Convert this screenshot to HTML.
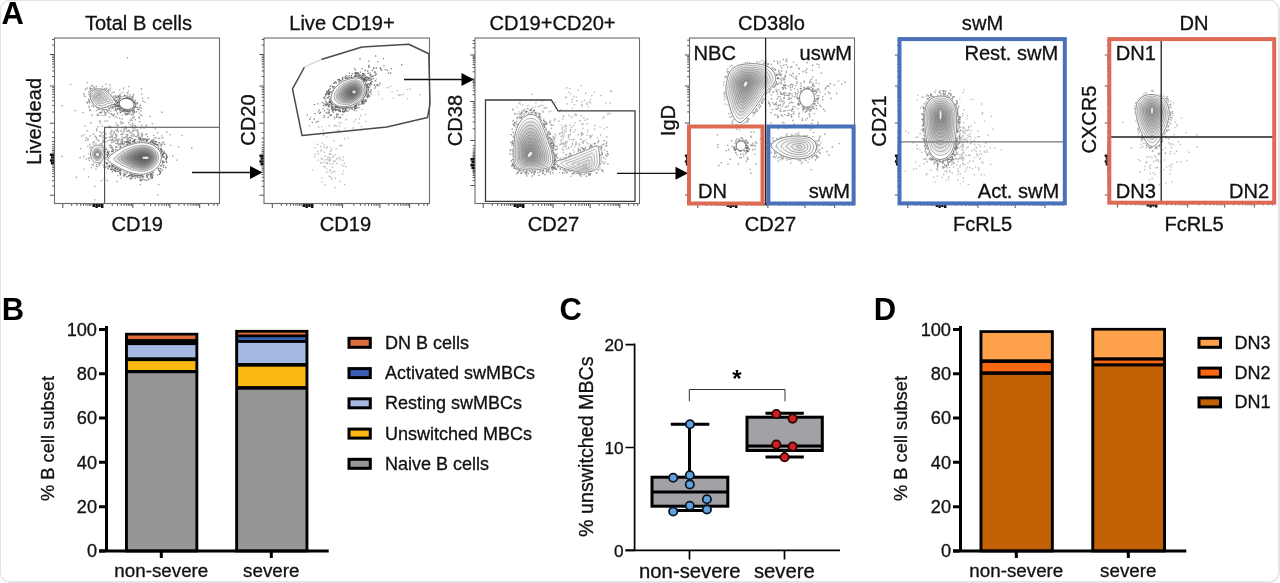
<!DOCTYPE html>
<html lang="en"><head><meta charset="utf-8"><title>B cell subsets figure</title>
<style>html,body{margin:0;padding:0;background:#fff}body{width:1280px;height:583px;overflow:hidden}svg{display:block}svg text{font-family:"Liberation Sans", sans-serif}</style></head><body>
<svg width="1280" height="583" viewBox="0 0 1280 583">
<rect width="1280" height="583" fill="#fff"/>
<rect x="0.5" y="0.5" width="1279" height="582" rx="9.5" ry="9.5" fill="#fff" stroke="#e4e4e4" stroke-width="1"/>
<rect x="0.5" y="0.5" width="1278" height="581" rx="9" ry="9" fill="none" stroke="#e4e4e4" stroke-width="1"/>
<text x="1.5" y="24.4" font-size="31" fill="#000" font-weight="bold">A</text>
<defs><filter id="bl" x="-5%" y="-5%" width="110%" height="110%"><feGaussianBlur stdDeviation="0.45"/></filter></defs>
<text x="138.5" y="30.3" font-size="20.1" fill="#111" text-anchor="middle" stroke="#111" stroke-width=".3">Total B cells</text>
<text x="137.3" y="231" font-size="20.1" fill="#111" text-anchor="middle" stroke="#111" stroke-width=".3">CD19</text>
<text x="41" y="121.5" font-size="20.1" fill="#111" text-anchor="middle" transform="rotate(-90 41 121.5)" stroke="#111" stroke-width=".3">Live/dead</text>
<path d="M54.5 54.5h-4.6M54.5 86h-4.6M54.5 123.2h-4.6M54.5 195.2h-4.6M54.5 45.1h-2.3M54.5 39.5h-2.3M54.5 76.5h-2.3M54.5 71h-2.3M54.5 67.1h-2.3M54.5 64h-2.3M54.5 61.5h-2.3M54.5 59.4h-2.3M54.5 57.6h-2.3M54.5 56h-2.3M54.5 112h-2.3M54.5 105.5h-2.3M54.5 100.8h-2.3M54.5 97.2h-2.3M54.5 94.3h-2.3M54.5 91.8h-2.3M54.5 89.6h-2.3M54.5 87.7h-2.3M54.5 132.3h-2.3M54.5 186h-2.3M54.5 137.7h-2.3M54.5 180.6h-2.3M54.5 141.5h-2.3M54.5 176.7h-2.3M54.5 144.4h-2.3M54.5 173.7h-2.3M54.5 146.8h-2.3M54.5 171.3h-2.3M54.5 148.8h-2.3M54.5 169.3h-2.3M54.5 150.6h-2.3M54.5 167.5h-2.3M54.5 152.1h-2.3M54.5 165.9h-2.3M62.8 203.5v4.6M132.9 203.5v4.6M170 203.5v4.6M199.7 203.5v4.6M208.6 203.5v2.3M213.9 203.5v2.3M217.6 203.5v2.3M71.7 203.5v2.3M112.3 203.5v2.3M76.9 203.5v2.3M117.5 203.5v2.3M80.7 203.5v2.3M121.2 203.5v2.3M83.5 203.5v2.3M124 203.5v2.3M85.9 203.5v2.3M126.4 203.5v2.3M87.9 203.5v2.3M128.3 203.5v2.3M89.6 203.5v2.3M130 203.5v2.3M91.1 203.5v2.3M131.5 203.5v2.3M144.1 203.5v2.3M150.6 203.5v2.3M155.2 203.5v2.3M158.8 203.5v2.3M161.8 203.5v2.3M164.2 203.5v2.3M166.4 203.5v2.3M168.3 203.5v2.3M178.9 203.5v2.3M184.2 203.5v2.3M187.9 203.5v2.3M190.8 203.5v2.3M193.1 203.5v2.3M195.1 203.5v2.3M196.8 203.5v2.3M198.3 203.5v2.3" fill="none" stroke="#3a3a3a" stroke-width="0.9"/>
<path d="M54.5 154.8h-4.6M54.5 157.6h-3.6M54.5 160.4h-4.6M54.5 163.2h-3.6M93.8 203.5v3.6M96.6 203.5v4.6M99.4 203.5v3.6M102.2 203.5v4.6" fill="none" stroke="#111" stroke-width="2.5"/>
<g filter="url(#bl)">
<path d="M138 158.1h1.35v1.35h-1.35zM143.1 147.4h1.35v1.35h-1.35zM133.3 159.9h1.35v1.35h-1.35zM122.9 159.7h1.35v1.35h-1.35zM130.3 178.3h1.35v1.35h-1.35zM121.1 140.7h1.35v1.35h-1.35zM139 165.8h1.35v1.35h-1.35zM160.8 155h1.35v1.35h-1.35zM129.6 155.8h1.35v1.35h-1.35zM127.5 140.1h1.35v1.35h-1.35zM146.3 150.9h1.35v1.35h-1.35zM144.1 164.2h1.35v1.35h-1.35zM139.8 155.1h1.35v1.35h-1.35zM122.2 156.9h1.35v1.35h-1.35zM137.5 152.8h1.35v1.35h-1.35zM149.8 168.7h1.35v1.35h-1.35zM115.1 155.8h1.35v1.35h-1.35zM130.2 131.8h1.35v1.35h-1.35zM105.7 148.4h1.35v1.35h-1.35zM116.1 134.3h1.35v1.35h-1.35zM106.7 120.2h1.35v1.35h-1.35zM134 150.2h1.35v1.35h-1.35zM116.5 170.7h1.35v1.35h-1.35zM142.6 156.5h1.35v1.35h-1.35zM140.7 143.1h1.35v1.35h-1.35zM134.8 145.7h1.35v1.35h-1.35zM95.2 168.4h1.35v1.35h-1.35zM128.8 157.7h1.35v1.35h-1.35zM137.2 156.5h1.35v1.35h-1.35zM139.9 155.4h1.35v1.35h-1.35zM112 156.4h1.35v1.35h-1.35zM129.9 164.9h1.35v1.35h-1.35zM121.4 162.1h1.35v1.35h-1.35zM124.2 158.4h1.35v1.35h-1.35zM156 144.5h1.35v1.35h-1.35zM124.3 161.6h1.35v1.35h-1.35zM137.4 148.5h1.35v1.35h-1.35zM153 168h1.35v1.35h-1.35zM128.1 142h1.35v1.35h-1.35zM136.1 154.5h1.35v1.35h-1.35zM139.9 155.9h1.35v1.35h-1.35zM139.1 141.4h1.35v1.35h-1.35zM117.2 174.9h1.35v1.35h-1.35zM139.3 172.1h1.35v1.35h-1.35zM161.1 150.9h1.35v1.35h-1.35zM111.7 164.5h1.35v1.35h-1.35zM152.6 160.2h1.35v1.35h-1.35zM140 127.3h1.35v1.35h-1.35zM127.1 158.8h1.35v1.35h-1.35zM172 155.3h1.35v1.35h-1.35zM151 156.9h1.35v1.35h-1.35zM117.6 144.2h1.35v1.35h-1.35zM139.3 153h1.35v1.35h-1.35zM147.8 154h1.35v1.35h-1.35zM134.8 169.1h1.35v1.35h-1.35zM149.6 159.7h1.35v1.35h-1.35zM136.9 155.9h1.35v1.35h-1.35zM149.3 172.8h1.35v1.35h-1.35zM162.5 149.9h1.35v1.35h-1.35zM126.5 151.7h1.35v1.35h-1.35zM141.5 136h1.35v1.35h-1.35zM130.1 173.3h1.35v1.35h-1.35zM140.2 166.6h1.35v1.35h-1.35zM117.8 166.1h1.35v1.35h-1.35zM128.2 163.4h1.35v1.35h-1.35zM134.7 157.2h1.35v1.35h-1.35zM153.3 158.4h1.35v1.35h-1.35zM157.5 153.2h1.35v1.35h-1.35zM115.5 153.8h1.35v1.35h-1.35zM124.5 156.6h1.35v1.35h-1.35zM149 172.6h1.35v1.35h-1.35zM104.1 162.1h1.35v1.35h-1.35zM130.1 155.4h1.35v1.35h-1.35zM136.3 149.6h1.35v1.35h-1.35zM159.4 149h1.35v1.35h-1.35zM149.7 173.6h1.35v1.35h-1.35zM132.4 161.6h1.35v1.35h-1.35zM131.7 156.7h1.35v1.35h-1.35zM133.7 152.2h1.35v1.35h-1.35zM163.9 143.8h1.35v1.35h-1.35zM130.7 155.3h1.35v1.35h-1.35zM132.8 165.6h1.35v1.35h-1.35zM144 151.7h1.35v1.35h-1.35zM135.9 153.5h1.35v1.35h-1.35zM134.6 153.6h1.35v1.35h-1.35zM119.1 157.2h1.35v1.35h-1.35zM137.8 138.5h1.35v1.35h-1.35zM130.5 153.4h1.35v1.35h-1.35zM157.8 146.6h1.35v1.35h-1.35zM149.1 165.7h1.35v1.35h-1.35zM137.6 147.5h1.35v1.35h-1.35zM149.4 162.3h1.35v1.35h-1.35zM132.2 172.8h1.35v1.35h-1.35zM155.9 152.6h1.35v1.35h-1.35zM137.9 149.4h1.35v1.35h-1.35zM147.9 158.1h1.35v1.35h-1.35zM116.1 156h1.35v1.35h-1.35zM143.9 145.1h1.35v1.35h-1.35zM109.3 161.1h1.35v1.35h-1.35zM103.4 178.2h1.35v1.35h-1.35zM132.8 153.2h1.35v1.35h-1.35zM122.7 153.8h1.35v1.35h-1.35zM140.8 144.5h1.35v1.35h-1.35zM176.2 159.5h1.35v1.35h-1.35zM123.9 142.3h1.35v1.35h-1.35zM127.4 143.8h1.35v1.35h-1.35zM141.5 170.1h1.35v1.35h-1.35zM146.4 146h1.35v1.35h-1.35zM135 167.9h1.35v1.35h-1.35zM134.5 172.8h1.35v1.35h-1.35zM149.9 158.9h1.35v1.35h-1.35zM146.8 162.1h1.35v1.35h-1.35zM120.4 177.5h1.35v1.35h-1.35zM136.7 153.8h1.35v1.35h-1.35zM138.6 149.5h1.35v1.35h-1.35zM120.1 141.1h1.35v1.35h-1.35zM142.4 156.5h1.35v1.35h-1.35zM123.4 172.3h1.35v1.35h-1.35zM154.5 166.6h1.35v1.35h-1.35zM141.3 145.6h1.35v1.35h-1.35zM139.5 146.6h1.35v1.35h-1.35zM128 150.5h1.35v1.35h-1.35zM136 159.2h1.35v1.35h-1.35zM104 153.7h1.35v1.35h-1.35zM118.8 158.4h1.35v1.35h-1.35zM144.2 159.3h1.35v1.35h-1.35zM101.8 152.7h1.35v1.35h-1.35zM152.4 155.6h1.35v1.35h-1.35zM108.3 158.3h1.35v1.35h-1.35zM150.9 155.1h1.35v1.35h-1.35zM123.6 161.5h1.35v1.35h-1.35zM151.2 176.6h1.35v1.35h-1.35zM140.2 162.5h1.35v1.35h-1.35zM111.9 156.6h1.35v1.35h-1.35zM159.2 137.5h1.35v1.35h-1.35zM162.5 160.3h1.35v1.35h-1.35zM136.9 134.6h1.35v1.35h-1.35zM133.3 140.5h1.35v1.35h-1.35zM135.3 165.4h1.35v1.35h-1.35zM121.4 163.8h1.35v1.35h-1.35zM156.7 154.4h1.35v1.35h-1.35zM128.8 137.2h1.35v1.35h-1.35zM137.1 151.9h1.35v1.35h-1.35zM124.5 148.5h1.35v1.35h-1.35zM127.4 163h1.35v1.35h-1.35zM116.3 180.8h1.35v1.35h-1.35zM159.4 158.4h1.35v1.35h-1.35zM135.4 147.4h1.35v1.35h-1.35zM154.4 143.1h1.35v1.35h-1.35zM138.2 155.4h1.35v1.35h-1.35zM126.2 154.1h1.35v1.35h-1.35zM132.4 143.3h1.35v1.35h-1.35zM128.5 157.3h1.35v1.35h-1.35zM138.1 143.3h1.35v1.35h-1.35zM131.6 168.2h1.35v1.35h-1.35zM132.9 167.7h1.35v1.35h-1.35zM114.6 167.9h1.35v1.35h-1.35zM124.3 150.8h1.35v1.35h-1.35zM166.1 161.7h1.35v1.35h-1.35zM126.6 154.5h1.35v1.35h-1.35zM120.1 151.7h1.35v1.35h-1.35zM143.7 152.3h1.35v1.35h-1.35zM161.9 141.7h1.35v1.35h-1.35zM113.3 140.1h1.35v1.35h-1.35zM134.5 164.7h1.35v1.35h-1.35zM127.3 153.9h1.35v1.35h-1.35zM108.1 158.4h1.35v1.35h-1.35zM150.5 167h1.35v1.35h-1.35zM137.6 136.9h1.35v1.35h-1.35zM139.2 147.4h1.35v1.35h-1.35zM125.2 157.9h1.35v1.35h-1.35zM145.7 160.3h1.35v1.35h-1.35zM128.8 151.9h1.35v1.35h-1.35zM135.6 167.3h1.35v1.35h-1.35zM119.2 158.3h1.35v1.35h-1.35zM117.3 142.7h1.35v1.35h-1.35zM160.7 145.8h1.35v1.35h-1.35zM129.4 164.9h1.35v1.35h-1.35zM143 161.1h1.35v1.35h-1.35zM137.4 135.1h1.35v1.35h-1.35zM130.5 170.8h1.35v1.35h-1.35zM129.4 162.6h1.35v1.35h-1.35zM148.7 170.8h1.35v1.35h-1.35zM132.9 151.8h1.35v1.35h-1.35zM135.4 152.7h1.35v1.35h-1.35zM138.4 143.6h1.35v1.35h-1.35zM158 183.9h1.35v1.35h-1.35zM149.6 154.1h1.35v1.35h-1.35zM144.5 173.5h1.35v1.35h-1.35zM128.4 148.9h1.35v1.35h-1.35zM114.5 157.8h1.35v1.35h-1.35zM154.1 137.6h1.35v1.35h-1.35zM154.4 151.8h1.35v1.35h-1.35zM135.6 166.8h1.35v1.35h-1.35zM147.2 142.2h1.35v1.35h-1.35zM151.3 167.8h1.35v1.35h-1.35zM152.1 159.7h1.35v1.35h-1.35zM153.7 144.5h1.35v1.35h-1.35zM130.3 150.5h1.35v1.35h-1.35zM163.8 151h1.35v1.35h-1.35zM116.8 155.5h1.35v1.35h-1.35zM152.6 150.1h1.35v1.35h-1.35zM146.4 146.9h1.35v1.35h-1.35zM152.9 152.6h1.35v1.35h-1.35zM169.9 144.7h1.35v1.35h-1.35zM163.2 141.8h1.35v1.35h-1.35zM118.5 155.5h1.35v1.35h-1.35zM109.3 165.7h1.35v1.35h-1.35zM151.9 139.2h1.35v1.35h-1.35zM120.7 156h1.35v1.35h-1.35zM137.8 148.9h1.35v1.35h-1.35zM152.3 145.3h1.35v1.35h-1.35zM110.1 165.4h1.35v1.35h-1.35zM102.1 150.3h1.35v1.35h-1.35zM142.4 172.5h1.35v1.35h-1.35zM138.8 147.4h1.35v1.35h-1.35zM133.8 160.3h1.35v1.35h-1.35zM138.7 153.5h1.35v1.35h-1.35zM123.4 147.7h1.35v1.35h-1.35zM112.3 162.5h1.35v1.35h-1.35zM135.2 154.3h1.35v1.35h-1.35zM121.5 162.6h1.35v1.35h-1.35zM110.1 155.5h1.35v1.35h-1.35zM146.6 144.1h1.35v1.35h-1.35zM137 154.9h1.35v1.35h-1.35zM144.9 156.6h1.35v1.35h-1.35zM121.2 166.5h1.35v1.35h-1.35zM126.8 146h1.35v1.35h-1.35zM121 155.6h1.35v1.35h-1.35zM122.9 137.1h1.35v1.35h-1.35zM139.1 137.2h1.35v1.35h-1.35zM109.6 144.6h1.35v1.35h-1.35zM97.3 126.2h1.35v1.35h-1.35zM127 130.7h1.35v1.35h-1.35zM146.8 136h1.35v1.35h-1.35zM102.1 159.3h1.35v1.35h-1.35zM109.5 146.6h1.35v1.35h-1.35zM115.4 138.1h1.35v1.35h-1.35zM108.8 144.7h1.35v1.35h-1.35zM134.5 155.5h1.35v1.35h-1.35zM114.3 137.1h1.35v1.35h-1.35zM115.7 136.1h1.35v1.35h-1.35zM137.9 148.7h1.35v1.35h-1.35zM115.2 143h1.35v1.35h-1.35zM135.4 144.4h1.35v1.35h-1.35zM111.5 134.9h1.35v1.35h-1.35zM107.4 154.4h1.35v1.35h-1.35zM96.8 152.7h1.35v1.35h-1.35zM159.6 143.5h1.35v1.35h-1.35zM122.6 144.5h1.35v1.35h-1.35zM132.1 122.8h1.35v1.35h-1.35zM127.5 144.1h1.35v1.35h-1.35zM130.7 137.4h1.35v1.35h-1.35zM128.8 142.5h1.35v1.35h-1.35zM160.4 144.5h1.35v1.35h-1.35zM110.3 136.3h1.35v1.35h-1.35zM101.5 125.5h1.35v1.35h-1.35zM110.8 141.9h1.35v1.35h-1.35zM105.3 133.1h1.35v1.35h-1.35zM140.7 136.4h1.35v1.35h-1.35zM141.9 134.2h1.35v1.35h-1.35zM111.7 136.3h1.35v1.35h-1.35zM104.4 120.5h1.35v1.35h-1.35zM122 148.7h1.35v1.35h-1.35zM151.6 141h1.35v1.35h-1.35zM80.1 147.9h1.35v1.35h-1.35zM137 154.8h1.35v1.35h-1.35zM109.7 139.2h1.35v1.35h-1.35zM145.7 124.6h1.35v1.35h-1.35zM109.7 131.8h1.35v1.35h-1.35zM123.1 129.3h1.35v1.35h-1.35zM102.4 135h1.35v1.35h-1.35zM111.4 139.6h1.35v1.35h-1.35zM151.6 123h1.35v1.35h-1.35zM141.9 141.7h1.35v1.35h-1.35zM121.2 126.9h1.35v1.35h-1.35zM113.2 141.4h1.35v1.35h-1.35zM95.8 138.1h1.35v1.35h-1.35zM121.3 136.5h1.35v1.35h-1.35zM127.5 138.4h1.35v1.35h-1.35zM126.6 134.7h1.35v1.35h-1.35zM126.4 134.1h1.35v1.35h-1.35zM108.9 125.5h1.35v1.35h-1.35zM126.9 138.8h1.35v1.35h-1.35zM127.3 153.8h1.35v1.35h-1.35zM149.9 154.8h1.35v1.35h-1.35zM159.7 149.6h1.35v1.35h-1.35zM125.7 144.6h1.35v1.35h-1.35zM115 133.6h1.35v1.35h-1.35zM126.9 150.5h1.35v1.35h-1.35zM117.7 138.6h1.35v1.35h-1.35zM115.4 138.4h1.35v1.35h-1.35zM127 136.7h1.35v1.35h-1.35zM110.3 139.7h1.35v1.35h-1.35zM138.3 135.5h1.35v1.35h-1.35zM126.2 138.3h1.35v1.35h-1.35zM132.3 130.3h1.35v1.35h-1.35zM124.9 136h1.35v1.35h-1.35zM115.6 157.2h1.35v1.35h-1.35zM111.9 138.4h1.35v1.35h-1.35zM124 137.1h1.35v1.35h-1.35zM118.7 143.3h1.35v1.35h-1.35zM132 144.7h1.35v1.35h-1.35zM127.9 130.1h1.35v1.35h-1.35zM104.8 137.3h1.35v1.35h-1.35zM129.1 146.3h1.35v1.35h-1.35zM105.2 141.2h1.35v1.35h-1.35zM117.5 140h1.35v1.35h-1.35zM123 151.4h1.35v1.35h-1.35zM92.7 133.6h1.35v1.35h-1.35zM129.6 139.7h1.35v1.35h-1.35zM130.6 134.8h1.35v1.35h-1.35zM125.3 150.9h1.35v1.35h-1.35zM120.8 123.4h1.35v1.35h-1.35zM121.6 133.6h1.35v1.35h-1.35zM111.4 134.8h1.35v1.35h-1.35zM123.4 144.3h1.35v1.35h-1.35zM118.6 143.9h1.35v1.35h-1.35zM129.6 150.2h1.35v1.35h-1.35zM107.5 126.4h1.35v1.35h-1.35zM132 145h1.35v1.35h-1.35zM130.4 136.7h1.35v1.35h-1.35zM125.6 133.7h1.35v1.35h-1.35zM120.5 143.3h1.35v1.35h-1.35zM137.4 131.6h1.35v1.35h-1.35zM99.7 122.4h1.35v1.35h-1.35zM135.8 136h1.35v1.35h-1.35zM132.1 127h1.35v1.35h-1.35zM132.8 133.8h1.35v1.35h-1.35zM134.5 142h1.35v1.35h-1.35zM116.9 141.5h1.35v1.35h-1.35zM123.6 151.7h1.35v1.35h-1.35zM138.8 137.4h1.35v1.35h-1.35zM135.3 126.7h1.35v1.35h-1.35zM131.5 133h1.35v1.35h-1.35zM102.3 131.6h1.35v1.35h-1.35zM137.1 129.3h1.35v1.35h-1.35zM147.9 142.5h1.35v1.35h-1.35zM145.2 133.8h1.35v1.35h-1.35zM132 123.2h1.35v1.35h-1.35zM101.5 144.6h1.35v1.35h-1.35zM144 138.1h1.35v1.35h-1.35zM125.5 141.9h1.35v1.35h-1.35zM84.9 139.8h1.35v1.35h-1.35zM134.4 144.1h1.35v1.35h-1.35zM102.6 139.3h1.35v1.35h-1.35zM106 148.9h1.35v1.35h-1.35zM117.2 142.4h1.35v1.35h-1.35zM149.6 142.1h1.35v1.35h-1.35zM121.7 142.3h1.35v1.35h-1.35zM132.6 127.3h1.35v1.35h-1.35zM157.7 137.7h1.35v1.35h-1.35zM155.1 136.9h1.35v1.35h-1.35zM126.2 140.7h1.35v1.35h-1.35zM123.9 128.1h1.35v1.35h-1.35zM106.6 152.1h1.35v1.35h-1.35zM116.2 139.8h1.35v1.35h-1.35zM135.2 129.3h1.35v1.35h-1.35zM134.7 125.3h1.35v1.35h-1.35zM129.9 136.7h1.35v1.35h-1.35zM144.9 138.3h1.35v1.35h-1.35zM114.9 133.3h1.35v1.35h-1.35zM127 139.7h1.35v1.35h-1.35zM140.4 133.9h1.35v1.35h-1.35zM137.9 143.4h1.35v1.35h-1.35zM146.2 133.2h1.35v1.35h-1.35zM134.7 138.7h1.35v1.35h-1.35zM122.7 146.8h1.35v1.35h-1.35zM134.2 159.6h1.35v1.35h-1.35zM111 130.9h1.35v1.35h-1.35zM100.1 135.3h1.35v1.35h-1.35zM137.9 132.3h1.35v1.35h-1.35zM127.1 145.3h1.35v1.35h-1.35zM133.2 129.8h1.35v1.35h-1.35zM99.1 135.1h1.35v1.35h-1.35zM121.8 138.8h1.35v1.35h-1.35zM117.8 131.2h1.35v1.35h-1.35zM113.3 131.3h1.35v1.35h-1.35zM89.7 135.2h1.35v1.35h-1.35zM122.3 122.2h1.35v1.35h-1.35zM143.3 127.4h1.35v1.35h-1.35zM134.5 135.7h1.35v1.35h-1.35zM117.8 140.2h1.35v1.35h-1.35zM127.7 137.5h1.35v1.35h-1.35zM140.9 124.8h1.35v1.35h-1.35zM81.1 135.3h1.35v1.35h-1.35zM125.9 145.4h1.35v1.35h-1.35zM137.2 143.4h1.35v1.35h-1.35zM139.6 138.4h1.35v1.35h-1.35zM156.9 131.9h1.35v1.35h-1.35zM147.3 144h1.35v1.35h-1.35zM133.3 134.4h1.35v1.35h-1.35zM133.1 129.6h1.35v1.35h-1.35zM141.4 132.6h1.35v1.35h-1.35zM118.8 150.6h1.35v1.35h-1.35zM127.3 140.8h1.35v1.35h-1.35zM143.4 148.3h1.35v1.35h-1.35zM161.3 135.2h1.35v1.35h-1.35zM125.3 146.5h1.35v1.35h-1.35zM127.2 134.2h1.35v1.35h-1.35zM131.4 137.7h1.35v1.35h-1.35zM150.8 158.9h1.35v1.35h-1.35zM127.5 145.1h1.35v1.35h-1.35zM153 135h1.35v1.35h-1.35zM111.6 138.3h1.35v1.35h-1.35zM124.8 141.6h1.35v1.35h-1.35zM124.6 148.7h1.35v1.35h-1.35zM141.4 135.1h1.35v1.35h-1.35zM145.8 125.1h1.35v1.35h-1.35zM102.3 136.8h1.35v1.35h-1.35zM112.4 139.1h1.35v1.35h-1.35zM133.7 139.9h1.35v1.35h-1.35zM116.8 149.5h1.35v1.35h-1.35zM102.1 141.5h1.35v1.35h-1.35zM145.7 145.5h1.35v1.35h-1.35zM136.4 130.2h1.35v1.35h-1.35zM136.4 145.9h1.35v1.35h-1.35zM119.9 155.8h1.35v1.35h-1.35zM145.5 145.2h1.35v1.35h-1.35zM123.9 141h1.35v1.35h-1.35zM146.6 140.2h1.35v1.35h-1.35zM112.5 153.3h1.35v1.35h-1.35zM113.5 131.6h1.35v1.35h-1.35zM131.5 138.1h1.35v1.35h-1.35zM116.1 142.7h1.35v1.35h-1.35zM139.5 145h1.35v1.35h-1.35zM132.4 135.5h1.35v1.35h-1.35zM112.3 141.5h1.35v1.35h-1.35zM129.2 136.8h1.35v1.35h-1.35zM122 140h1.35v1.35h-1.35zM143.6 137.9h1.35v1.35h-1.35zM117.2 129.9h1.35v1.35h-1.35zM120.5 138.8h1.35v1.35h-1.35zM148.6 146h1.35v1.35h-1.35zM166.1 131.3h1.35v1.35h-1.35zM162 137.1h1.35v1.35h-1.35zM129.1 144.3h1.35v1.35h-1.35zM131.7 130.4h1.35v1.35h-1.35zM154.1 140.5h1.35v1.35h-1.35zM125.9 130.5h1.35v1.35h-1.35zM111.4 148.1h1.35v1.35h-1.35zM130 157.5h1.35v1.35h-1.35zM135.7 155.2h1.35v1.35h-1.35zM113.9 137.2h1.35v1.35h-1.35zM100 144.9h1.35v1.35h-1.35zM103.6 140h1.35v1.35h-1.35zM139.3 139.8h1.35v1.35h-1.35zM115.1 151.4h1.35v1.35h-1.35zM125.6 128.4h1.35v1.35h-1.35zM131.6 147.4h1.35v1.35h-1.35zM138.5 138.6h1.35v1.35h-1.35zM122.3 150.3h1.35v1.35h-1.35zM136.5 140.5h1.35v1.35h-1.35zM112.9 133.6h1.35v1.35h-1.35zM121.9 141.2h1.35v1.35h-1.35zM110.6 144.9h1.35v1.35h-1.35zM147.2 139.3h1.35v1.35h-1.35zM127.5 142.9h1.35v1.35h-1.35zM115.4 134.8h1.35v1.35h-1.35zM122 121.9h1.35v1.35h-1.35zM129.7 105.2h1.35v1.35h-1.35zM127.1 106h1.35v1.35h-1.35zM119.9 95.8h1.35v1.35h-1.35zM118.9 98.2h1.35v1.35h-1.35zM131.5 111.1h1.35v1.35h-1.35zM112.1 107.1h1.35v1.35h-1.35zM108.8 97.9h1.35v1.35h-1.35zM115.5 122.4h1.35v1.35h-1.35zM133.5 124.8h1.35v1.35h-1.35zM100 90.8h1.35v1.35h-1.35zM133.5 106.7h1.35v1.35h-1.35zM109.7 126.6h1.35v1.35h-1.35zM103.7 111.1h1.35v1.35h-1.35zM134.4 106h1.35v1.35h-1.35zM116.7 102.1h1.35v1.35h-1.35zM101.1 99.1h1.35v1.35h-1.35zM113.3 102.1h1.35v1.35h-1.35zM130.1 99h1.35v1.35h-1.35zM133.5 110.7h1.35v1.35h-1.35zM112.4 100.4h1.35v1.35h-1.35zM123.3 100h1.35v1.35h-1.35zM127.3 93.2h1.35v1.35h-1.35zM109.6 103.6h1.35v1.35h-1.35zM122.6 96h1.35v1.35h-1.35zM117.6 102.4h1.35v1.35h-1.35zM111 113.4h1.35v1.35h-1.35zM111.6 107.3h1.35v1.35h-1.35zM118.9 108.5h1.35v1.35h-1.35zM118.4 107.2h1.35v1.35h-1.35zM110.6 104.5h1.35v1.35h-1.35zM112.5 102.9h1.35v1.35h-1.35zM132.5 101.2h1.35v1.35h-1.35zM120.8 110.8h1.35v1.35h-1.35zM129.5 94.2h1.35v1.35h-1.35zM133.6 116.1h1.35v1.35h-1.35zM125.7 104.3h1.35v1.35h-1.35zM147.5 97.3h1.35v1.35h-1.35zM107.3 99.6h1.35v1.35h-1.35zM128.5 97.9h1.35v1.35h-1.35zM113.9 105.4h1.35v1.35h-1.35zM142.1 97.5h1.35v1.35h-1.35zM140.1 114.3h1.35v1.35h-1.35zM92.6 97h1.35v1.35h-1.35zM105.4 83.5h1.35v1.35h-1.35zM126.6 97.4h1.35v1.35h-1.35zM128.3 85.9h1.35v1.35h-1.35zM127.6 103.6h1.35v1.35h-1.35zM117.1 113.5h1.35v1.35h-1.35zM123.9 109.8h1.35v1.35h-1.35zM126.5 92h1.35v1.35h-1.35zM117 97.1h1.35v1.35h-1.35zM131.4 120h1.35v1.35h-1.35zM88.6 106.9h1.35v1.35h-1.35zM126.2 104h1.35v1.35h-1.35zM104.6 113.5h1.35v1.35h-1.35zM130.5 126.1h1.35v1.35h-1.35zM115 115.7h1.35v1.35h-1.35zM106.4 105.3h1.35v1.35h-1.35zM122.9 107.2h1.35v1.35h-1.35zM106.2 109.6h1.35v1.35h-1.35zM106.1 98.5h1.35v1.35h-1.35zM97.6 94.5h1.35v1.35h-1.35zM117.7 104.5h1.35v1.35h-1.35zM124.5 95.5h1.35v1.35h-1.35zM131.3 103.4h1.35v1.35h-1.35zM116.2 104.9h1.35v1.35h-1.35zM131.6 125.1h1.35v1.35h-1.35zM118.2 96.3h1.35v1.35h-1.35zM116.8 102.9h1.35v1.35h-1.35zM125.5 102.5h1.35v1.35h-1.35zM131.8 107.9h1.35v1.35h-1.35zM113.6 113.4h1.35v1.35h-1.35zM114.8 99.6h1.35v1.35h-1.35zM115.9 96.6h1.35v1.35h-1.35zM119.1 89.2h1.35v1.35h-1.35zM106.3 95.7h1.35v1.35h-1.35zM131.4 108.8h1.35v1.35h-1.35zM112.8 104.4h1.35v1.35h-1.35zM124 94.9h1.35v1.35h-1.35zM107.3 100.6h1.35v1.35h-1.35zM122.7 104.3h1.35v1.35h-1.35zM123.1 108.5h1.35v1.35h-1.35zM112.5 98.7h1.35v1.35h-1.35zM144.3 101.7h1.35v1.35h-1.35zM122.8 87.6h1.35v1.35h-1.35zM141.1 93.6h1.35v1.35h-1.35zM130.5 118.6h1.35v1.35h-1.35zM109.4 84.3h1.35v1.35h-1.35zM113 101h1.35v1.35h-1.35zM123.7 106h1.35v1.35h-1.35zM118.8 100.6h1.35v1.35h-1.35zM118.6 96.7h1.35v1.35h-1.35zM114.3 103.5h1.35v1.35h-1.35zM94.5 104h1.35v1.35h-1.35zM115.1 103.3h1.35v1.35h-1.35zM89.2 87.1h1.35v1.35h-1.35zM122.8 102.7h1.35v1.35h-1.35zM108.6 96.3h1.35v1.35h-1.35zM108.7 99.1h1.35v1.35h-1.35zM115.1 106h1.35v1.35h-1.35zM121.5 109.8h1.35v1.35h-1.35zM99.4 112.1h1.35v1.35h-1.35zM95.3 99.5h1.35v1.35h-1.35zM104.1 112.3h1.35v1.35h-1.35zM91.5 114.6h1.35v1.35h-1.35zM105.4 114.2h1.35v1.35h-1.35zM138.7 116.5h1.35v1.35h-1.35zM104.3 102.7h1.35v1.35h-1.35zM126.5 102.4h1.35v1.35h-1.35zM100.2 111.4h1.35v1.35h-1.35zM121.9 91.7h1.35v1.35h-1.35zM113.8 105.9h1.35v1.35h-1.35zM117.2 99.2h1.35v1.35h-1.35zM125.4 100.7h1.35v1.35h-1.35zM140.8 88.3h1.35v1.35h-1.35zM120.5 96h1.35v1.35h-1.35zM119.6 103.8h1.35v1.35h-1.35zM105.3 112h1.35v1.35h-1.35zM125.6 112.9h1.35v1.35h-1.35zM114.8 103.3h1.35v1.35h-1.35zM128.8 102.3h1.35v1.35h-1.35zM117.4 96.5h1.35v1.35h-1.35zM140.6 107.6h1.35v1.35h-1.35zM92.2 101.8h1.35v1.35h-1.35zM114.1 109.5h1.35v1.35h-1.35zM129.5 119.8h1.35v1.35h-1.35zM113.4 103.7h1.35v1.35h-1.35zM107.7 90.5h1.35v1.35h-1.35zM114.5 96.3h1.35v1.35h-1.35zM100.1 90.9h1.35v1.35h-1.35zM119.5 93.2h1.35v1.35h-1.35zM149.7 115.7h1.35v1.35h-1.35zM132.9 106h1.35v1.35h-1.35zM103.6 90.3h1.35v1.35h-1.35zM106.6 109.9h1.35v1.35h-1.35zM112.7 115.3h1.35v1.35h-1.35zM131.1 100.8h1.35v1.35h-1.35zM107.3 97.9h1.35v1.35h-1.35zM109 101h1.35v1.35h-1.35zM129.5 106.6h1.35v1.35h-1.35zM129.2 109.8h1.35v1.35h-1.35zM113.1 114.6h1.35v1.35h-1.35zM103.5 114.9h1.35v1.35h-1.35zM97.9 114.7h1.35v1.35h-1.35zM108.9 116.3h1.35v1.35h-1.35zM89 110h1.35v1.35h-1.35zM127.7 90.2h1.35v1.35h-1.35zM109.8 102.8h1.35v1.35h-1.35zM124.3 106.8h1.35v1.35h-1.35zM142.3 100.6h1.35v1.35h-1.35zM133.2 112.2h1.35v1.35h-1.35zM103 100.8h1.35v1.35h-1.35zM129.3 95.7h1.35v1.35h-1.35zM133.1 117h1.35v1.35h-1.35zM108.3 110h1.35v1.35h-1.35zM105.6 106h1.35v1.35h-1.35zM116.6 112.3h1.35v1.35h-1.35zM97.2 113.6h1.35v1.35h-1.35zM137.1 107.1h1.35v1.35h-1.35zM86.7 81.9h1.35v1.35h-1.35zM103.6 97.9h1.35v1.35h-1.35zM114.5 99.9h1.35v1.35h-1.35zM115 95.1h1.35v1.35h-1.35zM120.2 105.8h1.35v1.35h-1.35zM121.5 114.7h1.35v1.35h-1.35zM115.2 99.6h1.35v1.35h-1.35zM132.8 93.8h1.35v1.35h-1.35zM90.2 122.3h1.35v1.35h-1.35zM118 99.9h1.35v1.35h-1.35zM108.7 92.9h1.35v1.35h-1.35zM121.1 151h1.35v1.35h-1.35zM123.5 131.2h1.35v1.35h-1.35zM108.8 136.6h1.35v1.35h-1.35zM128.3 129.4h1.35v1.35h-1.35zM111.7 114.1h1.35v1.35h-1.35zM106 137.4h1.35v1.35h-1.35zM120.3 111.7h1.35v1.35h-1.35zM128 121.9h1.35v1.35h-1.35zM109.8 126.8h1.35v1.35h-1.35zM122.3 132.8h1.35v1.35h-1.35zM116.8 128.2h1.35v1.35h-1.35zM154.7 127.9h1.35v1.35h-1.35zM108.8 116.4h1.35v1.35h-1.35zM136 111.1h1.35v1.35h-1.35zM117.3 124.6h1.35v1.35h-1.35zM116.4 116.9h1.35v1.35h-1.35zM127.4 110.9h1.35v1.35h-1.35zM129.6 111.3h1.35v1.35h-1.35zM134.5 119.1h1.35v1.35h-1.35zM122.3 105.5h1.35v1.35h-1.35zM110.2 110.5h1.35v1.35h-1.35zM111 107.6h1.35v1.35h-1.35zM124.6 125.8h1.35v1.35h-1.35zM125.6 128.1h1.35v1.35h-1.35zM136.2 144.1h1.35v1.35h-1.35zM123.4 109h1.35v1.35h-1.35zM131.8 117.2h1.35v1.35h-1.35zM137.7 133.1h1.35v1.35h-1.35zM120.1 121.8h1.35v1.35h-1.35zM98.7 120.7h1.35v1.35h-1.35zM102.7 141.1h1.35v1.35h-1.35zM99.3 120.6h1.35v1.35h-1.35zM138.7 112.4h1.35v1.35h-1.35zM107 110.8h1.35v1.35h-1.35zM134 127.4h1.35v1.35h-1.35zM125.6 127.1h1.35v1.35h-1.35zM140.3 110.3h1.35v1.35h-1.35zM131 114.1h1.35v1.35h-1.35zM116.7 129.3h1.35v1.35h-1.35zM115.4 129.8h1.35v1.35h-1.35zM119.1 117.6h1.35v1.35h-1.35zM120.3 130.2h1.35v1.35h-1.35zM111.1 129.7h1.35v1.35h-1.35zM117.6 106.2h1.35v1.35h-1.35zM138.9 120.9h1.35v1.35h-1.35zM95.9 128.2h1.35v1.35h-1.35zM121.4 118.3h1.35v1.35h-1.35zM106.2 102.6h1.35v1.35h-1.35zM120.4 121.2h1.35v1.35h-1.35zM128.9 131.5h1.35v1.35h-1.35zM117.3 139.8h1.35v1.35h-1.35zM128 102.1h1.35v1.35h-1.35zM97.3 150.1h1.35v1.35h-1.35zM132.4 112.7h1.35v1.35h-1.35zM110.2 133.6h1.35v1.35h-1.35zM126.1 136.3h1.35v1.35h-1.35zM120.4 133.8h1.35v1.35h-1.35zM84.4 125.5h1.35v1.35h-1.35zM108.2 112.4h1.35v1.35h-1.35zM120.9 130.3h1.35v1.35h-1.35zM138.2 116.8h1.35v1.35h-1.35zM121.7 98.8h1.35v1.35h-1.35zM121.4 152.3h1.35v1.35h-1.35zM99.6 131.1h1.35v1.35h-1.35zM136.6 142.2h1.35v1.35h-1.35zM141.5 114.9h1.35v1.35h-1.35zM118.4 138.7h1.35v1.35h-1.35zM115.1 139.9h1.35v1.35h-1.35zM97 139.5h1.35v1.35h-1.35zM129.5 123.8h1.35v1.35h-1.35zM87.4 138.2h1.35v1.35h-1.35zM95.6 136.7h1.35v1.35h-1.35zM79.4 157h1.35v1.35h-1.35zM83.4 168.5h1.35v1.35h-1.35zM97.7 158.2h1.35v1.35h-1.35zM89.1 143.8h1.35v1.35h-1.35zM95.7 165.6h1.35v1.35h-1.35zM96.1 129.8h1.35v1.35h-1.35zM112.4 166h1.35v1.35h-1.35zM107.4 140.1h1.35v1.35h-1.35zM96.6 114.6h1.35v1.35h-1.35zM106.7 179.8h1.35v1.35h-1.35zM90.8 166.9h1.35v1.35h-1.35zM94.3 135.6h1.35v1.35h-1.35zM104.3 150h1.35v1.35h-1.35zM87.1 145.4h1.35v1.35h-1.35zM94.8 149.2h1.35v1.35h-1.35zM86.4 130.2h1.35v1.35h-1.35zM97.9 139.8h1.35v1.35h-1.35zM110.1 153.6h1.35v1.35h-1.35zM91 150.7h1.35v1.35h-1.35zM98.8 162.4h1.35v1.35h-1.35zM89.8 149h1.35v1.35h-1.35zM87.8 176.2h1.35v1.35h-1.35zM87.1 139.4h1.35v1.35h-1.35zM108.6 151.1h1.35v1.35h-1.35zM115.9 125h1.35v1.35h-1.35zM100.9 133h1.35v1.35h-1.35zM91.3 163.9h1.35v1.35h-1.35zM102.6 136.7h1.35v1.35h-1.35zM94.3 154.4h1.35v1.35h-1.35zM103.4 147.3h1.35v1.35h-1.35zM99.3 135.5h1.35v1.35h-1.35zM99.2 143.8h1.35v1.35h-1.35zM101.9 141.8h1.35v1.35h-1.35zM92.4 142.2h1.35v1.35h-1.35zM93.8 157h1.35v1.35h-1.35zM83.2 155.8h1.35v1.35h-1.35zM93.5 141.1h1.35v1.35h-1.35zM85.6 137.1h1.35v1.35h-1.35zM95.8 151.4h1.35v1.35h-1.35zM89.3 146.8h1.35v1.35h-1.35zM97.8 160.3h1.35v1.35h-1.35zM100.6 179.9h1.35v1.35h-1.35zM85.6 158.1h1.35v1.35h-1.35zM108.6 164.8h1.35v1.35h-1.35zM103.1 89.8h1.35v1.35h-1.35zM75.7 176.6h1.35v1.35h-1.35zM69.9 83.7h1.35v1.35h-1.35zM94.2 185.7h1.35v1.35h-1.35zM92.9 163.2h1.35v1.35h-1.35zM139.7 146h1.35v1.35h-1.35zM94 199.2h1.35v1.35h-1.35zM102.1 107.5h1.35v1.35h-1.35zM61.3 155.8h1.35v1.35h-1.35zM130.3 142.9h1.35v1.35h-1.35zM181.6 135h1.35v1.35h-1.35zM141.9 154.1h1.35v1.35h-1.35zM169.6 134h1.35v1.35h-1.35zM138.7 117.4h1.35v1.35h-1.35zM61.1 105h1.35v1.35h-1.35zM157.1 174.1h1.35v1.35h-1.35zM177.9 146.2h1.35v1.35h-1.35zM126.8 57.1h1.35v1.35h-1.35zM140.6 149.8h1.35v1.35h-1.35zM161.2 111.6h1.35v1.35h-1.35zM83.2 134h1.35v1.35h-1.35zM74.5 109.8h1.35v1.35h-1.35zM82.4 111.9h1.35v1.35h-1.35zM104.1 154.2h1.35v1.35h-1.35zM128.5 161.6h1.35v1.35h-1.35zM191.1 147.6h1.35v1.35h-1.35zM157.3 194.2h1.35v1.35h-1.35zM139.7 183.9h1.35v1.35h-1.35zM95.3 150h1.35v1.35h-1.35zM106.3 151.8h1.35v1.35h-1.35zM132.4 146h1.35v1.35h-1.35z" fill="#666" fill-opacity="0.62"/>
<path d="M121 147.1h1.35v1.35h-1.35zM144.5 141.4h1.35v1.35h-1.35zM161.2 150.4h1.35v1.35h-1.35zM145.9 140.3h1.35v1.35h-1.35zM166.5 156.1h1.35v1.35h-1.35zM165.5 159.1h1.35v1.35h-1.35zM134.5 177.7h1.35v1.35h-1.35zM147.2 174h1.35v1.35h-1.35zM145.9 174.6h1.35v1.35h-1.35zM119.5 149h1.35v1.35h-1.35zM151.5 176.2h1.35v1.35h-1.35zM115.4 146.3h1.35v1.35h-1.35zM107.3 157.1h1.35v1.35h-1.35zM163.1 151.9h1.35v1.35h-1.35zM149.7 141.6h1.35v1.35h-1.35zM146.8 177h1.35v1.35h-1.35zM138.9 174.5h1.35v1.35h-1.35zM110.9 164.2h1.35v1.35h-1.35zM161 148.7h1.35v1.35h-1.35zM135.1 142.3h1.35v1.35h-1.35zM133.6 173.6h1.35v1.35h-1.35zM159.9 150.7h1.35v1.35h-1.35zM106.6 163.2h1.35v1.35h-1.35zM152.6 139.5h1.35v1.35h-1.35zM114.3 166.9h1.35v1.35h-1.35zM151.8 141.3h1.35v1.35h-1.35zM131.4 175.9h1.35v1.35h-1.35zM105.2 156.9h1.35v1.35h-1.35zM142.9 175.8h1.35v1.35h-1.35zM125.1 171.5h1.35v1.35h-1.35zM144.1 142h1.35v1.35h-1.35zM106.7 154h1.35v1.35h-1.35zM123.7 146.5h1.35v1.35h-1.35zM144.2 178.9h1.35v1.35h-1.35zM127.8 141.2h1.35v1.35h-1.35zM134.1 141.3h1.35v1.35h-1.35zM166.3 156.7h1.35v1.35h-1.35zM162.9 152.6h1.35v1.35h-1.35zM160.3 151h1.35v1.35h-1.35zM141.9 141.9h1.35v1.35h-1.35zM134.6 174.2h1.35v1.35h-1.35zM161.8 160.8h1.35v1.35h-1.35zM152.8 141.6h1.35v1.35h-1.35zM106.2 162h1.35v1.35h-1.35zM160.6 150.9h1.35v1.35h-1.35zM112.9 165h1.35v1.35h-1.35zM147.7 174.2h1.35v1.35h-1.35zM108.7 165.1h1.35v1.35h-1.35zM117.9 149.8h1.35v1.35h-1.35zM161.2 143.5h1.35v1.35h-1.35zM116.5 167.2h1.35v1.35h-1.35zM108.8 156.5h1.35v1.35h-1.35zM112.4 165.3h1.35v1.35h-1.35zM126.6 144h1.35v1.35h-1.35zM111 150.5h1.35v1.35h-1.35zM154.5 141.1h1.35v1.35h-1.35zM148.5 138.2h1.35v1.35h-1.35zM158.9 173.4h1.35v1.35h-1.35zM112.4 164.4h1.35v1.35h-1.35zM120 169h1.35v1.35h-1.35zM165.3 166.8h1.35v1.35h-1.35zM147.5 142.9h1.35v1.35h-1.35zM149.9 143.1h1.35v1.35h-1.35zM160.7 152.1h1.35v1.35h-1.35zM143.5 142.3h1.35v1.35h-1.35zM113.8 165.4h1.35v1.35h-1.35zM159.1 170.7h1.35v1.35h-1.35zM142.2 141.9h1.35v1.35h-1.35zM142 137.9h1.35v1.35h-1.35zM114.6 169.4h1.35v1.35h-1.35zM162.8 156.5h1.35v1.35h-1.35zM106 163.2h1.35v1.35h-1.35zM106.5 166h1.35v1.35h-1.35zM116.1 146.3h1.35v1.35h-1.35zM119.4 171.9h1.35v1.35h-1.35zM106.8 163.2h1.35v1.35h-1.35zM127.1 144.2h1.35v1.35h-1.35zM141.6 174.6h1.35v1.35h-1.35zM111.8 164.8h1.35v1.35h-1.35zM123.3 173.8h1.35v1.35h-1.35zM146.7 138.8h1.35v1.35h-1.35zM154.3 141.2h1.35v1.35h-1.35zM162.6 153.6h1.35v1.35h-1.35zM136 174.9h1.35v1.35h-1.35zM163.4 161.7h1.35v1.35h-1.35zM111.4 147h1.35v1.35h-1.35zM106.7 155.2h1.35v1.35h-1.35zM119.4 147.6h1.35v1.35h-1.35zM141.7 176.4h1.35v1.35h-1.35zM107.5 152.9h1.35v1.35h-1.35zM114 169.9h1.35v1.35h-1.35zM120.1 170h1.35v1.35h-1.35zM147.2 142.4h1.35v1.35h-1.35zM145.3 139.2h1.35v1.35h-1.35zM158.1 147.6h1.35v1.35h-1.35zM152.6 142.9h1.35v1.35h-1.35zM158.5 169.9h1.35v1.35h-1.35zM116.4 168.8h1.35v1.35h-1.35zM148.1 179h1.35v1.35h-1.35zM166.1 156.2h1.35v1.35h-1.35zM123.1 175.4h1.35v1.35h-1.35zM112.5 149h1.35v1.35h-1.35zM111.2 166.6h1.35v1.35h-1.35zM155.1 143.5h1.35v1.35h-1.35zM112.6 168.7h1.35v1.35h-1.35zM111.4 168.3h1.35v1.35h-1.35zM162 153.4h1.35v1.35h-1.35zM161.3 153.7h1.35v1.35h-1.35zM143.1 138.4h1.35v1.35h-1.35zM140.5 141.9h1.35v1.35h-1.35zM143.1 139.9h1.35v1.35h-1.35zM119.2 168.7h1.35v1.35h-1.35zM135.9 175.1h1.35v1.35h-1.35zM131.5 174.6h1.35v1.35h-1.35zM115.8 166.6h1.35v1.35h-1.35zM136.8 176.4h1.35v1.35h-1.35zM166 156h1.35v1.35h-1.35zM137.6 174.9h1.35v1.35h-1.35zM126.2 176.1h1.35v1.35h-1.35zM163.4 156.6h1.35v1.35h-1.35zM125.8 145.6h1.35v1.35h-1.35zM122.5 147.4h1.35v1.35h-1.35zM164.4 152.8h1.35v1.35h-1.35zM103.8 162.2h1.35v1.35h-1.35zM113.3 169.7h1.35v1.35h-1.35zM139.3 137.4h1.35v1.35h-1.35zM160 171.1h1.35v1.35h-1.35zM146.5 142.7h1.35v1.35h-1.35zM131.4 143.6h1.35v1.35h-1.35zM112.5 165.2h1.35v1.35h-1.35zM161.5 169.4h1.35v1.35h-1.35zM155.9 141.2h1.35v1.35h-1.35zM118 149.3h1.35v1.35h-1.35zM165.8 157.9h1.35v1.35h-1.35zM162.8 166.5h1.35v1.35h-1.35zM152.7 171.5h1.35v1.35h-1.35zM128.9 142.4h1.35v1.35h-1.35zM129.5 177.4h1.35v1.35h-1.35zM156.2 143.8h1.35v1.35h-1.35zM163.1 164.7h1.35v1.35h-1.35zM149.7 175.4h1.35v1.35h-1.35zM150 143.4h1.35v1.35h-1.35zM165.9 153.9h1.35v1.35h-1.35zM111.1 146.8h1.35v1.35h-1.35zM145.7 142.2h1.35v1.35h-1.35zM126.7 141.9h1.35v1.35h-1.35zM103.2 152.2h1.35v1.35h-1.35zM160.1 165.1h1.35v1.35h-1.35zM122 143.1h1.35v1.35h-1.35zM102.6 157.9h1.35v1.35h-1.35zM101.9 157.2h1.35v1.35h-1.35zM150.2 177.4h1.35v1.35h-1.35zM129.1 144.7h1.35v1.35h-1.35zM151.2 172.6h1.35v1.35h-1.35zM132.4 176h1.35v1.35h-1.35zM139.2 174.8h1.35v1.35h-1.35zM146.3 174.5h1.35v1.35h-1.35zM159.9 150.5h1.35v1.35h-1.35zM150 173.8h1.35v1.35h-1.35zM154 143.2h1.35v1.35h-1.35zM157.5 167.8h1.35v1.35h-1.35zM115.4 167.1h1.35v1.35h-1.35zM138.4 177h1.35v1.35h-1.35zM139.8 138.3h1.35v1.35h-1.35zM116.8 150.5h1.35v1.35h-1.35zM123.2 170.1h1.35v1.35h-1.35zM135.9 174.2h1.35v1.35h-1.35zM162.1 161.7h1.35v1.35h-1.35zM164.9 157.9h1.35v1.35h-1.35zM161.9 156.1h1.35v1.35h-1.35zM119.3 173h1.35v1.35h-1.35zM159.9 168.2h1.35v1.35h-1.35zM140.1 176.1h1.35v1.35h-1.35zM161.6 153.3h1.35v1.35h-1.35zM107.6 157.3h1.35v1.35h-1.35zM120.1 172.6h1.35v1.35h-1.35zM160 148h1.35v1.35h-1.35zM118.1 170.6h1.35v1.35h-1.35zM151.6 141.5h1.35v1.35h-1.35zM162.1 154.6h1.35v1.35h-1.35zM146.3 176.1h1.35v1.35h-1.35zM136.8 141.9h1.35v1.35h-1.35zM165.6 155.5h1.35v1.35h-1.35zM140 178.6h1.35v1.35h-1.35zM158.4 142.1h1.35v1.35h-1.35zM150.3 174.8h1.35v1.35h-1.35zM140.9 180h1.35v1.35h-1.35zM131.2 173.5h1.35v1.35h-1.35zM157.9 167.6h1.35v1.35h-1.35zM103.5 166.5h1.35v1.35h-1.35zM136.4 175.1h1.35v1.35h-1.35zM112.3 150.2h1.35v1.35h-1.35zM131.8 174.1h1.35v1.35h-1.35zM104.5 166.4h1.35v1.35h-1.35zM110 168.6h1.35v1.35h-1.35zM142.3 178.6h1.35v1.35h-1.35zM161.6 163.5h1.35v1.35h-1.35zM119.5 168.5h1.35v1.35h-1.35zM134.1 174h1.35v1.35h-1.35zM129.3 144.2h1.35v1.35h-1.35zM134.6 142.5h1.35v1.35h-1.35zM134.5 175.4h1.35v1.35h-1.35zM157.9 168.4h1.35v1.35h-1.35zM110.7 168.8h1.35v1.35h-1.35zM126 144.6h1.35v1.35h-1.35zM122.1 142.4h1.35v1.35h-1.35zM121.2 169.2h1.35v1.35h-1.35zM114.2 167.6h1.35v1.35h-1.35zM131.7 141.2h1.35v1.35h-1.35zM162 154.6h1.35v1.35h-1.35zM141.2 141.8h1.35v1.35h-1.35zM108.6 166.3h1.35v1.35h-1.35zM129.4 174.8h1.35v1.35h-1.35zM132.1 141h1.35v1.35h-1.35zM139.5 179.8h1.35v1.35h-1.35zM117.5 170.7h1.35v1.35h-1.35zM141 139.9h1.35v1.35h-1.35zM111.7 171h1.35v1.35h-1.35zM116.8 150.4h1.35v1.35h-1.35zM130.3 144.4h1.35v1.35h-1.35zM155.8 141.2h1.35v1.35h-1.35zM107 151.3h1.35v1.35h-1.35zM146 179.7h1.35v1.35h-1.35zM103.3 155.7h1.35v1.35h-1.35zM135.9 174.1h1.35v1.35h-1.35zM111.4 151h1.35v1.35h-1.35zM133.9 141.7h1.35v1.35h-1.35zM116.5 149.7h1.35v1.35h-1.35zM130.8 174.5h1.35v1.35h-1.35zM115.1 149.1h1.35v1.35h-1.35zM133.4 140.8h1.35v1.35h-1.35zM149.9 142.5h1.35v1.35h-1.35zM103.8 166.6h1.35v1.35h-1.35zM111 153.7h1.35v1.35h-1.35zM157.7 148h1.35v1.35h-1.35zM129.7 141.4h1.35v1.35h-1.35zM132.4 143.1h1.35v1.35h-1.35zM133.7 141.9h1.35v1.35h-1.35zM151.8 176.5h1.35v1.35h-1.35zM134.3 142h1.35v1.35h-1.35zM120.2 143.2h1.35v1.35h-1.35zM152.6 171.7h1.35v1.35h-1.35zM136.4 174.4h1.35v1.35h-1.35zM99.1 162.5h1.35v1.35h-1.35zM126.6 172.2h1.35v1.35h-1.35zM152.4 174.4h1.35v1.35h-1.35zM107.8 152.4h1.35v1.35h-1.35zM150.8 140.1h1.35v1.35h-1.35zM123.6 174.9h1.35v1.35h-1.35zM151.6 177.3h1.35v1.35h-1.35zM108.9 154.6h1.35v1.35h-1.35zM133.8 139.3h1.35v1.35h-1.35zM101.8 156.9h1.35v1.35h-1.35zM129.4 139.5h1.35v1.35h-1.35zM136.7 174.4h1.35v1.35h-1.35zM141.2 138.9h1.35v1.35h-1.35zM113.3 151.6h1.35v1.35h-1.35zM140.2 174.7h1.35v1.35h-1.35zM100.5 156.6h1.35v1.35h-1.35zM113 169h1.35v1.35h-1.35zM125.9 141.3h1.35v1.35h-1.35zM100.9 161.1h1.35v1.35h-1.35zM112.6 165.3h1.35v1.35h-1.35zM151.2 173.9h1.35v1.35h-1.35zM160.9 152.7h1.35v1.35h-1.35zM131.1 177.2h1.35v1.35h-1.35zM119.7 146.3h1.35v1.35h-1.35zM111.6 164.3h1.35v1.35h-1.35zM159.6 172.5h1.35v1.35h-1.35zM117.6 167.9h1.35v1.35h-1.35zM115.1 171.2h1.35v1.35h-1.35zM153.2 144.3h1.35v1.35h-1.35zM118.5 168.9h1.35v1.35h-1.35zM119.8 170.1h1.35v1.35h-1.35zM160.4 164.9h1.35v1.35h-1.35zM138.5 141h1.35v1.35h-1.35zM117.4 149.9h1.35v1.35h-1.35zM159.4 149.7h1.35v1.35h-1.35zM157.4 145h1.35v1.35h-1.35zM117 167.1h1.35v1.35h-1.35zM124.9 173.9h1.35v1.35h-1.35zM119.8 145.4h1.35v1.35h-1.35zM129.2 172.8h1.35v1.35h-1.35zM124.9 173.8h1.35v1.35h-1.35zM119.9 174.2h1.35v1.35h-1.35zM118.8 169.2h1.35v1.35h-1.35zM165.7 160.9h1.35v1.35h-1.35zM114.8 170h1.35v1.35h-1.35zM148.1 178.6h1.35v1.35h-1.35zM161.5 154.6h1.35v1.35h-1.35zM133.4 175.3h1.35v1.35h-1.35zM129.1 143.7h1.35v1.35h-1.35zM127.9 175.3h1.35v1.35h-1.35zM133.3 139.3h1.35v1.35h-1.35zM107.3 167.8h1.35v1.35h-1.35zM142.3 175.7h1.35v1.35h-1.35zM151.2 143.6h1.35v1.35h-1.35zM157.4 147.8h1.35v1.35h-1.35zM157.3 144.2h1.35v1.35h-1.35zM128.4 175h1.35v1.35h-1.35z" fill="#3a3a3a" fill-opacity="0.7"/>
<path d="M107.8 159.5L108.5 157.5L110.6 155.4L113.3 153.4L116 151.5L118.7 149.8L121.7 148.2L124.8 146.7L128 145.5L131.2 144.4L134.6 143.6L137.9 142.9L141 142.6L144 142.7L146.9 143.1L149.6 143.7L152 144.6L154.2 145.8L156.2 147.2L157.9 148.8L159.3 150.5L160.3 152.3L160.9 154.1L161.3 156.1L161.3 158L161 160L160.5 162.1L159.6 164.1L158.5 166L157 167.7L155.2 169.4L153.2 170.8L151 172L148.7 172.9L146.3 173.7L143.7 174.1L141 174.3L138.1 174.1L135.1 173.6L132 172.9L129 172L125.9 170.9L122.8 169.5L119.8 168.1L117 166.5L114.1 164.9L111.1 163.2L108.8 161.4Z" fill="#fff" stroke="#fff" stroke-width="1.6"/>
<path d="M107.8 159.5L108.5 157.5L110.6 155.4L113.3 153.4L116 151.5L118.7 149.8L121.7 148.2L124.8 146.7L128 145.5L131.2 144.4L134.6 143.6L137.9 142.9L141 142.6L144 142.7L146.9 143.1L149.6 143.7L152 144.6L154.2 145.8L156.2 147.2L157.9 148.8L159.3 150.5L160.3 152.3L160.9 154.1L161.3 156.1L161.3 158L161 160L160.5 162.1L159.6 164.1L158.5 166L157 167.7L155.2 169.4L153.2 170.8L151 172L148.7 172.9L146.3 173.7L143.7 174.1L141 174.3L138.1 174.1L135.1 173.6L132 172.9L129 172L125.9 170.9L122.8 169.5L119.8 168.1L117 166.5L114.1 164.9L111.1 163.2L108.8 161.4Z" fill="none" stroke="#6a6a6a" stroke-width="0.8"/>
<path d="M114 159.2L114.7 157.5L116.4 155.8L118.6 154.1L120.9 152.5L123.1 151.1L125.6 149.7L128.2 148.5L130.9 147.5L133.5 146.6L136.3 145.9L139.1 145.4L141.7 145.1L144.1 145.2L146.5 145.5L148.8 146L150.8 146.8L152.7 147.7L154.3 148.9L155.8 150.3L156.9 151.7L157.7 153.1L158.3 154.7L158.5 156.3L158.6 157.9L158.4 159.6L157.9 161.3L157.2 163L156.2 164.6L155 166L153.5 167.4L151.8 168.6L150 169.6L148.1 170.3L146.1 171L143.9 171.3L141.7 171.5L139.3 171.3L136.8 170.9L134.2 170.3L131.7 169.6L129.1 168.6L126.6 167.5L124 166.3L121.7 165L119.3 163.6L116.8 162.2L114.9 160.7Z" fill="#383838" fill-opacity="0.145" stroke="#6a6a6a" stroke-width="0.6" stroke-opacity=".8"/>
<path d="M118 159L118.5 157.5L120 156L121.9 154.5L123.9 153.1L125.9 151.9L128.1 150.7L130.3 149.7L132.6 148.8L135 148L137.4 147.4L139.8 146.9L142.1 146.7L144.3 146.7L146.3 147L148.3 147.5L150.1 148.1L151.7 149L153.2 150L154.4 151.2L155.4 152.4L156.1 153.7L156.6 155L156.8 156.4L156.9 157.9L156.7 159.3L156.3 160.8L155.6 162.3L154.8 163.7L153.7 164.9L152.4 166.1L150.9 167.2L149.4 168L147.7 168.7L145.9 169.3L144.1 169.6L142.1 169.7L140 169.6L137.8 169.2L135.6 168.7L133.4 168L131.1 167.2L128.9 166.3L126.7 165.2L124.6 164L122.5 162.9L120.4 161.6L118.7 160.3Z" fill="#383838" fill-opacity="0.145" stroke="#6a6a6a" stroke-width="0.6" stroke-opacity=".8"/>
<path d="M121.3 158.8L121.8 157.5L123.1 156.2L124.8 154.9L126.5 153.7L128.2 152.6L130.1 151.6L132.1 150.6L134.2 149.8L136.2 149.2L138.3 148.6L140.5 148.2L142.4 148L144.3 148L146.2 148.3L147.9 148.7L149.5 149.3L150.9 150L152.1 150.9L153.2 152L154.1 153L154.7 154.2L155.2 155.3L155.4 156.6L155.4 157.8L155.2 159.1L154.9 160.4L154.3 161.7L153.6 162.9L152.7 164L151.5 165.1L150.2 166L148.8 166.7L147.4 167.3L145.8 167.8L144.2 168.1L142.4 168.2L140.6 168.1L138.7 167.8L136.7 167.3L134.8 166.7L132.8 166L130.9 165.2L128.9 164.2L127.1 163.2L125.3 162.2L123.4 161.1L121.9 160Z" fill="#383838" fill-opacity="0.145" stroke="#6a6a6a" stroke-width="0.6" stroke-opacity=".8"/>
<path d="M124.3 158.6L124.7 157.5L125.8 156.4L127.3 155.2L128.9 154.2L130.4 153.2L132 152.3L133.8 151.5L135.5 150.8L137.3 150.2L139.2 149.7L141 149.4L142.8 149.2L144.4 149.2L146 149.5L147.5 149.8L148.9 150.3L150.1 151L151.2 151.8L152.2 152.7L153 153.6L153.5 154.6L153.9 155.6L154.1 156.7L154.1 157.8L153.9 158.9L153.6 160.1L153.2 161.2L152.5 162.2L151.7 163.2L150.7 164.1L149.5 164.9L148.3 165.6L147.1 166.1L145.7 166.5L144.3 166.8L142.8 166.9L141.2 166.8L139.5 166.5L137.8 166.1L136.1 165.6L134.4 165L132.7 164.2L131 163.4L129.4 162.5L127.8 161.6L126.1 160.6L124.9 159.6Z" fill="#383838" fill-opacity="0.145" stroke="#6a6a6a" stroke-width="0.6" stroke-opacity=".8"/>
<path d="M127.1 158.5L127.4 157.5L128.4 156.5L129.7 155.5L131 154.6L132.3 153.8L133.8 153L135.3 152.3L136.8 151.7L138.4 151.2L140 150.8L141.6 150.5L143.1 150.3L144.5 150.4L145.9 150.5L147.2 150.9L148.4 151.3L149.4 151.8L150.4 152.5L151.2 153.3L151.9 154.1L152.4 155L152.7 155.9L152.8 156.8L152.9 157.7L152.7 158.7L152.5 159.7L152.1 160.7L151.5 161.6L150.8 162.4L149.9 163.2L148.9 163.9L147.9 164.5L146.8 164.9L145.6 165.3L144.4 165.5L143.1 165.6L141.7 165.5L140.2 165.3L138.8 164.9L137.3 164.5L135.8 163.9L134.3 163.3L132.9 162.6L131.5 161.8L130.1 161.1L128.7 160.2L127.6 159.4Z" fill="#383838" fill-opacity="0.145" stroke="#6a6a6a" stroke-width="0.6" stroke-opacity=".8"/>
<path d="M129.7 158.3L130 157.5L130.8 156.7L132 155.8L133.1 155L134.2 154.3L135.4 153.7L136.7 153.1L138 152.6L139.3 152.1L140.7 151.8L142.1 151.5L143.4 151.4L144.6 151.4L145.8 151.6L146.9 151.8L147.9 152.2L148.8 152.7L149.6 153.3L150.3 153.9L150.9 154.6L151.3 155.3L151.6 156.1L151.7 156.9L151.7 157.7L151.6 158.5L151.4 159.4L151 160.2L150.6 161L149.9 161.7L149.2 162.4L148.4 163L147.5 163.5L146.5 163.9L145.5 164.1L144.5 164.3L143.4 164.4L142.2 164.3L140.9 164.1L139.7 163.8L138.4 163.5L137.2 163L135.9 162.5L134.6 161.8L133.5 161.2L132.3 160.5L131.1 159.8L130.1 159.1Z" fill="#383838" fill-opacity="0.145" stroke="#6a6a6a" stroke-width="0.6" stroke-opacity=".8"/>
<path d="M132.2 158.2L132.5 157.5L133.2 156.8L134.1 156.1L135 155.4L136 154.8L137 154.3L138.1 153.8L139.2 153.4L140.3 153L141.4 152.7L142.5 152.5L143.6 152.4L144.6 152.4L145.6 152.5L146.6 152.8L147.4 153.1L148.2 153.5L148.9 154L149.5 154.5L149.9 155.1L150.3 155.7L150.5 156.3L150.6 157L150.6 157.7L150.5 158.4L150.3 159.1L150 159.8L149.6 160.4L149.1 161L148.5 161.6L147.8 162.1L147.1 162.5L146.3 162.8L145.4 163.1L144.6 163.2L143.6 163.3L142.6 163.2L141.6 163.1L140.5 162.8L139.5 162.5L138.4 162.1L137.4 161.6L136.3 161.1L135.4 160.6L134.4 160L133.3 159.4L132.5 158.8Z" fill="#383838" fill-opacity="0.145" stroke="#6a6a6a" stroke-width="0.6" stroke-opacity=".8"/>
<path d="M134.6 158.1L134.8 157.5L135.4 156.9L136.1 156.3L136.9 155.8L137.6 155.3L138.5 154.9L139.4 154.5L140.2 154.1L141.1 153.8L142.1 153.6L143 153.4L143.9 153.3L144.7 153.3L145.5 153.5L146.3 153.6L147 153.9L147.6 154.2L148.1 154.6L148.6 155.1L149 155.5L149.3 156L149.5 156.6L149.6 157.1L149.6 157.6L149.5 158.2L149.3 158.8L149.1 159.4L148.8 159.9L148.4 160.4L147.9 160.8L147.3 161.2L146.7 161.6L146 161.8L145.4 162L144.6 162.2L143.9 162.2L143.1 162.2L142.2 162L141.4 161.8L140.5 161.6L139.7 161.2L138.8 160.9L137.9 160.5L137.2 160L136.4 159.6L135.5 159.1L134.9 158.6Z" fill="#383838" fill-opacity="0.145" stroke="#6a6a6a" stroke-width="0.6" stroke-opacity=".8"/>
<path d="M136.9 157.9L137.1 157.5L137.5 157.1L138.1 156.6L138.7 156.2L139.3 155.8L139.9 155.5L140.6 155.2L141.3 154.9L142 154.7L142.7 154.5L143.4 154.3L144.1 154.3L144.8 154.3L145.4 154.4L146 154.5L146.5 154.7L147 154.9L147.4 155.3L147.8 155.6L148.1 156L148.3 156.4L148.5 156.8L148.5 157.2L148.6 157.6L148.5 158L148.4 158.5L148.2 158.9L147.9 159.4L147.6 159.7L147.2 160.1L146.8 160.4L146.3 160.7L145.8 160.9L145.3 161L144.7 161.1L144.1 161.2L143.5 161.1L142.8 161L142.2 160.9L141.5 160.7L140.8 160.4L140.2 160.1L139.5 159.8L138.9 159.5L138.3 159.1L137.6 158.7L137.1 158.3Z" fill="#383838" fill-opacity="0.145" stroke="#6a6a6a" stroke-width="0.6" stroke-opacity=".8"/>
<path d="M139.1 157.8L139.2 157.5L139.6 157.2L140 156.8L140.4 156.6L140.8 156.3L141.3 156L141.8 155.8L142.3 155.6L142.8 155.4L143.3 155.3L143.9 155.2L144.4 155.1L144.8 155.2L145.3 155.2L145.7 155.3L146.1 155.5L146.5 155.6L146.8 155.9L147 156.1L147.3 156.4L147.4 156.7L147.5 157L147.6 157.3L147.6 157.6L147.5 157.9L147.4 158.2L147.3 158.5L147.1 158.8L146.9 159.1L146.6 159.4L146.3 159.6L145.9 159.8L145.6 159.9L145.2 160.1L144.8 160.1L144.4 160.2L143.9 160.1L143.4 160.1L143 159.9L142.5 159.8L142 159.6L141.5 159.4L141 159.2L140.6 158.9L140.1 158.7L139.6 158.4L139.3 158.1Z" fill="#383838" fill-opacity="0.145" stroke="#6a6a6a" stroke-width="0.6" stroke-opacity=".8"/>
<path d="M141.3 157.7L141.4 157.5L141.6 157.3L141.8 157.1L142.1 156.9L142.4 156.7L142.7 156.6L143 156.4L143.3 156.3L143.6 156.2L144 156.1L144.3 156L144.6 156L144.9 156L145.2 156.1L145.5 156.1L145.7 156.2L145.9 156.3L146.1 156.5L146.3 156.6L146.4 156.8L146.5 157L146.6 157.2L146.6 157.4L146.6 157.6L146.6 157.8L146.5 158L146.5 158.2L146.3 158.3L146.2 158.5L146 158.7L145.8 158.8L145.6 158.9L145.4 159L145.1 159.1L144.9 159.2L144.6 159.2L144.3 159.2L144 159.1L143.7 159L143.4 158.9L143.1 158.8L142.8 158.7L142.5 158.6L142.2 158.4L141.9 158.2L141.6 158.1L141.4 157.9Z" fill="#383838" fill-opacity="0.145" stroke="#6a6a6a" stroke-width="0.6" stroke-opacity=".8"/>
<ellipse cx="145.5" cy="157.7" rx="3.2" ry="1.3" transform="rotate(0 145.5 157.7)" fill="#fff" fill-opacity="0.85"/>
<path d="M90.9 148.5h1.35v1.35h-1.35zM101.8 146.6h1.35v1.35h-1.35zM106.7 155.3h1.35v1.35h-1.35zM90.7 147.5h1.35v1.35h-1.35zM104.1 148.8h1.35v1.35h-1.35zM92.8 144.2h1.35v1.35h-1.35zM96.6 165.9h1.35v1.35h-1.35zM89.3 157.6h1.35v1.35h-1.35zM97.3 144.7h1.35v1.35h-1.35zM95.4 143.3h1.35v1.35h-1.35zM105.5 147.5h1.35v1.35h-1.35zM103.2 147.4h1.35v1.35h-1.35zM94.7 143.4h1.35v1.35h-1.35zM94.5 145.1h1.35v1.35h-1.35zM106.6 154.3h1.35v1.35h-1.35zM99.7 163h1.35v1.35h-1.35zM87.8 153.2h1.35v1.35h-1.35zM104 145.2h1.35v1.35h-1.35zM87.9 158.1h1.35v1.35h-1.35zM98.4 163.5h1.35v1.35h-1.35zM100.8 145h1.35v1.35h-1.35zM98.4 164.8h1.35v1.35h-1.35zM91.8 147.9h1.35v1.35h-1.35zM103.4 145.7h1.35v1.35h-1.35zM104.6 153.5h1.35v1.35h-1.35zM90.6 148.2h1.35v1.35h-1.35zM87.9 157.4h1.35v1.35h-1.35zM100.7 142.9h1.35v1.35h-1.35zM102.9 146.3h1.35v1.35h-1.35zM103.2 148.6h1.35v1.35h-1.35zM95.9 163.7h1.35v1.35h-1.35zM90.6 157.7h1.35v1.35h-1.35zM105.1 158.9h1.35v1.35h-1.35zM92.6 165.2h1.35v1.35h-1.35zM90.8 145.9h1.35v1.35h-1.35zM104.6 150.8h1.35v1.35h-1.35zM106.8 150.4h1.35v1.35h-1.35zM102.4 164.6h1.35v1.35h-1.35zM88.7 160.1h1.35v1.35h-1.35zM98.2 163.9h1.35v1.35h-1.35z" fill="#666" fill-opacity="0.5"/>
<path d="M104.1 154L104.1 155L103.9 156L103.7 156.9L103.4 157.8L103.1 158.7L102.6 159.5L102.1 160.2L101.5 160.9L100.9 161.4L100.2 161.9L99.5 162.3L98.8 162.6L98.1 162.7L97.3 162.8L96.5 162.7L95.8 162.6L95.1 162.3L94.4 161.9L93.7 161.4L93.1 160.9L92.5 160.2L92 159.5L91.5 158.7L91.2 157.8L90.9 156.9L90.7 156L90.5 155L90.5 154L90.5 153L90.7 152L90.9 151.1L91.2 150.2L91.5 149.3L92 148.5L92.5 147.8L93.1 147.1L93.7 146.6L94.4 146.1L95.1 145.7L95.8 145.4L96.5 145.3L97.3 145.2L98.1 145.3L98.8 145.4L99.5 145.7L100.2 146.1L100.9 146.6L101.5 147.1L102.1 147.8L102.6 148.5L103.1 149.3L103.4 150.2L103.7 151.1L103.9 152L104.1 153Z" fill="#fff" stroke="#fff" stroke-width="1.6"/>
<path d="M104.1 154L104.1 155L103.9 156L103.7 156.9L103.4 157.8L103.1 158.7L102.6 159.5L102.1 160.2L101.5 160.9L100.9 161.4L100.2 161.9L99.5 162.3L98.8 162.6L98.1 162.7L97.3 162.8L96.5 162.7L95.8 162.6L95.1 162.3L94.4 161.9L93.7 161.4L93.1 160.9L92.5 160.2L92 159.5L91.5 158.7L91.2 157.8L90.9 156.9L90.7 156L90.5 155L90.5 154L90.5 153L90.7 152L90.9 151.1L91.2 150.2L91.5 149.3L92 148.5L92.5 147.8L93.1 147.1L93.7 146.6L94.4 146.1L95.1 145.7L95.8 145.4L96.5 145.3L97.3 145.2L98.1 145.3L98.8 145.4L99.5 145.7L100.2 146.1L100.9 146.6L101.5 147.1L102.1 147.8L102.6 148.5L103.1 149.3L103.4 150.2L103.7 151.1L103.9 152L104.1 153Z" fill="none" stroke="#6a6a6a" stroke-width="0.8"/>
<path d="M102.4 154.1L102.4 154.9L102.3 155.6L102.1 156.3L101.9 157L101.7 157.6L101.3 158.2L100.9 158.8L100.5 159.3L100.1 159.7L99.6 160L99 160.3L98.5 160.5L97.9 160.7L97.4 160.7L96.8 160.7L96.2 160.5L95.7 160.3L95.1 160L94.6 159.7L94.2 159.3L93.8 158.8L93.4 158.2L93 157.6L92.8 157L92.6 156.3L92.4 155.6L92.3 154.9L92.3 154.1L92.3 153.4L92.4 152.7L92.6 151.9L92.8 151.3L93 150.6L93.4 150L93.8 149.5L94.2 149L94.6 148.6L95.1 148.2L95.7 147.9L96.2 147.7L96.8 147.6L97.4 147.6L97.9 147.6L98.5 147.7L99 147.9L99.6 148.2L100.1 148.6L100.5 149L100.9 149.5L101.3 150L101.7 150.6L101.9 151.3L102.1 151.9L102.3 152.7L102.4 153.4Z" fill="#383838" fill-opacity="0.128" stroke="#6a6a6a" stroke-width="0.6" stroke-opacity=".8"/>
<path d="M101.4 154.2L101.4 154.8L101.3 155.4L101.2 155.9L101 156.5L100.8 157L100.5 157.4L100.2 157.9L99.9 158.3L99.5 158.6L99.1 158.9L98.7 159.1L98.3 159.3L97.8 159.4L97.4 159.4L96.9 159.4L96.5 159.3L96.1 159.1L95.6 158.9L95.2 158.6L94.9 158.3L94.6 157.9L94.3 157.4L94 157L93.8 156.5L93.6 155.9L93.5 155.4L93.4 154.8L93.4 154.2L93.4 153.6L93.5 153.1L93.6 152.5L93.8 152L94 151.5L94.3 151L94.6 150.5L94.9 150.2L95.2 149.8L95.6 149.5L96.1 149.3L96.5 149.1L96.9 149.1L97.4 149L97.8 149.1L98.3 149.1L98.7 149.3L99.1 149.5L99.5 149.8L99.9 150.2L100.2 150.5L100.5 151L100.8 151.5L101 152L101.2 152.5L101.3 153.1L101.4 153.6Z" fill="#383838" fill-opacity="0.128" stroke="#6a6a6a" stroke-width="0.6" stroke-opacity=".8"/>
<path d="M100.5 154.3L100.5 154.7L100.4 155.2L100.3 155.6L100.2 156L100 156.4L99.8 156.8L99.6 157.1L99.3 157.4L99.1 157.7L98.7 157.9L98.4 158L98.1 158.2L97.8 158.2L97.4 158.3L97.1 158.2L96.7 158.2L96.4 158L96.1 157.9L95.8 157.7L95.5 157.4L95.2 157.1L95 156.8L94.8 156.4L94.6 156L94.5 155.6L94.4 155.2L94.3 154.7L94.3 154.3L94.3 153.8L94.4 153.4L94.5 152.9L94.6 152.5L94.8 152.2L95 151.8L95.2 151.4L95.5 151.1L95.8 150.9L96.1 150.7L96.4 150.5L96.7 150.4L97.1 150.3L97.4 150.3L97.8 150.3L98.1 150.4L98.4 150.5L98.7 150.7L99.1 150.9L99.3 151.1L99.6 151.4L99.8 151.8L100 152.2L100.2 152.5L100.3 152.9L100.4 153.4L100.5 153.8Z" fill="#383838" fill-opacity="0.128" stroke="#6a6a6a" stroke-width="0.6" stroke-opacity=".8"/>
<path d="M99.7 154.3L99.7 154.7L99.6 155L99.6 155.3L99.5 155.6L99.4 155.9L99.2 156.2L99 156.4L98.8 156.6L98.6 156.8L98.4 157L98.2 157.1L97.9 157.2L97.7 157.2L97.4 157.3L97.2 157.2L96.9 157.2L96.7 157.1L96.5 157L96.2 156.8L96 156.6L95.8 156.4L95.7 156.2L95.5 155.9L95.4 155.6L95.3 155.3L95.2 155L95.2 154.7L95.2 154.3L95.2 154L95.2 153.7L95.3 153.4L95.4 153.1L95.5 152.8L95.7 152.5L95.8 152.3L96 152L96.2 151.9L96.5 151.7L96.7 151.6L96.9 151.5L97.2 151.4L97.4 151.4L97.7 151.4L97.9 151.5L98.2 151.6L98.4 151.7L98.6 151.9L98.8 152L99 152.3L99.2 152.5L99.4 152.8L99.5 153.1L99.6 153.4L99.6 153.7L99.7 154Z" fill="#383838" fill-opacity="0.128" stroke="#6a6a6a" stroke-width="0.6" stroke-opacity=".8"/>
<path d="M99 154.4L98.9 154.6L98.9 154.8L98.9 155L98.8 155.2L98.7 155.4L98.6 155.6L98.5 155.8L98.4 155.9L98.3 156L98.1 156.1L97.9 156.2L97.8 156.3L97.6 156.3L97.5 156.3L97.3 156.3L97.1 156.3L97 156.2L96.8 156.1L96.7 156L96.5 155.9L96.4 155.8L96.3 155.6L96.2 155.4L96.1 155.2L96 155L96 154.8L96 154.6L96 154.4L96 154.2L96 154L96 153.7L96.1 153.6L96.2 153.4L96.3 153.2L96.4 153L96.5 152.9L96.7 152.8L96.8 152.6L97 152.6L97.1 152.5L97.3 152.5L97.5 152.5L97.6 152.5L97.8 152.5L97.9 152.6L98.1 152.6L98.3 152.8L98.4 152.9L98.5 153L98.6 153.2L98.7 153.4L98.8 153.6L98.9 153.7L98.9 154L98.9 154.2Z" fill="#383838" fill-opacity="0.128" stroke="#6a6a6a" stroke-width="0.6" stroke-opacity=".8"/>
<ellipse cx="97.5" cy="154.5" rx="1.5" ry="1.8" transform="rotate(0 97.5 154.5)" fill="#fff" fill-opacity="0.85"/>
<path d="M105.7 88.4h1.35v1.35h-1.35zM116.9 102.6h1.35v1.35h-1.35zM89.4 89.4h1.35v1.35h-1.35zM95.7 109.9h1.35v1.35h-1.35zM108.7 107.2h1.35v1.35h-1.35zM83.2 92.9h1.35v1.35h-1.35zM117.1 104.2h1.35v1.35h-1.35zM103.6 88h1.35v1.35h-1.35zM119 102.7h1.35v1.35h-1.35zM84.8 88.8h1.35v1.35h-1.35zM89.6 90.6h1.35v1.35h-1.35zM103.3 109.5h1.35v1.35h-1.35zM116.4 105.5h1.35v1.35h-1.35zM90.9 85.1h1.35v1.35h-1.35zM111.5 91.9h1.35v1.35h-1.35zM92.9 104.2h1.35v1.35h-1.35zM113.4 97.9h1.35v1.35h-1.35zM89.4 95.9h1.35v1.35h-1.35zM86.8 102.3h1.35v1.35h-1.35zM105.6 88.3h1.35v1.35h-1.35zM115.5 110.5h1.35v1.35h-1.35zM88.5 101.1h1.35v1.35h-1.35zM96.6 88.6h1.35v1.35h-1.35zM95.6 88.1h1.35v1.35h-1.35zM110.3 93.9h1.35v1.35h-1.35zM95.6 85.8h1.35v1.35h-1.35zM100.8 111.8h1.35v1.35h-1.35zM112 105.3h1.35v1.35h-1.35zM104.2 89.3h1.35v1.35h-1.35zM116.4 105.9h1.35v1.35h-1.35zM93 106.2h1.35v1.35h-1.35zM109.4 89.6h1.35v1.35h-1.35zM120.4 101.7h1.35v1.35h-1.35zM83.7 94.5h1.35v1.35h-1.35zM117 108.6h1.35v1.35h-1.35zM93.4 86.9h1.35v1.35h-1.35zM89.6 87.9h1.35v1.35h-1.35zM88.6 99.2h1.35v1.35h-1.35zM86.3 101.5h1.35v1.35h-1.35zM115.8 99.9h1.35v1.35h-1.35zM103.6 89.1h1.35v1.35h-1.35zM93.6 104.9h1.35v1.35h-1.35zM86.3 87.6h1.35v1.35h-1.35zM93.2 89h1.35v1.35h-1.35zM101.6 85.7h1.35v1.35h-1.35zM88 91.5h1.35v1.35h-1.35zM106 87.6h1.35v1.35h-1.35zM108.5 107.7h1.35v1.35h-1.35zM120.1 103.6h1.35v1.35h-1.35zM91.3 105.4h1.35v1.35h-1.35zM120 104.7h1.35v1.35h-1.35zM101.8 109.5h1.35v1.35h-1.35zM88.4 105.5h1.35v1.35h-1.35zM90.1 98.8h1.35v1.35h-1.35zM97.7 108.8h1.35v1.35h-1.35zM92.2 103h1.35v1.35h-1.35zM91.1 88h1.35v1.35h-1.35zM95.9 106.9h1.35v1.35h-1.35zM108.7 108.3h1.35v1.35h-1.35zM89.5 108.9h1.35v1.35h-1.35zM97.4 108.1h1.35v1.35h-1.35zM110.1 106h1.35v1.35h-1.35zM117.8 105.7h1.35v1.35h-1.35zM106.9 90.6h1.35v1.35h-1.35zM94.2 87.8h1.35v1.35h-1.35zM101 114.7h1.35v1.35h-1.35zM112.9 95.5h1.35v1.35h-1.35zM106 109h1.35v1.35h-1.35zM115.5 100.4h1.35v1.35h-1.35zM115.5 105.3h1.35v1.35h-1.35zM110.4 113.2h1.35v1.35h-1.35zM107.5 89.4h1.35v1.35h-1.35zM120.4 100.6h1.35v1.35h-1.35zM101.1 111.5h1.35v1.35h-1.35zM115.6 110h1.35v1.35h-1.35zM84.3 96h1.35v1.35h-1.35zM92.4 85.6h1.35v1.35h-1.35zM108.7 92.4h1.35v1.35h-1.35zM103.5 89.2h1.35v1.35h-1.35zM121.3 100.4h1.35v1.35h-1.35zM113.4 91.6h1.35v1.35h-1.35zM113.6 105.4h1.35v1.35h-1.35zM110.1 106.5h1.35v1.35h-1.35zM108 107.6h1.35v1.35h-1.35zM112.1 105.3h1.35v1.35h-1.35zM109.5 87.5h1.35v1.35h-1.35zM91.6 90.7h1.35v1.35h-1.35zM102.3 108.6h1.35v1.35h-1.35zM91.7 102.9h1.35v1.35h-1.35zM86.8 101.6h1.35v1.35h-1.35zM92 88.4h1.35v1.35h-1.35zM89.1 101.8h1.35v1.35h-1.35zM91.1 90.1h1.35v1.35h-1.35zM88.3 93.8h1.35v1.35h-1.35zM112.9 97.1h1.35v1.35h-1.35zM93.1 106.2h1.35v1.35h-1.35zM101.4 108.9h1.35v1.35h-1.35zM114.6 99.3h1.35v1.35h-1.35zM116.1 100.8h1.35v1.35h-1.35zM123.4 107.7h1.35v1.35h-1.35zM88.2 100.5h1.35v1.35h-1.35zM112.1 106.9h1.35v1.35h-1.35zM112.2 96.3h1.35v1.35h-1.35zM115.3 96.9h1.35v1.35h-1.35zM100.7 88.5h1.35v1.35h-1.35zM87.9 98.8h1.35v1.35h-1.35zM114.2 98.9h1.35v1.35h-1.35zM89.4 92.8h1.35v1.35h-1.35zM113.8 98.4h1.35v1.35h-1.35zM89.6 94.2h1.35v1.35h-1.35zM99.2 111.9h1.35v1.35h-1.35zM98.9 108.6h1.35v1.35h-1.35zM89.3 94.4h1.35v1.35h-1.35zM118 95.7h1.35v1.35h-1.35zM121.7 107.1h1.35v1.35h-1.35zM116.7 104.6h1.35v1.35h-1.35zM91.9 102.5h1.35v1.35h-1.35zM120.1 103.9h1.35v1.35h-1.35zM95.4 88.6h1.35v1.35h-1.35zM104.4 109h1.35v1.35h-1.35z" fill="#555" fill-opacity="0.6"/>
<path d="M90.3 94L91 92.8L91.9 91.6L93.2 90.6L94.5 89.8L96 89.3L97.6 88.9L99.3 88.9L101 89L102.7 89.4L104.3 90.1L106 91L107.5 92L108.9 93.2L110.2 94.5L111.4 96L112.5 97.5L113.8 99.1L115.2 100.9L116.2 102.6L116.5 103.8L115.8 104.4L114.4 104.6L112.6 104.7L111 105L109.5 105.6L108 106.3L106.5 107L105 107.5L103.5 107.9L101.9 108.1L100.4 108.2L99 108L97.6 107.4L96.3 106.6L95.1 105.6L94 104.5L93.1 103.4L92.2 102.1L91.5 100.8L91 99.5L90.5 98.1L90.2 96.7L90.1 95.3Z" fill="#fff" stroke="#fff" stroke-width="1.6"/>
<path d="M90.3 94L91 92.8L91.9 91.6L93.2 90.6L94.5 89.8L96 89.3L97.6 88.9L99.3 88.9L101 89L102.7 89.4L104.3 90.1L106 91L107.5 92L108.9 93.2L110.2 94.5L111.4 96L112.5 97.5L113.8 99.1L115.2 100.9L116.2 102.6L116.5 103.8L115.8 104.4L114.4 104.6L112.6 104.7L111 105L109.5 105.6L108 106.3L106.5 107L105 107.5L103.5 107.9L101.9 108.1L100.4 108.2L99 108L97.6 107.4L96.3 106.6L95.1 105.6L94 104.5L93.1 103.4L92.2 102.1L91.5 100.8L91 99.5L90.5 98.1L90.2 96.7L90.1 95.3Z" fill="none" stroke="#6a6a6a" stroke-width="0.8999999999999999"/>
<path d="M91.9 94.5L92.5 93.5L93.3 92.6L94.2 91.8L95.3 91.1L96.5 90.7L97.8 90.5L99.2 90.4L100.5 90.5L101.8 90.8L103.2 91.4L104.5 92.1L105.7 92.9L106.8 93.8L107.8 94.9L108.8 96.1L109.7 97.3L110.7 98.6L111.8 100L112.7 101.4L112.9 102.3L112.3 102.8L111.2 103L109.8 103.1L108.5 103.3L107.3 103.8L106.1 104.3L104.9 104.9L103.7 105.3L102.5 105.6L101.3 105.8L100 105.9L98.9 105.7L97.8 105.3L96.7 104.6L95.8 103.8L94.9 102.9L94.1 102L93.5 101L92.9 100L92.5 98.9L92.1 97.8L91.9 96.7L91.8 95.5Z" fill="#383838" fill-opacity="0.045" stroke="#6a6a6a" stroke-width="0.7" stroke-opacity=".8"/>
<path d="M93.4 94.9L93.8 94.2L94.4 93.4L95.2 92.8L96 92.3L96.9 92L97.9 91.8L99 91.7L100.1 91.8L101.1 92.1L102.2 92.5L103.2 93L104.1 93.7L105 94.4L105.8 95.3L106.6 96.2L107.3 97.1L108.1 98.2L108.9 99.3L109.6 100.3L109.8 101.1L109.4 101.5L108.5 101.6L107.4 101.7L106.3 101.8L105.4 102.2L104.5 102.6L103.5 103.1L102.6 103.4L101.6 103.6L100.7 103.8L99.7 103.8L98.8 103.7L98 103.4L97.1 102.8L96.4 102.2L95.7 101.5L95.1 100.8L94.6 100L94.1 99.2L93.8 98.4L93.5 97.5L93.3 96.6L93.2 95.7Z" fill="#383838" fill-opacity="0.045" stroke="#6a6a6a" stroke-width="0.7" stroke-opacity=".8"/>
<path d="M94.7 95.3L95 94.8L95.5 94.2L96 93.8L96.6 93.4L97.3 93.2L98.1 93L98.9 93L99.7 93L100.4 93.2L101.2 93.5L102 93.9L102.7 94.4L103.3 95L103.9 95.6L104.5 96.3L105 97L105.6 97.7L106.2 98.5L106.7 99.3L106.8 99.9L106.5 100.2L105.9 100.3L105 100.3L104.3 100.4L103.6 100.7L102.9 101L102.2 101.4L101.5 101.6L100.8 101.8L100.1 101.9L99.4 101.9L98.7 101.8L98.1 101.6L97.5 101.2L96.9 100.7L96.4 100.2L96 99.7L95.6 99.1L95.3 98.5L95 97.9L94.8 97.3L94.7 96.6L94.6 95.9Z" fill="#383838" fill-opacity="0.045" stroke="#6a6a6a" stroke-width="0.7" stroke-opacity=".8"/>
<path d="M96 95.7L96.2 95.4L96.5 95L96.9 94.7L97.3 94.5L97.7 94.3L98.2 94.2L98.8 94.2L99.3 94.2L99.8 94.3L100.3 94.6L100.8 94.8L101.2 95.1L101.7 95.5L102.1 95.9L102.4 96.4L102.8 96.8L103.2 97.3L103.6 97.8L103.9 98.3L104 98.7L103.8 98.9L103.3 99L102.8 99L102.3 99.1L101.9 99.3L101.4 99.5L100.9 99.7L100.5 99.9L100 100L99.5 100L99.1 100.1L98.7 100L98.2 99.8L97.8 99.6L97.5 99.3L97.1 98.9L96.8 98.6L96.6 98.2L96.4 97.8L96.2 97.4L96.1 97L96 96.6L95.9 96.1Z" fill="#383838" fill-opacity="0.045" stroke="#6a6a6a" stroke-width="0.7" stroke-opacity=".8"/>
<path d="M97.3 96.1L97.4 95.9L97.5 95.8L97.7 95.6L97.9 95.5L98.1 95.4L98.4 95.4L98.6 95.4L98.9 95.4L99.1 95.4L99.4 95.5L99.6 95.7L99.8 95.8L100.1 96L100.2 96.2L100.4 96.4L100.6 96.7L100.8 96.9L101 97.2L101.2 97.4L101.2 97.6L101.1 97.7L100.9 97.7L100.6 97.7L100.4 97.8L100.2 97.9L99.9 98L99.7 98.1L99.5 98.2L99.2 98.2L99 98.2L98.8 98.3L98.6 98.2L98.4 98.1L98.2 98L98 97.9L97.8 97.7L97.7 97.5L97.6 97.3L97.5 97.1L97.4 97L97.3 96.7L97.3 96.5L97.2 96.3Z" fill="#383838" fill-opacity="0.045" stroke="#6a6a6a" stroke-width="0.7" stroke-opacity=".8"/>
<path d="M126.3 110h1.35v1.35h-1.35zM124.6 111.4h1.35v1.35h-1.35zM119.1 108.4h1.35v1.35h-1.35zM126.7 96.8h1.35v1.35h-1.35zM122.9 110.6h1.35v1.35h-1.35zM119.2 94.8h1.35v1.35h-1.35zM127.6 112.6h1.35v1.35h-1.35zM133.8 101.5h1.35v1.35h-1.35zM136.8 102.1h1.35v1.35h-1.35zM136.5 103.2h1.35v1.35h-1.35zM133.1 108.6h1.35v1.35h-1.35zM115.3 108.7h1.35v1.35h-1.35zM123.2 98.1h1.35v1.35h-1.35zM122.9 109.1h1.35v1.35h-1.35zM135.3 103.2h1.35v1.35h-1.35zM117.4 101.7h1.35v1.35h-1.35zM118.5 105.3h1.35v1.35h-1.35zM129.4 109.9h1.35v1.35h-1.35zM115.2 105h1.35v1.35h-1.35zM134.1 111.5h1.35v1.35h-1.35zM119.4 109.8h1.35v1.35h-1.35zM137.2 108.6h1.35v1.35h-1.35zM113.6 99.3h1.35v1.35h-1.35zM123.8 94.6h1.35v1.35h-1.35zM118.8 105.8h1.35v1.35h-1.35zM119.6 97.6h1.35v1.35h-1.35zM123.2 110.1h1.35v1.35h-1.35zM126.7 110.7h1.35v1.35h-1.35zM133.3 111.2h1.35v1.35h-1.35zM139.6 104.7h1.35v1.35h-1.35zM130.4 97.7h1.35v1.35h-1.35zM122.1 98.5h1.35v1.35h-1.35zM132.2 98.6h1.35v1.35h-1.35zM117 105.4h1.35v1.35h-1.35zM118.1 105.2h1.35v1.35h-1.35zM126.1 95.2h1.35v1.35h-1.35zM129 97.2h1.35v1.35h-1.35zM126.6 113.8h1.35v1.35h-1.35zM123.5 109.5h1.35v1.35h-1.35zM133.9 102.3h1.35v1.35h-1.35zM132 110h1.35v1.35h-1.35zM125.7 96.9h1.35v1.35h-1.35zM127.5 96.6h1.35v1.35h-1.35zM122.8 110.9h1.35v1.35h-1.35zM124.2 113.2h1.35v1.35h-1.35zM119.6 109.3h1.35v1.35h-1.35zM118.4 100.7h1.35v1.35h-1.35zM117.6 95.3h1.35v1.35h-1.35zM132.1 95.6h1.35v1.35h-1.35zM138.5 109h1.35v1.35h-1.35zM116.7 101.7h1.35v1.35h-1.35zM127.5 98.1h1.35v1.35h-1.35zM133.8 107.1h1.35v1.35h-1.35zM133.1 109.6h1.35v1.35h-1.35zM132.7 109.5h1.35v1.35h-1.35zM134.8 99.8h1.35v1.35h-1.35zM118.7 105.3h1.35v1.35h-1.35zM124.5 109.9h1.35v1.35h-1.35zM119.7 107.4h1.35v1.35h-1.35zM120.6 107.7h1.35v1.35h-1.35zM125.4 110.3h1.35v1.35h-1.35zM121 108.5h1.35v1.35h-1.35zM138.8 106.4h1.35v1.35h-1.35zM127.1 112.8h1.35v1.35h-1.35zM130.7 98.9h1.35v1.35h-1.35zM126.1 110.9h1.35v1.35h-1.35zM118.9 101.9h1.35v1.35h-1.35zM128 110.5h1.35v1.35h-1.35zM128.2 110.8h1.35v1.35h-1.35zM132.4 113.9h1.35v1.35h-1.35zM130.5 98.3h1.35v1.35h-1.35zM116.7 108.2h1.35v1.35h-1.35zM131.9 95.9h1.35v1.35h-1.35zM123.9 97.7h1.35v1.35h-1.35zM125.7 113.7h1.35v1.35h-1.35zM132.2 96.4h1.35v1.35h-1.35zM131.4 96.4h1.35v1.35h-1.35zM129.2 109.9h1.35v1.35h-1.35zM134.7 104.3h1.35v1.35h-1.35zM128.6 98.4h1.35v1.35h-1.35zM118.3 98.4h1.35v1.35h-1.35zM133.1 100.8h1.35v1.35h-1.35zM119.9 100.2h1.35v1.35h-1.35zM130.3 109.8h1.35v1.35h-1.35zM125 114h1.35v1.35h-1.35zM115.1 103.9h1.35v1.35h-1.35zM124.9 98h1.35v1.35h-1.35zM132.7 100.5h1.35v1.35h-1.35zM115.4 101h1.35v1.35h-1.35zM121.7 110.6h1.35v1.35h-1.35zM131.5 99.7h1.35v1.35h-1.35zM135.6 106.4h1.35v1.35h-1.35zM118.7 104.8h1.35v1.35h-1.35zM113.8 103.2h1.35v1.35h-1.35zM128.9 113.5h1.35v1.35h-1.35zM118.5 107.9h1.35v1.35h-1.35zM114.5 103.7h1.35v1.35h-1.35zM127.2 110h1.35v1.35h-1.35zM135 106.1h1.35v1.35h-1.35zM117.7 105.6h1.35v1.35h-1.35zM134.7 102.1h1.35v1.35h-1.35zM123.8 109.6h1.35v1.35h-1.35zM119.9 106.5h1.35v1.35h-1.35zM129.7 97.9h1.35v1.35h-1.35zM125.7 110.4h1.35v1.35h-1.35zM131.2 98.9h1.35v1.35h-1.35zM130.1 98.8h1.35v1.35h-1.35zM114.7 107.4h1.35v1.35h-1.35zM119.6 112.2h1.35v1.35h-1.35zM119 105.1h1.35v1.35h-1.35z" fill="#444" fill-opacity="0.65"/>
<path d="M133.8 105.5L133.6 106.3L133.2 107.1L132.6 107.7L131.9 108.3L131.1 108.8L130.2 109.2L129.2 109.4L128.2 109.6L127.1 109.6L126 109.5L124.9 109.2L123.9 108.9L122.9 108.4L122 107.9L121.2 107.2L120.5 106.5L120 105.8L119.6 104.9L119.4 104.1L119.3 103.3L119.4 102.5L119.6 101.7L120 100.9L120.6 100.3L121.3 99.7L122.1 99.2L123 98.8L124 98.6L125 98.4L126.1 98.4L127.2 98.5L128.3 98.8L129.3 99.1L130.3 99.6L131.2 100.1L132 100.8L132.7 101.5L133.2 102.2L133.6 103.1L133.8 103.9L133.9 104.7Z" fill="#fff" stroke="#5a5a5a" stroke-width="0.9"/>
</g>
<path d="M104.6 203.5V127.2H219.5" fill="none" stroke="#4a4a4a" stroke-width="1.1"/>
<rect x="54.5" y="38" width="165" height="165.5" fill="none" stroke="#6c6c6c" stroke-width="1.1"/>
<path d="M192 172.5H251" stroke="#111" stroke-width="1.3" fill="none"/>
<path d="M262.5 172.5L250 166L250 179Z" fill="#000"/>
<text x="342" y="30.3" font-size="20.1" fill="#111" text-anchor="middle" stroke="#111" stroke-width=".3">Live CD19+</text>
<text x="345.5" y="231" font-size="20.1" fill="#111" text-anchor="middle" stroke="#111" stroke-width=".3">CD19</text>
<text x="254.7" y="120" font-size="20.1" fill="#111" text-anchor="middle" transform="rotate(-90 254.7 120)" stroke="#111" stroke-width=".3">CD20</text>
<path d="M264 54.5h-4.6M264 86h-4.6M264 123.2h-4.6M264 195.2h-4.6M264 45.1h-2.3M264 39.5h-2.3M264 76.5h-2.3M264 71h-2.3M264 67.1h-2.3M264 64h-2.3M264 61.5h-2.3M264 59.4h-2.3M264 57.6h-2.3M264 56h-2.3M264 112h-2.3M264 105.5h-2.3M264 100.8h-2.3M264 97.2h-2.3M264 94.3h-2.3M264 91.8h-2.3M264 89.6h-2.3M264 87.7h-2.3M264 132.6h-2.3M264 186.3h-2.3M264 138.2h-2.3M264 181h-2.3M264 142.1h-2.3M264 177.3h-2.3M264 145.1h-2.3M264 174.4h-2.3M264 147.6h-2.3M264 172.1h-2.3M264 149.7h-2.3M264 170.1h-2.3M264 151.5h-2.3M264 168.4h-2.3M264 153.1h-2.3M264 166.9h-2.3M272.3 203.5v4.6M342.6 203.5v4.6M379.9 203.5v4.6M409.6 203.5v4.6M418.6 203.5v2.3M423.9 203.5v2.3M427.6 203.5v2.3M281.4 203.5v2.3M322.3 203.5v2.3M286.7 203.5v2.3M327.4 203.5v2.3M290.5 203.5v2.3M331 203.5v2.3M293.4 203.5v2.3M333.8 203.5v2.3M295.8 203.5v2.3M336.2 203.5v2.3M297.8 203.5v2.3M338.1 203.5v2.3M299.6 203.5v2.3M339.8 203.5v2.3M301.1 203.5v2.3M341.3 203.5v2.3M353.8 203.5v2.3M360.4 203.5v2.3M365 203.5v2.3M368.6 203.5v2.3M371.6 203.5v2.3M374.1 203.5v2.3M376.2 203.5v2.3M378.1 203.5v2.3M388.8 203.5v2.3M394.1 203.5v2.3M397.8 203.5v2.3M400.7 203.5v2.3M403 203.5v2.3M405 203.5v2.3M406.8 203.5v2.3M408.3 203.5v2.3" fill="none" stroke="#3a3a3a" stroke-width="0.9"/>
<path d="M264 155.8h-4.6M264 158.6h-3.6M264 161.4h-4.6M264 164.2h-3.6M303.8 203.5v3.6M306.6 203.5v4.6M309.4 203.5v3.6M312.2 203.5v4.6" fill="none" stroke="#111" stroke-width="2.5"/>
<g filter="url(#bl)">
<path d="M331 178.3h1.35v1.35h-1.35zM335.8 158.4h1.35v1.35h-1.35zM328.7 156.7h1.35v1.35h-1.35zM334.2 170.8h1.35v1.35h-1.35zM321.6 158.8h1.35v1.35h-1.35zM316.9 150.8h1.35v1.35h-1.35zM324.3 184.3h1.35v1.35h-1.35zM340.4 145.1h1.35v1.35h-1.35zM339.3 156.8h1.35v1.35h-1.35zM325.9 168.2h1.35v1.35h-1.35zM340.8 145.2h1.35v1.35h-1.35zM327.1 156.8h1.35v1.35h-1.35zM343.6 162.6h1.35v1.35h-1.35zM334.4 186.8h1.35v1.35h-1.35zM325.9 147.3h1.35v1.35h-1.35zM337.2 157.4h1.35v1.35h-1.35zM323 165.9h1.35v1.35h-1.35zM321.6 159h1.35v1.35h-1.35zM316.9 143.6h1.35v1.35h-1.35zM332.3 162.9h1.35v1.35h-1.35zM329.5 159.3h1.35v1.35h-1.35zM329.3 163.3h1.35v1.35h-1.35zM326.3 171.6h1.35v1.35h-1.35zM342.9 170.2h1.35v1.35h-1.35zM326.2 162.9h1.35v1.35h-1.35zM323.5 161.7h1.35v1.35h-1.35zM341.2 144.8h1.35v1.35h-1.35zM342.8 156.4h1.35v1.35h-1.35zM333 160.6h1.35v1.35h-1.35zM314.3 153.2h1.35v1.35h-1.35zM324.6 159.2h1.35v1.35h-1.35zM335.5 148.1h1.35v1.35h-1.35zM330.2 176.4h1.35v1.35h-1.35zM344 183.8h1.35v1.35h-1.35zM317.7 153.3h1.35v1.35h-1.35zM336.1 162.8h1.35v1.35h-1.35zM324.4 155.2h1.35v1.35h-1.35zM341.9 173.2h1.35v1.35h-1.35zM329.3 163.2h1.35v1.35h-1.35zM339.3 158.9h1.35v1.35h-1.35zM324.2 155.3h1.35v1.35h-1.35zM317.3 159.5h1.35v1.35h-1.35zM320 146h1.35v1.35h-1.35zM324.5 166.1h1.35v1.35h-1.35zM320.8 149.4h1.35v1.35h-1.35zM340.8 164.4h1.35v1.35h-1.35zM342.1 159.6h1.35v1.35h-1.35zM332.5 171.1h1.35v1.35h-1.35zM320.7 157.8h1.35v1.35h-1.35zM328.9 170.3h1.35v1.35h-1.35zM323.8 146.9h1.35v1.35h-1.35zM343.1 165.3h1.35v1.35h-1.35zM332.8 155.3h1.35v1.35h-1.35zM334.4 160.3h1.35v1.35h-1.35zM326.4 158.9h1.35v1.35h-1.35zM311.9 169.2h1.35v1.35h-1.35zM323.1 133.8h1.35v1.35h-1.35zM320 161.9h1.35v1.35h-1.35zM333.3 140.1h1.35v1.35h-1.35zM330.9 172.5h1.35v1.35h-1.35zM322.8 134.3h1.35v1.35h-1.35zM326.5 146h1.35v1.35h-1.35zM344.1 137.9h1.35v1.35h-1.35zM321.4 177.7h1.35v1.35h-1.35zM321.7 142.5h1.35v1.35h-1.35zM327.9 159.4h1.35v1.35h-1.35zM323.7 151.6h1.35v1.35h-1.35zM326.1 136.4h1.35v1.35h-1.35zM334.8 154h1.35v1.35h-1.35zM345.6 166h1.35v1.35h-1.35zM314 155.8h1.35v1.35h-1.35zM329.8 169.3h1.35v1.35h-1.35zM330.4 153.7h1.35v1.35h-1.35zM329.2 158.1h1.35v1.35h-1.35zM328.3 153.4h1.35v1.35h-1.35zM326.9 162.1h1.35v1.35h-1.35zM339 180.8h1.35v1.35h-1.35zM325.8 162.3h1.35v1.35h-1.35zM328.9 160.3h1.35v1.35h-1.35zM330 150.6h1.35v1.35h-1.35zM331 148.9h1.35v1.35h-1.35zM328.5 175.6h1.35v1.35h-1.35zM339 144.7h1.35v1.35h-1.35zM329.9 147h1.35v1.35h-1.35zM331.6 156.8h1.35v1.35h-1.35zM329.5 152.9h1.35v1.35h-1.35zM321 181.5h1.35v1.35h-1.35zM322.5 129.6h1.35v1.35h-1.35zM320.5 162.3h1.35v1.35h-1.35zM331.7 166.6h1.35v1.35h-1.35zM323.6 144.6h1.35v1.35h-1.35zM320.4 150.3h1.35v1.35h-1.35zM332.1 163.2h1.35v1.35h-1.35zM334.7 177.6h1.35v1.35h-1.35zM314.2 147h1.35v1.35h-1.35zM317.9 126.6h1.35v1.35h-1.35zM353.6 121.1h1.35v1.35h-1.35zM361.3 108.7h1.35v1.35h-1.35zM335.3 105.5h1.35v1.35h-1.35zM309 125.1h1.35v1.35h-1.35zM360.3 128.9h1.35v1.35h-1.35zM337.2 129.2h1.35v1.35h-1.35zM355.7 110.4h1.35v1.35h-1.35zM339.4 131.3h1.35v1.35h-1.35zM334.7 117.2h1.35v1.35h-1.35zM333.7 125.5h1.35v1.35h-1.35zM360.6 125.8h1.35v1.35h-1.35zM360.1 114.8h1.35v1.35h-1.35zM310.1 116.7h1.35v1.35h-1.35zM326.9 103.3h1.35v1.35h-1.35zM364.9 113.7h1.35v1.35h-1.35zM334.9 105.8h1.35v1.35h-1.35zM321 125.9h1.35v1.35h-1.35zM340.1 122.6h1.35v1.35h-1.35zM338.5 130.2h1.35v1.35h-1.35zM338.6 125.2h1.35v1.35h-1.35zM333.3 116.3h1.35v1.35h-1.35zM335.7 125.1h1.35v1.35h-1.35zM333.6 118.5h1.35v1.35h-1.35zM344.7 127.5h1.35v1.35h-1.35zM328.6 124.8h1.35v1.35h-1.35zM335.9 113.1h1.35v1.35h-1.35zM338 122h1.35v1.35h-1.35zM358.3 122.5h1.35v1.35h-1.35zM345.2 119.2h1.35v1.35h-1.35zM338.5 130.1h1.35v1.35h-1.35zM347.5 137.4h1.35v1.35h-1.35zM345.7 118.7h1.35v1.35h-1.35zM355.2 118.8h1.35v1.35h-1.35zM347.1 101.8h1.35v1.35h-1.35zM365.1 120.8h1.35v1.35h-1.35zM358.8 118.1h1.35v1.35h-1.35zM339.4 102.5h1.35v1.35h-1.35zM334.2 124.6h1.35v1.35h-1.35zM352.4 127.3h1.35v1.35h-1.35zM381.7 97.9h1.35v1.35h-1.35zM386.8 86.9h1.35v1.35h-1.35zM378.5 84.8h1.35v1.35h-1.35zM402.7 93.5h1.35v1.35h-1.35zM370.8 93.7h1.35v1.35h-1.35zM387.6 87h1.35v1.35h-1.35zM419.3 94h1.35v1.35h-1.35zM392.7 97.5h1.35v1.35h-1.35zM398.6 94.6h1.35v1.35h-1.35zM389.9 85.7h1.35v1.35h-1.35zM375.6 78.2h1.35v1.35h-1.35zM391.5 91.2h1.35v1.35h-1.35zM397.7 94.2h1.35v1.35h-1.35zM377.7 91.2h1.35v1.35h-1.35zM396.8 90h1.35v1.35h-1.35zM409.4 88.2h1.35v1.35h-1.35zM407 98h1.35v1.35h-1.35zM369.8 92.6h1.35v1.35h-1.35zM378.3 93.9h1.35v1.35h-1.35zM369.4 86.2h1.35v1.35h-1.35zM407 88.7h1.35v1.35h-1.35zM400.5 94.1h1.35v1.35h-1.35z" fill="#777" fill-opacity="0.5"/>
<path d="M336.9 103.6h1.35v1.35h-1.35zM329.3 101.4h1.35v1.35h-1.35zM339.7 87.4h1.35v1.35h-1.35zM364.6 74.5h1.35v1.35h-1.35zM351.8 87.8h1.35v1.35h-1.35zM374.8 80.1h1.35v1.35h-1.35zM342 84.7h1.35v1.35h-1.35zM349.8 99.8h1.35v1.35h-1.35zM338.3 116.8h1.35v1.35h-1.35zM344.2 100.4h1.35v1.35h-1.35zM372.5 77.9h1.35v1.35h-1.35zM354.6 87.3h1.35v1.35h-1.35zM355.7 76.9h1.35v1.35h-1.35zM362.1 85.9h1.35v1.35h-1.35zM351.4 93.1h1.35v1.35h-1.35zM350 97h1.35v1.35h-1.35zM362 102.8h1.35v1.35h-1.35zM362.4 87.3h1.35v1.35h-1.35zM358.2 88.1h1.35v1.35h-1.35zM363.2 93.5h1.35v1.35h-1.35zM346.8 82.4h1.35v1.35h-1.35zM334.5 93.7h1.35v1.35h-1.35zM344.8 92h1.35v1.35h-1.35zM334 98.1h1.35v1.35h-1.35zM367 83.4h1.35v1.35h-1.35zM318.9 112.7h1.35v1.35h-1.35zM353.9 102.3h1.35v1.35h-1.35zM389.9 72.3h1.35v1.35h-1.35zM348.2 98.7h1.35v1.35h-1.35zM332.4 101.6h1.35v1.35h-1.35zM352.2 94.4h1.35v1.35h-1.35zM371.5 80.9h1.35v1.35h-1.35zM343.5 87.3h1.35v1.35h-1.35zM360.1 86h1.35v1.35h-1.35zM354.2 93.5h1.35v1.35h-1.35zM345.6 96.2h1.35v1.35h-1.35zM401 64.1h1.35v1.35h-1.35zM355.9 96.4h1.35v1.35h-1.35zM339.1 92.7h1.35v1.35h-1.35zM343.5 97.1h1.35v1.35h-1.35zM352.1 82.5h1.35v1.35h-1.35zM358.1 89.4h1.35v1.35h-1.35zM357.5 78h1.35v1.35h-1.35zM355.7 94.2h1.35v1.35h-1.35zM331.2 108.9h1.35v1.35h-1.35zM361.4 90.1h1.35v1.35h-1.35zM345 93.7h1.35v1.35h-1.35zM340.1 86.7h1.35v1.35h-1.35zM336 116.5h1.35v1.35h-1.35zM341.2 96.5h1.35v1.35h-1.35zM345.2 106.1h1.35v1.35h-1.35zM351.2 93.6h1.35v1.35h-1.35zM332.1 110.6h1.35v1.35h-1.35zM358 99.8h1.35v1.35h-1.35zM353.1 91.4h1.35v1.35h-1.35zM339.7 110.6h1.35v1.35h-1.35zM335.2 90.3h1.35v1.35h-1.35zM341.3 105h1.35v1.35h-1.35zM361.9 79.7h1.35v1.35h-1.35zM313.6 118.3h1.35v1.35h-1.35zM345.2 94.8h1.35v1.35h-1.35zM327.8 111.2h1.35v1.35h-1.35zM350.5 104.3h1.35v1.35h-1.35zM354.6 72.1h1.35v1.35h-1.35zM341.2 98.2h1.35v1.35h-1.35zM349.1 85.8h1.35v1.35h-1.35zM342.7 106.3h1.35v1.35h-1.35zM375.8 67.3h1.35v1.35h-1.35zM364.8 83.2h1.35v1.35h-1.35zM364.4 76.5h1.35v1.35h-1.35zM333.8 109.1h1.35v1.35h-1.35zM338.4 108.4h1.35v1.35h-1.35zM363.7 77h1.35v1.35h-1.35zM347.4 93.4h1.35v1.35h-1.35zM340.7 86.6h1.35v1.35h-1.35zM356 88.9h1.35v1.35h-1.35zM335.6 109.3h1.35v1.35h-1.35zM358.7 79.6h1.35v1.35h-1.35zM354.7 96.5h1.35v1.35h-1.35zM348.5 75.1h1.35v1.35h-1.35zM333.1 88.9h1.35v1.35h-1.35zM351.7 78.2h1.35v1.35h-1.35zM338.1 96.3h1.35v1.35h-1.35zM363.6 80.5h1.35v1.35h-1.35zM365.7 78.1h1.35v1.35h-1.35zM362.7 80.6h1.35v1.35h-1.35zM360.2 89h1.35v1.35h-1.35zM357.1 81.6h1.35v1.35h-1.35zM306.6 114.5h1.35v1.35h-1.35zM356.9 75.4h1.35v1.35h-1.35zM354.6 104.9h1.35v1.35h-1.35zM341.9 77.9h1.35v1.35h-1.35zM345.3 93.2h1.35v1.35h-1.35zM336.1 113.9h1.35v1.35h-1.35zM344.3 99.4h1.35v1.35h-1.35zM356 79.5h1.35v1.35h-1.35zM370.1 75.3h1.35v1.35h-1.35zM344.6 102.3h1.35v1.35h-1.35zM342 107.2h1.35v1.35h-1.35zM367 70.3h1.35v1.35h-1.35zM340.5 104.7h1.35v1.35h-1.35zM380.4 69.3h1.35v1.35h-1.35zM355.1 96.1h1.35v1.35h-1.35zM343 107.9h1.35v1.35h-1.35zM362.6 78.3h1.35v1.35h-1.35zM368.2 64.8h1.35v1.35h-1.35zM331.2 108.9h1.35v1.35h-1.35zM379.2 82.8h1.35v1.35h-1.35zM348.8 97.6h1.35v1.35h-1.35zM372 75.7h1.35v1.35h-1.35zM354.2 107.5h1.35v1.35h-1.35zM323.5 103.2h1.35v1.35h-1.35zM360.7 90.1h1.35v1.35h-1.35zM360.9 77.8h1.35v1.35h-1.35zM379.9 68h1.35v1.35h-1.35zM374.8 72.4h1.35v1.35h-1.35zM365.9 91.1h1.35v1.35h-1.35zM342.9 88.8h1.35v1.35h-1.35zM340.5 94h1.35v1.35h-1.35zM339.4 86.1h1.35v1.35h-1.35zM340.2 102.7h1.35v1.35h-1.35zM344.3 91.7h1.35v1.35h-1.35zM315.6 121.4h1.35v1.35h-1.35zM348.2 83.5h1.35v1.35h-1.35zM348.2 89.5h1.35v1.35h-1.35zM390.6 67.9h1.35v1.35h-1.35zM360.1 81.7h1.35v1.35h-1.35zM345.7 99.5h1.35v1.35h-1.35zM360.1 87.4h1.35v1.35h-1.35zM331.2 102.8h1.35v1.35h-1.35zM335.2 89.7h1.35v1.35h-1.35zM327.5 116.7h1.35v1.35h-1.35zM371.1 76h1.35v1.35h-1.35zM362.4 89.5h1.35v1.35h-1.35zM325.3 93.7h1.35v1.35h-1.35zM342.5 83.2h1.35v1.35h-1.35zM354.9 69.5h1.35v1.35h-1.35zM353.5 81h1.35v1.35h-1.35zM359.6 92.1h1.35v1.35h-1.35zM340.1 103.4h1.35v1.35h-1.35zM340.8 97.9h1.35v1.35h-1.35zM351.9 90.6h1.35v1.35h-1.35zM366.1 84.7h1.35v1.35h-1.35zM337 98.6h1.35v1.35h-1.35zM335.7 105.5h1.35v1.35h-1.35zM366.8 79h1.35v1.35h-1.35zM328.1 90.1h1.35v1.35h-1.35zM363.7 77.1h1.35v1.35h-1.35zM358.9 95.3h1.35v1.35h-1.35zM360.9 79.2h1.35v1.35h-1.35zM374.2 70.9h1.35v1.35h-1.35zM357.3 80.3h1.35v1.35h-1.35zM359.1 79.9h1.35v1.35h-1.35zM341.5 106.9h1.35v1.35h-1.35zM339.1 97.3h1.35v1.35h-1.35zM355 78.6h1.35v1.35h-1.35zM359.3 58.1h1.35v1.35h-1.35zM367.5 72.6h1.35v1.35h-1.35zM375 55.3h1.35v1.35h-1.35zM347.1 78.2h1.35v1.35h-1.35zM356.1 92.8h1.35v1.35h-1.35zM367.1 83.5h1.35v1.35h-1.35zM342.6 81h1.35v1.35h-1.35zM352.5 96.1h1.35v1.35h-1.35zM337 105h1.35v1.35h-1.35zM360.9 76h1.35v1.35h-1.35zM337.7 106.6h1.35v1.35h-1.35zM350.8 77h1.35v1.35h-1.35zM325.1 100.6h1.35v1.35h-1.35zM359.8 71.5h1.35v1.35h-1.35zM331 96.7h1.35v1.35h-1.35zM365.5 86.2h1.35v1.35h-1.35zM322.1 101.8h1.35v1.35h-1.35zM339.2 90h1.35v1.35h-1.35zM362.9 73.1h1.35v1.35h-1.35zM339.4 100.9h1.35v1.35h-1.35zM349.6 88.5h1.35v1.35h-1.35zM346.7 100.7h1.35v1.35h-1.35zM314.4 112.9h1.35v1.35h-1.35zM349.2 81h1.35v1.35h-1.35zM354.1 83.6h1.35v1.35h-1.35zM334.4 103.5h1.35v1.35h-1.35zM354.4 79.9h1.35v1.35h-1.35zM339.8 101.2h1.35v1.35h-1.35zM343 111.4h1.35v1.35h-1.35zM347.7 87.9h1.35v1.35h-1.35zM340.5 98.7h1.35v1.35h-1.35zM387.9 72.5h1.35v1.35h-1.35zM325.3 104.9h1.35v1.35h-1.35zM357 78.4h1.35v1.35h-1.35zM359.6 74.4h1.35v1.35h-1.35zM323.5 114.9h1.35v1.35h-1.35zM327.4 112.8h1.35v1.35h-1.35zM357.3 83.9h1.35v1.35h-1.35zM343.3 96.5h1.35v1.35h-1.35zM360.5 93.2h1.35v1.35h-1.35zM369.6 82.7h1.35v1.35h-1.35zM339 87.8h1.35v1.35h-1.35zM334.8 102.6h1.35v1.35h-1.35zM311.6 121.7h1.35v1.35h-1.35zM355.7 92.3h1.35v1.35h-1.35zM335.8 100h1.35v1.35h-1.35zM351.8 84.1h1.35v1.35h-1.35zM351.4 86h1.35v1.35h-1.35zM323.1 97.1h1.35v1.35h-1.35zM374.2 71.6h1.35v1.35h-1.35zM362.9 75.8h1.35v1.35h-1.35zM363.8 83.8h1.35v1.35h-1.35zM329 98.7h1.35v1.35h-1.35zM342.4 93.1h1.35v1.35h-1.35zM338.2 91.9h1.35v1.35h-1.35zM339.7 90h1.35v1.35h-1.35zM336.7 106.9h1.35v1.35h-1.35zM354.2 83.6h1.35v1.35h-1.35zM354.9 90.6h1.35v1.35h-1.35zM350.6 81h1.35v1.35h-1.35zM343.1 96.9h1.35v1.35h-1.35zM361.4 67.9h1.35v1.35h-1.35zM350.6 86.3h1.35v1.35h-1.35zM309 118.6h1.35v1.35h-1.35zM343.1 100.9h1.35v1.35h-1.35zM349.8 92.4h1.35v1.35h-1.35zM362.8 79.2h1.35v1.35h-1.35zM348.9 98.4h1.35v1.35h-1.35zM347.1 94.5h1.35v1.35h-1.35zM342.6 100.9h1.35v1.35h-1.35zM362.3 87.3h1.35v1.35h-1.35zM343.2 95.4h1.35v1.35h-1.35zM340.1 96h1.35v1.35h-1.35zM340.6 100.7h1.35v1.35h-1.35zM356.1 82.5h1.35v1.35h-1.35zM343.8 98.7h1.35v1.35h-1.35zM330.5 115h1.35v1.35h-1.35zM362.1 88.2h1.35v1.35h-1.35zM338.3 96.6h1.35v1.35h-1.35zM349.7 80.2h1.35v1.35h-1.35zM354.9 86.3h1.35v1.35h-1.35zM366.4 76.8h1.35v1.35h-1.35zM369.1 84.8h1.35v1.35h-1.35zM340.1 95.2h1.35v1.35h-1.35zM346.6 91.5h1.35v1.35h-1.35zM334.4 108.8h1.35v1.35h-1.35zM371.7 69.7h1.35v1.35h-1.35zM355.4 85.1h1.35v1.35h-1.35zM376.4 84.1h1.35v1.35h-1.35zM351.2 101.9h1.35v1.35h-1.35zM323.3 116.7h1.35v1.35h-1.35zM372.6 75.2h1.35v1.35h-1.35zM347.3 84.8h1.35v1.35h-1.35zM353.9 92.1h1.35v1.35h-1.35zM350.8 90.4h1.35v1.35h-1.35zM359.8 84.7h1.35v1.35h-1.35zM355.3 82.2h1.35v1.35h-1.35zM327.2 108.3h1.35v1.35h-1.35zM364.5 77.8h1.35v1.35h-1.35zM343.6 98.2h1.35v1.35h-1.35zM348.9 103.2h1.35v1.35h-1.35zM375.8 73.5h1.35v1.35h-1.35zM356.2 72.1h1.35v1.35h-1.35zM341.1 89.5h1.35v1.35h-1.35zM317.2 103.2h1.35v1.35h-1.35zM348.9 84.9h1.35v1.35h-1.35zM359.7 87.6h1.35v1.35h-1.35zM350.3 93.7h1.35v1.35h-1.35zM329.7 101.5h1.35v1.35h-1.35zM339.7 100.9h1.35v1.35h-1.35zM329 100.8h1.35v1.35h-1.35zM347.2 81.1h1.35v1.35h-1.35zM355.8 74.5h1.35v1.35h-1.35zM360.9 75h1.35v1.35h-1.35zM345.1 106.1h1.35v1.35h-1.35zM347.8 81.3h1.35v1.35h-1.35zM362.6 91h1.35v1.35h-1.35zM347.9 103.2h1.35v1.35h-1.35zM347 91.5h1.35v1.35h-1.35zM379.7 67h1.35v1.35h-1.35zM350.3 85.3h1.35v1.35h-1.35zM362.2 80.8h1.35v1.35h-1.35zM346.3 98.9h1.35v1.35h-1.35zM350.4 90.3h1.35v1.35h-1.35zM329.5 114.8h1.35v1.35h-1.35zM354.2 97.1h1.35v1.35h-1.35zM368.1 79.3h1.35v1.35h-1.35zM380.9 69.2h1.35v1.35h-1.35zM366.5 77.2h1.35v1.35h-1.35zM360.9 84.9h1.35v1.35h-1.35zM346.1 84.5h1.35v1.35h-1.35zM342.9 99.5h1.35v1.35h-1.35zM348.3 93.6h1.35v1.35h-1.35zM355 79.5h1.35v1.35h-1.35zM347.3 110.4h1.35v1.35h-1.35zM359.1 75.4h1.35v1.35h-1.35zM332.4 97.2h1.35v1.35h-1.35zM325.7 111.9h1.35v1.35h-1.35zM327.7 92h1.35v1.35h-1.35zM323 105.1h1.35v1.35h-1.35zM324.2 98.1h1.35v1.35h-1.35zM362 73.2h1.35v1.35h-1.35zM346.4 92.3h1.35v1.35h-1.35zM354.2 89.9h1.35v1.35h-1.35zM370.6 83.5h1.35v1.35h-1.35zM370.9 80.9h1.35v1.35h-1.35zM347.4 102.4h1.35v1.35h-1.35zM371 79h1.35v1.35h-1.35zM353.4 84.1h1.35v1.35h-1.35zM354.3 96.4h1.35v1.35h-1.35zM354.1 83.3h1.35v1.35h-1.35zM327.1 103.4h1.35v1.35h-1.35zM344.7 107.3h1.35v1.35h-1.35zM351.4 96h1.35v1.35h-1.35zM359.3 85.1h1.35v1.35h-1.35zM347.5 98.7h1.35v1.35h-1.35zM351.5 96.6h1.35v1.35h-1.35zM358.1 73h1.35v1.35h-1.35zM369.4 74.6h1.35v1.35h-1.35zM355.9 76.2h1.35v1.35h-1.35zM368.3 77.3h1.35v1.35h-1.35zM341.4 91.8h1.35v1.35h-1.35zM350.9 101.1h1.35v1.35h-1.35zM356.4 89.8h1.35v1.35h-1.35zM342.3 89.9h1.35v1.35h-1.35zM342.5 96.2h1.35v1.35h-1.35zM368.4 66.2h1.35v1.35h-1.35zM347.1 93.2h1.35v1.35h-1.35zM338.3 104.2h1.35v1.35h-1.35zM357.7 86.7h1.35v1.35h-1.35zM368.1 60.5h1.35v1.35h-1.35zM349.6 88.1h1.35v1.35h-1.35zM369.3 79.7h1.35v1.35h-1.35zM344.8 97.1h1.35v1.35h-1.35zM347.4 102.1h1.35v1.35h-1.35zM334.9 91.8h1.35v1.35h-1.35zM349.8 95h1.35v1.35h-1.35zM373.2 67h1.35v1.35h-1.35zM334.2 104.5h1.35v1.35h-1.35zM374.6 74.6h1.35v1.35h-1.35zM338.2 105.4h1.35v1.35h-1.35zM344.1 90.3h1.35v1.35h-1.35zM362.4 82.4h1.35v1.35h-1.35zM354 77.7h1.35v1.35h-1.35zM348.1 80.4h1.35v1.35h-1.35zM328.6 111.8h1.35v1.35h-1.35zM354.7 86.4h1.35v1.35h-1.35zM328.8 93.7h1.35v1.35h-1.35zM382.8 57.9h1.35v1.35h-1.35zM346.8 93.2h1.35v1.35h-1.35zM358.7 96.6h1.35v1.35h-1.35zM337.7 108.8h1.35v1.35h-1.35zM346.2 100.1h1.35v1.35h-1.35zM324.3 95.9h1.35v1.35h-1.35zM363.3 79.3h1.35v1.35h-1.35zM348 96h1.35v1.35h-1.35zM359.3 86.5h1.35v1.35h-1.35zM341.7 100.4h1.35v1.35h-1.35zM341.7 95.1h1.35v1.35h-1.35zM375.1 85.4h1.35v1.35h-1.35zM341.9 109h1.35v1.35h-1.35zM323.8 110.2h1.35v1.35h-1.35zM351.6 81.2h1.35v1.35h-1.35zM341.8 113.9h1.35v1.35h-1.35zM341.3 92.7h1.35v1.35h-1.35zM367.5 86.7h1.35v1.35h-1.35zM345.8 109.5h1.35v1.35h-1.35zM358.5 76.1h1.35v1.35h-1.35zM341.3 99.7h1.35v1.35h-1.35zM369.5 72.4h1.35v1.35h-1.35zM370.6 78.7h1.35v1.35h-1.35zM344.4 97.6h1.35v1.35h-1.35zM354.5 103h1.35v1.35h-1.35zM340.3 102.9h1.35v1.35h-1.35zM352.6 88.4h1.35v1.35h-1.35zM370.6 83.7h1.35v1.35h-1.35zM328.2 105.3h1.35v1.35h-1.35zM361.3 78.7h1.35v1.35h-1.35zM339.9 116.8h1.35v1.35h-1.35zM334.3 96h1.35v1.35h-1.35zM322.5 108h1.35v1.35h-1.35zM379.8 67.6h1.35v1.35h-1.35zM346.4 84.6h1.35v1.35h-1.35zM344.8 77.2h1.35v1.35h-1.35zM344.4 103.6h1.35v1.35h-1.35zM361.8 74.9h1.35v1.35h-1.35zM317.8 111.2h1.35v1.35h-1.35zM348.7 88.5h1.35v1.35h-1.35zM377.1 61.2h1.35v1.35h-1.35zM340 89.4h1.35v1.35h-1.35zM350.7 91.3h1.35v1.35h-1.35zM368.9 95.5h1.35v1.35h-1.35zM341.2 103.5h1.35v1.35h-1.35zM353.1 94.3h1.35v1.35h-1.35zM357.4 72.3h1.35v1.35h-1.35zM352.4 88.4h1.35v1.35h-1.35zM350.3 80.5h1.35v1.35h-1.35zM347.9 98.5h1.35v1.35h-1.35zM353.3 86h1.35v1.35h-1.35zM350.7 90.3h1.35v1.35h-1.35zM370 74.1h1.35v1.35h-1.35zM357.7 79.7h1.35v1.35h-1.35zM340.2 85.6h1.35v1.35h-1.35zM317.4 120.8h1.35v1.35h-1.35zM354.4 75.7h1.35v1.35h-1.35zM355.8 76.3h1.35v1.35h-1.35zM335.6 99.3h1.35v1.35h-1.35zM318.6 109.2h1.35v1.35h-1.35zM334.6 104.7h1.35v1.35h-1.35zM366.9 85.6h1.35v1.35h-1.35zM335.7 103.8h1.35v1.35h-1.35zM344 96.8h1.35v1.35h-1.35zM353 88.4h1.35v1.35h-1.35zM370.6 81.5h1.35v1.35h-1.35zM342.1 81.4h1.35v1.35h-1.35zM349.8 93.7h1.35v1.35h-1.35zM338.2 92h1.35v1.35h-1.35zM368 66.3h1.35v1.35h-1.35zM364.9 78.9h1.35v1.35h-1.35zM346.9 89.8h1.35v1.35h-1.35zM332.3 109.2h1.35v1.35h-1.35zM343 105.1h1.35v1.35h-1.35zM348.7 72.4h1.35v1.35h-1.35zM339.2 98.3h1.35v1.35h-1.35zM370.3 90.8h1.35v1.35h-1.35zM358.4 91.1h1.35v1.35h-1.35zM359.7 94.9h1.35v1.35h-1.35zM359.4 84h1.35v1.35h-1.35zM351.1 77.8h1.35v1.35h-1.35zM333.1 94.4h1.35v1.35h-1.35zM348 98h1.35v1.35h-1.35zM386.8 69.7h1.35v1.35h-1.35zM329.7 100.3h1.35v1.35h-1.35zM342 94.6h1.35v1.35h-1.35zM365.9 80.2h1.35v1.35h-1.35zM340.5 83.5h1.35v1.35h-1.35zM336.8 97.9h1.35v1.35h-1.35zM337.5 113.7h1.35v1.35h-1.35zM366.1 96h1.35v1.35h-1.35zM363.8 78.8h1.35v1.35h-1.35zM377 84.6h1.35v1.35h-1.35zM348.4 87.4h1.35v1.35h-1.35zM361.3 75h1.35v1.35h-1.35zM326.2 90.7h1.35v1.35h-1.35zM356 93.7h1.35v1.35h-1.35zM338.7 96.3h1.35v1.35h-1.35zM361.6 100.8h1.35v1.35h-1.35zM361.7 84.1h1.35v1.35h-1.35zM365.7 79.8h1.35v1.35h-1.35zM328.5 92.4h1.35v1.35h-1.35zM373.7 84.3h1.35v1.35h-1.35zM341.6 94.1h1.35v1.35h-1.35zM334.6 101.2h1.35v1.35h-1.35zM338.5 81.3h1.35v1.35h-1.35zM332.7 111.7h1.35v1.35h-1.35zM353.8 95.7h1.35v1.35h-1.35zM351.5 84.4h1.35v1.35h-1.35zM347.3 93.4h1.35v1.35h-1.35zM358.9 86.8h1.35v1.35h-1.35zM349.2 99.1h1.35v1.35h-1.35zM350.2 91.2h1.35v1.35h-1.35zM336.2 115.5h1.35v1.35h-1.35zM349.4 89h1.35v1.35h-1.35zM335.3 97h1.35v1.35h-1.35zM341.5 93.3h1.35v1.35h-1.35zM338.3 78.8h1.35v1.35h-1.35zM349.3 84.5h1.35v1.35h-1.35zM330.4 114.1h1.35v1.35h-1.35zM328.7 109.4h1.35v1.35h-1.35zM342.2 89.9h1.35v1.35h-1.35zM357.9 87.2h1.35v1.35h-1.35zM346.8 76.4h1.35v1.35h-1.35zM361.3 79.4h1.35v1.35h-1.35zM370.3 79h1.35v1.35h-1.35zM359.6 88.8h1.35v1.35h-1.35zM346.4 87h1.35v1.35h-1.35zM338.8 106.8h1.35v1.35h-1.35zM343.8 110.8h1.35v1.35h-1.35zM341.4 93.7h1.35v1.35h-1.35zM356.5 91.6h1.35v1.35h-1.35zM346.7 80.3h1.35v1.35h-1.35zM342 80.6h1.35v1.35h-1.35zM350.1 95.6h1.35v1.35h-1.35zM358.9 84h1.35v1.35h-1.35zM353.5 89.4h1.35v1.35h-1.35zM351.7 84.4h1.35v1.35h-1.35zM353 85.8h1.35v1.35h-1.35zM345.3 100.9h1.35v1.35h-1.35zM342 111h1.35v1.35h-1.35zM355.9 84.2h1.35v1.35h-1.35zM349.1 77.7h1.35v1.35h-1.35zM351.8 99.7h1.35v1.35h-1.35zM346.3 98.4h1.35v1.35h-1.35zM384.8 69h1.35v1.35h-1.35zM339.8 100.1h1.35v1.35h-1.35zM356 105h1.35v1.35h-1.35zM353.9 88.2h1.35v1.35h-1.35zM335.5 106.2h1.35v1.35h-1.35zM344 79.9h1.35v1.35h-1.35zM373 67.8h1.35v1.35h-1.35zM360.3 76.9h1.35v1.35h-1.35zM358.6 83.6h1.35v1.35h-1.35zM359.6 86h1.35v1.35h-1.35zM348.4 85.7h1.35v1.35h-1.35zM370.3 89h1.35v1.35h-1.35zM343.3 87h1.35v1.35h-1.35zM342 93.1h1.35v1.35h-1.35zM352.2 90.8h1.35v1.35h-1.35zM357.6 74.3h1.35v1.35h-1.35zM356.8 90h1.35v1.35h-1.35zM361.9 86.5h1.35v1.35h-1.35zM319.9 111.7h1.35v1.35h-1.35zM374.4 87.3h1.35v1.35h-1.35zM383.3 65.2h1.35v1.35h-1.35zM369.9 77.4h1.35v1.35h-1.35zM341.4 89.3h1.35v1.35h-1.35zM331.1 91.6h1.35v1.35h-1.35zM351.2 84.4h1.35v1.35h-1.35zM334.5 100h1.35v1.35h-1.35zM358.3 80.4h1.35v1.35h-1.35zM345.4 100.5h1.35v1.35h-1.35zM353.9 67.9h1.35v1.35h-1.35zM364.6 69.8h1.35v1.35h-1.35zM313.7 103.9h1.35v1.35h-1.35z" fill="#444" fill-opacity="0.65"/>
<path d="M354.6 73.1h1.35v1.35h-1.35zM344.8 108.5h1.35v1.35h-1.35zM359.2 77.1h1.35v1.35h-1.35zM328.5 105.8h1.35v1.35h-1.35zM347.5 78.2h1.35v1.35h-1.35zM367.7 88.5h1.35v1.35h-1.35zM325 94.3h1.35v1.35h-1.35zM344.2 80.2h1.35v1.35h-1.35zM361.3 100.6h1.35v1.35h-1.35zM351.8 78.1h1.35v1.35h-1.35zM331.6 91.5h1.35v1.35h-1.35zM328.6 101.1h1.35v1.35h-1.35zM338.8 79.3h1.35v1.35h-1.35zM331.6 85.7h1.35v1.35h-1.35zM341.9 76.7h1.35v1.35h-1.35zM340.4 82.1h1.35v1.35h-1.35zM365.6 93.1h1.35v1.35h-1.35zM333.1 103.7h1.35v1.35h-1.35zM354.6 104.9h1.35v1.35h-1.35zM328.3 92.4h1.35v1.35h-1.35zM350.8 106.7h1.35v1.35h-1.35zM338.1 83h1.35v1.35h-1.35zM331.5 105.8h1.35v1.35h-1.35zM331.7 107.3h1.35v1.35h-1.35zM367.2 95.5h1.35v1.35h-1.35zM362.3 79.6h1.35v1.35h-1.35zM330.7 107.2h1.35v1.35h-1.35zM334.9 109.9h1.35v1.35h-1.35zM361.4 99.7h1.35v1.35h-1.35zM351.7 76.9h1.35v1.35h-1.35zM361.1 102.9h1.35v1.35h-1.35zM355 74.3h1.35v1.35h-1.35zM330.4 102.4h1.35v1.35h-1.35zM348.5 79h1.35v1.35h-1.35zM336.3 106.4h1.35v1.35h-1.35zM359.4 103.7h1.35v1.35h-1.35zM363.4 79h1.35v1.35h-1.35zM346.3 107.6h1.35v1.35h-1.35zM326.1 104.5h1.35v1.35h-1.35zM328.3 101.8h1.35v1.35h-1.35zM363.1 98.7h1.35v1.35h-1.35zM341.9 110.8h1.35v1.35h-1.35zM363.1 81.3h1.35v1.35h-1.35zM327.6 94h1.35v1.35h-1.35zM357.5 77.6h1.35v1.35h-1.35zM337.8 83.4h1.35v1.35h-1.35zM342.8 80.9h1.35v1.35h-1.35zM326.5 104h1.35v1.35h-1.35zM365.4 85.2h1.35v1.35h-1.35zM334.7 106.3h1.35v1.35h-1.35zM363.2 100.5h1.35v1.35h-1.35zM356.3 103.4h1.35v1.35h-1.35zM353.9 106.4h1.35v1.35h-1.35zM365.8 87.5h1.35v1.35h-1.35zM333.5 107.8h1.35v1.35h-1.35zM330.9 107.1h1.35v1.35h-1.35zM345.8 78.7h1.35v1.35h-1.35zM358.4 106.9h1.35v1.35h-1.35zM329.6 98.3h1.35v1.35h-1.35zM356.2 77.6h1.35v1.35h-1.35zM340.2 79.9h1.35v1.35h-1.35zM359.8 76.7h1.35v1.35h-1.35zM353.8 77.4h1.35v1.35h-1.35zM337.1 106.5h1.35v1.35h-1.35zM341.8 78.8h1.35v1.35h-1.35zM355.3 104.4h1.35v1.35h-1.35zM355.4 106.4h1.35v1.35h-1.35zM352.6 77.6h1.35v1.35h-1.35zM356.4 72.6h1.35v1.35h-1.35zM353.7 77.7h1.35v1.35h-1.35zM357 102.9h1.35v1.35h-1.35zM355 72.6h1.35v1.35h-1.35zM331.9 86h1.35v1.35h-1.35zM330.6 99.1h1.35v1.35h-1.35zM363.5 74.1h1.35v1.35h-1.35zM352.6 106.4h1.35v1.35h-1.35zM348.8 108.7h1.35v1.35h-1.35zM325.9 102.5h1.35v1.35h-1.35zM365 93.1h1.35v1.35h-1.35zM335.5 82.4h1.35v1.35h-1.35zM340.7 107.2h1.35v1.35h-1.35zM354.2 75.9h1.35v1.35h-1.35zM330.8 103.2h1.35v1.35h-1.35zM335.2 81.3h1.35v1.35h-1.35zM349.6 107h1.35v1.35h-1.35zM363.8 96.5h1.35v1.35h-1.35zM361.1 79.1h1.35v1.35h-1.35zM344.7 77.7h1.35v1.35h-1.35zM365 84.1h1.35v1.35h-1.35zM349.1 106.3h1.35v1.35h-1.35zM360.6 100.2h1.35v1.35h-1.35zM330.1 100.6h1.35v1.35h-1.35zM330.7 100.6h1.35v1.35h-1.35zM353.6 105.7h1.35v1.35h-1.35zM348.7 106.7h1.35v1.35h-1.35zM367.5 86.3h1.35v1.35h-1.35zM365.2 91.9h1.35v1.35h-1.35zM327.8 96.9h1.35v1.35h-1.35zM368 77.6h1.35v1.35h-1.35zM333 88.3h1.35v1.35h-1.35zM367.3 92.2h1.35v1.35h-1.35zM350.2 77.8h1.35v1.35h-1.35zM367.3 90.2h1.35v1.35h-1.35zM366.6 83.8h1.35v1.35h-1.35zM364.6 94h1.35v1.35h-1.35zM351.4 108.1h1.35v1.35h-1.35zM362.7 73.4h1.35v1.35h-1.35zM342.6 108.1h1.35v1.35h-1.35zM335.1 107.2h1.35v1.35h-1.35zM336.8 105.8h1.35v1.35h-1.35zM334.2 85.9h1.35v1.35h-1.35zM362.3 103.4h1.35v1.35h-1.35zM347.5 107.3h1.35v1.35h-1.35zM337 105.7h1.35v1.35h-1.35zM363.1 99.3h1.35v1.35h-1.35zM326 102.2h1.35v1.35h-1.35zM369.1 83.5h1.35v1.35h-1.35zM327 92.4h1.35v1.35h-1.35zM347.8 78.8h1.35v1.35h-1.35zM341.6 81.4h1.35v1.35h-1.35zM331.5 103.9h1.35v1.35h-1.35zM369.9 82.2h1.35v1.35h-1.35zM362.3 98.2h1.35v1.35h-1.35zM363.2 102.6h1.35v1.35h-1.35zM368.1 95.3h1.35v1.35h-1.35zM365.3 89h1.35v1.35h-1.35zM331.4 108.5h1.35v1.35h-1.35zM332.2 90h1.35v1.35h-1.35zM369.1 91.3h1.35v1.35h-1.35zM332.3 108.9h1.35v1.35h-1.35zM333 89.3h1.35v1.35h-1.35zM350.5 76.6h1.35v1.35h-1.35zM362.1 73.1h1.35v1.35h-1.35zM364.2 101.4h1.35v1.35h-1.35zM351 78.1h1.35v1.35h-1.35zM331 94.5h1.35v1.35h-1.35zM354.5 77.6h1.35v1.35h-1.35zM361.6 79.4h1.35v1.35h-1.35zM362.9 97.5h1.35v1.35h-1.35zM349.3 106.2h1.35v1.35h-1.35zM339.9 106.6h1.35v1.35h-1.35zM349.2 78.8h1.35v1.35h-1.35zM351.4 77.9h1.35v1.35h-1.35zM358.5 101.9h1.35v1.35h-1.35zM339.5 83.2h1.35v1.35h-1.35zM367 97.2h1.35v1.35h-1.35zM368.3 83.3h1.35v1.35h-1.35zM361.5 100.2h1.35v1.35h-1.35zM351.7 108.4h1.35v1.35h-1.35zM355.8 107.4h1.35v1.35h-1.35zM328.3 95.8h1.35v1.35h-1.35zM344.5 109.3h1.35v1.35h-1.35zM353.6 77.1h1.35v1.35h-1.35zM365.2 100.1h1.35v1.35h-1.35zM330 96.1h1.35v1.35h-1.35zM326.2 91.4h1.35v1.35h-1.35zM335 109.6h1.35v1.35h-1.35zM354.7 74.9h1.35v1.35h-1.35zM326.7 91.2h1.35v1.35h-1.35zM357.8 76.4h1.35v1.35h-1.35zM332.8 90.6h1.35v1.35h-1.35zM331.2 91.5h1.35v1.35h-1.35zM345.8 74.9h1.35v1.35h-1.35zM343.7 107.3h1.35v1.35h-1.35zM351.1 107.3h1.35v1.35h-1.35zM343.5 79.8h1.35v1.35h-1.35zM348.1 77.8h1.35v1.35h-1.35zM358.1 104.5h1.35v1.35h-1.35zM333.6 82.4h1.35v1.35h-1.35zM328.8 93.6h1.35v1.35h-1.35zM339.4 109.6h1.35v1.35h-1.35zM356.1 103.5h1.35v1.35h-1.35zM364.8 99.9h1.35v1.35h-1.35zM329.7 85.3h1.35v1.35h-1.35zM338.1 84.5h1.35v1.35h-1.35zM328.5 103.7h1.35v1.35h-1.35zM342.5 106.8h1.35v1.35h-1.35zM326.5 97.1h1.35v1.35h-1.35zM367.8 89.6h1.35v1.35h-1.35zM364.5 95h1.35v1.35h-1.35zM329.5 101.1h1.35v1.35h-1.35zM346 107.2h1.35v1.35h-1.35zM337.3 79.1h1.35v1.35h-1.35zM330.8 99.8h1.35v1.35h-1.35zM351.6 72.9h1.35v1.35h-1.35zM350.7 78h1.35v1.35h-1.35zM327.9 105.4h1.35v1.35h-1.35zM363.6 96.1h1.35v1.35h-1.35zM327.8 90.2h1.35v1.35h-1.35zM333 106.7h1.35v1.35h-1.35zM329.3 91.6h1.35v1.35h-1.35zM362.5 98.3h1.35v1.35h-1.35zM365.2 98.9h1.35v1.35h-1.35zM328.2 89.1h1.35v1.35h-1.35zM365.5 100.6h1.35v1.35h-1.35zM329.5 87.8h1.35v1.35h-1.35zM367.5 95.8h1.35v1.35h-1.35zM360.6 100.5h1.35v1.35h-1.35zM345.9 106.8h1.35v1.35h-1.35zM366 89.4h1.35v1.35h-1.35zM325.9 93.1h1.35v1.35h-1.35zM355.4 107.6h1.35v1.35h-1.35zM360.4 100.9h1.35v1.35h-1.35zM339.3 82.6h1.35v1.35h-1.35zM350.9 75.1h1.35v1.35h-1.35zM368 86.9h1.35v1.35h-1.35zM329.2 103.8h1.35v1.35h-1.35zM356.4 106.5h1.35v1.35h-1.35zM339.5 107.3h1.35v1.35h-1.35zM344.5 75.9h1.35v1.35h-1.35zM362.9 80.8h1.35v1.35h-1.35zM324.8 103.7h1.35v1.35h-1.35zM363.7 100.7h1.35v1.35h-1.35zM336.1 106.3h1.35v1.35h-1.35zM366.9 87.2h1.35v1.35h-1.35zM345.7 110.3h1.35v1.35h-1.35zM331.3 94.1h1.35v1.35h-1.35zM367.2 76.7h1.35v1.35h-1.35zM325.9 102.1h1.35v1.35h-1.35zM366.1 87.2h1.35v1.35h-1.35zM350.3 107.2h1.35v1.35h-1.35zM354.1 77.1h1.35v1.35h-1.35zM363.1 78.1h1.35v1.35h-1.35zM353.9 109.3h1.35v1.35h-1.35zM361.5 101.6h1.35v1.35h-1.35zM363.3 80h1.35v1.35h-1.35zM344.8 80.3h1.35v1.35h-1.35zM365.2 91.2h1.35v1.35h-1.35zM348.3 77h1.35v1.35h-1.35zM328.5 92.6h1.35v1.35h-1.35zM335.6 86.5h1.35v1.35h-1.35zM365.5 92.1h1.35v1.35h-1.35zM333.2 86.3h1.35v1.35h-1.35zM327.4 92.8h1.35v1.35h-1.35zM348.7 106.3h1.35v1.35h-1.35zM364.1 79.3h1.35v1.35h-1.35zM332.9 82.7h1.35v1.35h-1.35zM338.2 110.2h1.35v1.35h-1.35zM325.1 93.4h1.35v1.35h-1.35zM330.8 106.3h1.35v1.35h-1.35zM359.6 77.3h1.35v1.35h-1.35zM340.1 80.3h1.35v1.35h-1.35zM364.6 94.4h1.35v1.35h-1.35zM344.7 109.8h1.35v1.35h-1.35zM333.8 89.1h1.35v1.35h-1.35zM355.1 77.5h1.35v1.35h-1.35zM366 79.9h1.35v1.35h-1.35zM332.5 87h1.35v1.35h-1.35zM339.9 82.2h1.35v1.35h-1.35zM365.8 89.1h1.35v1.35h-1.35zM365.5 76.3h1.35v1.35h-1.35zM339.5 110.8h1.35v1.35h-1.35zM336.9 85.6h1.35v1.35h-1.35zM336 106.6h1.35v1.35h-1.35zM345.5 107h1.35v1.35h-1.35zM362.4 101.4h1.35v1.35h-1.35zM332.1 92.5h1.35v1.35h-1.35zM361.3 78.3h1.35v1.35h-1.35zM331.2 101.4h1.35v1.35h-1.35zM332.2 106.1h1.35v1.35h-1.35zM331.1 104.9h1.35v1.35h-1.35zM342 81.2h1.35v1.35h-1.35zM351.8 77.9h1.35v1.35h-1.35zM331.3 94.7h1.35v1.35h-1.35zM367.3 93.3h1.35v1.35h-1.35zM367.1 96.1h1.35v1.35h-1.35zM366.4 94.5h1.35v1.35h-1.35zM336.7 108.9h1.35v1.35h-1.35zM352.1 78h1.35v1.35h-1.35zM354.2 108h1.35v1.35h-1.35zM329.6 91.1h1.35v1.35h-1.35zM354.6 104.3h1.35v1.35h-1.35zM351.8 78.1h1.35v1.35h-1.35zM332.7 91.2h1.35v1.35h-1.35zM334.3 87h1.35v1.35h-1.35zM351.2 107.6h1.35v1.35h-1.35zM364.4 84h1.35v1.35h-1.35zM338.7 79.6h1.35v1.35h-1.35zM367.8 93.9h1.35v1.35h-1.35zM343.6 110.3h1.35v1.35h-1.35zM360.4 100.9h1.35v1.35h-1.35zM333.9 81.6h1.35v1.35h-1.35zM349.9 106.2h1.35v1.35h-1.35zM346.4 79.6h1.35v1.35h-1.35zM354.6 106.1h1.35v1.35h-1.35zM353.8 75.7h1.35v1.35h-1.35zM336 85.7h1.35v1.35h-1.35zM365.1 81.3h1.35v1.35h-1.35zM349.4 78.6h1.35v1.35h-1.35zM332.3 103.6h1.35v1.35h-1.35zM359.9 77.8h1.35v1.35h-1.35zM361.7 76.9h1.35v1.35h-1.35zM358.5 74.3h1.35v1.35h-1.35zM346.1 77.5h1.35v1.35h-1.35zM362.1 80.1h1.35v1.35h-1.35zM365.5 91h1.35v1.35h-1.35zM338.1 109.9h1.35v1.35h-1.35zM340.9 106.8h1.35v1.35h-1.35zM336.5 85h1.35v1.35h-1.35zM335.1 105.1h1.35v1.35h-1.35z" fill="#333" fill-opacity="0.62"/>
<path d="M331 98.5L331.2 96.4L331.8 94.1L332.8 91.7L334 89.5L335.5 87.5L337.2 85.7L339.2 84L341.3 82.5L343.6 81.2L346.1 80.1L348.6 79.2L351 78.6L353.3 78.2L355.5 77.9L357.5 78L359.3 78.4L360.8 79.3L362.1 80.5L363.2 82.1L364 83.8L364.6 85.8L364.9 88L365 90.3L364.7 92.5L364 94.5L363 96.5L361.8 98.3L360.3 100L358.6 101.5L356.7 102.9L354.6 104L352.5 105L350.3 105.7L347.9 106.3L345.6 106.5L343.3 106.6L341.1 106.4L338.8 106L336.8 105.3L335 104.4L333.5 103.3L332.3 101.9L331.4 100.3Z" fill="#fff" stroke="#fff" stroke-width="1.6"/>
<path d="M331 98.5L331.2 96.4L331.8 94.1L332.8 91.7L334 89.5L335.5 87.5L337.2 85.7L339.2 84L341.3 82.5L343.6 81.2L346.1 80.1L348.6 79.2L351 78.6L353.3 78.2L355.5 77.9L357.5 78L359.3 78.4L360.8 79.3L362.1 80.5L363.2 82.1L364 83.8L364.6 85.8L364.9 88L365 90.3L364.7 92.5L364 94.5L363 96.5L361.8 98.3L360.3 100L358.6 101.5L356.7 102.9L354.6 104L352.5 105L350.3 105.7L347.9 106.3L345.6 106.5L343.3 106.6L341.1 106.4L338.8 106L336.8 105.3L335 104.4L333.5 103.3L332.3 101.9L331.4 100.3Z" fill="none" stroke="#6a6a6a" stroke-width="0.8"/>
<path d="M334.1 97.6L334.3 95.8L334.8 93.8L335.7 91.7L336.7 89.8L338 88.2L339.5 86.6L341.2 85.1L343 83.8L345 82.7L347.1 81.8L349.3 81L351.3 80.5L353.3 80.1L355.2 79.9L357 79.9L358.5 80.3L359.8 81L360.9 82.1L361.8 83.5L362.5 84.9L363 86.6L363.3 88.6L363.4 90.6L363.1 92.4L362.6 94.2L361.7 95.9L360.6 97.4L359.4 98.9L357.9 100.2L356.3 101.4L354.5 102.4L352.6 103.2L350.7 103.8L348.7 104.3L346.7 104.5L344.7 104.6L342.8 104.4L340.9 104L339.1 103.5L337.6 102.7L336.3 101.7L335.2 100.5L334.5 99.1Z" fill="#383838" fill-opacity="0.15" stroke="#6a6a6a" stroke-width="0.6" stroke-opacity=".8"/>
<path d="M336.6 96.9L336.8 95.3L337.2 93.6L338 91.8L338.9 90.1L340 88.7L341.3 87.3L342.8 86L344.4 84.9L346.1 83.9L347.9 83.1L349.8 82.4L351.6 82L353.3 81.6L355 81.4L356.5 81.5L357.8 81.8L359 82.5L360 83.4L360.8 84.6L361.4 85.9L361.8 87.3L362.1 89L362.1 90.8L361.9 92.4L361.4 93.9L360.6 95.4L359.7 96.7L358.6 98L357.3 99.1L355.9 100.1L354.3 101L352.8 101.7L351.1 102.3L349.3 102.7L347.6 102.9L345.9 102.9L344.2 102.8L342.5 102.5L340.9 102L339.6 101.3L338.5 100.4L337.6 99.4L336.9 98.2Z" fill="#383838" fill-opacity="0.15" stroke="#6a6a6a" stroke-width="0.6" stroke-opacity=".8"/>
<path d="M339 96.2L339.1 94.9L339.5 93.3L340.1 91.8L340.9 90.4L341.8 89.1L343 87.9L344.3 86.8L345.6 85.9L347.1 85L348.7 84.3L350.3 83.8L351.9 83.3L353.3 83.1L354.8 82.9L356.1 82.9L357.2 83.2L358.2 83.8L359.1 84.6L359.8 85.6L360.3 86.7L360.7 88L360.9 89.4L360.9 90.9L360.7 92.3L360.3 93.6L359.7 94.9L358.8 96.1L357.9 97.2L356.8 98.1L355.6 99L354.2 99.8L352.9 100.4L351.4 100.9L349.9 101.2L348.4 101.4L346.9 101.4L345.5 101.3L344 101L342.7 100.6L341.5 100L340.6 99.3L339.8 98.4L339.2 97.4Z" fill="#383838" fill-opacity="0.15" stroke="#6a6a6a" stroke-width="0.6" stroke-opacity=".8"/>
<path d="M341.2 95.6L341.3 94.4L341.6 93.1L342.1 91.8L342.8 90.6L343.6 89.6L344.6 88.5L345.7 87.6L346.8 86.8L348.1 86.1L349.4 85.5L350.8 85L352.1 84.7L353.4 84.4L354.6 84.3L355.7 84.3L356.7 84.5L357.5 85L358.2 85.7L358.8 86.6L359.3 87.5L359.6 88.6L359.8 89.8L359.8 91.1L359.6 92.3L359.3 93.4L358.7 94.5L358 95.5L357.2 96.4L356.3 97.2L355.3 98L354.1 98.6L353 99.1L351.7 99.5L350.4 99.8L349.2 100L347.9 100L346.7 99.9L345.5 99.7L344.3 99.3L343.4 98.8L342.6 98.2L341.9 97.4L341.4 96.5Z" fill="#383838" fill-opacity="0.15" stroke="#6a6a6a" stroke-width="0.6" stroke-opacity=".8"/>
<path d="M343.3 95L343.4 94L343.6 92.9L344.1 91.9L344.6 90.9L345.3 90L346.1 89.1L347 88.4L348 87.7L349 87.1L350.1 86.6L351.3 86.2L352.4 85.9L353.4 85.7L354.4 85.6L355.3 85.6L356.1 85.8L356.8 86.2L357.4 86.8L357.9 87.5L358.3 88.3L358.5 89.2L358.7 90.2L358.7 91.2L358.6 92.2L358.3 93.1L357.8 94L357.2 94.9L356.6 95.6L355.8 96.3L355 96.9L354 97.5L353 97.9L352 98.2L351 98.5L349.9 98.6L348.9 98.6L347.9 98.5L346.8 98.3L345.9 98L345.1 97.6L344.4 97.1L343.9 96.5L343.5 95.8Z" fill="#383838" fill-opacity="0.15" stroke="#6a6a6a" stroke-width="0.6" stroke-opacity=".8"/>
<path d="M345.3 94.4L345.4 93.6L345.6 92.7L346 91.9L346.4 91.1L347 90.4L347.6 89.7L348.3 89.1L349.1 88.6L349.9 88.1L350.8 87.7L351.7 87.4L352.6 87.1L353.4 87L354.2 86.9L355 86.9L355.6 87.1L356.2 87.4L356.6 87.8L357 88.4L357.3 89L357.5 89.7L357.6 90.6L357.7 91.4L357.6 92.2L357.3 92.9L357 93.6L356.5 94.3L356 94.9L355.4 95.4L354.7 95.9L353.9 96.4L353.1 96.7L352.3 97L351.5 97.2L350.6 97.3L349.8 97.3L349 97.2L348.2 97.1L347.4 96.8L346.8 96.5L346.3 96.1L345.8 95.6L345.5 95Z" fill="#383838" fill-opacity="0.15" stroke="#6a6a6a" stroke-width="0.6" stroke-opacity=".8"/>
<path d="M347.4 93.8L347.4 93.2L347.6 92.6L347.8 91.9L348.2 91.3L348.6 90.8L349.1 90.3L349.6 89.8L350.2 89.4L350.8 89.1L351.5 88.8L352.2 88.5L352.8 88.3L353.4 88.2L354 88.2L354.6 88.2L355.1 88.3L355.5 88.5L355.9 88.9L356.1 89.3L356.4 89.8L356.5 90.3L356.6 90.9L356.6 91.5L356.6 92.1L356.4 92.7L356.1 93.2L355.8 93.7L355.4 94.2L354.9 94.6L354.4 95L353.8 95.3L353.2 95.6L352.6 95.7L352 95.9L351.3 96L350.7 96L350.1 95.9L349.5 95.8L348.9 95.6L348.4 95.4L348 95.1L347.7 94.7L347.5 94.3Z" fill="#383838" fill-opacity="0.15" stroke="#6a6a6a" stroke-width="0.6" stroke-opacity=".8"/>
<path d="M349.3 93.2L349.4 92.8L349.5 92.4L349.7 91.9L349.9 91.5L350.2 91.2L350.5 90.8L350.8 90.5L351.2 90.2L351.7 90L352.1 89.8L352.6 89.6L353 89.5L353.5 89.4L353.9 89.4L354.2 89.4L354.6 89.5L354.9 89.6L355.1 89.9L355.3 90.2L355.5 90.5L355.6 90.8L355.6 91.3L355.6 91.7L355.6 92.1L355.5 92.5L355.3 92.8L355 93.2L354.8 93.5L354.5 93.8L354.1 94L353.7 94.2L353.3 94.4L352.9 94.5L352.5 94.6L352 94.7L351.6 94.7L351.2 94.7L350.8 94.6L350.4 94.5L350.1 94.3L349.8 94.1L349.6 93.8L349.4 93.5Z" fill="#383838" fill-opacity="0.15" stroke="#6a6a6a" stroke-width="0.6" stroke-opacity=".8"/>
<path d="M351.2 92.7L351.3 92.4L351.3 92.2L351.4 92L351.6 91.8L351.7 91.6L351.9 91.4L352.1 91.2L352.3 91L352.5 90.9L352.8 90.8L353 90.7L353.2 90.7L353.5 90.6L353.7 90.6L353.9 90.6L354.1 90.6L354.2 90.7L354.4 90.9L354.5 91L354.6 91.2L354.6 91.4L354.6 91.6L354.6 91.8L354.6 92L354.6 92.3L354.5 92.4L354.3 92.6L354.2 92.8L354 93L353.8 93.1L353.6 93.2L353.4 93.3L353.2 93.4L352.9 93.4L352.7 93.5L352.5 93.5L352.3 93.4L352 93.4L351.8 93.3L351.6 93.2L351.5 93.1L351.4 93L351.3 92.8Z" fill="#383838" fill-opacity="0.15" stroke="#6a6a6a" stroke-width="0.6" stroke-opacity=".8"/>
<ellipse cx="354" cy="92" rx="1.7" ry="1.4" transform="rotate(0 354 92)" fill="#fff" fill-opacity="0.85"/>
</g>
<rect x="264" y="38" width="165.5" height="165.5" fill="none" stroke="#6c6c6c" stroke-width="1.1"/>
<path d="M321.3 59.5L362 47L408.8 44.3L428.8 53.8L430 103.8L427.5 117.5L387 127L302 135.5L292.5 88.8L304.5 67" fill="none" stroke="#4a4a4a" stroke-width="1.5" stroke-linejoin="round"/>
<path d="M304.5 67L321.3 59.5" fill="none" stroke="#ddd" stroke-width="1.5"/>
<path d="M404 79.5H462.5" stroke="#111" stroke-width="1.3" fill="none"/>
<path d="M474 79.5L461.5 73L461.5 86Z" fill="#000"/>
<text x="552.5" y="30.3" font-size="20.1" fill="#111" text-anchor="middle" stroke="#111" stroke-width=".3">CD19+CD20+</text>
<text x="553.5" y="231" font-size="20.1" fill="#111" text-anchor="middle" stroke="#111" stroke-width=".3">CD27</text>
<text x="461.5" y="120.5" font-size="20.1" fill="#111" text-anchor="middle" transform="rotate(-90 461.5 120.5)" stroke="#111" stroke-width=".3">CD38</text>
<path d="M475 55h-4.6M475 79h-4.6M475 101.5h-4.6M475 140.5h-4.6M475 185.5h-4.6M475 47.8h-2.3M475 43.5h-2.3M475 40.6h-2.3M475 71.8h-2.3M475 67.5h-2.3M475 64.6h-2.3M475 62.2h-2.3M475 60.3h-2.3M475 58.7h-2.3M475 57.3h-2.3M475 56.1h-2.3M475 94.7h-2.3M475 90.8h-2.3M475 88h-2.3M475 85.8h-2.3M475 84h-2.3M475 82.5h-2.3M475 81.2h-2.3M475 80h-2.3M475 128.8h-2.3M475 121.9h-2.3M475 117h-2.3M475 113.2h-2.3M475 110.2h-2.3M475 107.5h-2.3M475 105.3h-2.3M475 103.3h-2.3M475 145.8h-2.3M475 180.5h-2.3M475 148.8h-2.3M475 177.6h-2.3M475 151h-2.3M475 175.6h-2.3M475 152.7h-2.3M475 174h-2.3M475 154.1h-2.3M475 172.7h-2.3M475 155.3h-2.3M475 171.6h-2.3M475 156.3h-2.3M475 170.6h-2.3M475 157.2h-2.3M475 169.8h-2.3M483.2 203.5v4.6M553.1 203.5v4.6M590.1 203.5v4.6M619.8 203.5v4.6M628.7 203.5v2.3M633.9 203.5v2.3M637.6 203.5v2.3M492.3 203.5v2.3M533.1 203.5v2.3M497.7 203.5v2.3M538.2 203.5v2.3M501.5 203.5v2.3M541.7 203.5v2.3M504.4 203.5v2.3M544.5 203.5v2.3M506.8 203.5v2.3M546.8 203.5v2.3M508.8 203.5v2.3M548.7 203.5v2.3M510.6 203.5v2.3M550.4 203.5v2.3M512.1 203.5v2.3M551.8 203.5v2.3M564.3 203.5v2.3M570.8 203.5v2.3M575.4 203.5v2.3M579 203.5v2.3M581.9 203.5v2.3M584.4 203.5v2.3M586.6 203.5v2.3M588.5 203.5v2.3M599.1 203.5v2.3M604.3 203.5v2.3M608 203.5v2.3M610.8 203.5v2.3M613.2 203.5v2.3M615.2 203.5v2.3M616.9 203.5v2.3M618.4 203.5v2.3" fill="none" stroke="#3a3a3a" stroke-width="0.9"/>
<path d="M475 159.3h-4.6M475 162.1h-3.6M475 164.9h-4.6M475 167.7h-3.6M514.8 203.5v3.6M517.6 203.5v4.6M520.4 203.5v3.6M523.2 203.5v4.6" fill="none" stroke="#111" stroke-width="2.5"/>
<g filter="url(#bl)">
<path d="M562.2 157.2h1.35v1.35h-1.35zM538.7 134.6h1.35v1.35h-1.35zM584.3 119.6h1.35v1.35h-1.35zM581.7 133.1h1.35v1.35h-1.35zM591.4 134.4h1.35v1.35h-1.35zM604.9 158.4h1.35v1.35h-1.35zM539.5 170h1.35v1.35h-1.35zM587.4 129.2h1.35v1.35h-1.35zM589.4 134.9h1.35v1.35h-1.35zM562 138.2h1.35v1.35h-1.35zM567.9 135.1h1.35v1.35h-1.35zM548.2 141.8h1.35v1.35h-1.35zM604.9 145.8h1.35v1.35h-1.35zM519.1 146.2h1.35v1.35h-1.35zM549.1 122.3h1.35v1.35h-1.35zM568.9 138.7h1.35v1.35h-1.35zM575.8 114.3h1.35v1.35h-1.35zM601.2 154.1h1.35v1.35h-1.35zM519.7 125.1h1.35v1.35h-1.35zM563 136.3h1.35v1.35h-1.35zM582.6 133.7h1.35v1.35h-1.35zM530.5 131.7h1.35v1.35h-1.35zM561 124.5h1.35v1.35h-1.35zM607.2 113.9h1.35v1.35h-1.35zM593.6 166.4h1.35v1.35h-1.35zM574.9 144.3h1.35v1.35h-1.35zM558.9 171.9h1.35v1.35h-1.35zM571.3 138.9h1.35v1.35h-1.35zM554.6 148.7h1.35v1.35h-1.35zM560.4 140.8h1.35v1.35h-1.35zM556.9 148h1.35v1.35h-1.35zM538.7 145.2h1.35v1.35h-1.35zM567.8 136.6h1.35v1.35h-1.35zM554.4 144.7h1.35v1.35h-1.35zM554.6 157.9h1.35v1.35h-1.35zM559.9 109.3h1.35v1.35h-1.35zM580.6 138.5h1.35v1.35h-1.35zM567.7 134.2h1.35v1.35h-1.35zM533.2 136h1.35v1.35h-1.35zM558.8 110.8h1.35v1.35h-1.35zM573.4 151.5h1.35v1.35h-1.35zM550.8 127.8h1.35v1.35h-1.35zM589.6 137.1h1.35v1.35h-1.35zM580.7 132.9h1.35v1.35h-1.35zM538.2 115.4h1.35v1.35h-1.35zM569.7 133.8h1.35v1.35h-1.35zM609.6 112.9h1.35v1.35h-1.35zM599.4 126.4h1.35v1.35h-1.35zM560.6 135.8h1.35v1.35h-1.35zM583.5 140.4h1.35v1.35h-1.35zM545.8 141.3h1.35v1.35h-1.35zM527.2 138.4h1.35v1.35h-1.35zM575.3 172.6h1.35v1.35h-1.35zM567.9 147h1.35v1.35h-1.35zM574.3 122.2h1.35v1.35h-1.35zM561.4 131.3h1.35v1.35h-1.35zM569.8 130.6h1.35v1.35h-1.35zM549.7 137.8h1.35v1.35h-1.35zM573.4 131.4h1.35v1.35h-1.35zM582 127.7h1.35v1.35h-1.35zM560.6 165.2h1.35v1.35h-1.35zM581.5 141.2h1.35v1.35h-1.35zM519.5 135.4h1.35v1.35h-1.35zM543.1 136.7h1.35v1.35h-1.35zM596.7 137.2h1.35v1.35h-1.35zM604.3 161.4h1.35v1.35h-1.35zM568 147.7h1.35v1.35h-1.35zM559.5 157.4h1.35v1.35h-1.35zM531.6 93.7h1.35v1.35h-1.35zM570.7 145.4h1.35v1.35h-1.35zM580.7 156.4h1.35v1.35h-1.35zM526.4 170.1h1.35v1.35h-1.35zM575.4 141h1.35v1.35h-1.35zM573.8 114.8h1.35v1.35h-1.35zM572.6 149.4h1.35v1.35h-1.35zM534.9 131.5h1.35v1.35h-1.35zM575 113.6h1.35v1.35h-1.35zM526 131.2h1.35v1.35h-1.35zM597.7 156.4h1.35v1.35h-1.35zM565.2 158.6h1.35v1.35h-1.35zM534.1 151.4h1.35v1.35h-1.35zM594.3 124.8h1.35v1.35h-1.35zM546.4 123h1.35v1.35h-1.35zM537.9 118.9h1.35v1.35h-1.35zM569.5 160.3h1.35v1.35h-1.35zM590.4 147.2h1.35v1.35h-1.35zM586 141.9h1.35v1.35h-1.35zM560.4 139.5h1.35v1.35h-1.35zM561.6 143.2h1.35v1.35h-1.35zM536.2 112.3h1.35v1.35h-1.35zM570 155.5h1.35v1.35h-1.35zM535.4 154.3h1.35v1.35h-1.35zM538.8 134.7h1.35v1.35h-1.35zM551.3 140.4h1.35v1.35h-1.35zM532.5 145.1h1.35v1.35h-1.35zM599.7 164.2h1.35v1.35h-1.35zM530.1 147.1h1.35v1.35h-1.35zM543.9 141.3h1.35v1.35h-1.35zM554.4 133h1.35v1.35h-1.35zM562.1 118.1h1.35v1.35h-1.35zM581 131.7h1.35v1.35h-1.35zM581.6 141.7h1.35v1.35h-1.35zM554.7 136.9h1.35v1.35h-1.35zM552.8 141.8h1.35v1.35h-1.35zM562.8 151.8h1.35v1.35h-1.35zM581.7 147.2h1.35v1.35h-1.35zM578.7 144.8h1.35v1.35h-1.35zM549.6 150.5h1.35v1.35h-1.35zM512.6 143.5h1.35v1.35h-1.35zM584.8 147.7h1.35v1.35h-1.35zM568.3 114.8h1.35v1.35h-1.35zM570.2 159.5h1.35v1.35h-1.35zM549.5 121.4h1.35v1.35h-1.35zM538 153.3h1.35v1.35h-1.35zM554 140.9h1.35v1.35h-1.35zM556.7 157.3h1.35v1.35h-1.35zM547 141.2h1.35v1.35h-1.35zM527 126.6h1.35v1.35h-1.35zM554.5 156.8h1.35v1.35h-1.35zM575.8 143.5h1.35v1.35h-1.35zM550.1 142.5h1.35v1.35h-1.35zM562.5 142h1.35v1.35h-1.35zM512.3 155.8h1.35v1.35h-1.35zM557 153h1.35v1.35h-1.35zM559.1 144.2h1.35v1.35h-1.35zM532.6 117.5h1.35v1.35h-1.35zM520.5 134.7h1.35v1.35h-1.35zM571.9 142.4h1.35v1.35h-1.35zM542.6 167.7h1.35v1.35h-1.35zM573.7 146.5h1.35v1.35h-1.35zM551.9 139.4h1.35v1.35h-1.35zM577 158.7h1.35v1.35h-1.35zM553.9 139.1h1.35v1.35h-1.35zM525.8 140.4h1.35v1.35h-1.35zM559.9 143.2h1.35v1.35h-1.35zM554.1 118.3h1.35v1.35h-1.35zM577.8 155.2h1.35v1.35h-1.35zM551.2 147.2h1.35v1.35h-1.35zM552.6 136.6h1.35v1.35h-1.35zM582.6 123.7h1.35v1.35h-1.35zM590 144h1.35v1.35h-1.35zM580.2 161.8h1.35v1.35h-1.35zM586.9 131.2h1.35v1.35h-1.35zM572.9 124.9h1.35v1.35h-1.35zM580.5 147.1h1.35v1.35h-1.35zM583.1 116.9h1.35v1.35h-1.35zM571.7 107.5h1.35v1.35h-1.35zM563.5 134.2h1.35v1.35h-1.35zM565.4 130.5h1.35v1.35h-1.35zM562.3 132.6h1.35v1.35h-1.35zM556.3 145.8h1.35v1.35h-1.35zM553.3 137.5h1.35v1.35h-1.35zM561.2 131.9h1.35v1.35h-1.35zM567.9 134h1.35v1.35h-1.35zM534.9 150.3h1.35v1.35h-1.35zM514.5 155.2h1.35v1.35h-1.35zM569.1 154.4h1.35v1.35h-1.35zM523.5 151.3h1.35v1.35h-1.35zM568.2 91.4h1.35v1.35h-1.35zM565.4 125.8h1.35v1.35h-1.35zM589.7 136.2h1.35v1.35h-1.35zM602.1 144h1.35v1.35h-1.35zM570.8 116.6h1.35v1.35h-1.35zM548.7 162.2h1.35v1.35h-1.35zM533.8 145.4h1.35v1.35h-1.35zM543 131.6h1.35v1.35h-1.35zM563 143.3h1.35v1.35h-1.35zM512.3 135.7h1.35v1.35h-1.35zM563.8 129.5h1.35v1.35h-1.35zM561.7 148.5h1.35v1.35h-1.35zM577.5 134.1h1.35v1.35h-1.35zM554 119.7h1.35v1.35h-1.35zM564.4 131.4h1.35v1.35h-1.35zM544.3 139.2h1.35v1.35h-1.35zM550.9 124.7h1.35v1.35h-1.35zM519.4 159.8h1.35v1.35h-1.35zM565 124.6h1.35v1.35h-1.35zM599.2 167.3h1.35v1.35h-1.35zM565.9 154.3h1.35v1.35h-1.35zM570.8 126.8h1.35v1.35h-1.35zM538.4 142.9h1.35v1.35h-1.35zM596.4 158.7h1.35v1.35h-1.35zM543.6 138.1h1.35v1.35h-1.35zM581.2 123.1h1.35v1.35h-1.35zM564.6 142.6h1.35v1.35h-1.35zM539 170.8h1.35v1.35h-1.35zM586.7 118.6h1.35v1.35h-1.35zM562.4 149.3h1.35v1.35h-1.35zM566.3 141.1h1.35v1.35h-1.35zM572.9 139.2h1.35v1.35h-1.35zM561.5 135.1h1.35v1.35h-1.35zM552.9 136.2h1.35v1.35h-1.35zM573.2 156.6h1.35v1.35h-1.35zM552.3 150h1.35v1.35h-1.35zM563.6 126h1.35v1.35h-1.35zM546 164.4h1.35v1.35h-1.35zM526.2 121.6h1.35v1.35h-1.35zM545.8 151h1.35v1.35h-1.35zM550.1 143.8h1.35v1.35h-1.35zM562.4 159h1.35v1.35h-1.35zM590.4 146.4h1.35v1.35h-1.35zM521.5 156.9h1.35v1.35h-1.35zM565.1 140.7h1.35v1.35h-1.35zM536.9 146.2h1.35v1.35h-1.35zM549.8 173.3h1.35v1.35h-1.35zM517.4 159h1.35v1.35h-1.35zM565.7 148h1.35v1.35h-1.35zM563.9 143.7h1.35v1.35h-1.35zM559.3 132.6h1.35v1.35h-1.35zM542.7 147.8h1.35v1.35h-1.35zM558.1 120.6h1.35v1.35h-1.35zM541.3 151.8h1.35v1.35h-1.35zM602.3 117.8h1.35v1.35h-1.35zM576.7 162.7h1.35v1.35h-1.35zM553.1 137h1.35v1.35h-1.35zM590.6 144.9h1.35v1.35h-1.35zM565.8 142.2h1.35v1.35h-1.35zM577.4 147.4h1.35v1.35h-1.35zM567.6 136.9h1.35v1.35h-1.35zM537.3 135.6h1.35v1.35h-1.35zM585.3 139.2h1.35v1.35h-1.35zM565.9 156.9h1.35v1.35h-1.35zM537.8 158.1h1.35v1.35h-1.35zM543.7 160.2h1.35v1.35h-1.35zM584.9 146.6h1.35v1.35h-1.35zM553.1 138.1h1.35v1.35h-1.35zM563.1 115.9h1.35v1.35h-1.35zM577.7 150.8h1.35v1.35h-1.35zM565.1 153.7h1.35v1.35h-1.35zM525.4 135.1h1.35v1.35h-1.35zM577.3 153.2h1.35v1.35h-1.35zM584.5 160.5h1.35v1.35h-1.35zM582.8 142.6h1.35v1.35h-1.35zM600.8 157h1.35v1.35h-1.35zM570.7 145.8h1.35v1.35h-1.35zM580.6 115.1h1.35v1.35h-1.35zM600.1 134.1h1.35v1.35h-1.35zM555 135h1.35v1.35h-1.35zM603.7 149.1h1.35v1.35h-1.35zM603.6 128.2h1.35v1.35h-1.35zM580.8 134.6h1.35v1.35h-1.35zM606.2 126.7h1.35v1.35h-1.35zM582.4 140.6h1.35v1.35h-1.35zM540.9 142.2h1.35v1.35h-1.35zM589.3 155.8h1.35v1.35h-1.35zM569.8 153.1h1.35v1.35h-1.35zM571.9 143.6h1.35v1.35h-1.35zM565.7 144.8h1.35v1.35h-1.35zM594.6 142.8h1.35v1.35h-1.35zM575.3 142.8h1.35v1.35h-1.35zM545.3 164.4h1.35v1.35h-1.35zM573.7 103.9h1.35v1.35h-1.35zM579.5 138.5h1.35v1.35h-1.35zM544.6 145.8h1.35v1.35h-1.35zM551.6 158.1h1.35v1.35h-1.35zM552.8 124.7h1.35v1.35h-1.35zM547.4 146.4h1.35v1.35h-1.35zM570.4 154.1h1.35v1.35h-1.35zM586.4 134.5h1.35v1.35h-1.35zM607.4 112.5h1.35v1.35h-1.35zM590.7 135.8h1.35v1.35h-1.35zM586.5 123.1h1.35v1.35h-1.35zM589.4 150.9h1.35v1.35h-1.35zM594 128.4h1.35v1.35h-1.35zM553 167.9h1.35v1.35h-1.35zM578.6 143.3h1.35v1.35h-1.35zM569.7 129.1h1.35v1.35h-1.35zM558.9 133.6h1.35v1.35h-1.35zM551.1 124.8h1.35v1.35h-1.35zM549.9 147h1.35v1.35h-1.35zM555.6 163.5h1.35v1.35h-1.35zM532.4 137.9h1.35v1.35h-1.35zM574.5 155h1.35v1.35h-1.35zM561.5 127h1.35v1.35h-1.35zM564.5 145.8h1.35v1.35h-1.35zM570.1 175.7h1.35v1.35h-1.35zM579.4 120.1h1.35v1.35h-1.35zM547.8 159.6h1.35v1.35h-1.35zM559.4 158.8h1.35v1.35h-1.35zM523.4 113h1.35v1.35h-1.35zM515.4 126.5h1.35v1.35h-1.35zM598.9 155.7h1.35v1.35h-1.35zM518.2 134.7h1.35v1.35h-1.35zM573.3 138.6h1.35v1.35h-1.35zM597.5 151.8h1.35v1.35h-1.35zM551 142.9h1.35v1.35h-1.35zM601.1 144.5h1.35v1.35h-1.35zM606.3 136.3h1.35v1.35h-1.35zM584.7 158h1.35v1.35h-1.35zM576.9 166.3h1.35v1.35h-1.35zM544.5 136.1h1.35v1.35h-1.35zM574.6 129.2h1.35v1.35h-1.35zM551.4 150.8h1.35v1.35h-1.35zM530.8 147.9h1.35v1.35h-1.35zM531.5 111.4h1.35v1.35h-1.35zM549.1 120.9h1.35v1.35h-1.35zM561.6 128.7h1.35v1.35h-1.35zM546.2 152.9h1.35v1.35h-1.35zM565.5 128.2h1.35v1.35h-1.35zM556.5 146.4h1.35v1.35h-1.35zM552.4 135.4h1.35v1.35h-1.35zM533.2 170.1h1.35v1.35h-1.35zM528.3 139.7h1.35v1.35h-1.35zM544.4 123.5h1.35v1.35h-1.35zM569.3 124.5h1.35v1.35h-1.35zM587.6 143h1.35v1.35h-1.35zM606.1 141h1.35v1.35h-1.35zM574 155.6h1.35v1.35h-1.35zM560.3 143.6h1.35v1.35h-1.35zM530.6 143h1.35v1.35h-1.35zM562.4 145.9h1.35v1.35h-1.35zM555.2 145.4h1.35v1.35h-1.35zM601.5 152.8h1.35v1.35h-1.35zM600.3 94.8h1.35v1.35h-1.35zM576.4 99.9h1.35v1.35h-1.35zM554.4 101.8h1.35v1.35h-1.35zM571.6 101.1h1.35v1.35h-1.35zM591.2 95.1h1.35v1.35h-1.35zM541.4 100.5h1.35v1.35h-1.35zM577.6 89.4h1.35v1.35h-1.35zM576 99.9h1.35v1.35h-1.35zM566 87.1h1.35v1.35h-1.35zM611 90.7h1.35v1.35h-1.35zM581.5 105.3h1.35v1.35h-1.35zM609.9 90.6h1.35v1.35h-1.35zM609.5 102.5h1.35v1.35h-1.35zM565.8 96.4h1.35v1.35h-1.35zM569.2 87.7h1.35v1.35h-1.35zM581.3 103.9h1.35v1.35h-1.35zM566.3 103.3h1.35v1.35h-1.35zM587.4 106.4h1.35v1.35h-1.35zM562.4 114.9h1.35v1.35h-1.35zM585.9 102.4h1.35v1.35h-1.35zM605.5 102.4h1.35v1.35h-1.35zM589.9 99.2h1.35v1.35h-1.35zM581.2 101h1.35v1.35h-1.35zM569.9 93h1.35v1.35h-1.35zM603.4 116.1h1.35v1.35h-1.35zM580.5 85.3h1.35v1.35h-1.35zM589.8 102.2h1.35v1.35h-1.35zM586.5 103.7h1.35v1.35h-1.35zM588.2 101.3h1.35v1.35h-1.35zM585 92.4h1.35v1.35h-1.35zM571.8 98.6h1.35v1.35h-1.35zM575.7 96.4h1.35v1.35h-1.35zM593.8 91.5h1.35v1.35h-1.35zM583.9 99.7h1.35v1.35h-1.35zM564.9 96.8h1.35v1.35h-1.35zM573.2 95.7h1.35v1.35h-1.35zM534.9 106.2h1.35v1.35h-1.35zM517.5 127.9h1.35v1.35h-1.35zM532.5 155.8h1.35v1.35h-1.35zM521.9 104.4h1.35v1.35h-1.35zM532.3 106.9h1.35v1.35h-1.35zM528.7 123.4h1.35v1.35h-1.35zM530.4 125h1.35v1.35h-1.35zM518.2 111.2h1.35v1.35h-1.35zM520.3 120.3h1.35v1.35h-1.35zM519.4 100.1h1.35v1.35h-1.35zM529.7 115.8h1.35v1.35h-1.35zM535.4 130.1h1.35v1.35h-1.35zM538.7 138.8h1.35v1.35h-1.35zM523 117.3h1.35v1.35h-1.35zM528.8 116.2h1.35v1.35h-1.35zM519.3 125.2h1.35v1.35h-1.35zM521.3 110.4h1.35v1.35h-1.35zM512.4 123.6h1.35v1.35h-1.35zM533.2 110.8h1.35v1.35h-1.35zM519.9 103.4h1.35v1.35h-1.35zM551 123.7h1.35v1.35h-1.35zM529.6 130.9h1.35v1.35h-1.35zM524.7 120.4h1.35v1.35h-1.35zM534.6 111.7h1.35v1.35h-1.35zM520.3 114.1h1.35v1.35h-1.35zM543.7 107.1h1.35v1.35h-1.35zM512.5 108.1h1.35v1.35h-1.35zM514.8 112.7h1.35v1.35h-1.35zM526.4 113.6h1.35v1.35h-1.35zM520.2 132.7h1.35v1.35h-1.35zM541.9 104.7h1.35v1.35h-1.35zM520.5 112.3h1.35v1.35h-1.35zM530.1 137.1h1.35v1.35h-1.35zM533.4 122.5h1.35v1.35h-1.35zM537.7 114.9h1.35v1.35h-1.35zM531.2 129.1h1.35v1.35h-1.35zM549.7 120.2h1.35v1.35h-1.35zM523 113.7h1.35v1.35h-1.35zM529.5 137.7h1.35v1.35h-1.35zM536.2 127.9h1.35v1.35h-1.35zM524.5 140.1h1.35v1.35h-1.35zM524.8 133.2h1.35v1.35h-1.35zM523 128.7h1.35v1.35h-1.35zM521.2 121h1.35v1.35h-1.35zM516.4 106.5h1.35v1.35h-1.35zM522.1 127.9h1.35v1.35h-1.35zM512.2 120.3h1.35v1.35h-1.35zM531.4 127.5h1.35v1.35h-1.35zM548.2 111.2h1.35v1.35h-1.35zM544.5 107.4h1.35v1.35h-1.35zM538.6 127.8h1.35v1.35h-1.35zM525.5 134.9h1.35v1.35h-1.35zM521.7 116h1.35v1.35h-1.35zM539.8 124.9h1.35v1.35h-1.35zM529.4 136h1.35v1.35h-1.35zM533.1 109.5h1.35v1.35h-1.35zM520.4 115.4h1.35v1.35h-1.35zM538.2 106.1h1.35v1.35h-1.35zM519.6 133.5h1.35v1.35h-1.35zM528.6 122.6h1.35v1.35h-1.35zM532.5 117.3h1.35v1.35h-1.35zM523 131.4h1.35v1.35h-1.35zM523.1 116h1.35v1.35h-1.35zM535.4 114.4h1.35v1.35h-1.35zM526.8 127.1h1.35v1.35h-1.35zM539.9 104.8h1.35v1.35h-1.35zM533.2 126.6h1.35v1.35h-1.35zM532.6 110.2h1.35v1.35h-1.35zM512.1 109.6h1.35v1.35h-1.35zM514.6 122.5h1.35v1.35h-1.35zM536.2 118.3h1.35v1.35h-1.35zM516.9 116.7h1.35v1.35h-1.35zM521.1 122h1.35v1.35h-1.35zM533.4 122.2h1.35v1.35h-1.35zM524.2 108.5h1.35v1.35h-1.35zM532.2 111.6h1.35v1.35h-1.35zM518.8 124.9h1.35v1.35h-1.35zM530.4 132.9h1.35v1.35h-1.35zM538.3 135.7h1.35v1.35h-1.35zM530.7 109.5h1.35v1.35h-1.35zM534 128.6h1.35v1.35h-1.35zM528.1 119.2h1.35v1.35h-1.35zM518.4 125.4h1.35v1.35h-1.35zM541.3 129.4h1.35v1.35h-1.35zM546.1 107h1.35v1.35h-1.35zM521.2 126.7h1.35v1.35h-1.35zM543.1 117.9h1.35v1.35h-1.35zM527 117.1h1.35v1.35h-1.35zM514.2 133.2h1.35v1.35h-1.35zM528.4 129.3h1.35v1.35h-1.35zM530.8 107.5h1.35v1.35h-1.35zM532.9 116.2h1.35v1.35h-1.35zM538 122.3h1.35v1.35h-1.35zM518.5 102.8h1.35v1.35h-1.35zM532.4 129.9h1.35v1.35h-1.35zM534.8 118.7h1.35v1.35h-1.35zM524.8 121.5h1.35v1.35h-1.35zM518.1 123.6h1.35v1.35h-1.35zM517.9 141.1h1.35v1.35h-1.35zM534.9 120.1h1.35v1.35h-1.35zM535.4 115.4h1.35v1.35h-1.35zM519.2 140.3h1.35v1.35h-1.35zM514.1 113.7h1.35v1.35h-1.35zM539.8 113.4h1.35v1.35h-1.35zM529 132.5h1.35v1.35h-1.35zM519.4 122.9h1.35v1.35h-1.35zM528.7 121.6h1.35v1.35h-1.35zM525.6 118h1.35v1.35h-1.35zM541.8 110.3h1.35v1.35h-1.35zM550.1 110.4h1.35v1.35h-1.35zM525.6 124.8h1.35v1.35h-1.35zM537.7 121.1h1.35v1.35h-1.35zM537.8 139h1.35v1.35h-1.35zM522.2 110.6h1.35v1.35h-1.35zM518.8 113.9h1.35v1.35h-1.35zM543.5 107.5h1.35v1.35h-1.35zM523.8 136h1.35v1.35h-1.35zM527.2 105h1.35v1.35h-1.35zM524.5 128.8h1.35v1.35h-1.35zM526.1 136.7h1.35v1.35h-1.35zM521.4 118h1.35v1.35h-1.35zM534.9 128.3h1.35v1.35h-1.35zM523.7 115.1h1.35v1.35h-1.35zM527.9 121.7h1.35v1.35h-1.35zM512.6 119.8h1.35v1.35h-1.35zM521.1 110.5h1.35v1.35h-1.35zM539.7 130.9h1.35v1.35h-1.35zM550.5 123.9h1.35v1.35h-1.35zM531.2 113.5h1.35v1.35h-1.35zM516.8 113.6h1.35v1.35h-1.35zM535.2 102.2h1.35v1.35h-1.35zM520.5 144.8h1.35v1.35h-1.35zM542.6 111.3h1.35v1.35h-1.35zM534.9 124.7h1.35v1.35h-1.35zM513.7 113.2h1.35v1.35h-1.35zM535.9 124.9h1.35v1.35h-1.35zM527 116.9h1.35v1.35h-1.35zM531.5 113.6h1.35v1.35h-1.35zM521.7 133.9h1.35v1.35h-1.35zM535.5 127.2h1.35v1.35h-1.35zM521 114h1.35v1.35h-1.35zM514.2 124.8h1.35v1.35h-1.35zM529.9 123.5h1.35v1.35h-1.35zM519.4 112.8h1.35v1.35h-1.35zM533.7 115.3h1.35v1.35h-1.35zM524.8 123.1h1.35v1.35h-1.35zM538.2 112.7h1.35v1.35h-1.35zM523.6 123.8h1.35v1.35h-1.35zM520.9 117.3h1.35v1.35h-1.35z" fill="#777" fill-opacity="0.55"/>
<path d="M522.5 169.8h1.35v1.35h-1.35zM555.4 160.7h1.35v1.35h-1.35zM512.7 165h1.35v1.35h-1.35zM550.3 138.6h1.35v1.35h-1.35zM543.2 119.8h1.35v1.35h-1.35zM550.7 166.8h1.35v1.35h-1.35zM534.1 170.5h1.35v1.35h-1.35zM514.2 136.8h1.35v1.35h-1.35zM516.3 172.9h1.35v1.35h-1.35zM553.5 168.1h1.35v1.35h-1.35zM554.2 163.2h1.35v1.35h-1.35zM509.9 149.2h1.35v1.35h-1.35zM529.8 170.5h1.35v1.35h-1.35zM553.4 154.4h1.35v1.35h-1.35zM537.7 116.7h1.35v1.35h-1.35zM544.3 126.7h1.35v1.35h-1.35zM551 138.8h1.35v1.35h-1.35zM525.3 173.5h1.35v1.35h-1.35zM548 131.3h1.35v1.35h-1.35zM512.2 140.1h1.35v1.35h-1.35zM511.9 142.1h1.35v1.35h-1.35zM531.1 172.1h1.35v1.35h-1.35zM552.4 167.1h1.35v1.35h-1.35zM555.5 155h1.35v1.35h-1.35zM549.8 144.4h1.35v1.35h-1.35zM515 131.9h1.35v1.35h-1.35zM543.4 126.6h1.35v1.35h-1.35zM555.2 161.4h1.35v1.35h-1.35zM533.5 173.6h1.35v1.35h-1.35zM547.3 137.3h1.35v1.35h-1.35zM514 140h1.35v1.35h-1.35zM517.4 171.3h1.35v1.35h-1.35zM544.5 123h1.35v1.35h-1.35zM524.7 110.9h1.35v1.35h-1.35zM551.4 147.5h1.35v1.35h-1.35zM513.8 163.8h1.35v1.35h-1.35zM553.4 144.8h1.35v1.35h-1.35zM552.9 146.8h1.35v1.35h-1.35zM552.7 144.5h1.35v1.35h-1.35zM554.1 167h1.35v1.35h-1.35zM513.4 162.7h1.35v1.35h-1.35zM553.4 154.5h1.35v1.35h-1.35zM512.5 131.7h1.35v1.35h-1.35zM513.5 124.9h1.35v1.35h-1.35zM511.2 165.4h1.35v1.35h-1.35zM551.6 169.4h1.35v1.35h-1.35zM548 168.5h1.35v1.35h-1.35zM557.4 166.2h1.35v1.35h-1.35zM540.2 120h1.35v1.35h-1.35zM511.9 159h1.35v1.35h-1.35zM514.9 165.2h1.35v1.35h-1.35zM553.2 160.3h1.35v1.35h-1.35zM524.4 171.2h1.35v1.35h-1.35zM544.4 173.9h1.35v1.35h-1.35zM550.2 146.1h1.35v1.35h-1.35zM553.2 156.3h1.35v1.35h-1.35zM514.5 133.4h1.35v1.35h-1.35zM533.6 109.7h1.35v1.35h-1.35zM545.2 128.2h1.35v1.35h-1.35zM525.1 111.8h1.35v1.35h-1.35zM531.7 175.3h1.35v1.35h-1.35zM552.6 153.2h1.35v1.35h-1.35zM513.6 143.5h1.35v1.35h-1.35zM528.3 112.6h1.35v1.35h-1.35zM513.5 153.8h1.35v1.35h-1.35zM511.7 153.5h1.35v1.35h-1.35zM511.6 128.4h1.35v1.35h-1.35zM551.4 149.1h1.35v1.35h-1.35zM549.7 132.8h1.35v1.35h-1.35zM546 168.8h1.35v1.35h-1.35zM546.3 134h1.35v1.35h-1.35zM553.2 143.2h1.35v1.35h-1.35zM513.5 147.6h1.35v1.35h-1.35zM517.3 123.8h1.35v1.35h-1.35zM513.8 165.8h1.35v1.35h-1.35zM514.6 134h1.35v1.35h-1.35zM549.5 143h1.35v1.35h-1.35zM549.1 133.7h1.35v1.35h-1.35zM509.5 153.4h1.35v1.35h-1.35zM513.7 134h1.35v1.35h-1.35zM552.5 153.2h1.35v1.35h-1.35zM553.5 163.4h1.35v1.35h-1.35zM553.2 151.8h1.35v1.35h-1.35zM539.5 116.4h1.35v1.35h-1.35zM514 139.2h1.35v1.35h-1.35zM549.6 171.3h1.35v1.35h-1.35zM548.3 137.7h1.35v1.35h-1.35zM518.3 116.5h1.35v1.35h-1.35zM548.3 134h1.35v1.35h-1.35zM516.3 172.9h1.35v1.35h-1.35zM541.9 170.3h1.35v1.35h-1.35zM551.8 144.9h1.35v1.35h-1.35zM523.1 109.5h1.35v1.35h-1.35zM553.6 160h1.35v1.35h-1.35zM550 142.5h1.35v1.35h-1.35zM553.5 157.7h1.35v1.35h-1.35zM528.7 170.5h1.35v1.35h-1.35zM534.1 171.7h1.35v1.35h-1.35zM531.8 170.4h1.35v1.35h-1.35zM534.2 171.1h1.35v1.35h-1.35zM550.6 145.8h1.35v1.35h-1.35zM550.3 145h1.35v1.35h-1.35zM513.1 148.8h1.35v1.35h-1.35zM554.8 154.7h1.35v1.35h-1.35zM525.8 172.7h1.35v1.35h-1.35zM553.2 147.8h1.35v1.35h-1.35zM511.9 164.4h1.35v1.35h-1.35zM510.3 141.6h1.35v1.35h-1.35zM540.5 120.1h1.35v1.35h-1.35zM546.7 131.5h1.35v1.35h-1.35zM513.6 167.6h1.35v1.35h-1.35zM551.6 142.5h1.35v1.35h-1.35zM539.1 115.5h1.35v1.35h-1.35zM511.6 164h1.35v1.35h-1.35zM513.8 135.1h1.35v1.35h-1.35zM555.3 154.4h1.35v1.35h-1.35zM513.1 154.2h1.35v1.35h-1.35zM517 126.4h1.35v1.35h-1.35zM513.7 146.3h1.35v1.35h-1.35zM540 170.4h1.35v1.35h-1.35zM551.5 148.9h1.35v1.35h-1.35zM515.9 121.2h1.35v1.35h-1.35zM519 168.8h1.35v1.35h-1.35zM525.6 110.5h1.35v1.35h-1.35zM553.9 161.8h1.35v1.35h-1.35zM542.2 124.1h1.35v1.35h-1.35zM510.6 160.3h1.35v1.35h-1.35zM548.9 136.8h1.35v1.35h-1.35zM534.6 171h1.35v1.35h-1.35zM513.7 141.6h1.35v1.35h-1.35zM517.5 168.6h1.35v1.35h-1.35zM547.3 132.9h1.35v1.35h-1.35zM514.3 168h1.35v1.35h-1.35zM546.7 135.4h1.35v1.35h-1.35zM554.2 155.6h1.35v1.35h-1.35zM514.6 164.3h1.35v1.35h-1.35zM512 162.7h1.35v1.35h-1.35zM516.4 167.5h1.35v1.35h-1.35zM542.3 122.6h1.35v1.35h-1.35zM514.9 133.6h1.35v1.35h-1.35zM512.6 142.8h1.35v1.35h-1.35zM529.2 109.4h1.35v1.35h-1.35zM552 151.6h1.35v1.35h-1.35zM552.6 149.9h1.35v1.35h-1.35zM543.8 124.1h1.35v1.35h-1.35zM520 169.9h1.35v1.35h-1.35zM541.8 172.8h1.35v1.35h-1.35zM551.4 142.3h1.35v1.35h-1.35zM513.4 143.4h1.35v1.35h-1.35zM546.6 134.3h1.35v1.35h-1.35zM555.4 149.1h1.35v1.35h-1.35zM551.3 168.2h1.35v1.35h-1.35zM538.3 174.7h1.35v1.35h-1.35zM538.8 116.8h1.35v1.35h-1.35zM537.3 171.9h1.35v1.35h-1.35zM543.5 125.1h1.35v1.35h-1.35zM549.1 142.7h1.35v1.35h-1.35zM540 119.5h1.35v1.35h-1.35zM513.9 165h1.35v1.35h-1.35zM512.9 161.2h1.35v1.35h-1.35zM520.7 172.9h1.35v1.35h-1.35zM515.9 129.7h1.35v1.35h-1.35zM513.8 144.4h1.35v1.35h-1.35zM511.6 142.6h1.35v1.35h-1.35zM553 152.9h1.35v1.35h-1.35zM515.8 166.4h1.35v1.35h-1.35zM554.3 155.7h1.35v1.35h-1.35zM519.4 117.3h1.35v1.35h-1.35zM547.9 168.4h1.35v1.35h-1.35zM513.4 163.1h1.35v1.35h-1.35zM535.1 114.3h1.35v1.35h-1.35zM517.1 172.2h1.35v1.35h-1.35zM547.8 138.9h1.35v1.35h-1.35zM553.5 158.9h1.35v1.35h-1.35zM524.9 111h1.35v1.35h-1.35zM553.5 159.7h1.35v1.35h-1.35zM530.6 112.1h1.35v1.35h-1.35zM545.7 121.7h1.35v1.35h-1.35zM522.3 170.9h1.35v1.35h-1.35zM552.1 165.9h1.35v1.35h-1.35zM514 122.1h1.35v1.35h-1.35zM545.7 171.3h1.35v1.35h-1.35zM534.5 112.5h1.35v1.35h-1.35zM519.3 122h1.35v1.35h-1.35zM535.4 113.2h1.35v1.35h-1.35zM556.5 161.3h1.35v1.35h-1.35zM549.4 143.3h1.35v1.35h-1.35zM550.1 145.8h1.35v1.35h-1.35zM556.1 156.5h1.35v1.35h-1.35zM557.3 163.3h1.35v1.35h-1.35zM513.1 136.9h1.35v1.35h-1.35zM513.5 166.7h1.35v1.35h-1.35zM520.4 172.1h1.35v1.35h-1.35zM554.4 163.5h1.35v1.35h-1.35zM516 168.4h1.35v1.35h-1.35zM551.4 141.3h1.35v1.35h-1.35zM509.7 149.7h1.35v1.35h-1.35zM533.1 172.5h1.35v1.35h-1.35zM526.3 110.9h1.35v1.35h-1.35zM514.1 135.5h1.35v1.35h-1.35zM547.2 136.3h1.35v1.35h-1.35zM526.1 170.2h1.35v1.35h-1.35zM542.8 172.2h1.35v1.35h-1.35zM555.4 164h1.35v1.35h-1.35zM538.7 113.3h1.35v1.35h-1.35zM530.6 109h1.35v1.35h-1.35zM516.5 127.8h1.35v1.35h-1.35zM545.5 169.4h1.35v1.35h-1.35zM548.2 168.7h1.35v1.35h-1.35zM512.1 149.1h1.35v1.35h-1.35zM514.7 135.1h1.35v1.35h-1.35zM527.1 108h1.35v1.35h-1.35zM548.5 168h1.35v1.35h-1.35zM511.3 144.7h1.35v1.35h-1.35zM553.4 153.7h1.35v1.35h-1.35zM552.8 145.6h1.35v1.35h-1.35zM542.8 169.8h1.35v1.35h-1.35zM516.1 117.7h1.35v1.35h-1.35zM547 169.8h1.35v1.35h-1.35zM526.1 171.4h1.35v1.35h-1.35zM554.1 160.3h1.35v1.35h-1.35zM530.7 172.2h1.35v1.35h-1.35zM550.2 145.3h1.35v1.35h-1.35zM553.5 160.8h1.35v1.35h-1.35zM513.4 151.4h1.35v1.35h-1.35zM551.3 147h1.35v1.35h-1.35zM524.4 171.9h1.35v1.35h-1.35zM540.1 118.2h1.35v1.35h-1.35zM527.7 172.9h1.35v1.35h-1.35zM520.7 116.9h1.35v1.35h-1.35zM513 144.6h1.35v1.35h-1.35zM513.1 123.4h1.35v1.35h-1.35zM516.5 167.7h1.35v1.35h-1.35zM555.4 168.3h1.35v1.35h-1.35zM513 158.8h1.35v1.35h-1.35zM543.7 126.6h1.35v1.35h-1.35zM513.5 161.3h1.35v1.35h-1.35zM526.2 175.2h1.35v1.35h-1.35zM529.5 110h1.35v1.35h-1.35zM545.7 129.4h1.35v1.35h-1.35zM555.4 153.7h1.35v1.35h-1.35zM547.9 170.8h1.35v1.35h-1.35zM518.3 123.4h1.35v1.35h-1.35zM514.3 136.8h1.35v1.35h-1.35zM510.7 134h1.35v1.35h-1.35zM513.5 152.3h1.35v1.35h-1.35zM549.3 140.3h1.35v1.35h-1.35zM512.3 151.1h1.35v1.35h-1.35zM552.9 143.8h1.35v1.35h-1.35zM542.2 123.8h1.35v1.35h-1.35zM542.8 123.9h1.35v1.35h-1.35zM518.7 170.2h1.35v1.35h-1.35zM521.3 111.9h1.35v1.35h-1.35zM544.2 121.1h1.35v1.35h-1.35zM548.6 131.4h1.35v1.35h-1.35zM552.3 172.1h1.35v1.35h-1.35zM545.8 123.7h1.35v1.35h-1.35zM543.1 120.1h1.35v1.35h-1.35zM516.2 123.8h1.35v1.35h-1.35zM513.6 151.7h1.35v1.35h-1.35z" fill="#444" fill-opacity="0.62"/>
<path d="M553.5 163.6h1.35v1.35h-1.35zM572.5 173.1h1.35v1.35h-1.35zM579.4 149.2h1.35v1.35h-1.35zM563.4 169.2h1.35v1.35h-1.35zM603.5 139.9h1.35v1.35h-1.35zM603.1 162.7h1.35v1.35h-1.35zM562.6 159.2h1.35v1.35h-1.35zM607.5 153.9h1.35v1.35h-1.35zM562.6 168.9h1.35v1.35h-1.35zM593.1 146.1h1.35v1.35h-1.35zM577.6 172h1.35v1.35h-1.35zM576.2 172.2h1.35v1.35h-1.35zM547 163.8h1.35v1.35h-1.35zM555.4 168.6h1.35v1.35h-1.35zM593.5 146.5h1.35v1.35h-1.35zM568 155.4h1.35v1.35h-1.35zM566.5 172h1.35v1.35h-1.35zM583.8 148.7h1.35v1.35h-1.35zM599.4 146.3h1.35v1.35h-1.35zM582.4 147.8h1.35v1.35h-1.35zM571 154.9h1.35v1.35h-1.35zM554.9 159h1.35v1.35h-1.35zM579.4 172.6h1.35v1.35h-1.35zM584.6 150.5h1.35v1.35h-1.35zM552.7 164.4h1.35v1.35h-1.35zM583.5 174h1.35v1.35h-1.35zM568.6 170.2h1.35v1.35h-1.35zM601.2 146.6h1.35v1.35h-1.35zM578 172.6h1.35v1.35h-1.35zM600.1 159.2h1.35v1.35h-1.35zM591.3 145.2h1.35v1.35h-1.35zM601.1 147.1h1.35v1.35h-1.35zM597.1 141.8h1.35v1.35h-1.35zM559.8 167.1h1.35v1.35h-1.35zM585.8 175.7h1.35v1.35h-1.35zM553.4 161.1h1.35v1.35h-1.35zM568.8 169.9h1.35v1.35h-1.35zM588 172.5h1.35v1.35h-1.35zM564.5 157.2h1.35v1.35h-1.35zM600.1 154.8h1.35v1.35h-1.35zM589.2 174.5h1.35v1.35h-1.35zM603.3 143.5h1.35v1.35h-1.35zM576.7 153.1h1.35v1.35h-1.35zM606 145h1.35v1.35h-1.35zM579.7 150.4h1.35v1.35h-1.35zM568.1 156.5h1.35v1.35h-1.35zM584.5 150.5h1.35v1.35h-1.35zM596.1 171.9h1.35v1.35h-1.35zM545.1 163.6h1.35v1.35h-1.35zM601.4 161h1.35v1.35h-1.35zM579 174h1.35v1.35h-1.35zM591 147.2h1.35v1.35h-1.35zM589.8 146.9h1.35v1.35h-1.35zM553.3 167h1.35v1.35h-1.35zM603 157h1.35v1.35h-1.35zM597.8 169.1h1.35v1.35h-1.35zM583.6 151.1h1.35v1.35h-1.35zM570.8 154.9h1.35v1.35h-1.35zM559.6 168.5h1.35v1.35h-1.35zM585 172.3h1.35v1.35h-1.35zM588.4 174.1h1.35v1.35h-1.35zM564.2 171.8h1.35v1.35h-1.35zM559.5 158.8h1.35v1.35h-1.35zM597.7 169.1h1.35v1.35h-1.35zM588.8 147.1h1.35v1.35h-1.35zM553.9 165.8h1.35v1.35h-1.35zM600.9 168.9h1.35v1.35h-1.35zM596.6 145.5h1.35v1.35h-1.35zM602.1 171h1.35v1.35h-1.35zM562 172.3h1.35v1.35h-1.35zM589.6 173.4h1.35v1.35h-1.35zM563.5 158.6h1.35v1.35h-1.35zM600 162.9h1.35v1.35h-1.35zM566 170.4h1.35v1.35h-1.35zM576.5 152.7h1.35v1.35h-1.35zM583.1 147.9h1.35v1.35h-1.35zM582.5 149.5h1.35v1.35h-1.35zM593.7 143.1h1.35v1.35h-1.35zM565.9 156.8h1.35v1.35h-1.35zM601.2 151.4h1.35v1.35h-1.35zM553.4 159.8h1.35v1.35h-1.35zM569.7 156.6h1.35v1.35h-1.35zM585.9 172.5h1.35v1.35h-1.35zM589.8 145.2h1.35v1.35h-1.35zM599.3 145.8h1.35v1.35h-1.35zM576.6 153.9h1.35v1.35h-1.35zM573.6 171.2h1.35v1.35h-1.35zM568.3 169.8h1.35v1.35h-1.35zM600.6 149.2h1.35v1.35h-1.35zM596.2 145.8h1.35v1.35h-1.35zM583.7 148.8h1.35v1.35h-1.35zM588.1 174h1.35v1.35h-1.35zM563.4 168.9h1.35v1.35h-1.35zM555 160h1.35v1.35h-1.35zM569.2 152.7h1.35v1.35h-1.35zM602 169.9h1.35v1.35h-1.35zM597.4 145.8h1.35v1.35h-1.35zM551.5 166.3h1.35v1.35h-1.35zM556.7 160.6h1.35v1.35h-1.35zM591.7 146.7h1.35v1.35h-1.35zM578.3 172.1h1.35v1.35h-1.35zM573.2 172.1h1.35v1.35h-1.35zM593.3 146.6h1.35v1.35h-1.35zM598.1 140.1h1.35v1.35h-1.35zM595.7 172.1h1.35v1.35h-1.35zM572.9 154.1h1.35v1.35h-1.35zM589.7 173.1h1.35v1.35h-1.35zM585.2 172.4h1.35v1.35h-1.35zM601.7 153.5h1.35v1.35h-1.35zM546.7 163.9h1.35v1.35h-1.35zM555.3 160.2h1.35v1.35h-1.35zM595.4 145.8h1.35v1.35h-1.35zM606.9 152.8h1.35v1.35h-1.35zM579.3 172.2h1.35v1.35h-1.35zM547.8 160.1h1.35v1.35h-1.35zM564.6 169.6h1.35v1.35h-1.35zM605.2 154.5h1.35v1.35h-1.35zM551 161.6h1.35v1.35h-1.35zM571.1 156.2h1.35v1.35h-1.35zM557.2 165.5h1.35v1.35h-1.35zM605.8 142.8h1.35v1.35h-1.35zM606.2 155.4h1.35v1.35h-1.35zM553 164.1h1.35v1.35h-1.35zM556 160.6h1.35v1.35h-1.35zM570.3 156.1h1.35v1.35h-1.35zM568.8 157.2h1.35v1.35h-1.35zM581.4 173.5h1.35v1.35h-1.35zM600.4 148.4h1.35v1.35h-1.35zM606.3 150.7h1.35v1.35h-1.35zM567.8 169.9h1.35v1.35h-1.35zM557.1 166h1.35v1.35h-1.35zM571.7 173.2h1.35v1.35h-1.35zM580 175.3h1.35v1.35h-1.35zM579.7 172.4h1.35v1.35h-1.35zM566.9 157.9h1.35v1.35h-1.35zM607.2 163.5h1.35v1.35h-1.35zM558.1 160.4h1.35v1.35h-1.35zM570.3 170.4h1.35v1.35h-1.35zM589.4 146.5h1.35v1.35h-1.35zM577.8 149.1h1.35v1.35h-1.35z" fill="#444" fill-opacity="0.6"/>
<path d="M555.5 162L557 161.1L559.8 160.2L563 159.4L566 158.5L568.7 157.4L571.5 156.3L574.2 155.1L577 154L579.8 152.8L582.6 151.7L585.4 150.5L588 149.5L590.5 148.3L593 147L595.3 146.1L597 146.2L598.2 147.5L598.9 149.7L599.2 152.4L599.5 155L599.7 157.7L599.8 160.7L599.6 163.6L598.9 166L597.7 167.8L596.2 169.3L594.2 170.4L592 171.3L589.4 171.9L586.3 172.1L583.1 172.2L580 172L576.9 171.6L573.7 171L570.7 170.2L568 169.5L565.7 168.9L563.8 168.2L562 167.5L560.4 166.7L558.6 165.6L556.8 164.4L555.6 163.1Z" fill="#fff" stroke="#fff" stroke-width="1.6"/>
<path d="M555.5 162L557 161.1L559.8 160.2L563 159.4L566 158.5L568.7 157.4L571.5 156.3L574.2 155.1L577 154L579.8 152.8L582.6 151.7L585.4 150.5L588 149.5L590.5 148.3L593 147L595.3 146.1L597 146.2L598.2 147.5L598.9 149.7L599.2 152.4L599.5 155L599.7 157.7L599.8 160.7L599.6 163.6L598.9 166L597.7 167.8L596.2 169.3L594.2 170.4L592 171.3L589.4 171.9L586.3 172.1L583.1 172.2L580 172L576.9 171.6L573.7 171L570.7 170.2L568 169.5L565.7 168.9L563.8 168.2L562 167.5L560.4 166.7L558.6 165.6L556.8 164.4L555.6 163.1Z" fill="none" stroke="#6a6a6a" stroke-width="0.8"/>
<path d="M560.9 162.6L562.2 161.8L564.4 161.2L567.1 160.5L569.5 159.7L571.8 158.9L574 157.9L576.3 157L578.5 156.1L580.8 155.1L583.2 154.1L585.4 153.2L587.6 152.4L589.7 151.4L591.7 150.3L593.5 149.6L594.9 149.7L595.9 150.7L596.5 152.5L596.8 154.7L597 156.9L597.2 159.1L597.2 161.6L597.1 163.9L596.5 165.9L595.6 167.4L594.3 168.6L592.7 169.5L590.8 170.2L588.7 170.7L586.2 170.9L583.6 170.9L581 170.8L578.5 170.5L575.9 170L573.4 169.4L571.2 168.8L569.3 168.2L567.7 167.7L566.3 167.2L564.9 166.5L563.5 165.6L562 164.6L561 163.5Z" fill="#383838" fill-opacity="0.035" stroke="#6a6a6a" stroke-width="0.6" stroke-opacity=".8"/>
<path d="M566.3 163.2L567.3 162.6L569.1 162.1L571.1 161.6L573.1 161L574.8 160.3L576.6 159.6L578.3 158.8L580.1 158.1L581.9 157.4L583.7 156.6L585.5 155.9L587.1 155.2L588.8 154.5L590.4 153.6L591.8 153.1L592.9 153.1L593.6 153.9L594.1 155.4L594.3 157.1L594.5 158.7L594.6 160.5L594.7 162.4L594.5 164.2L594.1 165.8L593.4 167L592.4 167.9L591.1 168.6L589.7 169.2L588 169.5L586.1 169.7L584 169.7L582 169.6L580 169.4L578 169L576.1 168.5L574.3 168L572.9 167.6L571.6 167.2L570.5 166.8L569.5 166.2L568.3 165.5L567.2 164.8L566.4 164Z" fill="#383838" fill-opacity="0.035" stroke="#6a6a6a" stroke-width="0.6" stroke-opacity=".8"/>
<path d="M571.8 163.8L572.5 163.4L573.7 163L575.2 162.6L576.6 162.2L577.8 161.7L579.1 161.2L580.4 160.7L581.6 160.2L582.9 159.6L584.2 159.1L585.5 158.6L586.7 158.1L587.9 157.5L589 156.9L590 156.5L590.8 156.6L591.4 157.2L591.7 158.2L591.9 159.4L592 160.6L592.1 161.9L592.1 163.2L592 164.6L591.7 165.7L591.2 166.5L590.5 167.2L589.6 167.7L588.5 168.1L587.3 168.4L585.9 168.5L584.5 168.5L583 168.4L581.6 168.3L580.1 168L578.7 167.6L577.5 167.3L576.5 167L575.6 166.7L574.7 166.4L574 166L573.2 165.5L572.4 164.9L571.8 164.4Z" fill="#383838" fill-opacity="0.035" stroke="#6a6a6a" stroke-width="0.6" stroke-opacity=".8"/>
<path d="M577.2 164.4L577.6 164.2L578.4 164L579.3 163.7L580.1 163.5L580.9 163.2L581.6 162.9L582.4 162.5L583.2 162.2L584 161.9L584.8 161.6L585.5 161.2L586.3 160.9L587 160.6L587.7 160.3L588.3 160L588.8 160L589.1 160.4L589.3 161L589.4 161.7L589.5 162.5L589.6 163.3L589.6 164.1L589.5 164.9L589.3 165.6L589 166.1L588.6 166.5L588 166.8L587.4 167.1L586.7 167.2L585.8 167.3L584.9 167.3L584 167.2L583.2 167.1L582.3 167L581.4 166.7L580.7 166.5L580 166.4L579.5 166.2L579 166L578.5 165.8L578 165.5L577.5 165.1L577.2 164.8Z" fill="#383838" fill-opacity="0.035" stroke="#6a6a6a" stroke-width="0.6" stroke-opacity=".8"/>
<path d="M582.6 165.1L582.7 165L583 164.9L583.3 164.8L583.6 164.7L583.9 164.6L584.2 164.5L584.5 164.4L584.7 164.3L585 164.1L585.3 164L585.6 163.9L585.8 163.8L586.1 163.7L586.3 163.6L586.6 163.5L586.7 163.5L586.9 163.6L586.9 163.8L587 164.1L587 164.4L587 164.6L587 164.9L587 165.2L586.9 165.5L586.8 165.6L586.7 165.8L586.5 165.9L586.2 166L586 166L585.7 166.1L585.4 166.1L585 166.1L584.7 166L584.4 166L584.1 165.9L583.8 165.8L583.6 165.7L583.4 165.7L583.2 165.6L583.1 165.5L582.9 165.4L582.7 165.3L582.6 165.2Z" fill="#383838" fill-opacity="0.035" stroke="#6a6a6a" stroke-width="0.6" stroke-opacity=".8"/>
<path d="M513.9 158.5L513.9 154.5L513.9 149.2L514.1 143.8L514.5 139L515 135.2L515.7 131.8L516.6 128.8L517.7 126L519.1 123.3L520.8 120.8L522.6 118.7L524.3 117L526 115.8L527.6 115L529.3 114.6L531 114.5L532.8 114.7L534.6 115.3L536.4 116.3L538 117.7L539.5 119.6L540.8 122.1L542 124.8L543.2 127.5L544.3 130.2L545.3 133.1L546.3 136L547.3 139L548.4 142.2L549.6 145.6L550.8 149L551.6 152L552.2 154.7L552.6 157.2L552.8 159.5L552.6 161.5L552.2 163.3L551.6 164.9L550.5 166.3L548.5 167.5L545.3 168.5L541.1 169.2L536.6 169.7L532.6 170L529 170L525.4 169.7L522.2 169.2L519.6 168.5L517.7 167.5L516.4 166.3L515.4 164.9L514.7 163.6L514.2 162.7L514 162L513.9 160.8Z" fill="#fff" stroke="#fff" stroke-width="1.6"/>
<path d="M513.9 158.5L513.9 154.5L513.9 149.2L514.1 143.8L514.5 139L515 135.2L515.7 131.8L516.6 128.8L517.7 126L519.1 123.3L520.8 120.8L522.6 118.7L524.3 117L526 115.8L527.6 115L529.3 114.6L531 114.5L532.8 114.7L534.6 115.3L536.4 116.3L538 117.7L539.5 119.6L540.8 122.1L542 124.8L543.2 127.5L544.3 130.2L545.3 133.1L546.3 136L547.3 139L548.4 142.2L549.6 145.6L550.8 149L551.6 152L552.2 154.7L552.6 157.2L552.8 159.5L552.6 161.5L552.2 163.3L551.6 164.9L550.5 166.3L548.5 167.5L545.3 168.5L541.1 169.2L536.6 169.7L532.6 170L529 170L525.4 169.7L522.2 169.2L519.6 168.5L517.7 167.5L516.4 166.3L515.4 164.9L514.7 163.6L514.2 162.7L514 162L513.9 160.8Z" fill="none" stroke="#6a6a6a" stroke-width="0.8"/>
<path d="M515.4 158.1L515.4 154.5L515.5 149.7L515.6 144.8L516 140.5L516.5 137L517.1 134L517.9 131.2L518.9 128.7L520.2 126.2L521.7 124L523.3 122.1L524.9 120.5L526.4 119.4L527.9 118.7L529.4 118.3L530.9 118.3L532.5 118.5L534.2 119L535.8 119.9L537.3 121.2L538.6 122.9L539.8 125.1L540.9 127.6L542 130L543 132.5L543.9 135.1L544.8 137.7L545.7 140.5L546.7 143.4L547.8 146.5L548.8 149.5L549.6 152.2L550.1 154.7L550.5 156.9L550.7 159L550.5 160.8L550.1 162.5L549.6 163.9L548.6 165.2L546.8 166.3L543.9 167.1L540.1 167.8L536 168.3L532.4 168.5L529.1 168.5L525.9 168.3L523 167.8L520.6 167.2L518.9 166.3L517.7 165.2L516.8 163.9L516.2 162.7L515.7 161.9L515.5 161.2L515.4 160.2Z" fill="#383838" fill-opacity="0.07" stroke="#6a6a6a" stroke-width="0.6" stroke-opacity=".8"/>
<path d="M516.9 157.8L516.9 154.5L516.9 150.2L517.1 145.7L517.4 141.8L517.8 138.7L518.4 136L519.1 133.5L520 131.2L521.1 129L522.5 127L524 125.2L525.4 123.8L526.7 122.8L528.1 122.2L529.5 121.8L530.9 121.8L532.3 122L533.8 122.4L535.2 123.2L536.6 124.4L537.8 126L538.9 128L539.9 130.2L540.8 132.4L541.7 134.6L542.6 136.9L543.4 139.3L544.2 141.8L545.1 144.4L546.1 147.2L547 150L547.7 152.4L548.2 154.6L548.5 156.7L548.7 158.5L548.5 160.2L548.2 161.7L547.7 163L546.8 164.2L545.2 165.1L542.5 165.9L539.1 166.5L535.5 166.9L532.2 167.2L529.2 167.1L526.3 166.9L523.7 166.5L521.5 165.9L520 165.1L518.9 164.1L518.1 163L517.5 161.9L517.1 161.2L516.9 160.6L516.9 159.6Z" fill="#383838" fill-opacity="0.07" stroke="#6a6a6a" stroke-width="0.6" stroke-opacity=".8"/>
<path d="M518.3 157.4L518.3 154.5L518.3 150.6L518.4 146.6L518.7 143.1L519.1 140.3L519.6 137.9L520.2 135.7L521 133.6L522.1 131.6L523.3 129.8L524.6 128.3L525.9 127L527.1 126.1L528.3 125.5L529.5 125.2L530.8 125.2L532.1 125.4L533.4 125.8L534.7 126.5L535.9 127.5L537 129L537.9 130.7L538.9 132.7L539.7 134.7L540.5 136.7L541.3 138.8L542 140.9L542.7 143.1L543.6 145.5L544.4 148L545.2 150.4L545.9 152.6L546.3 154.6L546.6 156.4L546.7 158.1L546.6 159.6L546.3 160.9L545.9 162.1L545 163.1L543.6 164L541.2 164.7L538.2 165.3L534.9 165.6L532 165.8L529.3 165.8L526.7 165.6L524.4 165.2L522.4 164.7L521.1 164L520.1 163.1L519.4 162.1L518.9 161.1L518.5 160.5L518.3 159.9L518.3 159.1Z" fill="#383838" fill-opacity="0.07" stroke="#6a6a6a" stroke-width="0.6" stroke-opacity=".8"/>
<path d="M519.6 157.1L519.6 154.5L519.7 151.1L519.8 147.5L520 144.4L520.4 142L520.8 139.8L521.4 137.8L522.1 136L523 134.3L524.1 132.7L525.3 131.3L526.4 130.2L527.5 129.4L528.5 128.9L529.6 128.6L530.7 128.5L531.9 128.7L533 129.1L534.2 129.7L535.3 130.6L536.2 131.9L537.1 133.5L537.9 135.2L538.6 137L539.3 138.7L540 140.6L540.6 142.5L541.3 144.4L542 146.5L542.8 148.7L543.5 150.9L544.1 152.8L544.5 154.6L544.7 156.2L544.8 157.7L544.7 159L544.5 160.2L544.1 161.2L543.3 162.1L542.1 162.9L540 163.5L537.3 164L534.4 164.3L531.8 164.5L529.4 164.5L527.1 164.3L525 164L523.3 163.5L522.1 162.9L521.2 162.1L520.6 161.2L520.2 160.4L519.8 159.8L519.7 159.3L519.6 158.5Z" fill="#383838" fill-opacity="0.07" stroke="#6a6a6a" stroke-width="0.6" stroke-opacity=".8"/>
<path d="M521 156.7L521 154.4L521 151.5L521.1 148.4L521.3 145.7L521.6 143.6L522 141.7L522.5 139.9L523.1 138.4L523.9 136.8L524.9 135.4L525.9 134.2L526.9 133.3L527.8 132.6L528.7 132.1L529.7 131.9L530.7 131.9L531.7 132L532.7 132.3L533.7 132.9L534.6 133.7L535.4 134.8L536.2 136.1L536.9 137.7L537.5 139.2L538.2 140.7L538.7 142.3L539.3 144L539.9 145.7L540.5 147.5L541.2 149.4L541.8 151.3L542.3 153L542.6 154.6L542.9 156L543 157.3L542.9 158.4L542.6 159.4L542.3 160.4L541.7 161.1L540.5 161.8L538.7 162.3L536.4 162.8L533.8 163.1L531.6 163.2L529.5 163.2L527.5 163.1L525.7 162.8L524.2 162.4L523.1 161.8L522.4 161.1L521.9 160.3L521.4 159.6L521.1 159.1L521 158.7L521 158Z" fill="#383838" fill-opacity="0.07" stroke="#6a6a6a" stroke-width="0.6" stroke-opacity=".8"/>
<path d="M522.3 156.4L522.3 154.4L522.4 151.9L522.4 149.3L522.6 147L522.9 145.1L523.2 143.5L523.6 142L524.2 140.7L524.8 139.4L525.7 138.2L526.5 137.2L527.4 136.3L528.2 135.8L529 135.4L529.8 135.2L530.6 135.1L531.4 135.3L532.3 135.5L533.2 136L534 136.7L534.7 137.6L535.3 138.8L535.9 140.1L536.5 141.4L537 142.7L537.5 144.1L538 145.5L538.5 147L539 148.5L539.6 150.2L540.1 151.8L540.5 153.2L540.8 154.5L541 155.7L541.1 156.8L541 157.8L540.8 158.7L540.5 159.5L540 160.2L539 160.7L537.5 161.2L535.5 161.6L533.3 161.8L531.4 161.9L529.6 161.9L527.9 161.8L526.3 161.5L525.1 161.2L524.2 160.7L523.5 160.1L523.1 159.5L522.7 158.8L522.5 158.4L522.4 158.1L522.3 157.5Z" fill="#383838" fill-opacity="0.07" stroke="#6a6a6a" stroke-width="0.6" stroke-opacity=".8"/>
<path d="M523.7 156L523.7 154.4L523.7 152.3L523.8 150.1L523.9 148.2L524.1 146.7L524.4 145.4L524.7 144.1L525.2 143L525.8 141.9L526.4 140.9L527.1 140.1L527.8 139.4L528.5 138.9L529.2 138.6L529.8 138.4L530.5 138.4L531.2 138.5L532 138.7L532.7 139.1L533.3 139.7L533.9 140.5L534.4 141.4L534.9 142.5L535.4 143.6L535.9 144.7L536.3 145.8L536.7 147L537.1 148.2L537.5 149.5L538 150.9L538.4 152.2L538.8 153.4L539 154.5L539.2 155.5L539.3 156.4L539.2 157.2L539 158L538.8 158.6L538.3 159.2L537.5 159.7L536.3 160L534.6 160.3L532.8 160.6L531.2 160.7L529.7 160.7L528.3 160.5L527 160.3L525.9 160.1L525.2 159.7L524.7 159.2L524.3 158.6L524 158.1L523.8 157.7L523.7 157.4L523.7 157Z" fill="#383838" fill-opacity="0.07" stroke="#6a6a6a" stroke-width="0.6" stroke-opacity=".8"/>
<path d="M525 155.7L525 154.4L525 152.7L525.1 151L525.2 149.5L525.3 148.3L525.6 147.2L525.8 146.2L526.2 145.3L526.6 144.4L527.2 143.7L527.8 143L528.3 142.4L528.8 142L529.4 141.8L529.9 141.6L530.5 141.6L531 141.7L531.6 141.9L532.2 142.2L532.7 142.6L533.2 143.3L533.6 144.1L534 144.9L534.4 145.8L534.7 146.7L535 147.6L535.4 148.5L535.7 149.5L536 150.5L536.4 151.6L536.8 152.7L537.1 153.6L537.2 154.5L537.4 155.3L537.4 156L537.4 156.7L537.2 157.3L537.1 157.8L536.7 158.2L536.1 158.6L535 158.9L533.7 159.1L532.3 159.3L531 159.4L529.8 159.4L528.7 159.3L527.6 159.1L526.8 158.9L526.2 158.6L525.8 158.2L525.5 157.8L525.2 157.3L525.1 157L525 156.8L525 156.4Z" fill="#383838" fill-opacity="0.07" stroke="#6a6a6a" stroke-width="0.6" stroke-opacity=".8"/>
<path d="M526.3 155.4L526.3 154.4L526.3 153.2L526.3 151.8L526.4 150.7L526.6 149.8L526.7 149L526.9 148.3L527.2 147.6L527.5 146.9L527.9 146.4L528.4 145.8L528.8 145.4L529.2 145.1L529.6 145L530 144.9L530.4 144.8L530.8 144.9L531.3 145L531.7 145.3L532.1 145.6L532.4 146.1L532.7 146.7L533 147.3L533.3 148L533.6 148.6L533.8 149.3L534.1 150L534.3 150.7L534.6 151.5L534.9 152.3L535.1 153.1L535.3 153.8L535.5 154.5L535.6 155.1L535.6 155.6L535.6 156.1L535.5 156.5L535.3 156.9L535.1 157.3L534.6 157.5L533.8 157.8L532.8 158L531.7 158.1L530.8 158.1L529.9 158.1L529.1 158.1L528.3 157.9L527.7 157.8L527.2 157.5L526.9 157.2L526.7 156.9L526.5 156.6L526.4 156.4L526.3 156.2L526.3 155.9Z" fill="#383838" fill-opacity="0.07" stroke="#6a6a6a" stroke-width="0.6" stroke-opacity=".8"/>
<path d="M527.6 155.1L527.6 154.4L527.6 153.6L527.6 152.7L527.7 151.9L527.8 151.3L527.9 150.8L528 150.3L528.2 149.9L528.4 149.4L528.7 149L529 148.7L529.3 148.4L529.5 148.2L529.8 148.1L530.1 148L530.3 148L530.6 148.1L530.9 148.2L531.2 148.3L531.4 148.5L531.7 148.9L531.9 149.2L532.1 149.7L532.3 150.1L532.5 150.5L532.6 151L532.8 151.5L532.9 151.9L533.1 152.5L533.3 153L533.5 153.5L533.6 154L533.7 154.4L533.8 154.8L533.8 155.2L533.8 155.5L533.7 155.8L533.6 156.1L533.4 156.3L533.1 156.5L532.6 156.6L531.9 156.8L531.2 156.8L530.6 156.9L530 156.9L529.4 156.8L528.9 156.8L528.5 156.7L528.2 156.5L528 156.3L527.8 156.1L527.7 155.9L527.6 155.7L527.6 155.6L527.6 155.4Z" fill="#383838" fill-opacity="0.07" stroke="#6a6a6a" stroke-width="0.6" stroke-opacity=".8"/>
<path d="M528.9 154.7L528.9 154.4L528.9 154L528.9 153.5L528.9 153.2L529 152.9L529 152.6L529.1 152.4L529.2 152.1L529.3 151.9L529.4 151.7L529.6 151.5L529.7 151.4L529.9 151.3L530 151.2L530.1 151.2L530.3 151.2L530.4 151.2L530.6 151.3L530.7 151.4L530.8 151.5L530.9 151.6L531 151.8L531.1 152L531.2 152.2L531.3 152.5L531.4 152.7L531.5 152.9L531.6 153.2L531.7 153.4L531.8 153.7L531.8 154L531.9 154.2L532 154.4L532 154.6L532 154.8L532 155L532 155.1L531.9 155.2L531.8 155.4L531.7 155.4L531.4 155.5L531.1 155.6L530.7 155.6L530.4 155.6L530.1 155.6L529.8 155.6L529.6 155.6L529.4 155.5L529.2 155.4L529.1 155.3L529 155.2L529 155.1L528.9 155.1L528.9 155L528.9 154.9Z" fill="#383838" fill-opacity="0.07" stroke="#6a6a6a" stroke-width="0.6" stroke-opacity=".8"/>
<ellipse cx="530" cy="154.4" rx="1.6" ry="3" transform="rotate(35 530 154.4)" fill="#fff" fill-opacity="0.85"/>
</g>
<path d="M485.5 100H551.3L558 110.8H635V201.3H485.5Z" fill="none" stroke="#3c3c3c" stroke-width="1.3"/>
<rect x="475" y="38" width="164.5" height="165.5" fill="none" stroke="#6c6c6c" stroke-width="1.1"/>
<path d="M617 173.3H676.5" stroke="#111" stroke-width="1.3" fill="none"/>
<path d="M688 173.3L675.5 166.8L675.5 179.8Z" fill="#000"/>
<text x="771.5" y="30.3" font-size="20.1" fill="#111" text-anchor="middle" stroke="#111" stroke-width=".3">CD38lo</text>
<text x="770.5" y="231" font-size="20.1" fill="#111" text-anchor="middle" stroke="#111" stroke-width=".3">CD27</text>
<text x="675" y="120.5" font-size="20.1" fill="#111" text-anchor="middle" transform="rotate(-90 675 120.5)" stroke="#111" stroke-width=".3">IgD</text>
<path d="M689.5 55h-4.6M689.5 86h-4.6M689.5 123h-4.6M689.5 195h-4.6M689.5 45.7h-2.3M689.5 40.2h-2.3M689.5 76.7h-2.3M689.5 71.2h-2.3M689.5 67.3h-2.3M689.5 64.3h-2.3M689.5 61.9h-2.3M689.5 59.8h-2.3M689.5 58h-2.3M689.5 56.4h-2.3M689.5 111.9h-2.3M689.5 105.3h-2.3M689.5 100.7h-2.3M689.5 97.1h-2.3M689.5 94.2h-2.3M689.5 91.7h-2.3M689.5 89.6h-2.3M689.5 87.7h-2.3M689.5 132.5h-2.3M689.5 186.1h-2.3M689.5 138h-2.3M689.5 180.9h-2.3M689.5 142h-2.3M689.5 177.2h-2.3M689.5 145h-2.3M689.5 174.4h-2.3M689.5 147.5h-2.3M689.5 172h-2.3M689.5 149.6h-2.3M689.5 170.1h-2.3M689.5 151.4h-2.3M689.5 168.4h-2.3M689.5 153.1h-2.3M689.5 166.8h-2.3M697.8 203.5v4.6M767.9 203.5v4.6M805 203.5v4.6M834.7 203.5v4.6M843.6 203.5v2.3M848.9 203.5v2.3M852.6 203.5v2.3M706.4 203.5v2.3M746.6 203.5v2.3M711.5 203.5v2.3M752 203.5v2.3M715.1 203.5v2.3M755.8 203.5v2.3M717.8 203.5v2.3M758.7 203.5v2.3M720.1 203.5v2.3M761.1 203.5v2.3M722 203.5v2.3M763.2 203.5v2.3M723.7 203.5v2.3M764.9 203.5v2.3M725.2 203.5v2.3M766.5 203.5v2.3M779.1 203.5v2.3M785.6 203.5v2.3M790.2 203.5v2.3M793.8 203.5v2.3M796.8 203.5v2.3M799.2 203.5v2.3M801.4 203.5v2.3M803.3 203.5v2.3M813.9 203.5v2.3M819.2 203.5v2.3M822.9 203.5v2.3M825.8 203.5v2.3M828.1 203.5v2.3M830.1 203.5v2.3M831.8 203.5v2.3M833.3 203.5v2.3" fill="none" stroke="#3a3a3a" stroke-width="0.9"/>
<path d="M689.5 155.8h-4.6M689.5 158.6h-3.6M689.5 161.4h-4.6M689.5 164.2h-3.6M727.8 203.5v3.6M730.6 203.5v4.6M733.4 203.5v3.6M736.2 203.5v4.6" fill="none" stroke="#111" stroke-width="2.5"/>
<g filter="url(#bl)">
<path d="M770.1 125h1.35v1.35h-1.35zM782.7 88.2h1.35v1.35h-1.35zM805.1 119.3h1.35v1.35h-1.35zM833.6 84.2h1.35v1.35h-1.35zM790.8 101.6h1.35v1.35h-1.35zM785.2 84.7h1.35v1.35h-1.35zM780.3 83.1h1.35v1.35h-1.35zM808.3 87.9h1.35v1.35h-1.35zM806.5 61.8h1.35v1.35h-1.35zM783.9 81.4h1.35v1.35h-1.35zM776.8 98.3h1.35v1.35h-1.35zM812 119.5h1.35v1.35h-1.35zM826.5 85.3h1.35v1.35h-1.35zM785 92.4h1.35v1.35h-1.35zM802.5 108.7h1.35v1.35h-1.35zM824.4 110.2h1.35v1.35h-1.35zM781.8 93.5h1.35v1.35h-1.35zM788.5 94.7h1.35v1.35h-1.35zM790.3 89.2h1.35v1.35h-1.35zM791.5 86.1h1.35v1.35h-1.35zM785.5 63.9h1.35v1.35h-1.35zM779.7 104.2h1.35v1.35h-1.35zM775.4 89.1h1.35v1.35h-1.35zM804.6 111.6h1.35v1.35h-1.35zM783.8 114h1.35v1.35h-1.35zM777.6 128h1.35v1.35h-1.35zM804.8 70h1.35v1.35h-1.35zM803.2 126.4h1.35v1.35h-1.35zM779.4 96h1.35v1.35h-1.35zM781.7 93.7h1.35v1.35h-1.35zM804.9 89.6h1.35v1.35h-1.35zM799.6 88h1.35v1.35h-1.35zM777.9 89h1.35v1.35h-1.35zM792.5 105.7h1.35v1.35h-1.35zM813.1 96.9h1.35v1.35h-1.35zM777.3 77.1h1.35v1.35h-1.35zM809 94.5h1.35v1.35h-1.35zM774.8 103.1h1.35v1.35h-1.35zM812.1 88.1h1.35v1.35h-1.35zM809.5 129.2h1.35v1.35h-1.35zM769.1 80.1h1.35v1.35h-1.35zM828.9 92.7h1.35v1.35h-1.35zM772.2 84.9h1.35v1.35h-1.35zM776.4 91.1h1.35v1.35h-1.35zM787.2 110h1.35v1.35h-1.35zM807 107h1.35v1.35h-1.35zM803.6 81.4h1.35v1.35h-1.35zM791.3 93.2h1.35v1.35h-1.35zM817.8 97.3h1.35v1.35h-1.35zM800.3 87.7h1.35v1.35h-1.35zM818.3 95h1.35v1.35h-1.35zM844.2 81.6h1.35v1.35h-1.35zM796.5 81.3h1.35v1.35h-1.35zM784.8 75.5h1.35v1.35h-1.35zM773.4 103.8h1.35v1.35h-1.35zM794.7 91.9h1.35v1.35h-1.35zM794.8 77.7h1.35v1.35h-1.35zM770.7 83.7h1.35v1.35h-1.35zM772 86.3h1.35v1.35h-1.35zM788.2 92.5h1.35v1.35h-1.35zM789.4 97.9h1.35v1.35h-1.35zM810.8 78.7h1.35v1.35h-1.35zM793.6 123.5h1.35v1.35h-1.35zM792.8 113.2h1.35v1.35h-1.35zM798.4 97.8h1.35v1.35h-1.35zM774.3 114.1h1.35v1.35h-1.35zM792.1 102h1.35v1.35h-1.35zM812 90.6h1.35v1.35h-1.35zM812.7 97.3h1.35v1.35h-1.35zM787.9 114.9h1.35v1.35h-1.35zM777.9 115.9h1.35v1.35h-1.35zM817.2 87.9h1.35v1.35h-1.35zM802.6 107.3h1.35v1.35h-1.35zM777 116.4h1.35v1.35h-1.35zM816 108.1h1.35v1.35h-1.35zM796.5 126.2h1.35v1.35h-1.35zM779.3 100.1h1.35v1.35h-1.35zM787.9 105.2h1.35v1.35h-1.35zM841 83.4h1.35v1.35h-1.35zM768.1 101.5h1.35v1.35h-1.35zM790.6 97.7h1.35v1.35h-1.35zM770.2 122.5h1.35v1.35h-1.35zM796.2 95.5h1.35v1.35h-1.35zM837.8 80.4h1.35v1.35h-1.35zM822 96h1.35v1.35h-1.35zM793.8 88h1.35v1.35h-1.35zM786 106.1h1.35v1.35h-1.35zM796.7 93.1h1.35v1.35h-1.35zM812.2 84h1.35v1.35h-1.35zM828 85.6h1.35v1.35h-1.35zM798.2 113.7h1.35v1.35h-1.35zM822.9 108.6h1.35v1.35h-1.35zM797.4 98.4h1.35v1.35h-1.35zM820.6 72.5h1.35v1.35h-1.35zM781.6 105.6h1.35v1.35h-1.35zM802.3 70.8h1.35v1.35h-1.35zM822 99.1h1.35v1.35h-1.35zM812.1 96.5h1.35v1.35h-1.35zM784.4 84.1h1.35v1.35h-1.35zM809.7 79.5h1.35v1.35h-1.35zM780.6 82.1h1.35v1.35h-1.35zM802.8 90.4h1.35v1.35h-1.35zM819.2 91.5h1.35v1.35h-1.35zM808.9 114.1h1.35v1.35h-1.35zM769.4 103.6h1.35v1.35h-1.35zM809.3 116h1.35v1.35h-1.35zM805.8 71.8h1.35v1.35h-1.35zM784.4 74.5h1.35v1.35h-1.35zM812.1 94.7h1.35v1.35h-1.35zM809.7 89.9h1.35v1.35h-1.35zM802.4 98.6h1.35v1.35h-1.35zM812.1 101h1.35v1.35h-1.35zM808.1 95h1.35v1.35h-1.35zM802.3 108.5h1.35v1.35h-1.35zM788.3 98.9h1.35v1.35h-1.35zM800.4 85.3h1.35v1.35h-1.35zM782.8 78.8h1.35v1.35h-1.35zM776.6 114.4h1.35v1.35h-1.35zM797.9 67.2h1.35v1.35h-1.35zM785.1 87.8h1.35v1.35h-1.35zM811 127.6h1.35v1.35h-1.35zM806.6 87.5h1.35v1.35h-1.35zM777.7 107.3h1.35v1.35h-1.35zM827.7 91.5h1.35v1.35h-1.35zM771.8 109h1.35v1.35h-1.35zM801.5 96.1h1.35v1.35h-1.35zM813.5 85.7h1.35v1.35h-1.35zM817.2 121.5h1.35v1.35h-1.35zM811.9 69.7h1.35v1.35h-1.35zM816.1 89.2h1.35v1.35h-1.35zM820.2 105.9h1.35v1.35h-1.35zM780.2 110.7h1.35v1.35h-1.35zM791.1 110.3h1.35v1.35h-1.35zM818.4 83.2h1.35v1.35h-1.35zM780.1 108.2h1.35v1.35h-1.35zM816.3 63.4h1.35v1.35h-1.35zM803.6 87.5h1.35v1.35h-1.35zM774.2 103.4h1.35v1.35h-1.35zM784.1 94.5h1.35v1.35h-1.35zM794.8 93.8h1.35v1.35h-1.35zM811.8 83.7h1.35v1.35h-1.35zM789.5 87h1.35v1.35h-1.35zM810.3 101.4h1.35v1.35h-1.35zM786.6 114.6h1.35v1.35h-1.35zM801.7 118.3h1.35v1.35h-1.35zM786.1 60.9h1.35v1.35h-1.35zM773.8 85.5h1.35v1.35h-1.35zM801 92.4h1.35v1.35h-1.35zM829.7 83.1h1.35v1.35h-1.35zM791 115.6h1.35v1.35h-1.35zM779.2 109.9h1.35v1.35h-1.35zM776.9 93.5h1.35v1.35h-1.35zM830.4 97.8h1.35v1.35h-1.35zM792.2 119.8h1.35v1.35h-1.35zM804.6 88.8h1.35v1.35h-1.35zM816.2 89.5h1.35v1.35h-1.35zM813.5 112.9h1.35v1.35h-1.35zM775.5 104.5h1.35v1.35h-1.35zM811.2 122.7h1.35v1.35h-1.35zM809 102.6h1.35v1.35h-1.35zM802.3 109.9h1.35v1.35h-1.35zM812.2 85.1h1.35v1.35h-1.35zM782.3 77.5h1.35v1.35h-1.35zM791.6 95.3h1.35v1.35h-1.35zM807.4 103.3h1.35v1.35h-1.35zM780.6 114.1h1.35v1.35h-1.35zM800.5 97h1.35v1.35h-1.35zM772.2 91.3h1.35v1.35h-1.35zM790.7 116.4h1.35v1.35h-1.35zM786.1 94.7h1.35v1.35h-1.35zM790.8 114.3h1.35v1.35h-1.35zM789.5 109.4h1.35v1.35h-1.35zM788.8 113.5h1.35v1.35h-1.35zM814 100.3h1.35v1.35h-1.35zM781.2 100.8h1.35v1.35h-1.35zM788.3 96.8h1.35v1.35h-1.35zM777.3 116.3h1.35v1.35h-1.35zM812 64.6h1.35v1.35h-1.35zM775.8 90.4h1.35v1.35h-1.35zM802.6 108.1h1.35v1.35h-1.35zM815.4 79.4h1.35v1.35h-1.35zM824.3 93.5h1.35v1.35h-1.35zM815.6 82.2h1.35v1.35h-1.35zM804.8 104h1.35v1.35h-1.35zM770.3 112.1h1.35v1.35h-1.35zM817.5 123.3h1.35v1.35h-1.35zM815.6 105.1h1.35v1.35h-1.35zM808.9 81.8h1.35v1.35h-1.35zM808.3 100.3h1.35v1.35h-1.35zM794.5 106.4h1.35v1.35h-1.35zM783.3 122.5h1.35v1.35h-1.35zM817.2 102.6h1.35v1.35h-1.35zM773.4 60.6h1.35v1.35h-1.35zM810.4 109.2h1.35v1.35h-1.35zM797.8 104h1.35v1.35h-1.35zM809.9 105.1h1.35v1.35h-1.35zM798.4 112.5h1.35v1.35h-1.35zM814.2 102.9h1.35v1.35h-1.35zM812.6 83.2h1.35v1.35h-1.35zM810 102.2h1.35v1.35h-1.35zM808.8 93.3h1.35v1.35h-1.35zM794.2 96.1h1.35v1.35h-1.35zM771.9 72.4h1.35v1.35h-1.35zM806.6 117.7h1.35v1.35h-1.35zM810.2 81.3h1.35v1.35h-1.35zM825.3 87h1.35v1.35h-1.35zM783.8 79.1h1.35v1.35h-1.35zM810.7 90.7h1.35v1.35h-1.35zM801.8 119.9h1.35v1.35h-1.35zM805.6 110.7h1.35v1.35h-1.35zM804.9 123.9h1.35v1.35h-1.35zM795.9 78.4h1.35v1.35h-1.35zM807.3 104.7h1.35v1.35h-1.35zM793.6 124.2h1.35v1.35h-1.35zM798.6 68.5h1.35v1.35h-1.35zM806.2 68.3h1.35v1.35h-1.35zM819.2 104.5h1.35v1.35h-1.35zM796.9 89.1h1.35v1.35h-1.35zM812.2 76.5h1.35v1.35h-1.35zM797.8 102.8h1.35v1.35h-1.35zM803.3 80.5h1.35v1.35h-1.35zM808.1 95.1h1.35v1.35h-1.35zM816.6 97.9h1.35v1.35h-1.35zM792 107.7h1.35v1.35h-1.35zM808.5 113.4h1.35v1.35h-1.35zM801.6 99h1.35v1.35h-1.35zM772.8 91h1.35v1.35h-1.35zM800.2 82.8h1.35v1.35h-1.35zM818.3 64h1.35v1.35h-1.35zM784.5 87.1h1.35v1.35h-1.35zM797.4 107.9h1.35v1.35h-1.35zM829.2 92.5h1.35v1.35h-1.35zM792.8 61.4h1.35v1.35h-1.35zM793.5 111.2h1.35v1.35h-1.35zM781.8 115.3h1.35v1.35h-1.35zM798.3 73.1h1.35v1.35h-1.35zM783.1 64.6h1.35v1.35h-1.35zM776.8 98.3h1.35v1.35h-1.35zM792.5 109h1.35v1.35h-1.35zM778.5 74h1.35v1.35h-1.35zM818.3 88.9h1.35v1.35h-1.35zM771.9 80.6h1.35v1.35h-1.35zM792.3 72.8h1.35v1.35h-1.35zM780.8 70.3h1.35v1.35h-1.35zM824.7 88.3h1.35v1.35h-1.35zM795.3 77.3h1.35v1.35h-1.35zM835.9 92.8h1.35v1.35h-1.35zM768.1 102.6h1.35v1.35h-1.35zM818.1 66.5h1.35v1.35h-1.35zM796.9 97.1h1.35v1.35h-1.35zM783.5 91.7h1.35v1.35h-1.35zM793.1 112.9h1.35v1.35h-1.35zM775.7 74.4h1.35v1.35h-1.35zM796 82.9h1.35v1.35h-1.35zM798.1 116.1h1.35v1.35h-1.35zM770.9 98.1h1.35v1.35h-1.35zM784.3 77.4h1.35v1.35h-1.35zM777.1 62.8h1.35v1.35h-1.35zM784.5 110h1.35v1.35h-1.35zM787.1 94.5h1.35v1.35h-1.35zM783.2 100.2h1.35v1.35h-1.35zM784.1 85.3h1.35v1.35h-1.35zM784.2 76.3h1.35v1.35h-1.35zM777.6 105h1.35v1.35h-1.35zM780.4 73.6h1.35v1.35h-1.35zM769.4 105.5h1.35v1.35h-1.35zM779.4 61.3h1.35v1.35h-1.35zM776.2 74.1h1.35v1.35h-1.35zM780.1 65h1.35v1.35h-1.35zM787.7 112.5h1.35v1.35h-1.35zM785 59.9h1.35v1.35h-1.35zM785.7 70.4h1.35v1.35h-1.35zM790.5 101.4h1.35v1.35h-1.35zM785.4 127.7h1.35v1.35h-1.35zM781.9 121.7h1.35v1.35h-1.35zM781.3 100.6h1.35v1.35h-1.35zM772.1 101.9h1.35v1.35h-1.35zM786.3 58.6h1.35v1.35h-1.35zM790.8 74.8h1.35v1.35h-1.35zM789.9 84.3h1.35v1.35h-1.35zM781.4 86.9h1.35v1.35h-1.35zM786.9 66.3h1.35v1.35h-1.35zM789.1 74h1.35v1.35h-1.35zM796 75.4h1.35v1.35h-1.35zM791.4 108.3h1.35v1.35h-1.35zM783.1 97.3h1.35v1.35h-1.35zM782.8 84.3h1.35v1.35h-1.35zM783.3 85.3h1.35v1.35h-1.35zM783.8 95h1.35v1.35h-1.35zM778.3 78h1.35v1.35h-1.35zM787.9 85.5h1.35v1.35h-1.35zM776.8 60.4h1.35v1.35h-1.35zM775.9 101.5h1.35v1.35h-1.35zM784.7 106.5h1.35v1.35h-1.35zM777.7 96.2h1.35v1.35h-1.35zM780.2 98.2h1.35v1.35h-1.35zM788.1 125.1h1.35v1.35h-1.35zM782 93.5h1.35v1.35h-1.35zM781.1 67.2h1.35v1.35h-1.35zM785.6 71.9h1.35v1.35h-1.35zM783.6 102.2h1.35v1.35h-1.35zM776.7 108.4h1.35v1.35h-1.35zM797.3 103.3h1.35v1.35h-1.35zM778.6 104.5h1.35v1.35h-1.35zM789.5 93.2h1.35v1.35h-1.35zM796 64.3h1.35v1.35h-1.35zM777.3 77.8h1.35v1.35h-1.35zM782.7 58.8h1.35v1.35h-1.35zM775.8 83.3h1.35v1.35h-1.35zM790 66.5h1.35v1.35h-1.35zM779.5 91.6h1.35v1.35h-1.35zM773.6 87h1.35v1.35h-1.35zM789 102.6h1.35v1.35h-1.35zM775.2 103.1h1.35v1.35h-1.35zM791.1 66h1.35v1.35h-1.35zM783.5 92.4h1.35v1.35h-1.35zM802.7 102.3h1.35v1.35h-1.35zM795.1 84.9h1.35v1.35h-1.35zM777.8 104.7h1.35v1.35h-1.35zM780 93.2h1.35v1.35h-1.35zM775.3 108.4h1.35v1.35h-1.35zM783 93.1h1.35v1.35h-1.35zM782.4 87h1.35v1.35h-1.35zM787.6 98.7h1.35v1.35h-1.35zM782.7 103.4h1.35v1.35h-1.35zM770.8 94.2h1.35v1.35h-1.35zM775.8 82.1h1.35v1.35h-1.35zM792.8 76.2h1.35v1.35h-1.35zM790.8 83.4h1.35v1.35h-1.35zM780.8 79.9h1.35v1.35h-1.35zM781 93.4h1.35v1.35h-1.35zM780.7 92.8h1.35v1.35h-1.35zM782.2 88.3h1.35v1.35h-1.35zM769.2 89.8h1.35v1.35h-1.35zM788.8 92.8h1.35v1.35h-1.35zM777 116.9h1.35v1.35h-1.35zM783.1 110.6h1.35v1.35h-1.35zM783.8 97.1h1.35v1.35h-1.35zM792.2 84.1h1.35v1.35h-1.35zM746.6 156.7h1.35v1.35h-1.35zM744.8 153.2h1.35v1.35h-1.35zM740 153.5h1.35v1.35h-1.35zM730.8 140.1h1.35v1.35h-1.35zM717 146.5h1.35v1.35h-1.35zM750.3 172.6h1.35v1.35h-1.35zM736.5 154.2h1.35v1.35h-1.35zM754.1 153.5h1.35v1.35h-1.35zM743 155.5h1.35v1.35h-1.35zM751.3 144.6h1.35v1.35h-1.35zM737.7 163.1h1.35v1.35h-1.35zM744.9 144.8h1.35v1.35h-1.35zM746.4 147.1h1.35v1.35h-1.35zM718 164.8h1.35v1.35h-1.35zM750.5 131.5h1.35v1.35h-1.35zM746 150.6h1.35v1.35h-1.35zM716.7 134.2h1.35v1.35h-1.35zM755.9 142.6h1.35v1.35h-1.35zM747.3 147h1.35v1.35h-1.35zM750.3 145h1.35v1.35h-1.35zM752.3 149.1h1.35v1.35h-1.35zM742.5 141.7h1.35v1.35h-1.35zM734.2 146.9h1.35v1.35h-1.35zM742.1 138.4h1.35v1.35h-1.35zM742.4 144.7h1.35v1.35h-1.35zM741.6 137.6h1.35v1.35h-1.35zM742.5 153.2h1.35v1.35h-1.35zM751.8 144.5h1.35v1.35h-1.35zM754.8 145.4h1.35v1.35h-1.35zM739 157.1h1.35v1.35h-1.35zM735.1 148.6h1.35v1.35h-1.35zM761 151.7h1.35v1.35h-1.35zM725.5 149.9h1.35v1.35h-1.35zM737.3 144.6h1.35v1.35h-1.35zM750.4 136.7h1.35v1.35h-1.35zM754.6 148.4h1.35v1.35h-1.35zM743.4 145.3h1.35v1.35h-1.35zM727.3 163.6h1.35v1.35h-1.35zM750.4 144.3h1.35v1.35h-1.35zM755.2 163.1h1.35v1.35h-1.35zM747.6 158.7h1.35v1.35h-1.35zM741.4 142.9h1.35v1.35h-1.35zM754.9 141.3h1.35v1.35h-1.35zM746.9 158.2h1.35v1.35h-1.35zM733.5 146.7h1.35v1.35h-1.35zM748.8 149h1.35v1.35h-1.35zM731.3 145.7h1.35v1.35h-1.35zM759.8 138.2h1.35v1.35h-1.35zM753.5 144.8h1.35v1.35h-1.35zM735 140.2h1.35v1.35h-1.35zM750.3 135.6h1.35v1.35h-1.35zM720.5 161.9h1.35v1.35h-1.35zM745.8 160.6h1.35v1.35h-1.35zM728 148.8h1.35v1.35h-1.35zM745.5 151.8h1.35v1.35h-1.35zM729.6 158.6h1.35v1.35h-1.35zM746.8 150.3h1.35v1.35h-1.35zM717.2 144h1.35v1.35h-1.35zM727.1 144.7h1.35v1.35h-1.35zM740.8 156.8h1.35v1.35h-1.35zM749.4 168.5h1.35v1.35h-1.35zM752.4 142.8h1.35v1.35h-1.35zM753 131.5h1.35v1.35h-1.35zM815.5 155.8h1.35v1.35h-1.35zM797.9 132h1.35v1.35h-1.35zM802.2 147.2h1.35v1.35h-1.35zM824 133.6h1.35v1.35h-1.35zM800.8 143.9h1.35v1.35h-1.35zM773 156h1.35v1.35h-1.35zM798.5 158.5h1.35v1.35h-1.35zM776.4 146h1.35v1.35h-1.35zM805.2 147.7h1.35v1.35h-1.35zM774 148.9h1.35v1.35h-1.35zM792.4 152.3h1.35v1.35h-1.35zM770.1 143.2h1.35v1.35h-1.35zM792.2 156.7h1.35v1.35h-1.35zM790.5 149.7h1.35v1.35h-1.35zM811.3 157.1h1.35v1.35h-1.35zM826.2 151.1h1.35v1.35h-1.35zM795.8 152.9h1.35v1.35h-1.35zM782.2 140.2h1.35v1.35h-1.35zM838.4 143h1.35v1.35h-1.35zM806.7 135.1h1.35v1.35h-1.35zM811.6 144.1h1.35v1.35h-1.35zM811.6 145.2h1.35v1.35h-1.35zM828.4 154.3h1.35v1.35h-1.35zM819.6 135.4h1.35v1.35h-1.35zM814.7 145.7h1.35v1.35h-1.35zM782.3 158.1h1.35v1.35h-1.35zM787.3 156.1h1.35v1.35h-1.35zM801.3 144.4h1.35v1.35h-1.35zM799.8 160h1.35v1.35h-1.35zM800 153.7h1.35v1.35h-1.35zM790.9 138.5h1.35v1.35h-1.35zM816.2 148.8h1.35v1.35h-1.35zM782 148.5h1.35v1.35h-1.35zM809.4 140.9h1.35v1.35h-1.35zM807.4 140h1.35v1.35h-1.35zM800.9 153.1h1.35v1.35h-1.35zM775.4 149.8h1.35v1.35h-1.35zM787.5 151.7h1.35v1.35h-1.35zM831.7 146.3h1.35v1.35h-1.35zM782.4 140.2h1.35v1.35h-1.35zM792.6 149.1h1.35v1.35h-1.35zM777.3 160.4h1.35v1.35h-1.35zM789.7 148.5h1.35v1.35h-1.35zM806.3 154.8h1.35v1.35h-1.35zM812.7 131.9h1.35v1.35h-1.35zM800.2 152h1.35v1.35h-1.35zM787.4 151.6h1.35v1.35h-1.35zM818.8 149.1h1.35v1.35h-1.35zM818.9 136.7h1.35v1.35h-1.35zM796.1 144.6h1.35v1.35h-1.35zM821.6 147.6h1.35v1.35h-1.35zM786.1 135.8h1.35v1.35h-1.35zM793.2 137.1h1.35v1.35h-1.35zM818.5 151.8h1.35v1.35h-1.35zM794.1 156h1.35v1.35h-1.35zM775.6 141.7h1.35v1.35h-1.35zM785.8 140.4h1.35v1.35h-1.35zM773 140.2h1.35v1.35h-1.35zM810.5 169h1.35v1.35h-1.35z" fill="#5a5a5a" fill-opacity="0.6"/>
<path d="M754.5 110.8h1.35v1.35h-1.35zM732.5 116h1.35v1.35h-1.35zM726.3 79.9h1.35v1.35h-1.35zM756.3 61h1.35v1.35h-1.35zM739.6 126.5h1.35v1.35h-1.35zM730.1 112.6h1.35v1.35h-1.35zM775.7 75h1.35v1.35h-1.35zM728 112.9h1.35v1.35h-1.35zM779.2 73.1h1.35v1.35h-1.35zM744.4 121.9h1.35v1.35h-1.35zM727 99.6h1.35v1.35h-1.35zM780.1 74.5h1.35v1.35h-1.35zM730.9 115.8h1.35v1.35h-1.35zM777.6 83.1h1.35v1.35h-1.35zM773.5 69.1h1.35v1.35h-1.35zM752.9 115.2h1.35v1.35h-1.35zM747.5 120.2h1.35v1.35h-1.35zM731.3 122.4h1.35v1.35h-1.35zM729.5 107.2h1.35v1.35h-1.35zM725.4 87.1h1.35v1.35h-1.35zM727.4 104.4h1.35v1.35h-1.35zM775.1 72.7h1.35v1.35h-1.35zM728.9 72.8h1.35v1.35h-1.35zM756.3 109.4h1.35v1.35h-1.35zM724.2 96.3h1.35v1.35h-1.35zM736 128.3h1.35v1.35h-1.35zM761.8 100.6h1.35v1.35h-1.35zM744.5 63.6h1.35v1.35h-1.35zM727.3 99.5h1.35v1.35h-1.35zM723.3 92.2h1.35v1.35h-1.35zM732.9 118.9h1.35v1.35h-1.35zM759.2 61.4h1.35v1.35h-1.35zM729.6 65.9h1.35v1.35h-1.35zM727.7 101.5h1.35v1.35h-1.35zM723.7 98.9h1.35v1.35h-1.35zM738.5 128.9h1.35v1.35h-1.35zM769 91.8h1.35v1.35h-1.35zM767 63.6h1.35v1.35h-1.35zM735.5 66h1.35v1.35h-1.35zM776.9 83.9h1.35v1.35h-1.35zM723.7 94.1h1.35v1.35h-1.35zM775.8 80.9h1.35v1.35h-1.35zM738.2 63.9h1.35v1.35h-1.35zM727.9 74.4h1.35v1.35h-1.35zM748.2 118.7h1.35v1.35h-1.35zM747.6 118.1h1.35v1.35h-1.35zM761.8 99.4h1.35v1.35h-1.35zM726.8 68.6h1.35v1.35h-1.35zM726.7 76.1h1.35v1.35h-1.35zM766.3 91.9h1.35v1.35h-1.35zM757.7 105.4h1.35v1.35h-1.35zM726.3 81.5h1.35v1.35h-1.35zM729.6 109.5h1.35v1.35h-1.35zM752.1 112h1.35v1.35h-1.35zM780.2 75.4h1.35v1.35h-1.35zM778.1 71.1h1.35v1.35h-1.35zM727.3 72.3h1.35v1.35h-1.35zM762 100.9h1.35v1.35h-1.35zM728.7 106.2h1.35v1.35h-1.35zM729.1 116.6h1.35v1.35h-1.35zM744.7 122h1.35v1.35h-1.35zM731.7 67.3h1.35v1.35h-1.35zM743.2 63.4h1.35v1.35h-1.35zM731.3 64.8h1.35v1.35h-1.35zM724.5 93.3h1.35v1.35h-1.35zM761.5 98.4h1.35v1.35h-1.35zM738.1 125.1h1.35v1.35h-1.35zM739.5 126.2h1.35v1.35h-1.35zM722.9 84.2h1.35v1.35h-1.35zM730.9 115.6h1.35v1.35h-1.35zM767.8 90.9h1.35v1.35h-1.35zM763.6 99.2h1.35v1.35h-1.35zM726.9 75.8h1.35v1.35h-1.35zM736.4 126.3h1.35v1.35h-1.35zM758.7 103.8h1.35v1.35h-1.35zM777.2 74.2h1.35v1.35h-1.35zM736.4 123.9h1.35v1.35h-1.35zM726.7 98.9h1.35v1.35h-1.35zM726.1 96.3h1.35v1.35h-1.35zM749 61.9h1.35v1.35h-1.35zM761 102.6h1.35v1.35h-1.35zM729.8 109.6h1.35v1.35h-1.35zM725.3 89.9h1.35v1.35h-1.35zM764.4 94.2h1.35v1.35h-1.35zM766 92.4h1.35v1.35h-1.35zM765.8 62.6h1.35v1.35h-1.35zM762.6 63.3h1.35v1.35h-1.35zM726.2 95.9h1.35v1.35h-1.35zM759.7 105.8h1.35v1.35h-1.35zM726.3 97.7h1.35v1.35h-1.35zM763.5 61.8h1.35v1.35h-1.35zM772.9 69.4h1.35v1.35h-1.35zM752.5 111.4h1.35v1.35h-1.35zM763.2 97.8h1.35v1.35h-1.35zM752.4 112.1h1.35v1.35h-1.35zM731.2 112.7h1.35v1.35h-1.35zM753.7 112h1.35v1.35h-1.35zM775 69.7h1.35v1.35h-1.35zM746.2 120.6h1.35v1.35h-1.35zM753.6 62.8h1.35v1.35h-1.35zM726 75.6h1.35v1.35h-1.35zM767 65h1.35v1.35h-1.35zM778.6 81.7h1.35v1.35h-1.35zM726.3 76.1h1.35v1.35h-1.35zM742.2 122.4h1.35v1.35h-1.35zM777 73.7h1.35v1.35h-1.35zM724.4 103.4h1.35v1.35h-1.35zM754.8 112.5h1.35v1.35h-1.35zM743.3 63.1h1.35v1.35h-1.35zM746.8 61.4h1.35v1.35h-1.35zM727.8 103.5h1.35v1.35h-1.35zM755.9 108.3h1.35v1.35h-1.35zM727.4 104.3h1.35v1.35h-1.35zM749.4 63h1.35v1.35h-1.35zM731.7 122.9h1.35v1.35h-1.35zM771.6 68.5h1.35v1.35h-1.35zM761.3 59.8h1.35v1.35h-1.35zM759.9 105h1.35v1.35h-1.35zM726.4 70.8h1.35v1.35h-1.35zM740.6 123.9h1.35v1.35h-1.35zM769.2 88.8h1.35v1.35h-1.35zM771 67.6h1.35v1.35h-1.35zM731.9 120.4h1.35v1.35h-1.35zM760.2 100.9h1.35v1.35h-1.35zM758.8 107.3h1.35v1.35h-1.35zM770.8 63.8h1.35v1.35h-1.35zM731.8 120.9h1.35v1.35h-1.35zM744.8 62.1h1.35v1.35h-1.35zM728 102.9h1.35v1.35h-1.35zM765.9 60h1.35v1.35h-1.35zM747.8 117.9h1.35v1.35h-1.35zM776.7 74h1.35v1.35h-1.35zM734.2 66.6h1.35v1.35h-1.35zM778.6 71.8h1.35v1.35h-1.35zM725.7 84.5h1.35v1.35h-1.35zM755.3 109.3h1.35v1.35h-1.35zM780.4 78.7h1.35v1.35h-1.35zM771.6 68.4h1.35v1.35h-1.35zM778.4 69.7h1.35v1.35h-1.35zM770.4 67.4h1.35v1.35h-1.35zM753.1 112.9h1.35v1.35h-1.35zM734.7 124.5h1.35v1.35h-1.35zM723.3 81.5h1.35v1.35h-1.35zM761.7 102.3h1.35v1.35h-1.35zM776.6 77.7h1.35v1.35h-1.35zM724.7 76.1h1.35v1.35h-1.35zM724.3 76.9h1.35v1.35h-1.35zM756.5 110.6h1.35v1.35h-1.35zM777.8 77.3h1.35v1.35h-1.35zM772.4 67.3h1.35v1.35h-1.35zM727.9 71.1h1.35v1.35h-1.35zM746.5 118.1h1.35v1.35h-1.35zM746 120.4h1.35v1.35h-1.35zM755.9 62.8h1.35v1.35h-1.35zM770.2 88.1h1.35v1.35h-1.35zM768 63.1h1.35v1.35h-1.35zM774 68.7h1.35v1.35h-1.35zM774.6 84.6h1.35v1.35h-1.35zM727.1 77.8h1.35v1.35h-1.35zM774.4 68.3h1.35v1.35h-1.35zM742.7 63.7h1.35v1.35h-1.35zM724.4 91.5h1.35v1.35h-1.35zM774.9 85.2h1.35v1.35h-1.35zM744.1 63.7h1.35v1.35h-1.35zM780.4 78.1h1.35v1.35h-1.35zM774.5 83.3h1.35v1.35h-1.35zM740.5 64.2h1.35v1.35h-1.35zM746.7 121.3h1.35v1.35h-1.35zM725.4 91.4h1.35v1.35h-1.35zM733.1 125.1h1.35v1.35h-1.35z" fill="#555" fill-opacity="0.5"/>
<path d="M726 86.5L726.4 83.7L727 80.3L727.8 76.9L728.8 74L730.1 71.8L731.6 69.9L733.2 68.3L735 67L736.7 66L738.5 65.3L740.5 64.8L743 64.4L746.3 64L750.2 63.7L754.3 63.7L758 63.9L761.4 64.5L764.6 65.3L767.5 66.5L770 68L772.1 70L773.9 72.5L775.1 75.1L775.8 77.5L775.7 79.5L775 81.3L773.9 83.1L772.5 85L770.8 86.9L768.7 88.8L766.5 90.8L764.5 93L762.8 95.4L761.3 98.1L759.7 100.8L758 103.5L756 106.2L753.9 109L751.7 111.8L749.5 114.3L747.1 116.9L744.6 119.5L742.2 121.6L740 122.6L738.1 122.2L736.3 120.9L734.7 118.8L733.3 116.5L732 113.7L730.9 110.3L729.9 106.8L729 103.6L728.2 100.7L727.4 97.9L726.8 95.3L726.3 93L726 91.2L725.8 89.9L725.8 88.5Z" fill="#fff" stroke="#fff" stroke-width="1.6"/>
<path d="M726 86.5L726.4 83.7L727 80.3L727.8 76.9L728.8 74L730.1 71.8L731.6 69.9L733.2 68.3L735 67L736.7 66L738.5 65.3L740.5 64.8L743 64.4L746.3 64L750.2 63.7L754.3 63.7L758 63.9L761.4 64.5L764.6 65.3L767.5 66.5L770 68L772.1 70L773.9 72.5L775.1 75.1L775.8 77.5L775.7 79.5L775 81.3L773.9 83.1L772.5 85L770.8 86.9L768.7 88.8L766.5 90.8L764.5 93L762.8 95.4L761.3 98.1L759.7 100.8L758 103.5L756 106.2L753.9 109L751.7 111.8L749.5 114.3L747.1 116.9L744.6 119.5L742.2 121.6L740 122.6L738.1 122.2L736.3 120.9L734.7 118.8L733.3 116.5L732 113.7L730.9 110.3L729.9 106.8L729 103.6L728.2 100.7L727.4 97.9L726.8 95.3L726.3 93L726 91.2L725.8 89.9L725.8 88.5Z" fill="none" stroke="#6a6a6a" stroke-width="0.8"/>
<path d="M727.9 86.2L728.2 83.7L728.8 80.6L729.5 77.5L730.4 74.9L731.6 72.9L732.9 71.2L734.4 69.7L736 68.6L737.6 67.6L739.1 67L741 66.6L743.3 66.2L746.3 65.9L749.8 65.6L753.5 65.5L756.8 65.7L759.9 66.3L762.8 67L765.5 68.1L767.7 69.5L769.6 71.3L771.2 73.6L772.4 75.9L773 78.1L772.9 79.9L772.3 81.5L771.2 83.2L770 84.9L768.4 86.6L766.5 88.3L764.6 90.1L762.7 92.1L761.2 94.3L759.8 96.7L758.4 99.2L756.8 101.6L755.1 104.1L753.2 106.6L751.2 109.1L749.2 111.4L747 113.7L744.7 116.1L742.5 118L740.5 118.9L738.8 118.6L737.2 117.4L735.8 115.5L734.5 113.4L733.3 110.9L732.3 107.8L731.4 104.6L730.6 101.7L729.8 99.1L729.1 96.5L728.6 94.2L728.1 92.1L727.9 90.5L727.7 89.3L727.7 88Z" fill="#383838" fill-opacity="0.068" stroke="#6a6a6a" stroke-width="0.6" stroke-opacity=".8"/>
<path d="M729.6 86L729.9 83.6L730.4 80.9L731.1 78.1L731.9 75.7L732.9 73.9L734.2 72.4L735.5 71.1L737 70L738.4 69.2L739.8 68.6L741.4 68.2L743.5 67.9L746.2 67.6L749.4 67.3L752.7 67.3L755.8 67.5L758.5 67.9L761.2 68.6L763.6 69.6L765.6 70.8L767.3 72.5L768.7 74.5L769.8 76.7L770.3 78.6L770.3 80.2L769.7 81.7L768.8 83.2L767.6 84.7L766.2 86.3L764.5 87.8L762.7 89.5L761.1 91.3L759.7 93.3L758.5 95.4L757.2 97.6L755.8 99.9L754.2 102.1L752.5 104.4L750.7 106.6L748.8 108.7L746.9 110.8L744.8 112.9L742.9 114.7L741.1 115.5L739.5 115.2L738.1 114.1L736.8 112.4L735.6 110.5L734.5 108.2L733.6 105.4L732.8 102.6L732.1 99.9L731.4 97.6L730.8 95.3L730.2 93.2L729.9 91.3L729.6 89.8L729.4 88.7L729.4 87.5Z" fill="#383838" fill-opacity="0.068" stroke="#6a6a6a" stroke-width="0.6" stroke-opacity=".8"/>
<path d="M731.3 85.7L731.6 83.6L732 81.1L732.6 78.7L733.4 76.5L734.3 74.9L735.4 73.5L736.6 72.4L737.9 71.4L739.1 70.7L740.4 70.2L741.9 69.8L743.7 69.5L746.2 69.2L749.1 69L752 69L754.7 69.1L757.2 69.6L759.5 70.2L761.7 71L763.5 72.2L765.1 73.6L766.3 75.5L767.3 77.4L767.8 79.1L767.7 80.6L767.2 81.9L766.4 83.2L765.4 84.6L764.1 86L762.6 87.4L761 88.9L759.5 90.5L758.3 92.2L757.1 94.2L756 96.2L754.7 98.1L753.3 100.1L751.8 102.2L750.2 104.2L748.5 106.1L746.8 107.9L744.9 109.9L743.2 111.4L741.6 112.1L740.1 111.9L738.9 110.9L737.7 109.4L736.6 107.7L735.7 105.6L734.9 103.1L734.2 100.6L733.5 98.2L732.9 96.1L732.3 94L731.9 92.1L731.5 90.5L731.3 89.2L731.2 88.2L731.2 87.1Z" fill="#383838" fill-opacity="0.068" stroke="#6a6a6a" stroke-width="0.6" stroke-opacity=".8"/>
<path d="M733 85.4L733.2 83.6L733.6 81.4L734.1 79.2L734.8 77.3L735.6 75.9L736.6 74.7L737.7 73.7L738.8 72.8L739.9 72.2L741 71.7L742.3 71.4L744 71.1L746.1 70.9L748.7 70.7L751.3 70.6L753.7 70.8L755.9 71.2L758 71.7L759.9 72.5L761.5 73.5L762.8 74.8L764 76.4L764.8 78.1L765.2 79.6L765.2 80.9L764.7 82.1L764 83.3L763.1 84.5L762 85.7L760.6 86.9L759.2 88.2L757.9 89.7L756.8 91.2L755.8 92.9L754.8 94.7L753.7 96.5L752.4 98.2L751.1 100.1L749.7 101.8L748.2 103.5L746.7 105.1L745 106.8L743.5 108.2L742 108.8L740.8 108.6L739.7 107.7L738.6 106.4L737.7 104.9L736.9 103.1L736.1 100.9L735.5 98.6L734.9 96.5L734.4 94.6L733.9 92.8L733.5 91.2L733.2 89.7L733 88.5L732.8 87.6L732.8 86.7Z" fill="#383838" fill-opacity="0.068" stroke="#6a6a6a" stroke-width="0.6" stroke-opacity=".8"/>
<path d="M734.6 85.2L734.8 83.6L735.2 81.7L735.6 79.8L736.2 78.1L736.9 76.9L737.8 75.8L738.7 74.9L739.7 74.2L740.7 73.6L741.6 73.2L742.8 72.9L744.2 72.7L746.1 72.5L748.3 72.3L750.6 72.3L752.7 72.4L754.6 72.8L756.4 73.2L758.1 73.9L759.5 74.7L760.7 75.9L761.7 77.3L762.4 78.8L762.8 80.1L762.7 81.2L762.3 82.3L761.7 83.3L760.9 84.3L759.9 85.4L758.7 86.5L757.5 87.6L756.4 88.9L755.4 90.2L754.5 91.7L753.7 93.3L752.7 94.8L751.6 96.3L750.4 97.9L749.2 99.5L747.9 100.9L746.6 102.4L745.1 103.8L743.8 105L742.5 105.6L741.4 105.4L740.4 104.6L739.6 103.5L738.7 102.1L738 100.6L737.4 98.7L736.8 96.7L736.3 94.9L735.8 93.2L735.4 91.6L735 90.2L734.8 88.9L734.6 87.9L734.5 87.1L734.5 86.3Z" fill="#383838" fill-opacity="0.068" stroke="#6a6a6a" stroke-width="0.6" stroke-opacity=".8"/>
<path d="M736.2 84.9L736.4 83.6L736.7 81.9L737.1 80.3L737.6 78.9L738.2 77.8L738.9 76.9L739.7 76.2L740.6 75.5L741.4 75L742.3 74.7L743.2 74.5L744.4 74.3L746.1 74.1L747.9 74L749.9 73.9L751.7 74L753.3 74.3L754.9 74.7L756.3 75.3L757.5 76L758.5 77L759.3 78.2L760 79.5L760.3 80.6L760.2 81.6L759.9 82.5L759.3 83.3L758.7 84.2L757.9 85.1L756.9 86.1L755.8 87L754.8 88.1L754 89.3L753.3 90.5L752.5 91.8L751.7 93.2L750.7 94.5L749.7 95.8L748.7 97.1L747.6 98.4L746.4 99.6L745.2 100.9L744.1 101.9L743 102.4L742.1 102.2L741.2 101.5L740.5 100.6L739.8 99.4L739.1 98.1L738.6 96.5L738.1 94.8L737.7 93.2L737.3 91.8L736.9 90.5L736.6 89.2L736.4 88.1L736.2 87.2L736.1 86.6L736.1 85.9Z" fill="#383838" fill-opacity="0.068" stroke="#6a6a6a" stroke-width="0.6" stroke-opacity=".8"/>
<path d="M737.9 84.7L738 83.6L738.3 82.2L738.6 80.8L739 79.7L739.5 78.8L740.1 78L740.8 77.4L741.5 76.9L742.2 76.5L742.9 76.2L743.7 76L744.7 75.8L746 75.7L747.6 75.6L749.2 75.5L750.7 75.6L752 75.9L753.3 76.2L754.5 76.7L755.5 77.3L756.4 78.1L757.1 79.1L757.6 80.1L757.8 81.1L757.8 81.9L757.5 82.6L757.1 83.4L756.5 84.1L755.8 84.9L755 85.6L754.1 86.4L753.3 87.3L752.6 88.3L752 89.3L751.4 90.4L750.7 91.5L749.9 92.6L749.1 93.7L748.2 94.8L747.3 95.9L746.3 96.9L745.3 97.9L744.4 98.8L743.5 99.2L742.7 99L742 98.5L741.4 97.7L740.8 96.7L740.3 95.6L739.8 94.3L739.4 92.9L739.1 91.6L738.7 90.4L738.4 89.3L738.2 88.2L738 87.3L737.9 86.6L737.8 86.1L737.8 85.5Z" fill="#383838" fill-opacity="0.068" stroke="#6a6a6a" stroke-width="0.6" stroke-opacity=".8"/>
<path d="M739.5 84.5L739.6 83.6L739.8 82.5L740 81.4L740.4 80.5L740.8 79.7L741.2 79.1L741.8 78.6L742.3 78.2L742.9 77.9L743.4 77.7L744.1 77.5L744.9 77.4L746 77.3L747.2 77.2L748.5 77.1L749.7 77.2L750.8 77.4L751.8 77.7L752.7 78.1L753.5 78.5L754.2 79.2L754.8 80L755.2 80.8L755.4 81.6L755.4 82.2L755.2 82.8L754.8 83.4L754.3 84L753.8 84.6L753.1 85.2L752.4 85.8L751.8 86.5L751.2 87.3L750.8 88.2L750.3 89L749.7 89.9L749.1 90.8L748.4 91.7L747.7 92.6L747 93.4L746.2 94.2L745.4 95L744.6 95.7L743.9 96L743.3 95.9L742.8 95.5L742.3 94.8L741.8 94.1L741.4 93.2L741 92.1L740.7 91L740.4 89.9L740.2 89L739.9 88.1L739.7 87.3L739.6 86.5L739.5 86L739.4 85.5L739.4 85.1Z" fill="#383838" fill-opacity="0.068" stroke="#6a6a6a" stroke-width="0.6" stroke-opacity=".8"/>
<path d="M741.1 84.2L741.2 83.5L741.3 82.7L741.5 81.9L741.7 81.2L742 80.7L742.4 80.2L742.8 79.9L743.2 79.5L743.6 79.3L744 79.1L744.5 79L745.1 78.9L745.9 78.8L746.9 78.8L747.8 78.7L748.7 78.8L749.5 78.9L750.3 79.1L751 79.4L751.6 79.8L752.1 80.3L752.5 80.9L752.8 81.5L753 82.1L753 82.5L752.8 83L752.5 83.4L752.2 83.9L751.8 84.3L751.3 84.8L750.8 85.3L750.3 85.8L749.9 86.4L749.5 87L749.1 87.6L748.7 88.3L748.3 88.9L747.8 89.6L747.2 90.3L746.7 90.9L746.1 91.5L745.5 92.1L744.9 92.6L744.4 92.9L743.9 92.8L743.5 92.5L743.1 92L742.8 91.4L742.5 90.7L742.2 89.9L742 89.1L741.8 88.3L741.6 87.6L741.4 87L741.2 86.3L741.1 85.8L741.1 85.4L741 85L741 84.7Z" fill="#383838" fill-opacity="0.068" stroke="#6a6a6a" stroke-width="0.6" stroke-opacity=".8"/>
<path d="M742.6 84L742.7 83.5L742.8 83L742.9 82.4L743.1 82L743.3 81.6L743.5 81.3L743.8 81.1L744.1 80.9L744.3 80.7L744.6 80.6L744.9 80.5L745.4 80.5L745.9 80.4L746.5 80.3L747.2 80.3L747.7 80.4L748.3 80.5L748.8 80.6L749.3 80.8L749.7 81L750 81.4L750.3 81.7L750.5 82.2L750.6 82.5L750.6 82.9L750.5 83.2L750.3 83.4L750.1 83.7L749.8 84L749.5 84.3L749.1 84.7L748.8 85L748.5 85.4L748.3 85.8L748 86.3L747.7 86.7L747.4 87.1L747.1 87.6L746.7 88L746.4 88.4L746 88.8L745.6 89.2L745.2 89.6L744.9 89.7L744.6 89.7L744.3 89.5L744 89.1L743.8 88.8L743.6 88.3L743.4 87.8L743.3 87.2L743.1 86.7L743 86.2L742.9 85.8L742.8 85.4L742.7 85L742.6 84.7L742.6 84.5L742.6 84.3Z" fill="#383838" fill-opacity="0.068" stroke="#6a6a6a" stroke-width="0.6" stroke-opacity=".8"/>
<path d="M744.2 83.7L744.2 83.5L744.3 83.2L744.4 83L744.4 82.7L744.5 82.6L744.7 82.4L744.8 82.3L744.9 82.2L745.1 82.1L745.2 82L745.4 82L745.6 82L745.8 81.9L746.2 81.9L746.5 81.9L746.8 81.9L747 82L747.3 82L747.5 82.1L747.7 82.3L747.9 82.4L748 82.6L748.1 82.8L748.2 83L748.2 83.2L748.1 83.3L748 83.5L747.9 83.6L747.8 83.8L747.6 83.9L747.5 84.1L747.3 84.3L747.2 84.5L747 84.7L746.9 84.9L746.8 85.1L746.6 85.3L746.5 85.5L746.3 85.8L746.1 86L745.9 86.2L745.7 86.4L745.5 86.5L745.3 86.6L745.2 86.6L745 86.5L744.9 86.3L744.8 86.1L744.7 85.9L744.6 85.6L744.5 85.4L744.5 85.1L744.4 84.9L744.3 84.7L744.3 84.4L744.2 84.3L744.2 84.1L744.2 84L744.2 83.9Z" fill="#383838" fill-opacity="0.068" stroke="#6a6a6a" stroke-width="0.6" stroke-opacity=".8"/>
<ellipse cx="745.5" cy="84" rx="1.5" ry="2.6" transform="rotate(30 745.5 84)" fill="#fff" fill-opacity="0.85"/>
<path d="M804.4 108.7h1.35v1.35h-1.35zM810.6 108.9h1.35v1.35h-1.35zM810.3 89.4h1.35v1.35h-1.35zM807.4 86.1h1.35v1.35h-1.35zM812 106.3h1.35v1.35h-1.35zM803.3 86.6h1.35v1.35h-1.35zM816.7 98.4h1.35v1.35h-1.35zM807.1 107.9h1.35v1.35h-1.35zM800.4 87.9h1.35v1.35h-1.35zM813.9 103.8h1.35v1.35h-1.35zM803.6 107.9h1.35v1.35h-1.35zM810.3 86.5h1.35v1.35h-1.35zM805.4 88.5h1.35v1.35h-1.35zM816.9 98.1h1.35v1.35h-1.35zM815.1 100.6h1.35v1.35h-1.35zM811.8 105.9h1.35v1.35h-1.35zM800.3 102.9h1.35v1.35h-1.35zM815.7 92.5h1.35v1.35h-1.35zM805.9 110.3h1.35v1.35h-1.35zM798.4 104.1h1.35v1.35h-1.35zM817.2 100.2h1.35v1.35h-1.35zM814.6 93.4h1.35v1.35h-1.35zM815.1 98.4h1.35v1.35h-1.35zM797.5 91.3h1.35v1.35h-1.35zM803.3 106.4h1.35v1.35h-1.35zM811.6 90.1h1.35v1.35h-1.35zM796.9 97.3h1.35v1.35h-1.35zM808.4 108.2h1.35v1.35h-1.35zM813.7 103.3h1.35v1.35h-1.35zM798 102.5h1.35v1.35h-1.35zM816.3 91.1h1.35v1.35h-1.35zM799.7 102.6h1.35v1.35h-1.35zM805.9 88.7h1.35v1.35h-1.35zM813.2 90.6h1.35v1.35h-1.35zM809.1 107.3h1.35v1.35h-1.35zM799.8 91.4h1.35v1.35h-1.35zM812.3 88.6h1.35v1.35h-1.35zM799.4 100.2h1.35v1.35h-1.35zM814.3 89.2h1.35v1.35h-1.35zM813.8 102.8h1.35v1.35h-1.35zM808.1 88.6h1.35v1.35h-1.35zM814.7 89.8h1.35v1.35h-1.35zM808.8 88.8h1.35v1.35h-1.35zM805.1 88.7h1.35v1.35h-1.35zM814.7 90.6h1.35v1.35h-1.35zM800.7 91.3h1.35v1.35h-1.35zM803.7 107.8h1.35v1.35h-1.35zM812.5 106.4h1.35v1.35h-1.35zM810.4 106.9h1.35v1.35h-1.35zM812.2 105.6h1.35v1.35h-1.35zM800.4 89.9h1.35v1.35h-1.35zM816.5 95h1.35v1.35h-1.35zM797.8 104.2h1.35v1.35h-1.35zM807.5 109.7h1.35v1.35h-1.35zM802.5 105.7h1.35v1.35h-1.35zM802.8 89.6h1.35v1.35h-1.35zM808.2 108.1h1.35v1.35h-1.35zM817.6 97.7h1.35v1.35h-1.35zM803.6 88.9h1.35v1.35h-1.35zM801.5 106h1.35v1.35h-1.35zM809.2 88.8h1.35v1.35h-1.35zM806 87.6h1.35v1.35h-1.35zM812.7 106.2h1.35v1.35h-1.35zM811.1 86.4h1.35v1.35h-1.35zM816.1 98.8h1.35v1.35h-1.35zM808.2 87.1h1.35v1.35h-1.35zM805.5 107.3h1.35v1.35h-1.35zM812.2 107.9h1.35v1.35h-1.35zM806.7 108.3h1.35v1.35h-1.35zM809.3 111h1.35v1.35h-1.35zM809.4 109.3h1.35v1.35h-1.35zM806.4 88.3h1.35v1.35h-1.35zM801.1 90.8h1.35v1.35h-1.35zM808.3 107.5h1.35v1.35h-1.35zM802.2 105.8h1.35v1.35h-1.35zM799.4 100.5h1.35v1.35h-1.35zM813.5 107.8h1.35v1.35h-1.35zM813.5 91h1.35v1.35h-1.35zM813.5 103.3h1.35v1.35h-1.35zM799.2 96.5h1.35v1.35h-1.35zM813.4 103.6h1.35v1.35h-1.35zM817 98.3h1.35v1.35h-1.35zM802.4 90.1h1.35v1.35h-1.35zM799 100.2h1.35v1.35h-1.35zM798.2 100.3h1.35v1.35h-1.35z" fill="#555" fill-opacity="0.55"/>
<path d="M814.4 98L814.3 99.3L814.1 100.7L813.7 101.9L813.1 103.1L812.4 104.1L811.6 105L810.7 105.8L809.7 106.4L808.6 106.8L807.6 107L806.4 107L805.4 106.8L804.3 106.4L803.3 105.8L802.4 105L801.6 104.1L800.9 103.1L800.3 101.9L799.9 100.7L799.7 99.3L799.6 98L799.7 96.7L799.9 95.3L800.3 94.1L800.9 92.9L801.6 91.9L802.4 91L803.3 90.2L804.3 89.6L805.4 89.2L806.4 89L807.6 89L808.6 89.2L809.7 89.6L810.7 90.2L811.6 91L812.4 91.9L813.1 92.9L813.7 94.1L814.1 95.3L814.3 96.7Z" fill="#fff" stroke="#707070" stroke-width="0.85"/>
<path d="M815 141.3h1.35v1.35h-1.35zM816.8 146.3h1.35v1.35h-1.35zM815.1 154.2h1.35v1.35h-1.35zM775.4 152.3h1.35v1.35h-1.35zM820.3 141.9h1.35v1.35h-1.35zM815.3 140.1h1.35v1.35h-1.35zM785.4 136.6h1.35v1.35h-1.35zM786.4 133.2h1.35v1.35h-1.35zM773.9 152.6h1.35v1.35h-1.35zM816.2 157.6h1.35v1.35h-1.35zM815.9 156h1.35v1.35h-1.35zM801.7 161.6h1.35v1.35h-1.35zM785.4 157.5h1.35v1.35h-1.35zM795 133.1h1.35v1.35h-1.35zM818.9 144.3h1.35v1.35h-1.35zM774.9 156.8h1.35v1.35h-1.35zM780.4 156.4h1.35v1.35h-1.35zM798.1 159.9h1.35v1.35h-1.35zM768.4 140.7h1.35v1.35h-1.35zM781 155.5h1.35v1.35h-1.35zM781 157.6h1.35v1.35h-1.35zM766.9 142h1.35v1.35h-1.35zM777.3 157.4h1.35v1.35h-1.35zM787 136h1.35v1.35h-1.35zM817.3 150.6h1.35v1.35h-1.35zM816.6 143.8h1.35v1.35h-1.35zM814.7 159.3h1.35v1.35h-1.35zM792 135.6h1.35v1.35h-1.35zM816.3 155.1h1.35v1.35h-1.35zM776.6 138h1.35v1.35h-1.35zM768.4 148h1.35v1.35h-1.35zM798.4 134.2h1.35v1.35h-1.35zM816.7 155.4h1.35v1.35h-1.35zM817 144.2h1.35v1.35h-1.35zM804.4 134.8h1.35v1.35h-1.35zM768.8 152.6h1.35v1.35h-1.35zM772.3 139.9h1.35v1.35h-1.35zM779.6 137.3h1.35v1.35h-1.35zM813.8 154.1h1.35v1.35h-1.35zM766.1 147.1h1.35v1.35h-1.35zM775 151.6h1.35v1.35h-1.35zM775.8 154.8h1.35v1.35h-1.35zM791.6 134.6h1.35v1.35h-1.35zM773.3 156h1.35v1.35h-1.35zM800.6 162.7h1.35v1.35h-1.35zM776 138.1h1.35v1.35h-1.35zM774.2 151.4h1.35v1.35h-1.35zM770.2 142.5h1.35v1.35h-1.35zM812.2 155.6h1.35v1.35h-1.35zM818.4 138.6h1.35v1.35h-1.35zM803.3 135.1h1.35v1.35h-1.35zM790.1 162.3h1.35v1.35h-1.35zM808.6 158.3h1.35v1.35h-1.35zM780.1 159.1h1.35v1.35h-1.35zM816 142.8h1.35v1.35h-1.35zM789.2 158.4h1.35v1.35h-1.35zM813.3 155.1h1.35v1.35h-1.35zM783 156.7h1.35v1.35h-1.35zM783.1 137.1h1.35v1.35h-1.35zM816.2 142.9h1.35v1.35h-1.35zM818.7 139.7h1.35v1.35h-1.35zM774.6 151.1h1.35v1.35h-1.35zM782.8 156.3h1.35v1.35h-1.35zM818.4 139.9h1.35v1.35h-1.35zM773.8 150.6h1.35v1.35h-1.35zM815.6 152h1.35v1.35h-1.35zM775.8 140h1.35v1.35h-1.35zM796.9 134h1.35v1.35h-1.35zM765.8 142.3h1.35v1.35h-1.35zM770.6 151.8h1.35v1.35h-1.35zM817.7 156.5h1.35v1.35h-1.35zM772.3 137.6h1.35v1.35h-1.35zM805.6 159.7h1.35v1.35h-1.35zM780.5 136.6h1.35v1.35h-1.35zM811.9 155.9h1.35v1.35h-1.35zM772 142.8h1.35v1.35h-1.35zM789.9 159h1.35v1.35h-1.35zM807.3 161.5h1.35v1.35h-1.35zM774.1 153.2h1.35v1.35h-1.35zM786.2 159.5h1.35v1.35h-1.35zM817.2 140.6h1.35v1.35h-1.35zM804.3 159.2h1.35v1.35h-1.35zM779.9 155.5h1.35v1.35h-1.35zM790.8 134h1.35v1.35h-1.35zM803.8 135.6h1.35v1.35h-1.35zM803.6 135.5h1.35v1.35h-1.35zM763 146.7h1.35v1.35h-1.35zM780.3 138.3h1.35v1.35h-1.35zM778.1 156.7h1.35v1.35h-1.35zM819.6 152.7h1.35v1.35h-1.35zM817.7 144.8h1.35v1.35h-1.35zM812.1 136.1h1.35v1.35h-1.35zM782.6 156.1h1.35v1.35h-1.35zM785.8 134.5h1.35v1.35h-1.35zM787.6 158.3h1.35v1.35h-1.35z" fill="#555" fill-opacity="0.5"/>
<path d="M771 146L771.3 144.5L772.4 143L774.1 141.7L776 140.5L778.1 139.4L780.6 138.5L783.2 137.7L786 137L788.9 136.5L791.9 136.2L795 136L798 136L800.9 136.1L803.8 136.3L806.6 136.8L809 137.5L811.1 138.6L812.9 139.9L814.4 141.4L815.5 143L816.2 144.7L816.5 146.5L816.4 148.3L816 150L815.3 151.6L814.2 153.2L812.8 154.7L811 156L808.7 157.1L805.9 158L803 158.6L800 159L797 159L793.9 158.7L790.9 158.2L788 157.5L785.3 156.6L782.7 155.6L780.2 154.4L778 153L775.8 151.4L773.6 149.6L771.8 147.7Z" fill="#fff" stroke="#fff" stroke-width="1.6"/>
<path d="M771 146L771.3 144.5L772.4 143L774.1 141.7L776 140.5L778.1 139.4L780.6 138.5L783.2 137.7L786 137L788.9 136.5L791.9 136.2L795 136L798 136L800.9 136.1L803.8 136.3L806.6 136.8L809 137.5L811.1 138.6L812.9 139.9L814.4 141.4L815.5 143L816.2 144.7L816.5 146.5L816.4 148.3L816 150L815.3 151.6L814.2 153.2L812.8 154.7L811 156L808.7 157.1L805.9 158L803 158.6L800 159L797 159L793.9 158.7L790.9 158.2L788 157.5L785.3 156.6L782.7 155.6L780.2 154.4L778 153L775.8 151.4L773.6 149.6L771.8 147.7Z" fill="none" stroke="#6a6a6a" stroke-width="0.8999999999999999"/>
<path d="M776.1 146.1L776.3 144.9L777.3 143.7L778.7 142.6L780.2 141.6L782 140.7L784 139.9L786.2 139.3L788.5 138.7L790.8 138.3L793.4 138.1L795.9 137.9L798.4 137.9L800.8 138L803.2 138.2L805.4 138.5L807.4 139.1L809.1 140L810.6 141.1L811.9 142.4L812.8 143.7L813.3 145L813.6 146.5L813.5 148L813.2 149.4L812.6 150.8L811.7 152.1L810.5 153.3L809.1 154.4L807.2 155.3L804.9 156L802.4 156.6L800 156.9L797.5 156.9L795 156.6L792.5 156.2L790.1 155.6L787.9 154.9L785.7 154L783.7 153L781.9 151.9L780 150.6L778.2 149.1L776.8 147.5Z" fill="#383838" fill-opacity="0.03" stroke="#6a6a6a" stroke-width="0.7" stroke-opacity=".8"/>
<path d="M781.2 146.3L781.4 145.3L782.1 144.4L783.2 143.5L784.4 142.7L785.8 142L787.4 141.4L789.1 140.9L790.9 140.4L792.8 140.1L794.8 139.9L796.8 139.8L798.7 139.8L800.6 139.9L802.5 140L804.3 140.3L805.8 140.8L807.2 141.5L808.4 142.3L809.3 143.3L810 144.3L810.5 145.4L810.7 146.6L810.6 147.8L810.4 148.9L809.9 149.9L809.2 151L808.3 151.9L807.1 152.8L805.6 153.5L803.8 154L801.9 154.5L800 154.7L798.1 154.7L796.1 154.5L794.1 154.2L792.2 153.7L790.5 153.2L788.8 152.5L787.2 151.7L785.7 150.8L784.3 149.8L782.9 148.6L781.7 147.4Z" fill="#383838" fill-opacity="0.03" stroke="#6a6a6a" stroke-width="0.7" stroke-opacity=".8"/>
<path d="M786.3 146.4L786.4 145.7L787 145L787.8 144.4L788.7 143.8L789.7 143.3L790.8 142.9L792.1 142.5L793.4 142.2L794.8 141.9L796.2 141.8L797.7 141.7L799.1 141.7L800.4 141.8L801.8 141.9L803.1 142.1L804.2 142.4L805.2 142.9L806.1 143.5L806.8 144.3L807.3 145L807.6 145.8L807.8 146.6L807.7 147.5L807.6 148.3L807.2 149.1L806.7 149.8L806 150.5L805.2 151.1L804.1 151.6L802.8 152.1L801.4 152.4L800 152.6L798.6 152.6L797.1 152.4L795.7 152.2L794.3 151.9L793.1 151.4L791.8 151L790.7 150.4L789.6 149.7L788.6 149L787.5 148.1L786.7 147.2Z" fill="#383838" fill-opacity="0.03" stroke="#6a6a6a" stroke-width="0.7" stroke-opacity=".8"/>
<path d="M791.4 146.6L791.5 146.1L791.8 145.7L792.3 145.3L792.9 144.9L793.5 144.6L794.2 144.3L795 144.1L795.9 143.9L796.7 143.8L797.6 143.7L798.5 143.6L799.4 143.6L800.3 143.6L801.1 143.7L802 143.8L802.7 144L803.3 144.4L803.8 144.8L804.3 145.2L804.6 145.7L804.8 146.2L804.9 146.7L804.9 147.2L804.7 147.7L804.5 148.2L804.2 148.7L803.8 149.1L803.3 149.5L802.6 149.8L801.8 150.1L800.9 150.3L800 150.4L799.1 150.4L798.2 150.3L797.3 150.2L796.4 150L795.6 149.7L794.9 149.4L794.2 149L793.5 148.6L792.8 148.2L792.2 147.6L791.7 147.1Z" fill="#383838" fill-opacity="0.03" stroke="#6a6a6a" stroke-width="0.7" stroke-opacity=".8"/>
<path d="M796.5 146.7L796.6 146.5L796.7 146.3L796.9 146.2L797.1 146L797.4 145.9L797.7 145.8L798 145.7L798.3 145.6L798.7 145.6L799 145.5L799.4 145.5L799.8 145.5L800.1 145.5L800.5 145.5L800.8 145.6L801.1 145.7L801.3 145.8L801.5 146L801.7 146.2L801.9 146.3L801.9 146.5L802 146.8L802 147L801.9 147.2L801.8 147.4L801.7 147.6L801.5 147.8L801.3 147.9L801 148L800.7 148.1L800.4 148.2L800 148.3L799.6 148.3L799.3 148.2L798.9 148.2L798.6 148.1L798.2 148L797.9 147.9L797.6 147.7L797.4 147.5L797.1 147.4L796.8 147.1L796.6 146.9Z" fill="#383838" fill-opacity="0.03" stroke="#6a6a6a" stroke-width="0.7" stroke-opacity=".8"/>
<path d="M746 147.8h1.35v1.35h-1.35zM745.4 149.9h1.35v1.35h-1.35zM736.4 141.3h1.35v1.35h-1.35zM745.7 141.9h1.35v1.35h-1.35zM736.8 142.1h1.35v1.35h-1.35zM740.1 140.4h1.35v1.35h-1.35zM738.2 141.8h1.35v1.35h-1.35zM740.5 137.3h1.35v1.35h-1.35zM745.1 142.6h1.35v1.35h-1.35zM737.8 138.7h1.35v1.35h-1.35zM738.6 140.9h1.35v1.35h-1.35zM738.4 139.3h1.35v1.35h-1.35zM745.9 144.3h1.35v1.35h-1.35zM743.2 139.9h1.35v1.35h-1.35zM747.3 142.6h1.35v1.35h-1.35zM746.8 146.4h1.35v1.35h-1.35zM739.9 150.6h1.35v1.35h-1.35zM746.3 147.4h1.35v1.35h-1.35zM739.5 150.4h1.35v1.35h-1.35zM734 149.4h1.35v1.35h-1.35zM739.6 141h1.35v1.35h-1.35zM734.7 150h1.35v1.35h-1.35zM736.5 141.4h1.35v1.35h-1.35zM744.1 141.9h1.35v1.35h-1.35zM743.8 150.3h1.35v1.35h-1.35zM733.3 148.1h1.35v1.35h-1.35zM746.9 146.1h1.35v1.35h-1.35zM747.7 150.5h1.35v1.35h-1.35zM747.3 147.4h1.35v1.35h-1.35zM735.8 144.1h1.35v1.35h-1.35zM746.9 151h1.35v1.35h-1.35zM734.1 148.8h1.35v1.35h-1.35zM736 143.3h1.35v1.35h-1.35zM746.8 141.2h1.35v1.35h-1.35zM739 150.3h1.35v1.35h-1.35zM738.4 141.8h1.35v1.35h-1.35zM745.5 144.3h1.35v1.35h-1.35zM743.3 141.6h1.35v1.35h-1.35zM735.8 138.4h1.35v1.35h-1.35zM747.1 145h1.35v1.35h-1.35zM743.1 141h1.35v1.35h-1.35zM740.5 140.1h1.35v1.35h-1.35zM746.4 148.5h1.35v1.35h-1.35zM743.5 141.6h1.35v1.35h-1.35zM736.1 144.5h1.35v1.35h-1.35zM735.2 152.1h1.35v1.35h-1.35zM747.1 149.9h1.35v1.35h-1.35zM733.3 146.3h1.35v1.35h-1.35zM746.1 146.9h1.35v1.35h-1.35zM745.8 139.5h1.35v1.35h-1.35zM737.5 142.5h1.35v1.35h-1.35zM736.4 148.3h1.35v1.35h-1.35zM738.4 139.4h1.35v1.35h-1.35zM744.7 140.3h1.35v1.35h-1.35zM748.4 148.2h1.35v1.35h-1.35zM738.7 139.9h1.35v1.35h-1.35zM738.5 150h1.35v1.35h-1.35zM734.4 142.5h1.35v1.35h-1.35zM736 145.5h1.35v1.35h-1.35zM735.9 148.5h1.35v1.35h-1.35z" fill="#444" fill-opacity="0.6"/>
<path d="M745.8 145.8L745.7 146.5L745.6 147.2L745.3 147.9L745 148.5L744.5 149.1L744 149.6L743.4 150L742.7 150.3L742.1 150.5L741.4 150.6L740.6 150.6L739.9 150.5L739.3 150.3L738.6 150L738 149.6L737.5 149.1L737 148.5L736.7 147.9L736.4 147.2L736.3 146.5L736.2 145.8L736.3 145.1L736.4 144.4L736.7 143.7L737 143.1L737.5 142.5L738 142L738.6 141.6L739.3 141.3L739.9 141.1L740.6 141L741.4 141L742.1 141.1L742.7 141.3L743.4 141.6L744 142L744.5 142.5L745 143.1L745.3 143.7L745.6 144.4L745.7 145.1Z" fill="#fff" stroke="#666" stroke-width="1"/>
</g>
<rect x="689.5" y="38" width="165" height="165.5" fill="none" stroke="#6c6c6c" stroke-width="1.1"/>
<rect x="689" y="126.5" width="73.5" height="77" fill="none" stroke="#dc6a54" stroke-width="4"/>
<rect x="768.4" y="126.5" width="85.2" height="77" fill="none" stroke="#4a71b9" stroke-width="4"/>
<path d="M765.6 38V205" stroke="#222" stroke-width="1.3" fill="none"/>
<text x="693.5" y="59.8" font-size="20.1" fill="#111" stroke="#111" stroke-width=".3">NBC</text>
<text x="852" y="59.8" font-size="20.1" fill="#111" text-anchor="end" stroke="#111" stroke-width=".3">uswM</text>
<text x="697.9" y="197.8" font-size="20.1" fill="#111" stroke="#111" stroke-width=".3">DN</text>
<text x="850" y="197.8" font-size="20.1" fill="#111" text-anchor="end" stroke="#111" stroke-width=".3">swM</text>
<text x="982.5" y="30.3" font-size="20.1" fill="#111" text-anchor="middle" stroke="#111" stroke-width=".3">swM</text>
<text x="982.5" y="231" font-size="20.1" fill="#111" text-anchor="middle" stroke="#111" stroke-width=".3">FcRL5</text>
<text x="886.2" y="121" font-size="20.1" fill="#111" text-anchor="middle" transform="rotate(-90 886.2 121)" stroke="#111" stroke-width=".3">CD21</text>
<path d="M899.5 55h-4.6M899.5 86h-4.6M899.5 123h-4.6M899.5 195h-4.6M899.5 45.7h-2.3M899.5 40.2h-2.3M899.5 76.7h-2.3M899.5 71.2h-2.3M899.5 67.3h-2.3M899.5 64.3h-2.3M899.5 61.9h-2.3M899.5 59.8h-2.3M899.5 58h-2.3M899.5 56.4h-2.3M899.5 111.9h-2.3M899.5 105.3h-2.3M899.5 100.7h-2.3M899.5 97.1h-2.3M899.5 94.2h-2.3M899.5 91.7h-2.3M899.5 89.6h-2.3M899.5 87.7h-2.3M899.5 132.5h-2.3M899.5 186.1h-2.3M899.5 138h-2.3M899.5 180.9h-2.3M899.5 142h-2.3M899.5 177.2h-2.3M899.5 145h-2.3M899.5 174.4h-2.3M899.5 147.5h-2.3M899.5 172h-2.3M899.5 149.6h-2.3M899.5 170.1h-2.3M899.5 151.4h-2.3M899.5 168.4h-2.3M899.5 153.1h-2.3M899.5 166.8h-2.3M907.8 203.5v4.6M978 203.5v4.6M1015.2 203.5v4.6M1045 203.5v4.6M1053.9 203.5v2.3M1059.2 203.5v2.3M1062.9 203.5v2.3M916.1 203.5v2.3M956 203.5v2.3M921 203.5v2.3M961.5 203.5v2.3M924.5 203.5v2.3M965.5 203.5v2.3M927.2 203.5v2.3M968.5 203.5v2.3M929.3 203.5v2.3M971 203.5v2.3M931.2 203.5v2.3M973.1 203.5v2.3M932.8 203.5v2.3M975 203.5v2.3M934.2 203.5v2.3M976.6 203.5v2.3M989.2 203.5v2.3M995.8 203.5v2.3M1000.4 203.5v2.3M1004 203.5v2.3M1007 203.5v2.3M1009.4 203.5v2.3M1011.6 203.5v2.3M1013.5 203.5v2.3M1024.2 203.5v2.3M1029.4 203.5v2.3M1033.1 203.5v2.3M1036 203.5v2.3M1038.4 203.5v2.3M1040.4 203.5v2.3M1042.1 203.5v2.3M1043.6 203.5v2.3" fill="none" stroke="#444" stroke-width="0.9"/>
<path d="M899.5 155.8h-4.6M899.5 158.6h-3.6M899.5 161.4h-4.6M899.5 164.2h-3.6M936.8 203.5v3.6M939.6 203.5v4.6M942.4 203.5v3.6M945.2 203.5v4.6" fill="none" stroke="#111" stroke-width="2.5"/>
<g filter="url(#bl)">
<path d="M916.9 136.4h1.35v1.35h-1.35zM962.3 127.2h1.35v1.35h-1.35zM957.8 121.8h1.35v1.35h-1.35zM924.8 107.8h1.35v1.35h-1.35zM940.5 93.2h1.35v1.35h-1.35zM951 134.1h1.35v1.35h-1.35zM967.8 128.8h1.35v1.35h-1.35zM935.7 168.2h1.35v1.35h-1.35zM947.1 98.2h1.35v1.35h-1.35zM961.4 144.8h1.35v1.35h-1.35zM919.1 165.2h1.35v1.35h-1.35zM933.8 91h1.35v1.35h-1.35zM943.9 149.8h1.35v1.35h-1.35zM934 98.8h1.35v1.35h-1.35zM975.4 146.7h1.35v1.35h-1.35zM957.2 168.2h1.35v1.35h-1.35zM947.3 134.9h1.35v1.35h-1.35zM930.4 141.5h1.35v1.35h-1.35zM957.1 119.4h1.35v1.35h-1.35zM953.7 141.5h1.35v1.35h-1.35zM936.9 160.5h1.35v1.35h-1.35zM938.1 130.9h1.35v1.35h-1.35zM923.1 131.9h1.35v1.35h-1.35zM943.3 143.8h1.35v1.35h-1.35zM957.1 153.5h1.35v1.35h-1.35zM959.1 98.2h1.35v1.35h-1.35zM952.9 136.4h1.35v1.35h-1.35zM956.5 119.6h1.35v1.35h-1.35zM935.8 146.2h1.35v1.35h-1.35zM937.5 158.3h1.35v1.35h-1.35zM962 142h1.35v1.35h-1.35zM951 164.1h1.35v1.35h-1.35zM932.8 112.7h1.35v1.35h-1.35zM951.7 125.8h1.35v1.35h-1.35zM956.5 112.7h1.35v1.35h-1.35zM954.7 136.3h1.35v1.35h-1.35zM946 137.2h1.35v1.35h-1.35zM936.9 130.6h1.35v1.35h-1.35zM950.2 107.7h1.35v1.35h-1.35zM969.2 133.3h1.35v1.35h-1.35zM946.5 125.2h1.35v1.35h-1.35zM934.6 148.6h1.35v1.35h-1.35zM949.3 128.9h1.35v1.35h-1.35zM926.4 161.2h1.35v1.35h-1.35zM947.7 140.2h1.35v1.35h-1.35zM940 93.2h1.35v1.35h-1.35zM958.4 131.1h1.35v1.35h-1.35zM945.9 102.8h1.35v1.35h-1.35zM959.7 156.8h1.35v1.35h-1.35zM977.9 167.3h1.35v1.35h-1.35zM941.2 134.4h1.35v1.35h-1.35zM932.2 145h1.35v1.35h-1.35zM951.1 102.5h1.35v1.35h-1.35zM946.4 122.5h1.35v1.35h-1.35zM935.6 129.3h1.35v1.35h-1.35zM952.5 101h1.35v1.35h-1.35zM945.4 137.1h1.35v1.35h-1.35zM912.8 142.1h1.35v1.35h-1.35zM940.9 149.5h1.35v1.35h-1.35zM949.2 169.9h1.35v1.35h-1.35zM961.5 153.3h1.35v1.35h-1.35zM935.9 126.8h1.35v1.35h-1.35zM932.6 137.4h1.35v1.35h-1.35zM961.1 148.6h1.35v1.35h-1.35zM935.4 111.5h1.35v1.35h-1.35zM945.9 164.9h1.35v1.35h-1.35zM951.2 155.3h1.35v1.35h-1.35zM955.1 130h1.35v1.35h-1.35zM944.4 120.7h1.35v1.35h-1.35zM959 154h1.35v1.35h-1.35zM938 156.2h1.35v1.35h-1.35zM936.7 175.5h1.35v1.35h-1.35zM973.5 157.2h1.35v1.35h-1.35zM957.1 139.8h1.35v1.35h-1.35zM928.9 150.9h1.35v1.35h-1.35zM937.3 114.5h1.35v1.35h-1.35zM940.7 151.2h1.35v1.35h-1.35zM933.4 100.4h1.35v1.35h-1.35zM916.4 144.6h1.35v1.35h-1.35zM956 147.7h1.35v1.35h-1.35zM955.6 100h1.35v1.35h-1.35zM947.8 178.3h1.35v1.35h-1.35zM938.5 109.2h1.35v1.35h-1.35zM947.4 158.7h1.35v1.35h-1.35zM953.6 123.3h1.35v1.35h-1.35zM929.1 142.2h1.35v1.35h-1.35zM939.5 120.4h1.35v1.35h-1.35zM954.4 158.4h1.35v1.35h-1.35zM948.1 176h1.35v1.35h-1.35zM925.4 152.9h1.35v1.35h-1.35zM935.3 151h1.35v1.35h-1.35zM969.9 138.7h1.35v1.35h-1.35zM930.2 129.9h1.35v1.35h-1.35zM946.5 149h1.35v1.35h-1.35zM935.1 139h1.35v1.35h-1.35zM962.4 132h1.35v1.35h-1.35zM943.3 104.4h1.35v1.35h-1.35zM937.9 128.5h1.35v1.35h-1.35zM927.2 149h1.35v1.35h-1.35zM940.7 124.8h1.35v1.35h-1.35zM956.3 143.3h1.35v1.35h-1.35zM954 132.2h1.35v1.35h-1.35zM925 112.2h1.35v1.35h-1.35zM966.9 115.1h1.35v1.35h-1.35zM940.7 118.8h1.35v1.35h-1.35zM928.9 128.9h1.35v1.35h-1.35zM946.1 129.6h1.35v1.35h-1.35zM935.2 160.7h1.35v1.35h-1.35zM935.8 111h1.35v1.35h-1.35zM935 89.4h1.35v1.35h-1.35zM942.9 151h1.35v1.35h-1.35zM936.9 125.2h1.35v1.35h-1.35zM919.4 132.8h1.35v1.35h-1.35zM936.6 168.6h1.35v1.35h-1.35zM961.5 148.8h1.35v1.35h-1.35zM951.9 156.9h1.35v1.35h-1.35zM953.1 138.3h1.35v1.35h-1.35zM946.8 157.2h1.35v1.35h-1.35zM962.9 121.8h1.35v1.35h-1.35zM939.4 119.5h1.35v1.35h-1.35zM929.8 125.1h1.35v1.35h-1.35zM949.2 171.2h1.35v1.35h-1.35zM904.8 170.7h1.35v1.35h-1.35zM938.8 121.9h1.35v1.35h-1.35zM947.3 161.8h1.35v1.35h-1.35zM938.1 132h1.35v1.35h-1.35zM962.4 159.9h1.35v1.35h-1.35zM954.3 128.5h1.35v1.35h-1.35zM945.8 157.2h1.35v1.35h-1.35zM938.4 133.2h1.35v1.35h-1.35zM960 129.2h1.35v1.35h-1.35zM934.3 135.2h1.35v1.35h-1.35zM938.1 139.3h1.35v1.35h-1.35zM954.9 122.6h1.35v1.35h-1.35zM952.8 104.8h1.35v1.35h-1.35zM973.6 174h1.35v1.35h-1.35zM941 126.9h1.35v1.35h-1.35zM916.9 94.7h1.35v1.35h-1.35zM941.7 121.9h1.35v1.35h-1.35zM966.7 166.5h1.35v1.35h-1.35zM969.9 98.9h1.35v1.35h-1.35zM934.5 128.5h1.35v1.35h-1.35zM937.2 94.3h1.35v1.35h-1.35zM926 160.7h1.35v1.35h-1.35zM952 144.1h1.35v1.35h-1.35zM954.5 143.1h1.35v1.35h-1.35zM952.8 166.3h1.35v1.35h-1.35zM926.3 173h1.35v1.35h-1.35zM933.1 159.1h1.35v1.35h-1.35zM923.4 122.8h1.35v1.35h-1.35zM920.8 105.9h1.35v1.35h-1.35zM924.6 112.2h1.35v1.35h-1.35zM921.2 96.2h1.35v1.35h-1.35zM941.4 176.7h1.35v1.35h-1.35zM950.2 131.6h1.35v1.35h-1.35zM953.1 138.8h1.35v1.35h-1.35zM943.8 140.3h1.35v1.35h-1.35zM934.4 181.5h1.35v1.35h-1.35zM943.9 123.1h1.35v1.35h-1.35zM952.3 162.6h1.35v1.35h-1.35zM939.8 142.8h1.35v1.35h-1.35zM944.8 132.4h1.35v1.35h-1.35zM939.6 92.5h1.35v1.35h-1.35zM936.5 156.7h1.35v1.35h-1.35zM944.5 119.1h1.35v1.35h-1.35zM927.9 125.5h1.35v1.35h-1.35zM959.2 141h1.35v1.35h-1.35zM921.5 138.1h1.35v1.35h-1.35zM950.7 161.4h1.35v1.35h-1.35zM924.4 120.7h1.35v1.35h-1.35zM965.8 139.6h1.35v1.35h-1.35zM956.6 142.2h1.35v1.35h-1.35zM932.3 136.5h1.35v1.35h-1.35zM937.5 151.3h1.35v1.35h-1.35zM927.7 130.2h1.35v1.35h-1.35zM943.2 163.2h1.35v1.35h-1.35zM949.9 119.9h1.35v1.35h-1.35zM980.9 103.3h1.35v1.35h-1.35zM924.3 135h1.35v1.35h-1.35zM961.9 162.7h1.35v1.35h-1.35zM935.6 124.3h1.35v1.35h-1.35zM948 121.7h1.35v1.35h-1.35zM956.7 128.1h1.35v1.35h-1.35zM951.8 139.7h1.35v1.35h-1.35zM950.1 132h1.35v1.35h-1.35zM941.2 143h1.35v1.35h-1.35zM943.9 97h1.35v1.35h-1.35zM946.2 169.9h1.35v1.35h-1.35zM961.3 149.1h1.35v1.35h-1.35zM922.9 116.4h1.35v1.35h-1.35zM936.9 167h1.35v1.35h-1.35zM926 146.1h1.35v1.35h-1.35zM930.1 169.3h1.35v1.35h-1.35zM932.5 109.3h1.35v1.35h-1.35zM959.8 173.5h1.35v1.35h-1.35zM974.9 137h1.35v1.35h-1.35zM963.5 89.3h1.35v1.35h-1.35zM926.9 153h1.35v1.35h-1.35zM945.1 129.1h1.35v1.35h-1.35zM927.7 113h1.35v1.35h-1.35zM950.4 131.1h1.35v1.35h-1.35zM962.3 91.9h1.35v1.35h-1.35zM952.5 149.2h1.35v1.35h-1.35zM956.5 131h1.35v1.35h-1.35zM941.9 129.8h1.35v1.35h-1.35zM915.7 168h1.35v1.35h-1.35zM915.5 136.7h1.35v1.35h-1.35zM942.6 121h1.35v1.35h-1.35zM952.3 114.4h1.35v1.35h-1.35zM962.3 134.6h1.35v1.35h-1.35zM939 160.1h1.35v1.35h-1.35zM945.1 122.8h1.35v1.35h-1.35zM947.7 112.4h1.35v1.35h-1.35zM959.3 156.8h1.35v1.35h-1.35zM943 137.3h1.35v1.35h-1.35zM928.2 135.4h1.35v1.35h-1.35zM959.6 183.2h1.35v1.35h-1.35zM949.9 108.4h1.35v1.35h-1.35zM949.5 140.4h1.35v1.35h-1.35zM925.7 95.7h1.35v1.35h-1.35zM943.9 129.1h1.35v1.35h-1.35zM919.3 149.2h1.35v1.35h-1.35zM915.1 161.4h1.35v1.35h-1.35zM940.6 107.1h1.35v1.35h-1.35zM937.7 154.9h1.35v1.35h-1.35zM952.2 153.7h1.35v1.35h-1.35zM964.7 133.1h1.35v1.35h-1.35zM969.7 135.9h1.35v1.35h-1.35zM935.5 116h1.35v1.35h-1.35zM955 145.6h1.35v1.35h-1.35zM925.8 93.7h1.35v1.35h-1.35zM945.8 171.3h1.35v1.35h-1.35zM939.4 158.3h1.35v1.35h-1.35zM941 126.9h1.35v1.35h-1.35zM952.5 149.8h1.35v1.35h-1.35zM916.9 148.1h1.35v1.35h-1.35zM945.7 179.7h1.35v1.35h-1.35zM932.3 122h1.35v1.35h-1.35zM945.7 106.7h1.35v1.35h-1.35zM949.6 89.8h1.35v1.35h-1.35zM938.7 129.2h1.35v1.35h-1.35zM938.6 100.4h1.35v1.35h-1.35zM927.4 132h1.35v1.35h-1.35zM951.9 145.2h1.35v1.35h-1.35zM934.3 125.9h1.35v1.35h-1.35zM950.4 114.5h1.35v1.35h-1.35zM923.5 162.9h1.35v1.35h-1.35zM963.7 131.4h1.35v1.35h-1.35zM929.3 141.2h1.35v1.35h-1.35zM960.6 157.5h1.35v1.35h-1.35zM937.6 106.4h1.35v1.35h-1.35zM951.8 115h1.35v1.35h-1.35zM953.8 132.3h1.35v1.35h-1.35zM944.1 112.3h1.35v1.35h-1.35zM962.2 130.1h1.35v1.35h-1.35zM953.6 122.9h1.35v1.35h-1.35zM953.8 108.1h1.35v1.35h-1.35zM968 126.6h1.35v1.35h-1.35zM934 135.4h1.35v1.35h-1.35zM962.7 135.6h1.35v1.35h-1.35zM945 148.1h1.35v1.35h-1.35zM922.8 96.6h1.35v1.35h-1.35zM950.9 102h1.35v1.35h-1.35zM941.1 153.8h1.35v1.35h-1.35zM968.2 125.9h1.35v1.35h-1.35zM936.9 163.5h1.35v1.35h-1.35zM944.7 142.8h1.35v1.35h-1.35zM947.4 104h1.35v1.35h-1.35zM916.6 148.1h1.35v1.35h-1.35zM951.3 113h1.35v1.35h-1.35zM929.7 141.8h1.35v1.35h-1.35zM964.2 163.7h1.35v1.35h-1.35zM967.9 183.7h1.35v1.35h-1.35zM943.9 134.3h1.35v1.35h-1.35zM921.2 151.7h1.35v1.35h-1.35zM946.6 142.7h1.35v1.35h-1.35zM946.5 153.8h1.35v1.35h-1.35zM939.7 127.1h1.35v1.35h-1.35zM926.9 142.5h1.35v1.35h-1.35zM942 146.5h1.35v1.35h-1.35zM930.7 118.9h1.35v1.35h-1.35zM969.4 154.6h1.35v1.35h-1.35zM933.8 160.9h1.35v1.35h-1.35zM934.6 137.5h1.35v1.35h-1.35zM943.3 130.8h1.35v1.35h-1.35zM926.2 127.8h1.35v1.35h-1.35zM937.6 139.1h1.35v1.35h-1.35zM942.1 162.6h1.35v1.35h-1.35zM937 169.8h1.35v1.35h-1.35zM940.4 125.3h1.35v1.35h-1.35zM961.8 114.9h1.35v1.35h-1.35zM950.2 118h1.35v1.35h-1.35zM924.8 158.2h1.35v1.35h-1.35zM937.8 140.9h1.35v1.35h-1.35zM954.7 142.7h1.35v1.35h-1.35zM934.7 146.8h1.35v1.35h-1.35zM945.2 144.4h1.35v1.35h-1.35zM943.6 133.1h1.35v1.35h-1.35zM951.6 112.4h1.35v1.35h-1.35zM941.4 122h1.35v1.35h-1.35zM942 138.7h1.35v1.35h-1.35zM931.7 144.8h1.35v1.35h-1.35zM949.2 127.6h1.35v1.35h-1.35zM930.7 126.5h1.35v1.35h-1.35zM968.9 166.8h1.35v1.35h-1.35zM943.7 125.4h1.35v1.35h-1.35zM940.8 140.9h1.35v1.35h-1.35zM955.3 128.7h1.35v1.35h-1.35zM942.8 116.5h1.35v1.35h-1.35zM945.3 101.7h1.35v1.35h-1.35zM943.2 123.8h1.35v1.35h-1.35zM933.6 117.4h1.35v1.35h-1.35zM930.8 155h1.35v1.35h-1.35zM934 110h1.35v1.35h-1.35zM960.2 126.6h1.35v1.35h-1.35zM935 150.7h1.35v1.35h-1.35zM938.2 133.4h1.35v1.35h-1.35zM937.6 147.1h1.35v1.35h-1.35zM954 154.7h1.35v1.35h-1.35zM972.4 98.5h1.35v1.35h-1.35zM930.7 126.6h1.35v1.35h-1.35zM951.9 114.3h1.35v1.35h-1.35zM945.7 166.3h1.35v1.35h-1.35zM939.7 133.3h1.35v1.35h-1.35zM951.2 147.1h1.35v1.35h-1.35zM925.8 174.1h1.35v1.35h-1.35zM955.9 127.9h1.35v1.35h-1.35zM947.2 137.6h1.35v1.35h-1.35zM929.7 145.1h1.35v1.35h-1.35zM966.9 129.9h1.35v1.35h-1.35zM956.2 164.1h1.35v1.35h-1.35zM960.7 154.3h1.35v1.35h-1.35zM923.1 158.4h1.35v1.35h-1.35zM940.1 137h1.35v1.35h-1.35zM936.5 128.2h1.35v1.35h-1.35zM953 127.9h1.35v1.35h-1.35zM963.4 127.7h1.35v1.35h-1.35zM916.7 99h1.35v1.35h-1.35zM944.3 144h1.35v1.35h-1.35zM942.2 154.1h1.35v1.35h-1.35zM958.3 135.7h1.35v1.35h-1.35zM943.4 124.8h1.35v1.35h-1.35zM925.8 136.7h1.35v1.35h-1.35zM941.2 140.9h1.35v1.35h-1.35zM929.2 143.2h1.35v1.35h-1.35zM932.9 176.2h1.35v1.35h-1.35zM944.6 116.7h1.35v1.35h-1.35zM937.1 144h1.35v1.35h-1.35zM948 151.3h1.35v1.35h-1.35zM922.3 137.6h1.35v1.35h-1.35zM977.2 130.6h1.35v1.35h-1.35zM962.1 112.9h1.35v1.35h-1.35zM954.3 122.6h1.35v1.35h-1.35zM925.5 151.7h1.35v1.35h-1.35zM913.1 168.3h1.35v1.35h-1.35zM931.6 121.2h1.35v1.35h-1.35zM940.7 146.4h1.35v1.35h-1.35zM975.9 147.5h1.35v1.35h-1.35zM962.7 158.4h1.35v1.35h-1.35zM936.5 141.3h1.35v1.35h-1.35zM961.3 145.7h1.35v1.35h-1.35zM961.5 155.8h1.35v1.35h-1.35zM944.2 109.9h1.35v1.35h-1.35zM961.4 136.9h1.35v1.35h-1.35zM948.7 96.5h1.35v1.35h-1.35zM934.6 91.9h1.35v1.35h-1.35zM927.2 117.5h1.35v1.35h-1.35zM942.2 101.5h1.35v1.35h-1.35zM958.3 147.1h1.35v1.35h-1.35zM924.6 158h1.35v1.35h-1.35zM920.9 129h1.35v1.35h-1.35zM951.9 132.7h1.35v1.35h-1.35zM905.1 130.6h1.35v1.35h-1.35zM970.1 130h1.35v1.35h-1.35zM937.7 138.8h1.35v1.35h-1.35zM954.5 143.6h1.35v1.35h-1.35zM970.6 125.5h1.35v1.35h-1.35zM923.2 118.3h1.35v1.35h-1.35zM929 124.2h1.35v1.35h-1.35zM976.1 153.6h1.35v1.35h-1.35zM939.9 126.5h1.35v1.35h-1.35zM942.2 168h1.35v1.35h-1.35zM947.3 130.4h1.35v1.35h-1.35zM959.1 166.2h1.35v1.35h-1.35zM963 109.3h1.35v1.35h-1.35zM945.6 120.4h1.35v1.35h-1.35zM939.2 146.4h1.35v1.35h-1.35zM943.5 146.6h1.35v1.35h-1.35zM948.3 132.3h1.35v1.35h-1.35zM962.7 181h1.35v1.35h-1.35zM945.9 137.4h1.35v1.35h-1.35zM970.1 142.2h1.35v1.35h-1.35zM931.7 123.1h1.35v1.35h-1.35zM951.6 172.5h1.35v1.35h-1.35zM969.1 154.8h1.35v1.35h-1.35zM962.4 144.9h1.35v1.35h-1.35zM948.8 99.5h1.35v1.35h-1.35zM931.4 143.8h1.35v1.35h-1.35zM933.8 125.4h1.35v1.35h-1.35zM941.8 144.5h1.35v1.35h-1.35zM948.4 156h1.35v1.35h-1.35zM940.4 119.2h1.35v1.35h-1.35zM923.2 140.6h1.35v1.35h-1.35zM933.4 155.2h1.35v1.35h-1.35zM951.4 139.3h1.35v1.35h-1.35zM956 128.5h1.35v1.35h-1.35zM924 112.3h1.35v1.35h-1.35zM938.8 120.9h1.35v1.35h-1.35zM920 107.7h1.35v1.35h-1.35zM935.9 157.6h1.35v1.35h-1.35zM962.2 157.2h1.35v1.35h-1.35zM941 146.4h1.35v1.35h-1.35zM960.4 138.6h1.35v1.35h-1.35zM939.8 153.1h1.35v1.35h-1.35zM907.7 132h1.35v1.35h-1.35zM979.9 157.5h1.35v1.35h-1.35zM979.3 145.8h1.35v1.35h-1.35zM936.8 162.9h1.35v1.35h-1.35zM949 144h1.35v1.35h-1.35zM963.8 140.9h1.35v1.35h-1.35zM954.4 155.7h1.35v1.35h-1.35zM946.8 167.2h1.35v1.35h-1.35zM952.3 121.6h1.35v1.35h-1.35zM956.6 151.8h1.35v1.35h-1.35zM951.6 158.8h1.35v1.35h-1.35zM963.9 130.6h1.35v1.35h-1.35zM956.8 138h1.35v1.35h-1.35zM948.3 159h1.35v1.35h-1.35zM960.9 138.8h1.35v1.35h-1.35zM933.8 141.4h1.35v1.35h-1.35zM983.7 173.9h1.35v1.35h-1.35zM932.6 137.1h1.35v1.35h-1.35zM959.1 138.2h1.35v1.35h-1.35zM965.9 118.2h1.35v1.35h-1.35zM967.1 135h1.35v1.35h-1.35zM964.7 133.2h1.35v1.35h-1.35zM980.7 173.8h1.35v1.35h-1.35zM942.4 166.9h1.35v1.35h-1.35zM959.4 132.7h1.35v1.35h-1.35zM962.8 177.3h1.35v1.35h-1.35zM952.5 160.8h1.35v1.35h-1.35zM950.9 147.7h1.35v1.35h-1.35zM981.1 161.3h1.35v1.35h-1.35zM949 155.4h1.35v1.35h-1.35zM952.8 139.6h1.35v1.35h-1.35zM956 125.9h1.35v1.35h-1.35zM957 137.6h1.35v1.35h-1.35zM963 150.1h1.35v1.35h-1.35zM957.1 145.2h1.35v1.35h-1.35zM966.4 139.9h1.35v1.35h-1.35zM962.6 163.6h1.35v1.35h-1.35zM968.1 135.4h1.35v1.35h-1.35zM982.3 162.4h1.35v1.35h-1.35zM946.9 143.5h1.35v1.35h-1.35zM986.8 151.6h1.35v1.35h-1.35zM953.2 134.7h1.35v1.35h-1.35zM971.1 150h1.35v1.35h-1.35zM963 139.3h1.35v1.35h-1.35zM955.7 126h1.35v1.35h-1.35zM929 149.8h1.35v1.35h-1.35zM986.2 149.4h1.35v1.35h-1.35zM948.3 161.6h1.35v1.35h-1.35zM947.8 154h1.35v1.35h-1.35zM977.4 136.1h1.35v1.35h-1.35zM961.6 141.6h1.35v1.35h-1.35zM990.8 115.8h1.35v1.35h-1.35zM987.2 134.6h1.35v1.35h-1.35zM971.7 168h1.35v1.35h-1.35zM964.4 171h1.35v1.35h-1.35zM972.6 160.6h1.35v1.35h-1.35zM939.4 154.3h1.35v1.35h-1.35zM963.1 158.2h1.35v1.35h-1.35zM962.7 156.8h1.35v1.35h-1.35zM952.9 126.2h1.35v1.35h-1.35zM964.4 138h1.35v1.35h-1.35zM937.1 166.5h1.35v1.35h-1.35zM974.8 166.4h1.35v1.35h-1.35zM980.9 153.4h1.35v1.35h-1.35zM939.7 145.8h1.35v1.35h-1.35zM962.7 144.8h1.35v1.35h-1.35zM985 142.6h1.35v1.35h-1.35zM967 137.3h1.35v1.35h-1.35zM943.9 123.5h1.35v1.35h-1.35zM944.6 152.1h1.35v1.35h-1.35zM973.9 143.8h1.35v1.35h-1.35zM989.5 147.1h1.35v1.35h-1.35zM943.1 173.8h1.35v1.35h-1.35zM960.9 158.3h1.35v1.35h-1.35zM948 140.4h1.35v1.35h-1.35zM955.8 158.1h1.35v1.35h-1.35zM965.3 129.3h1.35v1.35h-1.35zM959.7 164.6h1.35v1.35h-1.35zM949.4 153.7h1.35v1.35h-1.35zM993.8 147.4h1.35v1.35h-1.35zM957.8 158h1.35v1.35h-1.35zM957.4 170.2h1.35v1.35h-1.35zM978 143.7h1.35v1.35h-1.35zM960.5 136.4h1.35v1.35h-1.35zM957.1 179.3h1.35v1.35h-1.35zM975.4 150.3h1.35v1.35h-1.35zM943.9 170.7h1.35v1.35h-1.35zM972.2 140.7h1.35v1.35h-1.35zM976.7 155.3h1.35v1.35h-1.35zM970.8 141.2h1.35v1.35h-1.35zM957.5 158.8h1.35v1.35h-1.35zM960.2 146.2h1.35v1.35h-1.35zM933.1 140.8h1.35v1.35h-1.35zM958.2 171.5h1.35v1.35h-1.35zM964.9 154.8h1.35v1.35h-1.35zM974.1 122h1.35v1.35h-1.35zM962.6 146.8h1.35v1.35h-1.35zM954.1 137.4h1.35v1.35h-1.35zM947 133.2h1.35v1.35h-1.35zM959.6 142h1.35v1.35h-1.35zM962.4 143.4h1.35v1.35h-1.35zM979.5 150.5h1.35v1.35h-1.35zM960.4 139.1h1.35v1.35h-1.35zM952.4 124.2h1.35v1.35h-1.35zM958.6 142.6h1.35v1.35h-1.35zM952.6 162.2h1.35v1.35h-1.35zM956.6 131.1h1.35v1.35h-1.35zM925.3 158.6h1.35v1.35h-1.35zM935.1 156.4h1.35v1.35h-1.35zM941.4 143.8h1.35v1.35h-1.35zM967.7 154.3h1.35v1.35h-1.35zM959.1 139.6h1.35v1.35h-1.35zM962.6 144.5h1.35v1.35h-1.35zM978.7 135.9h1.35v1.35h-1.35zM943.8 156.5h1.35v1.35h-1.35zM978.4 169.1h1.35v1.35h-1.35zM966.4 140.6h1.35v1.35h-1.35zM949 166.7h1.35v1.35h-1.35zM983.9 120.4h1.35v1.35h-1.35zM937.7 137.7h1.35v1.35h-1.35zM942.5 136h1.35v1.35h-1.35zM957 174h1.35v1.35h-1.35zM966.7 141.8h1.35v1.35h-1.35zM957.3 160.9h1.35v1.35h-1.35zM926.5 121.5h1.35v1.35h-1.35zM955.6 151.6h1.35v1.35h-1.35zM958.9 157.9h1.35v1.35h-1.35zM1000.5 149.5h1.35v1.35h-1.35zM982 112.1h1.35v1.35h-1.35zM962.2 152.5h1.35v1.35h-1.35zM943 161.3h1.35v1.35h-1.35zM965.7 168.4h1.35v1.35h-1.35zM941.8 155.6h1.35v1.35h-1.35zM963.5 126.5h1.35v1.35h-1.35zM966.1 147.1h1.35v1.35h-1.35zM953.9 162.6h1.35v1.35h-1.35zM964.2 138.6h1.35v1.35h-1.35zM955 157.9h1.35v1.35h-1.35zM951.2 143.3h1.35v1.35h-1.35zM984.5 151.3h1.35v1.35h-1.35zM969.4 160.6h1.35v1.35h-1.35zM955.4 140.1h1.35v1.35h-1.35zM963.1 152.1h1.35v1.35h-1.35zM969.2 154.8h1.35v1.35h-1.35zM973.7 139.7h1.35v1.35h-1.35zM983.5 150.9h1.35v1.35h-1.35zM967.5 146.3h1.35v1.35h-1.35zM942.6 129.6h1.35v1.35h-1.35zM992.3 128.6h1.35v1.35h-1.35zM978.6 154h1.35v1.35h-1.35zM973.4 148.8h1.35v1.35h-1.35zM981.4 113.3h1.35v1.35h-1.35zM936.7 120h1.35v1.35h-1.35zM954.4 145.7h1.35v1.35h-1.35zM952.2 149h1.35v1.35h-1.35zM979 158.5h1.35v1.35h-1.35zM941.6 132.7h1.35v1.35h-1.35zM955.2 158.3h1.35v1.35h-1.35zM984.2 145.7h1.35v1.35h-1.35zM970.5 142.9h1.35v1.35h-1.35zM954.2 148h1.35v1.35h-1.35zM989.9 163.8h1.35v1.35h-1.35zM939.2 157.8h1.35v1.35h-1.35zM967.4 162.4h1.35v1.35h-1.35zM956.6 140.4h1.35v1.35h-1.35z" fill="#777" fill-opacity="0.5"/>
<path d="M936.3 95.9h1.35v1.35h-1.35zM947.7 164.1h1.35v1.35h-1.35zM956.7 115.7h1.35v1.35h-1.35zM956.6 100.5h1.35v1.35h-1.35zM932.1 157h1.35v1.35h-1.35zM923 108.1h1.35v1.35h-1.35zM924.1 110.5h1.35v1.35h-1.35zM946.1 158.6h1.35v1.35h-1.35zM933 157.4h1.35v1.35h-1.35zM923.2 125.1h1.35v1.35h-1.35zM945.2 159.4h1.35v1.35h-1.35zM925.3 135.3h1.35v1.35h-1.35zM955.5 140.9h1.35v1.35h-1.35zM930.4 153.7h1.35v1.35h-1.35zM947.3 157.8h1.35v1.35h-1.35zM957.9 118.6h1.35v1.35h-1.35zM947.4 161.4h1.35v1.35h-1.35zM923.9 109.1h1.35v1.35h-1.35zM921.8 112.9h1.35v1.35h-1.35zM923.2 117.6h1.35v1.35h-1.35zM921.8 125.1h1.35v1.35h-1.35zM924.7 143.8h1.35v1.35h-1.35zM923.8 139.4h1.35v1.35h-1.35zM946.8 159.6h1.35v1.35h-1.35zM925.2 101.5h1.35v1.35h-1.35zM955.2 143.2h1.35v1.35h-1.35zM944.7 90.5h1.35v1.35h-1.35zM956.1 110.2h1.35v1.35h-1.35zM945.2 90.4h1.35v1.35h-1.35zM956.7 131.7h1.35v1.35h-1.35zM949.5 156.9h1.35v1.35h-1.35zM951.1 153.8h1.35v1.35h-1.35zM948.4 96.8h1.35v1.35h-1.35zM929.9 94.9h1.35v1.35h-1.35zM958.3 127.5h1.35v1.35h-1.35zM955.3 104.3h1.35v1.35h-1.35zM925 104.7h1.35v1.35h-1.35zM943.2 159.8h1.35v1.35h-1.35zM952.9 152.5h1.35v1.35h-1.35zM958 120.9h1.35v1.35h-1.35zM958.3 120.7h1.35v1.35h-1.35zM923.3 103.2h1.35v1.35h-1.35zM931.1 95.4h1.35v1.35h-1.35zM927.5 101.1h1.35v1.35h-1.35zM955.5 149.4h1.35v1.35h-1.35zM945.8 159.2h1.35v1.35h-1.35zM956.3 139.6h1.35v1.35h-1.35zM956.1 146.7h1.35v1.35h-1.35zM952.8 158.9h1.35v1.35h-1.35zM931.8 156.6h1.35v1.35h-1.35zM959 137.6h1.35v1.35h-1.35zM928.6 100.8h1.35v1.35h-1.35zM926.8 103.6h1.35v1.35h-1.35zM950.2 156.2h1.35v1.35h-1.35zM927.2 146.7h1.35v1.35h-1.35zM950.1 94.8h1.35v1.35h-1.35zM951.3 159.1h1.35v1.35h-1.35zM954.2 104.1h1.35v1.35h-1.35zM933.7 96h1.35v1.35h-1.35zM957 122.3h1.35v1.35h-1.35zM947.2 162.4h1.35v1.35h-1.35zM926.8 147.4h1.35v1.35h-1.35zM933.5 162.8h1.35v1.35h-1.35zM956.8 109h1.35v1.35h-1.35zM950.6 160h1.35v1.35h-1.35zM923.9 116.5h1.35v1.35h-1.35zM923.8 111.6h1.35v1.35h-1.35zM956.1 137.2h1.35v1.35h-1.35zM954 146.6h1.35v1.35h-1.35zM936.3 159.6h1.35v1.35h-1.35zM946.2 95.9h1.35v1.35h-1.35zM948.3 158.4h1.35v1.35h-1.35zM925 132.2h1.35v1.35h-1.35zM942.8 92.4h1.35v1.35h-1.35zM936.2 95.9h1.35v1.35h-1.35zM924.5 140.2h1.35v1.35h-1.35zM942.4 160.3h1.35v1.35h-1.35zM921.6 118.5h1.35v1.35h-1.35zM923.4 116.1h1.35v1.35h-1.35zM923.1 107.5h1.35v1.35h-1.35zM940.7 94.8h1.35v1.35h-1.35zM939.3 90.2h1.35v1.35h-1.35zM954 147.5h1.35v1.35h-1.35zM944.1 164.3h1.35v1.35h-1.35zM929.1 99.1h1.35v1.35h-1.35zM957 121.5h1.35v1.35h-1.35zM952.5 96.2h1.35v1.35h-1.35zM941.4 161h1.35v1.35h-1.35zM955.6 139.1h1.35v1.35h-1.35zM928.5 152h1.35v1.35h-1.35zM931.6 156h1.35v1.35h-1.35zM924.2 124.6h1.35v1.35h-1.35zM923.9 129.7h1.35v1.35h-1.35zM931.3 155.9h1.35v1.35h-1.35zM928.3 99.4h1.35v1.35h-1.35zM957.4 143.8h1.35v1.35h-1.35zM955.9 147.9h1.35v1.35h-1.35zM923.1 118.4h1.35v1.35h-1.35zM926.5 104.1h1.35v1.35h-1.35zM957.2 121.3h1.35v1.35h-1.35zM926.5 144.8h1.35v1.35h-1.35zM944.7 95.6h1.35v1.35h-1.35zM927.1 146.3h1.35v1.35h-1.35zM958.2 118.9h1.35v1.35h-1.35zM949.3 160.9h1.35v1.35h-1.35zM930.7 159.5h1.35v1.35h-1.35zM957.9 119h1.35v1.35h-1.35zM958.6 126h1.35v1.35h-1.35zM957.1 124.3h1.35v1.35h-1.35zM942.8 90.7h1.35v1.35h-1.35zM944.6 159.2h1.35v1.35h-1.35zM958.1 105.7h1.35v1.35h-1.35zM934.9 96h1.35v1.35h-1.35zM924.4 116.9h1.35v1.35h-1.35zM946.9 95h1.35v1.35h-1.35zM930 158.5h1.35v1.35h-1.35zM927.7 95.2h1.35v1.35h-1.35zM937 162.8h1.35v1.35h-1.35zM956.9 110.4h1.35v1.35h-1.35zM928.7 158.2h1.35v1.35h-1.35zM927 145h1.35v1.35h-1.35zM921.4 118.6h1.35v1.35h-1.35zM954 154.4h1.35v1.35h-1.35zM952.4 153.5h1.35v1.35h-1.35zM926.4 142h1.35v1.35h-1.35zM924.1 122.5h1.35v1.35h-1.35zM959.6 121.5h1.35v1.35h-1.35zM956.2 111h1.35v1.35h-1.35zM930.1 158.3h1.35v1.35h-1.35zM954.2 103.9h1.35v1.35h-1.35zM923.8 127.2h1.35v1.35h-1.35zM930.5 94.1h1.35v1.35h-1.35zM946.6 95.5h1.35v1.35h-1.35zM928.4 99.8h1.35v1.35h-1.35zM950.1 159.4h1.35v1.35h-1.35zM956.2 102.8h1.35v1.35h-1.35zM942.3 95.1h1.35v1.35h-1.35zM923.6 114.9h1.35v1.35h-1.35zM931.6 97.3h1.35v1.35h-1.35zM928.6 153.2h1.35v1.35h-1.35zM930.5 98.1h1.35v1.35h-1.35zM955 146.9h1.35v1.35h-1.35zM956.2 103.1h1.35v1.35h-1.35zM929.4 99.5h1.35v1.35h-1.35zM921.2 113.2h1.35v1.35h-1.35zM951.2 98.3h1.35v1.35h-1.35zM925.4 138h1.35v1.35h-1.35zM925.2 147.4h1.35v1.35h-1.35zM947.8 164.4h1.35v1.35h-1.35zM954.7 146.6h1.35v1.35h-1.35zM923.1 129.6h1.35v1.35h-1.35zM929.8 99.4h1.35v1.35h-1.35zM956.5 110.5h1.35v1.35h-1.35zM922.4 118.7h1.35v1.35h-1.35zM957.2 114.4h1.35v1.35h-1.35zM955.4 140.6h1.35v1.35h-1.35zM929.2 157.8h1.35v1.35h-1.35zM929.9 154.4h1.35v1.35h-1.35zM951.8 98.5h1.35v1.35h-1.35zM955.6 153.6h1.35v1.35h-1.35zM937.6 160.5h1.35v1.35h-1.35zM956.7 147h1.35v1.35h-1.35zM943.4 95.3h1.35v1.35h-1.35zM941.8 95.1h1.35v1.35h-1.35zM956.2 100.2h1.35v1.35h-1.35zM923.1 138.8h1.35v1.35h-1.35zM943.1 93.6h1.35v1.35h-1.35zM942.3 90h1.35v1.35h-1.35zM927.7 100.2h1.35v1.35h-1.35zM924.4 121h1.35v1.35h-1.35zM924 129.3h1.35v1.35h-1.35zM957.1 124.9h1.35v1.35h-1.35zM957.3 115.5h1.35v1.35h-1.35zM928.9 150.8h1.35v1.35h-1.35zM946.4 96.2h1.35v1.35h-1.35zM924.7 110.7h1.35v1.35h-1.35zM925.5 139.9h1.35v1.35h-1.35zM953.3 96.1h1.35v1.35h-1.35zM955.7 144.9h1.35v1.35h-1.35zM953.9 103.2h1.35v1.35h-1.35zM957.1 128.9h1.35v1.35h-1.35zM942 165.9h1.35v1.35h-1.35zM931.7 97.8h1.35v1.35h-1.35zM945.7 164.8h1.35v1.35h-1.35zM957.1 130.8h1.35v1.35h-1.35zM958.8 117.7h1.35v1.35h-1.35zM957.2 114.6h1.35v1.35h-1.35zM924.2 108.9h1.35v1.35h-1.35zM958.7 122.5h1.35v1.35h-1.35zM944.1 93.9h1.35v1.35h-1.35zM950.2 159.2h1.35v1.35h-1.35zM953 152.6h1.35v1.35h-1.35zM924.3 121.5h1.35v1.35h-1.35zM930.1 93.3h1.35v1.35h-1.35zM927.2 94.8h1.35v1.35h-1.35zM935.6 159.2h1.35v1.35h-1.35zM924.3 116.1h1.35v1.35h-1.35zM925.2 140.5h1.35v1.35h-1.35zM952.7 151h1.35v1.35h-1.35zM936.7 165.4h1.35v1.35h-1.35zM959.7 130h1.35v1.35h-1.35zM922.6 119.9h1.35v1.35h-1.35zM925.2 142.8h1.35v1.35h-1.35zM950.1 94.8h1.35v1.35h-1.35zM951.6 157.8h1.35v1.35h-1.35zM923.7 131.1h1.35v1.35h-1.35zM957 120.9h1.35v1.35h-1.35zM924.3 138.1h1.35v1.35h-1.35zM943.1 90.2h1.35v1.35h-1.35zM950.3 93.6h1.35v1.35h-1.35zM955.2 141.6h1.35v1.35h-1.35zM931.1 158.2h1.35v1.35h-1.35zM929 152.6h1.35v1.35h-1.35zM935.3 161.7h1.35v1.35h-1.35zM931.1 98h1.35v1.35h-1.35zM926.5 155h1.35v1.35h-1.35zM955.1 142.4h1.35v1.35h-1.35zM955.3 105.6h1.35v1.35h-1.35zM930.5 94.6h1.35v1.35h-1.35zM923 124.2h1.35v1.35h-1.35zM924.7 148.4h1.35v1.35h-1.35zM949.7 157h1.35v1.35h-1.35zM954.1 149h1.35v1.35h-1.35zM957.1 124.5h1.35v1.35h-1.35zM927.9 148.5h1.35v1.35h-1.35zM956.4 107.9h1.35v1.35h-1.35zM924.8 150.4h1.35v1.35h-1.35zM957.3 115.2h1.35v1.35h-1.35zM959 118.7h1.35v1.35h-1.35zM924.4 106.9h1.35v1.35h-1.35zM924 145.6h1.35v1.35h-1.35zM959 134.3h1.35v1.35h-1.35zM924.2 136h1.35v1.35h-1.35zM948 92.8h1.35v1.35h-1.35zM948.8 158.7h1.35v1.35h-1.35zM931 154.7h1.35v1.35h-1.35zM926.2 104.3h1.35v1.35h-1.35zM923.1 128h1.35v1.35h-1.35zM955.8 137.6h1.35v1.35h-1.35zM956.3 148h1.35v1.35h-1.35zM927.9 148h1.35v1.35h-1.35zM923.8 141.8h1.35v1.35h-1.35zM925.2 138.3h1.35v1.35h-1.35zM958.9 135.9h1.35v1.35h-1.35zM923.5 114.6h1.35v1.35h-1.35zM927.2 98.1h1.35v1.35h-1.35zM925.7 103.1h1.35v1.35h-1.35zM923.2 128.8h1.35v1.35h-1.35zM957.7 118.4h1.35v1.35h-1.35zM930.1 99.1h1.35v1.35h-1.35zM925 144.9h1.35v1.35h-1.35zM925.3 147.7h1.35v1.35h-1.35zM930.8 154.3h1.35v1.35h-1.35zM946.4 95.7h1.35v1.35h-1.35zM922.7 123.1h1.35v1.35h-1.35zM926.6 98.1h1.35v1.35h-1.35zM923.8 139.5h1.35v1.35h-1.35zM922.5 128.2h1.35v1.35h-1.35zM921.3 113h1.35v1.35h-1.35zM925.2 107.9h1.35v1.35h-1.35zM955.5 145.6h1.35v1.35h-1.35zM934.2 159h1.35v1.35h-1.35zM926.8 103.5h1.35v1.35h-1.35zM922.7 113.6h1.35v1.35h-1.35zM922.8 114h1.35v1.35h-1.35zM955.5 106.7h1.35v1.35h-1.35zM954.8 148.3h1.35v1.35h-1.35zM958.7 116.3h1.35v1.35h-1.35zM943.2 94.1h1.35v1.35h-1.35zM954.8 105.2h1.35v1.35h-1.35zM924.9 131.5h1.35v1.35h-1.35zM957.2 130.1h1.35v1.35h-1.35zM938.6 91.6h1.35v1.35h-1.35zM944.6 92.4h1.35v1.35h-1.35zM951.6 156.2h1.35v1.35h-1.35zM927 154.1h1.35v1.35h-1.35zM955.7 145.6h1.35v1.35h-1.35zM939.4 161.4h1.35v1.35h-1.35zM936 159.4h1.35v1.35h-1.35zM923.8 124.7h1.35v1.35h-1.35zM958.2 142.2h1.35v1.35h-1.35zM956.3 110.9h1.35v1.35h-1.35zM929 96.7h1.35v1.35h-1.35zM923.1 121.7h1.35v1.35h-1.35zM953.2 150.8h1.35v1.35h-1.35zM952 152.8h1.35v1.35h-1.35zM932.5 95.9h1.35v1.35h-1.35zM957.1 113.7h1.35v1.35h-1.35zM925.3 107.6h1.35v1.35h-1.35zM922.2 120.3h1.35v1.35h-1.35zM956.7 111.7h1.35v1.35h-1.35zM959.7 116.6h1.35v1.35h-1.35zM924.2 137.9h1.35v1.35h-1.35zM923.2 110.5h1.35v1.35h-1.35zM950.6 98.2h1.35v1.35h-1.35zM932.2 158.9h1.35v1.35h-1.35zM922 129.9h1.35v1.35h-1.35zM922.6 129.2h1.35v1.35h-1.35zM937.4 164.3h1.35v1.35h-1.35zM930.1 153.2h1.35v1.35h-1.35zM922.6 114.7h1.35v1.35h-1.35zM957 120.1h1.35v1.35h-1.35zM952.9 154h1.35v1.35h-1.35zM946.4 95.4h1.35v1.35h-1.35zM957.5 107.5h1.35v1.35h-1.35zM924.4 117.9h1.35v1.35h-1.35zM932 157.4h1.35v1.35h-1.35zM956.9 129.4h1.35v1.35h-1.35zM939.1 160.3h1.35v1.35h-1.35zM951.9 96.7h1.35v1.35h-1.35zM923.3 134.4h1.35v1.35h-1.35zM941.6 161.9h1.35v1.35h-1.35zM951.6 99.9h1.35v1.35h-1.35zM922.6 106.7h1.35v1.35h-1.35zM956.5 102.2h1.35v1.35h-1.35zM926.3 102.9h1.35v1.35h-1.35zM939.1 160.1h1.35v1.35h-1.35zM955.9 139.8h1.35v1.35h-1.35zM957.4 116.1h1.35v1.35h-1.35zM956.4 110.4h1.35v1.35h-1.35zM957.1 112.4h1.35v1.35h-1.35zM943.5 166.6h1.35v1.35h-1.35zM930.2 98.3h1.35v1.35h-1.35zM924.2 106.6h1.35v1.35h-1.35zM948.9 92.8h1.35v1.35h-1.35zM942.5 160.4h1.35v1.35h-1.35zM955 143.8h1.35v1.35h-1.35zM929.1 151h1.35v1.35h-1.35zM958.8 123.3h1.35v1.35h-1.35zM959.2 118.8h1.35v1.35h-1.35z" fill="#444" fill-opacity="0.6"/>
<path d="M924.7 121L924.7 117.5L924.8 113.9L925.1 110.5L925.7 107.5L926.6 104.9L927.9 102.6L929.3 100.6L931 99L933 97.7L935.3 96.8L937.7 96.2L940 96L942.3 96.1L944.7 96.4L947 97.2L949 98.3L950.8 99.8L952.4 101.8L953.7 104L954.8 106.5L955.6 109.3L956.1 112.5L956.4 115.7L956.6 119L956.7 122.2L956.7 125.4L956.5 128.7L956.2 132L955.8 135.5L955.3 139.2L954.6 142.8L953.8 146L952.8 148.8L951.7 151.4L950.5 153.6L949 155.5L947.2 157.1L945.2 158.3L943.1 159.1L941 159.5L938.9 159.4L936.8 158.8L934.8 157.9L933 156.5L931.5 154.7L930.1 152.3L929 149.7L928 147L927.2 144.1L926.6 141L926.1 137.8L925.7 134.5L925.3 131.2L925 127.8L924.8 124.4Z" fill="#fff" stroke="#fff" stroke-width="1.6"/>
<path d="M924.7 121L924.7 117.5L924.8 113.9L925.1 110.5L925.7 107.5L926.6 104.9L927.9 102.6L929.3 100.6L931 99L933 97.7L935.3 96.8L937.7 96.2L940 96L942.3 96.1L944.7 96.4L947 97.2L949 98.3L950.8 99.8L952.4 101.8L953.7 104L954.8 106.5L955.6 109.3L956.1 112.5L956.4 115.7L956.6 119L956.7 122.2L956.7 125.4L956.5 128.7L956.2 132L955.8 135.5L955.3 139.2L954.6 142.8L953.8 146L952.8 148.8L951.7 151.4L950.5 153.6L949 155.5L947.2 157.1L945.2 158.3L943.1 159.1L941 159.5L938.9 159.4L936.8 158.8L934.8 157.9L933 156.5L931.5 154.7L930.1 152.3L929 149.7L928 147L927.2 144.1L926.6 141L926.1 137.8L925.7 134.5L925.3 131.2L925 127.8L924.8 124.4Z" fill="none" stroke="#6a6a6a" stroke-width="0.8"/>
<path d="M926.2 120.6L926.2 117.4L926.3 114.2L926.6 111.1L927.1 108.3L927.9 106L929 103.9L930.4 102.1L931.9 100.7L933.7 99.5L935.8 98.7L937.9 98.2L940 97.9L942.2 98L944.3 98.3L946.4 99L948.2 100L949.8 101.4L951.2 103.2L952.5 105.2L953.5 107.4L954.2 110L954.6 112.8L954.9 115.8L955.1 118.8L955.2 121.7L955.1 124.6L955 127.5L954.7 130.5L954.4 133.7L953.9 137.1L953.3 140.3L952.5 143.2L951.7 145.8L950.7 148.1L949.5 150.1L948.2 151.8L946.6 153.2L944.8 154.3L942.8 155.1L941 155.4L939.1 155.4L937.2 154.9L935.3 154L933.7 152.7L932.3 151.1L931.1 149L930.1 146.6L929.2 144.1L928.5 141.5L927.9 138.7L927.5 135.8L927.1 132.8L926.7 129.8L926.5 126.7L926.3 123.7Z" fill="#383838" fill-opacity="0.07" stroke="#6a6a6a" stroke-width="0.6" stroke-opacity=".8"/>
<path d="M927.6 120.2L927.6 117.3L927.7 114.4L927.9 111.6L928.4 109.1L929.2 107L930.2 105.1L931.4 103.5L932.7 102.2L934.4 101.2L936.2 100.4L938.2 99.9L940.1 99.7L942 99.8L943.9 100.1L945.8 100.7L947.5 101.6L948.9 102.9L950.2 104.4L951.3 106.3L952.2 108.3L952.8 110.6L953.2 113.2L953.5 115.9L953.7 118.5L953.8 121.2L953.7 123.8L953.6 126.5L953.3 129.2L953 132.1L952.6 135.1L952 138L951.4 140.6L950.6 142.9L949.7 145L948.7 146.9L947.5 148.4L946 149.7L944.3 150.7L942.6 151.4L940.9 151.7L939.2 151.6L937.5 151.1L935.8 150.3L934.4 149.2L933.1 147.7L932 145.8L931.1 143.7L930.3 141.4L929.6 139.1L929.1 136.5L928.7 133.9L928.4 131.2L928.1 128.5L927.8 125.8L927.6 123Z" fill="#383838" fill-opacity="0.07" stroke="#6a6a6a" stroke-width="0.6" stroke-opacity=".8"/>
<path d="M928.9 119.8L928.9 117.2L929 114.6L929.2 112.1L929.7 109.9L930.3 108L931.2 106.3L932.3 104.9L933.5 103.7L935 102.8L936.7 102.1L938.4 101.7L940.1 101.5L941.8 101.5L943.6 101.8L945.2 102.4L946.7 103.2L948 104.3L949.2 105.7L950.2 107.4L951 109.2L951.5 111.2L951.9 113.5L952.1 115.9L952.3 118.3L952.4 120.7L952.3 123L952.2 125.4L952 127.8L951.7 130.4L951.3 133.1L950.8 135.8L950.2 138.1L949.5 140.2L948.7 142L947.8 143.7L946.7 145.1L945.4 146.2L943.9 147.1L942.4 147.7L940.9 148L939.4 147.9L937.8 147.5L936.3 146.8L935 145.8L933.9 144.4L932.9 142.7L932.1 140.8L931.3 138.8L930.8 136.7L930.3 134.4L930 132.1L929.7 129.7L929.4 127.3L929.1 124.8L929 122.3Z" fill="#383838" fill-opacity="0.07" stroke="#6a6a6a" stroke-width="0.6" stroke-opacity=".8"/>
<path d="M930.3 119.4L930.3 117.2L930.3 114.8L930.5 112.6L930.9 110.7L931.5 109L932.3 107.5L933.3 106.2L934.3 105.2L935.6 104.3L937.1 103.7L938.7 103.4L940.2 103.2L941.7 103.3L943.2 103.5L944.7 104L946 104.7L947.2 105.7L948.2 106.9L949.1 108.4L949.8 110L950.3 111.8L950.6 113.9L950.8 116L950.9 118.1L951 120.2L951 122.3L950.9 124.4L950.7 126.5L950.4 128.8L950.1 131.2L949.6 133.5L949.1 135.6L948.5 137.4L947.8 139.1L947 140.6L946 141.8L944.9 142.8L943.5 143.6L942.2 144.1L940.8 144.4L939.5 144.3L938.1 143.9L936.8 143.3L935.6 142.4L934.7 141.2L933.8 139.7L933 138L932.4 136.3L931.9 134.4L931.5 132.4L931.2 130.3L930.9 128.2L930.7 126L930.5 123.8L930.3 121.6Z" fill="#383838" fill-opacity="0.07" stroke="#6a6a6a" stroke-width="0.6" stroke-opacity=".8"/>
<path d="M931.6 119L931.6 117.1L931.6 115.1L931.8 113.1L932.1 111.4L932.7 109.9L933.4 108.6L934.2 107.5L935.1 106.6L936.3 105.9L937.5 105.4L938.9 105.1L940.2 104.9L941.5 105L942.9 105.2L944.2 105.6L945.3 106.2L946.3 107.1L947.2 108.2L948 109.4L948.6 110.8L949 112.4L949.3 114.2L949.5 116.1L949.6 117.9L949.7 119.7L949.6 121.5L949.5 123.4L949.4 125.3L949.1 127.3L948.8 129.3L948.5 131.4L948 133.2L947.5 134.8L946.9 136.2L946.1 137.5L945.3 138.5L944.3 139.4L943.2 140.1L942 140.6L940.8 140.8L939.6 140.7L938.4 140.4L937.3 139.9L936.3 139.1L935.4 138.1L934.6 136.8L934 135.3L933.4 133.7L933 132.1L932.6 130.3L932.4 128.5L932.1 126.7L931.9 124.8L931.7 122.9L931.6 121Z" fill="#383838" fill-opacity="0.07" stroke="#6a6a6a" stroke-width="0.6" stroke-opacity=".8"/>
<path d="M932.9 118.7L932.9 117L932.9 115.3L933.1 113.6L933.4 112.2L933.8 110.9L934.4 109.8L935.1 108.8L935.9 108.1L936.9 107.4L938 107L939.1 106.7L940.3 106.6L941.4 106.6L942.5 106.8L943.6 107.2L944.6 107.7L945.5 108.5L946.2 109.4L946.9 110.5L947.4 111.7L947.8 113L948 114.5L948.2 116.1L948.3 117.7L948.3 119.2L948.3 120.8L948.2 122.4L948.1 124L947.9 125.7L947.6 127.5L947.3 129.2L946.9 130.7L946.5 132.1L945.9 133.3L945.3 134.4L944.6 135.3L943.7 136.1L942.8 136.7L941.7 137.1L940.7 137.3L939.7 137.2L938.7 136.9L937.7 136.5L936.9 135.8L936.1 134.9L935.5 133.8L934.9 132.5L934.5 131.2L934.1 129.8L933.8 128.3L933.6 126.8L933.4 125.2L933.2 123.6L933 122L932.9 120.3Z" fill="#383838" fill-opacity="0.07" stroke="#6a6a6a" stroke-width="0.6" stroke-opacity=".8"/>
<path d="M934.2 118.3L934.2 116.9L934.2 115.5L934.3 114.1L934.6 112.9L934.9 111.8L935.4 110.9L936 110.1L936.7 109.5L937.5 109L938.4 108.6L939.4 108.4L940.3 108.3L941.2 108.3L942.2 108.5L943.1 108.8L943.9 109.2L944.6 109.8L945.3 110.6L945.8 111.5L946.2 112.5L946.6 113.6L946.8 114.9L946.9 116.2L947 117.5L947 118.8L947 120.1L946.9 121.4L946.8 122.7L946.6 124.1L946.4 125.6L946.2 127L945.8 128.3L945.5 129.5L945 130.5L944.5 131.4L943.9 132.1L943.2 132.8L942.4 133.3L941.5 133.6L940.7 133.8L939.9 133.7L939 133.5L938.2 133.1L937.5 132.5L936.9 131.8L936.3 130.9L935.9 129.8L935.5 128.7L935.2 127.6L934.9 126.3L934.7 125L934.6 123.7L934.4 122.4L934.3 121L934.2 119.7Z" fill="#383838" fill-opacity="0.07" stroke="#6a6a6a" stroke-width="0.6" stroke-opacity=".8"/>
<path d="M935.4 117.9L935.4 116.8L935.5 115.7L935.6 114.6L935.8 113.6L936.1 112.8L936.4 112L936.9 111.4L937.5 110.9L938.1 110.5L938.8 110.2L939.6 110L940.3 109.9L941.1 110L941.8 110.1L942.6 110.3L943.2 110.7L943.8 111.2L944.3 111.8L944.7 112.5L945.1 113.3L945.3 114.2L945.5 115.2L945.6 116.3L945.7 117.3L945.7 118.3L945.7 119.4L945.6 120.4L945.5 121.5L945.4 122.6L945.2 123.8L945 124.9L944.8 125.9L944.5 126.8L944.1 127.7L943.7 128.4L943.2 129L942.7 129.5L942 129.9L941.3 130.1L940.7 130.3L940 130.2L939.3 130.1L938.7 129.7L938.1 129.3L937.6 128.7L937.2 128L936.8 127.1L936.5 126.3L936.2 125.3L936 124.3L935.9 123.3L935.8 122.3L935.6 121.2L935.5 120.1L935.5 119Z" fill="#383838" fill-opacity="0.07" stroke="#6a6a6a" stroke-width="0.6" stroke-opacity=".8"/>
<path d="M936.7 117.6L936.7 116.7L936.7 115.9L936.8 115.1L937 114.3L937.2 113.7L937.5 113.2L937.8 112.7L938.2 112.3L938.7 112L939.2 111.8L939.8 111.6L940.4 111.6L940.9 111.6L941.5 111.7L942.1 111.9L942.5 112.1L943 112.5L943.3 113L943.7 113.5L943.9 114.1L944.1 114.8L944.2 115.5L944.3 116.3L944.4 117.1L944.4 117.9L944.4 118.6L944.3 119.4L944.3 120.2L944.2 121.1L944 121.9L943.9 122.8L943.7 123.6L943.5 124.2L943.2 124.9L942.9 125.4L942.5 125.8L942.1 126.2L941.6 126.5L941.1 126.7L940.6 126.8L940.1 126.8L939.6 126.6L939.1 126.4L938.7 126.1L938.3 125.6L938 125.1L937.7 124.5L937.5 123.8L937.3 123.1L937.2 122.4L937.1 121.6L937 120.8L936.9 120L936.8 119.2L936.7 118.4Z" fill="#383838" fill-opacity="0.07" stroke="#6a6a6a" stroke-width="0.6" stroke-opacity=".8"/>
<path d="M938 117.2L938 116.7L938 116.1L938 115.5L938.1 115.1L938.3 114.6L938.5 114.3L938.7 114L939 113.7L939.3 113.5L939.7 113.4L940 113.3L940.4 113.2L940.8 113.2L941.2 113.3L941.5 113.4L941.9 113.6L942.1 113.8L942.4 114.1L942.6 114.5L942.8 114.9L942.9 115.4L943 115.9L943 116.4L943.1 116.9L943.1 117.4L943.1 117.9L943.1 118.4L943 119L942.9 119.5L942.9 120.1L942.8 120.7L942.6 121.2L942.5 121.7L942.3 122.1L942.1 122.4L941.9 122.7L941.6 123L941.3 123.2L940.9 123.3L940.6 123.4L940.2 123.3L939.9 123.3L939.6 123.1L939.3 122.9L939.1 122.6L938.8 122.2L938.7 121.8L938.5 121.4L938.4 120.9L938.3 120.4L938.2 119.9L938.1 119.4L938.1 118.8L938 118.3L938 117.8Z" fill="#383838" fill-opacity="0.07" stroke="#6a6a6a" stroke-width="0.6" stroke-opacity=".8"/>
<path d="M939.2 116.9L939.2 116.6L939.2 116.3L939.3 116L939.3 115.8L939.4 115.6L939.5 115.4L939.6 115.2L939.7 115.1L939.9 115L940.1 114.9L940.3 114.9L940.5 114.9L940.6 114.9L940.8 114.9L941 115L941.2 115L941.3 115.2L941.4 115.3L941.6 115.5L941.6 115.7L941.7 115.9L941.7 116.2L941.8 116.4L941.8 116.7L941.8 117L941.8 117.2L941.8 117.5L941.8 117.7L941.7 118L941.7 118.3L941.6 118.6L941.6 118.9L941.5 119.1L941.4 119.3L941.3 119.5L941.2 119.6L941 119.7L940.9 119.8L940.7 119.9L940.5 119.9L940.4 119.9L940.2 119.9L940 119.8L939.9 119.7L939.8 119.6L939.7 119.4L939.6 119.2L939.5 118.9L939.4 118.7L939.4 118.5L939.3 118.2L939.3 117.9L939.3 117.7L939.3 117.4L939.2 117.1Z" fill="#383838" fill-opacity="0.07" stroke="#6a6a6a" stroke-width="0.6" stroke-opacity=".8"/>
<ellipse cx="940.5" cy="115" rx="1.0" ry="4.5" transform="rotate(0 940.5 115)" fill="#fff" fill-opacity="0.85"/>
</g>
<path d="M901 141.8H1063" stroke="#777" stroke-width="1.3" fill="none"/>
<rect x="899.5" y="39.1" width="165.3" height="164.3" fill="none" stroke="#4a71b9" stroke-width="4"/>
<text x="1058.2" y="59.8" font-size="20.1" fill="#111" text-anchor="end" stroke="#111" stroke-width=".3">Rest. swM</text>
<text x="1059.3" y="197.8" font-size="20.1" fill="#111" text-anchor="end" stroke="#111" stroke-width=".3">Act. swM</text>
<text x="1194" y="30.3" font-size="20.1" fill="#111" text-anchor="middle" stroke="#111" stroke-width=".3">DN</text>
<text x="1194" y="231" font-size="20.1" fill="#111" text-anchor="middle" stroke="#111" stroke-width=".3">FcRL5</text>
<text x="1096" y="119.5" font-size="20.1" fill="#111" text-anchor="middle" transform="rotate(-90 1096 119.5)" stroke="#111" stroke-width=".3">CXCR5</text>
<path d="M1109.3 55h-4.6M1109.3 86h-4.6M1109.3 123h-4.6M1109.3 195h-4.6M1109.3 45.7h-2.3M1109.3 40.2h-2.3M1109.3 76.7h-2.3M1109.3 71.2h-2.3M1109.3 67.3h-2.3M1109.3 64.3h-2.3M1109.3 61.9h-2.3M1109.3 59.8h-2.3M1109.3 58h-2.3M1109.3 56.4h-2.3M1109.3 111.9h-2.3M1109.3 105.3h-2.3M1109.3 100.7h-2.3M1109.3 97.1h-2.3M1109.3 94.2h-2.3M1109.3 91.7h-2.3M1109.3 89.6h-2.3M1109.3 87.7h-2.3M1109.3 132.5h-2.3M1109.3 186.1h-2.3M1109.3 138h-2.3M1109.3 180.9h-2.3M1109.3 142h-2.3M1109.3 177.2h-2.3M1109.3 145h-2.3M1109.3 174.4h-2.3M1109.3 147.5h-2.3M1109.3 172h-2.3M1109.3 149.6h-2.3M1109.3 170.1h-2.3M1109.3 151.4h-2.3M1109.3 168.4h-2.3M1109.3 153.1h-2.3M1109.3 166.8h-2.3M1117.5 203v4.6M1187.6 203v4.6M1224.7 203v4.6M1254.4 203v4.6M1263.3 203v2.3M1268.6 203v2.3M1272.3 203v2.3M1126.3 203v2.3M1166.6 203v2.3M1131.4 203v2.3M1171.9 203v2.3M1135 203v2.3M1175.6 203v2.3M1137.8 203v2.3M1178.6 203v2.3M1140.1 203v2.3M1180.9 203v2.3M1142 203v2.3M1183 203v2.3M1143.7 203v2.3M1184.7 203v2.3M1145.2 203v2.3M1186.2 203v2.3M1198.8 203v2.3M1205.3 203v2.3M1210 203v2.3M1213.6 203v2.3M1216.5 203v2.3M1219 203v2.3M1221.1 203v2.3M1223 203v2.3M1233.7 203v2.3M1238.9 203v2.3M1242.6 203v2.3M1245.5 203v2.3M1247.8 203v2.3M1249.8 203v2.3M1251.5 203v2.3M1253.1 203v2.3" fill="none" stroke="#444" stroke-width="0.9"/>
<path d="M1109.3 155.8h-4.6M1109.3 158.6h-3.6M1109.3 161.4h-4.6M1109.3 164.2h-3.6M1147.8 203v3.6M1150.6 203v4.6M1153.4 203v3.6M1156.2 203v4.6" fill="none" stroke="#111" stroke-width="2.5"/>
<g filter="url(#bl)">
<path d="M1140.7 143.5h1.35v1.35h-1.35zM1158.6 144.6h1.35v1.35h-1.35zM1164.5 111.7h1.35v1.35h-1.35zM1196.4 146.3h1.35v1.35h-1.35zM1167.7 126.2h1.35v1.35h-1.35zM1160.2 129.7h1.35v1.35h-1.35zM1180.4 161.2h1.35v1.35h-1.35zM1149.5 117.7h1.35v1.35h-1.35zM1164.9 135.9h1.35v1.35h-1.35zM1174 152.9h1.35v1.35h-1.35zM1171.3 163.6h1.35v1.35h-1.35zM1165.8 129.4h1.35v1.35h-1.35zM1155 146.5h1.35v1.35h-1.35zM1142.2 145.8h1.35v1.35h-1.35zM1157.8 116.9h1.35v1.35h-1.35zM1151.4 96.2h1.35v1.35h-1.35zM1169.9 100.6h1.35v1.35h-1.35zM1158 152.3h1.35v1.35h-1.35zM1168.1 142.1h1.35v1.35h-1.35zM1136.9 112.6h1.35v1.35h-1.35zM1174 126.9h1.35v1.35h-1.35zM1147.8 131.8h1.35v1.35h-1.35zM1137.6 132.7h1.35v1.35h-1.35zM1140.2 139.4h1.35v1.35h-1.35zM1176.1 124h1.35v1.35h-1.35zM1170.2 142.9h1.35v1.35h-1.35zM1143.2 124.2h1.35v1.35h-1.35zM1161.2 127.1h1.35v1.35h-1.35zM1158.5 122h1.35v1.35h-1.35zM1137.5 135.3h1.35v1.35h-1.35zM1145.8 128.7h1.35v1.35h-1.35zM1130.8 147.1h1.35v1.35h-1.35zM1147.5 144.3h1.35v1.35h-1.35zM1122 121.7h1.35v1.35h-1.35zM1148.6 179.2h1.35v1.35h-1.35zM1146.6 116.1h1.35v1.35h-1.35zM1148.6 147.3h1.35v1.35h-1.35zM1148.2 184.3h1.35v1.35h-1.35zM1176.6 125.4h1.35v1.35h-1.35zM1155 167.1h1.35v1.35h-1.35zM1163.5 169h1.35v1.35h-1.35zM1170.8 146.9h1.35v1.35h-1.35zM1172.9 102.2h1.35v1.35h-1.35zM1169.8 169h1.35v1.35h-1.35zM1152.1 141.9h1.35v1.35h-1.35zM1144.3 128.8h1.35v1.35h-1.35zM1148.8 166.1h1.35v1.35h-1.35zM1153.2 125.2h1.35v1.35h-1.35zM1160.1 161.7h1.35v1.35h-1.35zM1158.8 128.8h1.35v1.35h-1.35zM1175.7 150.9h1.35v1.35h-1.35zM1158.5 118h1.35v1.35h-1.35zM1185.7 131.9h1.35v1.35h-1.35zM1174.8 121.3h1.35v1.35h-1.35zM1153.1 125.4h1.35v1.35h-1.35zM1172.3 143.8h1.35v1.35h-1.35zM1118.8 136.5h1.35v1.35h-1.35zM1179.7 143.8h1.35v1.35h-1.35zM1165.9 166.2h1.35v1.35h-1.35zM1165.7 137.6h1.35v1.35h-1.35zM1135.9 102h1.35v1.35h-1.35zM1196.1 134.1h1.35v1.35h-1.35zM1156.4 141.6h1.35v1.35h-1.35zM1157.9 160.8h1.35v1.35h-1.35zM1176.1 161.1h1.35v1.35h-1.35zM1157.2 159.4h1.35v1.35h-1.35zM1147.8 135.3h1.35v1.35h-1.35zM1169.4 153.2h1.35v1.35h-1.35zM1145.5 110.5h1.35v1.35h-1.35zM1170.6 166.4h1.35v1.35h-1.35zM1162 148.9h1.35v1.35h-1.35zM1176.1 150.4h1.35v1.35h-1.35zM1142.7 132.2h1.35v1.35h-1.35zM1177.8 141.1h1.35v1.35h-1.35zM1164.2 126.3h1.35v1.35h-1.35zM1188.3 151.6h1.35v1.35h-1.35zM1150.7 112.9h1.35v1.35h-1.35zM1186.6 159.8h1.35v1.35h-1.35zM1170.1 151.1h1.35v1.35h-1.35zM1171.3 181.4h1.35v1.35h-1.35zM1149.6 139.2h1.35v1.35h-1.35zM1168 138.1h1.35v1.35h-1.35zM1169.6 143.9h1.35v1.35h-1.35zM1148.1 140.7h1.35v1.35h-1.35zM1143.4 137.8h1.35v1.35h-1.35zM1148.9 117.5h1.35v1.35h-1.35zM1180.9 117.4h1.35v1.35h-1.35zM1162.2 128.4h1.35v1.35h-1.35zM1173.4 134.1h1.35v1.35h-1.35zM1164.1 115.7h1.35v1.35h-1.35zM1161.7 116.3h1.35v1.35h-1.35zM1163.2 134.2h1.35v1.35h-1.35zM1154.1 155.1h1.35v1.35h-1.35zM1177.5 136.1h1.35v1.35h-1.35zM1158.5 153.8h1.35v1.35h-1.35zM1160.9 160.4h1.35v1.35h-1.35zM1159.3 152.9h1.35v1.35h-1.35zM1149.6 172.9h1.35v1.35h-1.35zM1149.7 167.8h1.35v1.35h-1.35zM1137.8 158.9h1.35v1.35h-1.35zM1147.4 142.9h1.35v1.35h-1.35zM1156.8 167h1.35v1.35h-1.35zM1144.1 169h1.35v1.35h-1.35zM1164.1 159.3h1.35v1.35h-1.35zM1164.7 147.1h1.35v1.35h-1.35zM1150 164.4h1.35v1.35h-1.35zM1160.5 170.7h1.35v1.35h-1.35zM1141.4 140.4h1.35v1.35h-1.35zM1144.4 165.8h1.35v1.35h-1.35zM1150 141.5h1.35v1.35h-1.35zM1153.1 160.8h1.35v1.35h-1.35zM1151.5 177.8h1.35v1.35h-1.35zM1146 160.9h1.35v1.35h-1.35zM1169.1 164.9h1.35v1.35h-1.35zM1155.4 156.7h1.35v1.35h-1.35zM1155.3 159.9h1.35v1.35h-1.35zM1158.6 184h1.35v1.35h-1.35zM1154.4 173.6h1.35v1.35h-1.35zM1151.1 156.8h1.35v1.35h-1.35zM1148.5 156.1h1.35v1.35h-1.35zM1139.6 160.2h1.35v1.35h-1.35zM1165.2 182.4h1.35v1.35h-1.35zM1145.5 162.1h1.35v1.35h-1.35zM1139.4 171.3h1.35v1.35h-1.35zM1146.4 156.3h1.35v1.35h-1.35zM1139.9 147h1.35v1.35h-1.35zM1169.3 173.5h1.35v1.35h-1.35zM1156 159.2h1.35v1.35h-1.35zM1164.5 152h1.35v1.35h-1.35zM1164.9 152.9h1.35v1.35h-1.35zM1157.6 153.2h1.35v1.35h-1.35zM1157.7 153.8h1.35v1.35h-1.35zM1147.1 144.3h1.35v1.35h-1.35zM1152.3 172.2h1.35v1.35h-1.35z" fill="#777" fill-opacity="0.5"/>
<path d="M1133.6 108h1.35v1.35h-1.35zM1171.8 112.7h1.35v1.35h-1.35zM1150.3 147.1h1.35v1.35h-1.35zM1137.1 102h1.35v1.35h-1.35zM1169.6 111.7h1.35v1.35h-1.35zM1168.4 129.1h1.35v1.35h-1.35zM1134.5 112.5h1.35v1.35h-1.35zM1151.9 150.3h1.35v1.35h-1.35zM1141 134.6h1.35v1.35h-1.35zM1165.8 99.4h1.35v1.35h-1.35zM1161.6 138h1.35v1.35h-1.35zM1163.8 132.6h1.35v1.35h-1.35zM1154.3 147.6h1.35v1.35h-1.35zM1158.4 145.4h1.35v1.35h-1.35zM1170.2 119.4h1.35v1.35h-1.35zM1172.2 114.7h1.35v1.35h-1.35zM1142.2 136.5h1.35v1.35h-1.35zM1140.8 132.6h1.35v1.35h-1.35zM1141.4 138.4h1.35v1.35h-1.35zM1140.7 96.7h1.35v1.35h-1.35zM1137.1 122.5h1.35v1.35h-1.35zM1158.9 95.2h1.35v1.35h-1.35zM1156.2 148h1.35v1.35h-1.35zM1169.1 118.7h1.35v1.35h-1.35zM1168.4 121.8h1.35v1.35h-1.35zM1164.7 132.2h1.35v1.35h-1.35zM1167.5 98.9h1.35v1.35h-1.35zM1135.6 108.1h1.35v1.35h-1.35zM1169.6 104.8h1.35v1.35h-1.35zM1149.9 147h1.35v1.35h-1.35zM1169.1 106.7h1.35v1.35h-1.35zM1160.6 142h1.35v1.35h-1.35zM1166.8 129.6h1.35v1.35h-1.35zM1140.8 132h1.35v1.35h-1.35zM1170.2 107h1.35v1.35h-1.35zM1143.1 142.4h1.35v1.35h-1.35zM1171.1 117.3h1.35v1.35h-1.35zM1170.3 111.5h1.35v1.35h-1.35zM1139.1 97.2h1.35v1.35h-1.35zM1145.6 146.8h1.35v1.35h-1.35zM1160.2 94.1h1.35v1.35h-1.35zM1149 147.3h1.35v1.35h-1.35zM1170.3 103.5h1.35v1.35h-1.35zM1145.6 142.8h1.35v1.35h-1.35zM1166.5 96.1h1.35v1.35h-1.35zM1152.2 150.4h1.35v1.35h-1.35zM1137.5 127.6h1.35v1.35h-1.35zM1156.1 145.8h1.35v1.35h-1.35zM1150.5 146.8h1.35v1.35h-1.35zM1137.7 123.4h1.35v1.35h-1.35zM1143.3 138.3h1.35v1.35h-1.35zM1167.4 101.3h1.35v1.35h-1.35zM1152.5 90.3h1.35v1.35h-1.35zM1164.6 97.6h1.35v1.35h-1.35zM1139.6 98.3h1.35v1.35h-1.35zM1141.3 137.6h1.35v1.35h-1.35zM1141.4 133.6h1.35v1.35h-1.35zM1135.9 101.9h1.35v1.35h-1.35zM1139.9 129.9h1.35v1.35h-1.35zM1168.3 121.5h1.35v1.35h-1.35zM1143.5 93.6h1.35v1.35h-1.35zM1169.8 112.1h1.35v1.35h-1.35zM1169.9 116.7h1.35v1.35h-1.35zM1146 144.6h1.35v1.35h-1.35zM1147.5 145.6h1.35v1.35h-1.35zM1134.4 105.4h1.35v1.35h-1.35zM1137.7 99.1h1.35v1.35h-1.35zM1135.3 120.5h1.35v1.35h-1.35zM1168.4 103.9h1.35v1.35h-1.35zM1135 102.4h1.35v1.35h-1.35zM1159.7 141h1.35v1.35h-1.35zM1169.8 113.8h1.35v1.35h-1.35zM1157.7 94.4h1.35v1.35h-1.35zM1137.3 129.1h1.35v1.35h-1.35zM1142.6 136.2h1.35v1.35h-1.35zM1156.4 145.2h1.35v1.35h-1.35zM1150.5 147.1h1.35v1.35h-1.35zM1138.3 130.8h1.35v1.35h-1.35zM1167.3 100.8h1.35v1.35h-1.35zM1167 97.9h1.35v1.35h-1.35zM1151.2 147h1.35v1.35h-1.35zM1135.9 104.4h1.35v1.35h-1.35zM1167.5 101.1h1.35v1.35h-1.35zM1151 90.1h1.35v1.35h-1.35zM1143.4 95.5h1.35v1.35h-1.35zM1140.6 137.4h1.35v1.35h-1.35zM1169.9 123h1.35v1.35h-1.35zM1141.1 134.7h1.35v1.35h-1.35zM1158.4 145.8h1.35v1.35h-1.35zM1159 144.6h1.35v1.35h-1.35zM1169.7 114.9h1.35v1.35h-1.35zM1167.1 125.8h1.35v1.35h-1.35zM1142.1 137.5h1.35v1.35h-1.35zM1138 124.8h1.35v1.35h-1.35zM1165.8 97.8h1.35v1.35h-1.35zM1161.4 141.2h1.35v1.35h-1.35zM1141.1 133.4h1.35v1.35h-1.35zM1161.4 138.9h1.35v1.35h-1.35zM1165.3 135.5h1.35v1.35h-1.35zM1137.7 100.9h1.35v1.35h-1.35zM1161 96.4h1.35v1.35h-1.35zM1156 147.6h1.35v1.35h-1.35zM1141.8 136.2h1.35v1.35h-1.35zM1135.5 113.6h1.35v1.35h-1.35zM1167.7 124.9h1.35v1.35h-1.35zM1136.6 119.3h1.35v1.35h-1.35zM1166.5 130.1h1.35v1.35h-1.35zM1163.2 95.6h1.35v1.35h-1.35zM1155.5 147.3h1.35v1.35h-1.35zM1164.4 132.6h1.35v1.35h-1.35zM1162 140.3h1.35v1.35h-1.35zM1141 133.1h1.35v1.35h-1.35zM1149.4 146h1.35v1.35h-1.35zM1142.6 95.2h1.35v1.35h-1.35zM1171.9 111h1.35v1.35h-1.35zM1142 135.1h1.35v1.35h-1.35zM1145.7 92.1h1.35v1.35h-1.35zM1135.7 105.5h1.35v1.35h-1.35zM1165.7 130.4h1.35v1.35h-1.35zM1160.8 143.3h1.35v1.35h-1.35z" fill="#555" fill-opacity="0.5"/>
<path d="M1135.8 112L1135.8 109.4L1136.1 106.9L1136.5 104.6L1137.3 102.5L1138.4 100.7L1139.7 99L1141.3 97.6L1143 96.5L1144.8 95.6L1146.8 95L1148.9 94.6L1151 94.5L1153.1 94.6L1155.3 94.9L1157.5 95.5L1159.5 96.3L1161.4 97.3L1163.2 98.6L1164.9 100.2L1166.3 102L1167.4 104.2L1168.3 106.7L1168.9 109.3L1169.2 112L1169.2 114.7L1168.8 117.5L1168.2 120.3L1167.5 123L1166.6 125.7L1165.5 128.4L1164.2 131L1163 133.5L1161.8 135.9L1160.6 138.1L1159.3 140.2L1158 142L1156.7 143.6L1155.3 145L1153.9 146L1152.5 146.5L1151.1 146.3L1149.7 145.6L1148.3 144.4L1147 143L1145.7 141.2L1144.4 139L1143.2 136.5L1142 134L1140.9 131.4L1139.8 128.6L1138.9 125.8L1138 123L1137.2 120.2L1136.6 117.4L1136 114.6Z" fill="#fff" stroke="#fff" stroke-width="1.6"/>
<path d="M1135.8 112L1135.8 109.4L1136.1 106.9L1136.5 104.6L1137.3 102.5L1138.4 100.7L1139.7 99L1141.3 97.6L1143 96.5L1144.8 95.6L1146.8 95L1148.9 94.6L1151 94.5L1153.1 94.6L1155.3 94.9L1157.5 95.5L1159.5 96.3L1161.4 97.3L1163.2 98.6L1164.9 100.2L1166.3 102L1167.4 104.2L1168.3 106.7L1168.9 109.3L1169.2 112L1169.2 114.7L1168.8 117.5L1168.2 120.3L1167.5 123L1166.6 125.7L1165.5 128.4L1164.2 131L1163 133.5L1161.8 135.9L1160.6 138.1L1159.3 140.2L1158 142L1156.7 143.6L1155.3 145L1153.9 146L1152.5 146.5L1151.1 146.3L1149.7 145.6L1148.3 144.4L1147 143L1145.7 141.2L1144.4 139L1143.2 136.5L1142 134L1140.9 131.4L1139.8 128.6L1138.9 125.8L1138 123L1137.2 120.2L1136.6 117.4L1136 114.6Z" fill="none" stroke="#6a6a6a" stroke-width="0.8"/>
<path d="M1137.5 111.8L1137.5 109.5L1137.7 107.3L1138.1 105.2L1138.8 103.3L1139.8 101.7L1141 100.2L1142.4 99L1143.9 97.9L1145.6 97.2L1147.4 96.6L1149.2 96.3L1151.1 96.2L1153 96.2L1155 96.5L1156.9 97L1158.7 97.8L1160.4 98.7L1162.1 99.9L1163.6 101.2L1164.8 102.9L1165.8 104.8L1166.6 107.1L1167.1 109.4L1167.4 111.8L1167.4 114.3L1167.1 116.7L1166.6 119.3L1165.9 121.7L1165.1 124.1L1164.1 126.6L1163 128.9L1161.9 131.1L1160.8 133.2L1159.7 135.3L1158.5 137.1L1157.4 138.7L1156.2 140.2L1154.9 141.4L1153.7 142.4L1152.4 142.8L1151.2 142.6L1150 142L1148.7 140.9L1147.5 139.6L1146.3 138L1145.2 136L1144.1 133.8L1143 131.6L1142 129.2L1141.1 126.8L1140.2 124.2L1139.4 121.7L1138.8 119.2L1138.2 116.7L1137.7 114.2Z" fill="#383838" fill-opacity="0.07" stroke="#6a6a6a" stroke-width="0.6" stroke-opacity=".8"/>
<path d="M1139 111.7L1139 109.6L1139.2 107.6L1139.6 105.8L1140.2 104.1L1141.1 102.6L1142.2 101.3L1143.4 100.2L1144.8 99.3L1146.3 98.6L1147.9 98.1L1149.5 97.8L1151.2 97.7L1152.9 97.8L1154.7 98L1156.4 98.5L1158 99.1L1159.5 100L1161 101L1162.3 102.2L1163.4 103.7L1164.3 105.4L1165 107.4L1165.5 109.6L1165.8 111.7L1165.7 113.9L1165.5 116.1L1165 118.3L1164.4 120.5L1163.7 122.7L1162.8 124.8L1161.8 126.9L1160.8 128.9L1159.8 130.8L1158.9 132.6L1157.8 134.3L1156.8 135.7L1155.7 137L1154.6 138.1L1153.5 138.9L1152.4 139.3L1151.3 139.2L1150.2 138.6L1149.1 137.7L1148 136.5L1146.9 135.1L1145.9 133.3L1144.9 131.3L1144 129.3L1143.1 127.2L1142.3 125L1141.5 122.7L1140.8 120.5L1140.2 118.3L1139.6 116L1139.2 113.8Z" fill="#383838" fill-opacity="0.07" stroke="#6a6a6a" stroke-width="0.6" stroke-opacity=".8"/>
<path d="M1140.5 111.6L1140.6 109.7L1140.7 108L1141.1 106.3L1141.6 104.8L1142.4 103.5L1143.3 102.4L1144.4 101.4L1145.6 100.6L1146.9 100L1148.3 99.6L1149.8 99.3L1151.3 99.2L1152.8 99.3L1154.4 99.5L1155.9 99.9L1157.3 100.5L1158.7 101.2L1160 102.1L1161.1 103.2L1162.1 104.5L1162.9 106L1163.5 107.8L1163.9 109.7L1164.2 111.6L1164.1 113.5L1163.9 115.4L1163.5 117.4L1163 119.3L1162.3 121.2L1161.5 123.2L1160.6 125L1159.8 126.8L1158.9 128.4L1158.1 130L1157.2 131.5L1156.2 132.8L1155.3 133.9L1154.3 134.9L1153.3 135.6L1152.4 135.9L1151.4 135.8L1150.4 135.3L1149.4 134.5L1148.5 133.5L1147.5 132.2L1146.6 130.6L1145.8 128.9L1144.9 127.1L1144.1 125.3L1143.4 123.3L1142.7 121.3L1142.1 119.3L1141.6 117.4L1141.1 115.4L1140.7 113.4Z" fill="#383838" fill-opacity="0.07" stroke="#6a6a6a" stroke-width="0.6" stroke-opacity=".8"/>
<path d="M1142 111.4L1142.1 109.8L1142.2 108.3L1142.5 106.9L1143 105.6L1143.6 104.5L1144.5 103.4L1145.4 102.6L1146.5 101.9L1147.6 101.4L1148.8 101L1150.1 100.7L1151.4 100.7L1152.7 100.7L1154 100.9L1155.4 101.3L1156.6 101.8L1157.8 102.4L1158.9 103.2L1159.9 104.2L1160.8 105.3L1161.5 106.6L1162 108.1L1162.4 109.8L1162.6 111.4L1162.6 113.1L1162.3 114.8L1162 116.5L1161.5 118.2L1161 119.8L1160.3 121.5L1159.5 123.1L1158.8 124.6L1158 126.1L1157.3 127.5L1156.5 128.8L1155.7 129.9L1154.9 130.8L1154 131.7L1153.2 132.3L1152.3 132.6L1151.5 132.5L1150.6 132.1L1149.7 131.4L1148.9 130.5L1148.1 129.4L1147.3 128L1146.6 126.5L1145.9 124.9L1145.2 123.3L1144.5 121.6L1143.9 119.9L1143.4 118.2L1142.9 116.5L1142.5 114.7L1142.2 113Z" fill="#383838" fill-opacity="0.07" stroke="#6a6a6a" stroke-width="0.6" stroke-opacity=".8"/>
<path d="M1143.5 111.3L1143.5 109.9L1143.6 108.6L1143.9 107.4L1144.3 106.3L1144.9 105.3L1145.6 104.5L1146.4 103.8L1147.3 103.2L1148.2 102.7L1149.3 102.4L1150.4 102.2L1151.5 102.1L1152.6 102.2L1153.7 102.3L1154.9 102.6L1155.9 103.1L1156.9 103.6L1157.9 104.3L1158.8 105.1L1159.5 106L1160.1 107.2L1160.5 108.5L1160.8 109.9L1161 111.3L1161 112.7L1160.8 114.2L1160.5 115.6L1160.1 117L1159.6 118.5L1159 119.9L1158.4 121.3L1157.8 122.5L1157.1 123.8L1156.5 125L1155.8 126.1L1155.1 127L1154.4 127.8L1153.7 128.6L1153 129.1L1152.3 129.4L1151.5 129.3L1150.8 128.9L1150.1 128.3L1149.4 127.5L1148.7 126.6L1148 125.4L1147.4 124.1L1146.8 122.8L1146.2 121.4L1145.6 120L1145.1 118.5L1144.7 117L1144.3 115.6L1143.9 114.1L1143.6 112.7Z" fill="#383838" fill-opacity="0.07" stroke="#6a6a6a" stroke-width="0.6" stroke-opacity=".8"/>
<path d="M1145 111.2L1145 110L1145.1 109L1145.3 107.9L1145.6 107L1146.1 106.2L1146.7 105.5L1147.4 104.9L1148.1 104.4L1148.9 104.1L1149.8 103.8L1150.7 103.6L1151.6 103.6L1152.5 103.6L1153.4 103.7L1154.4 104L1155.3 104.3L1156.1 104.8L1156.9 105.4L1157.6 106L1158.2 106.8L1158.7 107.8L1159.1 108.8L1159.3 110L1159.5 111.2L1159.4 112.3L1159.3 113.5L1159 114.7L1158.7 115.9L1158.3 117.1L1157.8 118.3L1157.3 119.4L1156.8 120.5L1156.2 121.5L1155.7 122.5L1155.2 123.4L1154.6 124.2L1154 124.9L1153.4 125.5L1152.8 125.9L1152.2 126.1L1151.6 126L1151 125.7L1150.4 125.2L1149.8 124.6L1149.3 123.8L1148.7 122.8L1148.2 121.8L1147.7 120.7L1147.2 119.6L1146.7 118.4L1146.3 117.1L1145.9 115.9L1145.6 114.7L1145.3 113.5L1145.1 112.3Z" fill="#383838" fill-opacity="0.07" stroke="#6a6a6a" stroke-width="0.6" stroke-opacity=".8"/>
<path d="M1146.4 111L1146.4 110.1L1146.5 109.3L1146.7 108.5L1146.9 107.7L1147.3 107.1L1147.8 106.6L1148.3 106.1L1148.9 105.7L1149.5 105.4L1150.2 105.2L1150.9 105L1151.7 105L1152.4 105L1153.1 105.1L1153.9 105.3L1154.6 105.6L1155.2 106L1155.9 106.4L1156.4 106.9L1156.9 107.6L1157.3 108.3L1157.6 109.2L1157.8 110.1L1157.9 111L1157.9 111.9L1157.8 112.9L1157.6 113.9L1157.3 114.8L1157 115.7L1156.6 116.7L1156.2 117.6L1155.8 118.4L1155.4 119.2L1154.9 120L1154.5 120.7L1154.1 121.3L1153.6 121.9L1153.1 122.4L1152.6 122.7L1152.2 122.9L1151.7 122.8L1151.2 122.6L1150.7 122.2L1150.3 121.7L1149.8 121.1L1149.4 120.3L1149 119.5L1148.6 118.6L1148.2 117.7L1147.8 116.7L1147.5 115.8L1147.2 114.8L1146.9 113.8L1146.7 112.9L1146.5 111.9Z" fill="#383838" fill-opacity="0.07" stroke="#6a6a6a" stroke-width="0.6" stroke-opacity=".8"/>
<path d="M1147.9 110.9L1147.9 110.2L1147.9 109.6L1148 109L1148.2 108.5L1148.5 108L1148.9 107.6L1149.3 107.2L1149.7 106.9L1150.2 106.7L1150.7 106.5L1151.2 106.4L1151.7 106.4L1152.3 106.4L1152.9 106.5L1153.4 106.7L1153.9 106.9L1154.4 107.1L1154.9 107.5L1155.3 107.9L1155.7 108.3L1155.9 108.9L1156.2 109.5L1156.3 110.2L1156.4 110.9L1156.4 111.6L1156.3 112.3L1156.2 113L1156 113.7L1155.7 114.4L1155.4 115.1L1155.1 115.7L1154.8 116.4L1154.5 117L1154.2 117.6L1153.9 118.1L1153.5 118.6L1153.2 119L1152.8 119.3L1152.5 119.6L1152.1 119.7L1151.8 119.7L1151.4 119.5L1151.1 119.2L1150.7 118.8L1150.4 118.3L1150.1 117.8L1149.7 117.2L1149.4 116.5L1149.2 115.8L1148.9 115.1L1148.6 114.4L1148.4 113.7L1148.2 113L1148.1 112.3L1147.9 111.6Z" fill="#383838" fill-opacity="0.07" stroke="#6a6a6a" stroke-width="0.6" stroke-opacity=".8"/>
<path d="M1149.3 110.8L1149.3 110.3L1149.3 109.9L1149.4 109.5L1149.5 109.2L1149.7 108.9L1149.9 108.6L1150.2 108.3L1150.5 108.2L1150.8 108L1151.1 107.9L1151.5 107.8L1151.8 107.8L1152.2 107.8L1152.6 107.9L1152.9 108L1153.3 108.1L1153.6 108.3L1153.9 108.5L1154.2 108.8L1154.4 109.1L1154.6 109.4L1154.7 109.9L1154.8 110.3L1154.9 110.8L1154.9 111.2L1154.8 111.7L1154.7 112.1L1154.6 112.6L1154.4 113L1154.3 113.5L1154 113.9L1153.8 114.4L1153.6 114.8L1153.4 115.1L1153.2 115.5L1153 115.8L1152.8 116L1152.6 116.3L1152.3 116.5L1152.1 116.5L1151.9 116.5L1151.6 116.4L1151.4 116.2L1151.2 115.9L1150.9 115.6L1150.7 115.3L1150.5 114.9L1150.3 114.4L1150.1 114L1150 113.5L1149.8 113.1L1149.7 112.6L1149.5 112.1L1149.4 111.7L1149.3 111.2Z" fill="#383838" fill-opacity="0.07" stroke="#6a6a6a" stroke-width="0.6" stroke-opacity=".8"/>
<path d="M1150.7 110.6L1150.7 110.4L1150.7 110.2L1150.8 110L1150.8 109.9L1150.9 109.7L1151 109.6L1151.1 109.5L1151.3 109.4L1151.4 109.3L1151.6 109.3L1151.8 109.2L1151.9 109.2L1152.1 109.2L1152.3 109.3L1152.4 109.3L1152.6 109.4L1152.8 109.4L1152.9 109.6L1153 109.7L1153.1 109.8L1153.2 110L1153.3 110.2L1153.4 110.4L1153.4 110.6L1153.4 110.8L1153.3 111.1L1153.3 111.3L1153.2 111.5L1153.2 111.7L1153.1 111.9L1153 112.1L1152.9 112.3L1152.8 112.5L1152.7 112.7L1152.6 112.9L1152.5 113L1152.4 113.1L1152.3 113.3L1152.2 113.3L1152 113.4L1151.9 113.4L1151.8 113.3L1151.7 113.2L1151.6 113.1L1151.5 113L1151.4 112.8L1151.3 112.6L1151.2 112.4L1151.1 112.2L1151 112L1150.9 111.7L1150.9 111.5L1150.8 111.3L1150.8 111.1L1150.7 110.8Z" fill="#383838" fill-opacity="0.07" stroke="#6a6a6a" stroke-width="0.6" stroke-opacity=".8"/>
<ellipse cx="1152" cy="110.5" rx="1.0" ry="3" transform="rotate(0 1152 110.5)" fill="#fff" fill-opacity="0.85"/>
</g>
<path d="M1111 137H1273M1161.2 40V203" stroke="#222" stroke-width="1.3" fill="none"/>
<rect x="1109.3" y="39.1" width="164.9" height="163.6" fill="none" stroke="#dc6a54" stroke-width="4"/>
<text x="1115.8" y="59.8" font-size="20.1" fill="#111" stroke="#111" stroke-width=".3">DN1</text>
<text x="1115.8" y="197.8" font-size="20.1" fill="#111" stroke="#111" stroke-width=".3">DN3</text>
<text x="1269.3" y="197.8" font-size="20.1" fill="#111" text-anchor="end" stroke="#111" stroke-width=".3">DN2</text>
<text x="1.8" y="320.2" font-size="31" fill="#000" font-weight="bold">B</text>
<rect x="125" y="332.8" width="73.3" height="219.6" fill="#000"/>
<rect x="127.9" y="335.5" width="67.5" height="3.6" fill="#dc6d3a"/>
<rect x="127.9" y="345.1" width="67.5" height="12.2" fill="#a6b8e4"/>
<rect x="127.9" y="361.1" width="67.5" height="8.9" fill="#fdb812"/>
<rect x="127.9" y="373.2" width="67.5" height="176.4" fill="#969696"/>
<rect x="235.2" y="329.9" width="73.2" height="222.5" fill="#000"/>
<rect x="238.1" y="332.6" width="67.4" height="1.9" fill="#dc6d3a"/>
<rect x="238.1" y="337.2" width="67.4" height="2.8" fill="#3a5fb4"/>
<rect x="238.1" y="342.9" width="67.4" height="20.1" fill="#a6b8e4"/>
<rect x="238.1" y="366.7" width="67.4" height="19.4" fill="#fdb812"/>
<rect x="238.1" y="389.7" width="67.4" height="159.9" fill="#969696"/>
<path d="M106.5 326V552.5M99 551H328.7" stroke="#000" stroke-width="3" fill="none"/>
<text x="97" y="557.3" font-size="18.2" fill="#111" text-anchor="end" stroke="#111" stroke-width=".3">0</text>
<text x="97" y="513" font-size="18.2" fill="#111" text-anchor="end" stroke="#111" stroke-width=".3">20</text>
<text x="97" y="468.6" font-size="18.2" fill="#111" text-anchor="end" stroke="#111" stroke-width=".3">40</text>
<text x="97" y="424.3" font-size="18.2" fill="#111" text-anchor="end" stroke="#111" stroke-width=".3">60</text>
<text x="97" y="380" font-size="18.2" fill="#111" text-anchor="end" stroke="#111" stroke-width=".3">80</text>
<text x="97" y="335.7" font-size="18.2" fill="#111" text-anchor="end" stroke="#111" stroke-width=".3">100</text>
<path d="M99 551h6.5M99 506.7h6.5M99 462.3h6.5M99 418h6.5M99 373.7h6.5M99 329.4h6.5M161.3 551v7M271.3 551v7" stroke="#000" stroke-width="3" fill="none"/>
<text x="161.3" y="577.3" font-size="18.8" fill="#111" text-anchor="middle" stroke="#111" stroke-width=".3">non-severe</text>
<text x="271.3" y="577.3" font-size="18.8" fill="#111" text-anchor="middle" stroke="#111" stroke-width=".3">severe</text>
<text x="53.5" y="438.5" font-size="18.3" fill="#111" text-anchor="middle" transform="rotate(-90 53.5 438.5)" stroke="#111" stroke-width=".3">% B cell subset</text>
<rect x="349" y="338.3" width="21.3" height="9" fill="#dc6d3a" stroke="#000" stroke-width="3"/>
<text x="385" y="348.8" font-size="18" fill="#111" stroke="#111" stroke-width=".3">DN B cells</text>
<rect x="349" y="368.6" width="21.3" height="9" fill="#3a5fb4" stroke="#000" stroke-width="3"/>
<text x="385" y="379.1" font-size="18" fill="#111" stroke="#111" stroke-width=".3">Activated swMBCs</text>
<rect x="349" y="398.8" width="21.3" height="9" fill="#a6b8e4" stroke="#000" stroke-width="3"/>
<text x="385" y="409.3" font-size="18" fill="#111" stroke="#111" stroke-width=".3">Resting swMBCs</text>
<rect x="349" y="429.1" width="21.3" height="9" fill="#fdb812" stroke="#000" stroke-width="3"/>
<text x="385" y="439.6" font-size="18" fill="#111" stroke="#111" stroke-width=".3">Unswitched MBCs</text>
<rect x="349" y="459.3" width="21.3" height="9" fill="#969696" stroke="#000" stroke-width="3"/>
<text x="385" y="469.8" font-size="18" fill="#111" stroke="#111" stroke-width=".3">Naive B cells</text>
<text x="559.5" y="320.2" font-size="31" fill="#000" font-weight="bold">C</text>
<path d="M634.6 343.6V551.2M625.5 550.4H840" stroke="#000" stroke-width="1.7" fill="none"/>
<text x="623.5" y="556.6" font-size="17.2" fill="#111" text-anchor="end" stroke="#111" stroke-width=".3">0</text>
<text x="623.5" y="453.7" font-size="17.2" fill="#111" text-anchor="end" stroke="#111" stroke-width=".3">10</text>
<text x="623.5" y="350.8" font-size="17.2" fill="#111" text-anchor="end" stroke="#111" stroke-width=".3">20</text>
<path d="M625.5 550.4H634.6M625.5 447.5H634.6M625.5 344.6H634.6M689.5 550.4V559.5M784.5 550.4V559.5" stroke="#000" stroke-width="1.7" fill="none"/>
<text x="689.8" y="578.2" font-size="20.3" fill="#111" text-anchor="middle" stroke="#111" stroke-width=".3">non-severe</text>
<text x="784.4" y="578.2" font-size="20.3" fill="#111" text-anchor="middle" stroke="#111" stroke-width=".3">severe</text>
<text x="593.5" y="446.6" font-size="19.7" fill="#111" text-anchor="middle" transform="rotate(-90 593.5 446.6)" stroke="#111" stroke-width=".3">% unswitched MBCs</text>
<path d="M689.5 424.3V477M670.8 424.3H709.3M673.8 510.6H710" stroke="#000" stroke-width="3" fill="none"/>
<rect x="652" y="477.2" width="75.8" height="29" fill="#a2a2a6" stroke="#000" stroke-width="3"/>
<path d="M652 492H727.8" stroke="#000" stroke-width="3" fill="none"/>
<circle cx="690" cy="424.2" r="4.15" fill="#62a0e0" stroke="#0b1626" stroke-width="1.8"/>
<circle cx="673.2" cy="477.8" r="4.15" fill="#62a0e0" stroke="#0b1626" stroke-width="1.8"/>
<circle cx="689.8" cy="475.3" r="4.15" fill="#62a0e0" stroke="#0b1626" stroke-width="1.8"/>
<circle cx="689.8" cy="484.4" r="4.15" fill="#62a0e0" stroke="#0b1626" stroke-width="1.8"/>
<circle cx="706.9" cy="499.2" r="4.15" fill="#62a0e0" stroke="#0b1626" stroke-width="1.8"/>
<circle cx="689.8" cy="505.8" r="4.15" fill="#62a0e0" stroke="#0b1626" stroke-width="1.8"/>
<circle cx="706.9" cy="509.4" r="4.15" fill="#62a0e0" stroke="#0b1626" stroke-width="1.8"/>
<circle cx="673.2" cy="511.5" r="4.15" fill="#62a0e0" stroke="#0b1626" stroke-width="1.8"/>
<path d="M765.5 413.3H803.8M765.5 457H803.8M784.5 452V457" stroke="#000" stroke-width="3" fill="none"/>
<rect x="747" y="417.2" width="75.3" height="33.3" fill="#a2a2a6" stroke="#000" stroke-width="3"/>
<path d="M747 446H822.3" stroke="#000" stroke-width="3" fill="none"/>
<circle cx="776.3" cy="414" r="4.15" fill="#d61f22" stroke="#2a0808" stroke-width="1.8"/>
<circle cx="792.6" cy="418.6" r="4.15" fill="#d61f22" stroke="#2a0808" stroke-width="1.8"/>
<circle cx="776.3" cy="444.6" r="4.15" fill="#d61f22" stroke="#2a0808" stroke-width="1.8"/>
<circle cx="792.6" cy="446.6" r="4.15" fill="#d61f22" stroke="#2a0808" stroke-width="1.8"/>
<circle cx="784.6" cy="457.3" r="4.15" fill="#d61f22" stroke="#2a0808" stroke-width="1.8"/>
<path d="M689.3 401.3V389.5H785V401.3" stroke="#333" stroke-width="1" fill="none"/>
<text x="736.8" y="386.8" font-size="24" fill="#000" text-anchor="middle" font-weight="bold">*</text>
<text x="873.8" y="320.2" font-size="31" fill="#000" font-weight="bold">D</text>
<rect x="979.5" y="330.2" width="74.3" height="222.2" fill="#000"/>
<rect x="982.4" y="332.9" width="68.5" height="26.4" fill="#fda24a"/>
<rect x="982.4" y="363" width="68.5" height="8.3" fill="#f96611"/>
<rect x="982.4" y="374.9" width="68.5" height="174.7" fill="#c16004"/>
<rect x="1091.3" y="327.9" width="74.7" height="224.5" fill="#000"/>
<rect x="1094.2" y="330.6" width="68.9" height="26.7" fill="#fda24a"/>
<rect x="1094.2" y="360.6" width="68.9" height="2.7" fill="#f96611"/>
<rect x="1094.2" y="366.4" width="68.9" height="183.2" fill="#c16004"/>
<path d="M960.5 326V552.5M953 551H1186.3" stroke="#000" stroke-width="3" fill="none"/>
<text x="951" y="557.3" font-size="18.2" fill="#111" text-anchor="end" stroke="#111" stroke-width=".3">0</text>
<text x="951" y="513" font-size="18.2" fill="#111" text-anchor="end" stroke="#111" stroke-width=".3">20</text>
<text x="951" y="468.6" font-size="18.2" fill="#111" text-anchor="end" stroke="#111" stroke-width=".3">40</text>
<text x="951" y="424.3" font-size="18.2" fill="#111" text-anchor="end" stroke="#111" stroke-width=".3">60</text>
<text x="951" y="380" font-size="18.2" fill="#111" text-anchor="end" stroke="#111" stroke-width=".3">80</text>
<text x="951" y="335.7" font-size="18.2" fill="#111" text-anchor="end" stroke="#111" stroke-width=".3">100</text>
<path d="M953 551h6.5M953 506.7h6.5M953 462.3h6.5M953 418h6.5M953 373.7h6.5M953 329.4h6.5M1016.3 551v7M1128.3 551v7" stroke="#000" stroke-width="3" fill="none"/>
<text x="1016.3" y="577.3" font-size="18.8" fill="#111" text-anchor="middle" stroke="#111" stroke-width=".3">non-severe</text>
<text x="1128.3" y="577.3" font-size="18.8" fill="#111" text-anchor="middle" stroke="#111" stroke-width=".3">severe</text>
<text x="907" y="438.5" font-size="18.3" fill="#111" text-anchor="middle" transform="rotate(-90 907 438.5)" stroke="#111" stroke-width=".3">% B cell subset</text>
<rect x="1199" y="338.3" width="21.5" height="9" fill="#fda24a" stroke="#000" stroke-width="3"/>
<text x="1234.5" y="348.8" font-size="18" fill="#111" stroke="#111" stroke-width=".3">DN3</text>
<rect x="1199" y="368.1" width="21.5" height="9" fill="#f96611" stroke="#000" stroke-width="3"/>
<text x="1234.5" y="378.6" font-size="18" fill="#111" stroke="#111" stroke-width=".3">DN2</text>
<rect x="1199" y="397.9" width="21.5" height="9" fill="#c16004" stroke="#000" stroke-width="3"/>
<text x="1234.5" y="408.4" font-size="18" fill="#111" stroke="#111" stroke-width=".3">DN1</text>
</svg></body></html>
